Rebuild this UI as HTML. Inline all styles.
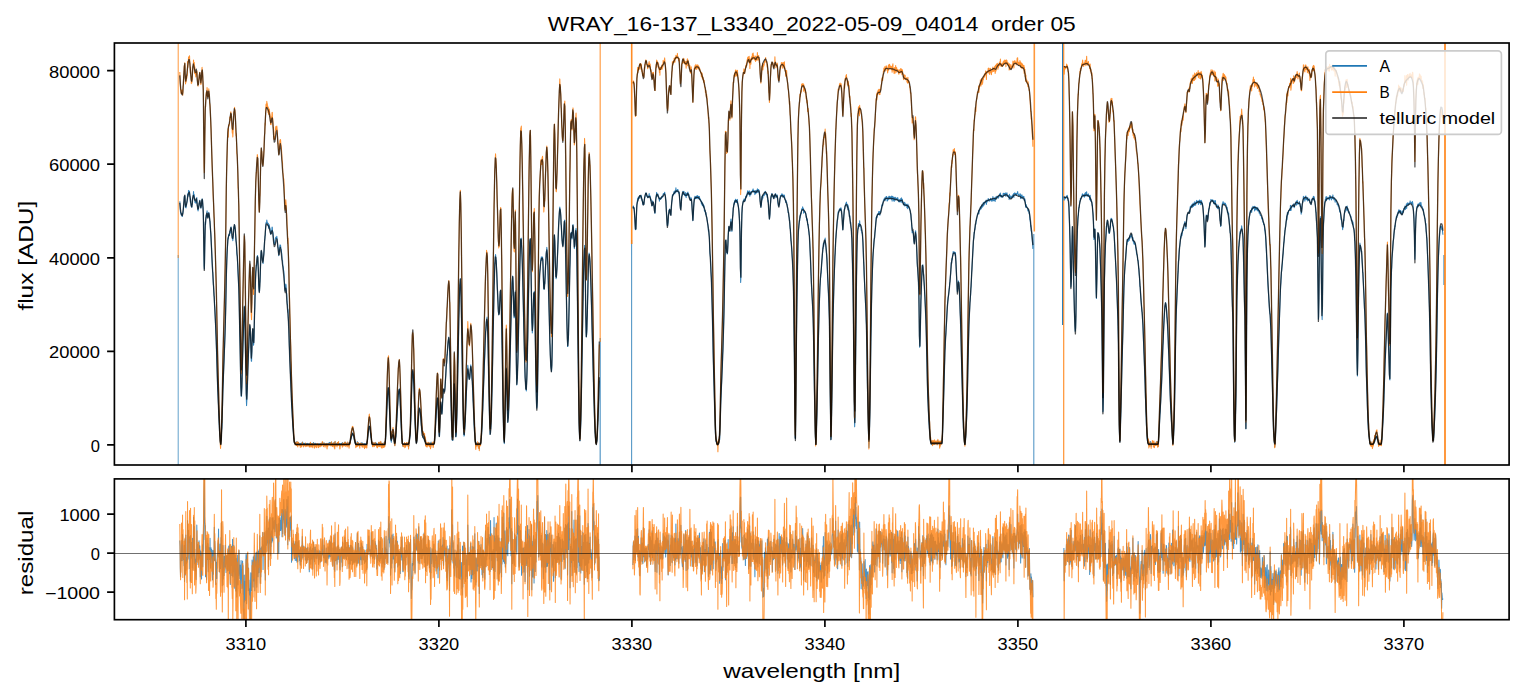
<!DOCTYPE html>
<html><head><meta charset="utf-8"><title>plot</title><style>html,body{margin:0;padding:0;background:#fff;overflow:hidden}svg{display:block}</style></head><body>
<svg width="1523" height="696" viewBox="0 0 1523 696" font-family="'Liberation Sans', sans-serif" fill="#000">
<rect width="1523" height="696" fill="#fff"/>
<defs><clipPath id="cm"><rect x="114.4" y="43.0" width="1394.6999999999998" height="422.0"/></clipPath><clipPath id="cr"><rect x="114.4" y="478.9" width="1394.6999999999998" height="140.80000000000007"/></clipPath></defs>
<g clip-path="url(#cm)" fill="none" stroke-linejoin="round">
<line x1="178.2" y1="255" x2="178.2" y2="465.0" stroke="#1f77b4" stroke-width="1.0" opacity="0.7"/><line x1="178.2" y1="43.0" x2="178.2" y2="258" stroke="#ff7f0e" stroke-width="1.0" opacity="0.8"/><line x1="600.2" y1="338" x2="600.2" y2="465.0" stroke="#1f77b4" stroke-width="1.25" opacity="0.72"/><line x1="600.2" y1="43.0" x2="600.2" y2="342" stroke="#ff7f0e" stroke-width="1.25" opacity="0.72"/><line x1="631.6" y1="240" x2="631.6" y2="465.0" stroke="#1f77b4" stroke-width="1.1" opacity="0.75"/><line x1="631.7" y1="43.0" x2="631.7" y2="244" stroke="#ff7f0e" stroke-width="1.6" opacity="0.9"/><line x1="1033.8" y1="234" x2="1033.8" y2="465.0" stroke="#1f77b4" stroke-width="1.1" opacity="0.75"/><line x1="1034.3" y1="43.0" x2="1034.3" y2="231.5" stroke="#ff7f0e" stroke-width="1.6" opacity="0.8"/><line x1="1062.6" y1="43.0" x2="1062.6" y2="325" stroke="#1f77b4" stroke-width="1.2" opacity="0.95"/><line x1="1063.7" y1="43.0" x2="1063.7" y2="465.0" stroke="#ff7f0e" stroke-width="1.2" opacity="0.85"/><line x1="1443.9" y1="255" x2="1443.9" y2="285" stroke="#1f77b4" stroke-width="1.25" opacity="0.72"/><line x1="1445.0" y1="43.0" x2="1445.0" y2="465.0" stroke="#ff7f0e" stroke-width="1.6" opacity="1.0"/>
<g stroke="#1f77b4" stroke-width="1.05" opacity="0.9"><path d="M179.8,201.4L180.05,204.9L180.3,209.9L180.55,213L180.8,212.7L181.05,214.1L181.3,215L181.55,214L181.8,213.8L182.05,216.3L182.3,216.5L182.55,213.1L182.8,213.4L183.05,211.7L183.3,209.4L183.55,206.7L183.8,203.2L184.05,201.3L184.3,196.4L184.55,199.1L184.8,195.5L185.05,196.8L185.3,207.2L185.55,207.3L185.8,204.4L186.05,208L186.3,205.5L186.55,205L186.8,202.8L187.05,202L187.3,200.2L187.55,193.9L187.8,196.4L188.05,195.9L188.3,194.5L188.55,190.4L188.8,191.2L189.05,190.9L189.3,191.2L189.55,191.4L189.8,196.7L190.05,196.4L190.3,202.1L190.55,198.7L190.8,203.4L191.05,204.6L191.3,206.4L191.55,205.5L191.8,207.4L192.05,204.5L192.3,204.5L192.55,198.1L192.8,199.3L193.05,196.7L193.3,194.7L193.55,191.5L193.8,196.7L194.05,195.5L194.3,194.8L194.55,200.2L194.8,199.3L195.05,202.6L195.3,201.7L195.55,202L195.8,203.2L196.05,202.6L196.3,198.8L196.55,200.3L196.8,197.6L197.05,202.2L197.3,205.8L197.55,206.7L197.8,209.1L198.05,210.9L198.3,209.3L198.55,208.6L198.8,206.1L199.05,203L199.3,203.5L199.55,200.8L199.8,200.2L200.05,202.2L200.3,206.2L200.55,205.7L200.8,207.7L201.05,208.1L201.3,205.7L201.55,205.9L201.8,200.9L202.05,198.8L202.3,200.4L202.55,200.1L202.8,205.8L203.05,207.4L203.3,213.7L203.55,222.6L203.8,244.2L204.05,265.9L204.3,269.1L204.55,262.5L204.8,244.3L205.05,230.2L205.3,221.9L205.55,224.7L205.8,218.4L206.05,217.2L206.3,214.9L206.55,217.1L206.8,213.6L207.05,210.7L207.3,213L207.55,217.2L207.8,217L208.05,216.2L208.3,217.3L208.55,214.2L208.8,212.4L209.05,213.6L209.3,216.3L209.55,218.3L209.8,221L210.05,221.4L210.3,227.4L210.55,231.1L210.8,233.8L211.05,237.4L211.3,243.8L211.55,248.6L211.8,254.7L212.05,260.9L212.3,266.6L212.55,271.8L212.8,272.7L213.05,278.9L213.3,284.3L213.55,286L213.8,291.4L214.05,295.4L214.3,296.8L214.55,305.3L214.8,307.6L215.05,312.9L215.3,319.1L215.55,324.7L215.8,332.7L216.05,336.9L216.3,344.4L216.55,350.7L216.8,361.1L217.05,367.7L217.3,375.6L217.55,383.8L217.8,390.2L218.05,395.6L218.3,401.7L218.55,405.8L218.8,415L219.05,420.4L219.3,425.8L219.55,433.1L219.8,435.6L220.05,437.8L220.3,442.8L220.55,445.1L220.8,444.8L221.05,440.8L221.3,440L221.55,430.4L221.8,428.3L222.05,421.9L222.3,414.8L222.55,405L222.8,392.4L223.05,384.3L223.3,380.9L223.55,372.7L223.8,366L224.05,361.3L224.3,352.8L224.55,347.3L224.8,339.7L225.05,333.5L225.3,322.9L225.55,315.1L225.8,304.2L226.05,291.3L226.3,276.4L226.55,268.3L226.8,260.5L227.05,253.8L227.3,249.2L227.55,245.5L227.8,241.3L228.05,237.8L228.3,239L228.55,235.8L228.8,234.4L229.05,234.9L229.3,235.1L229.55,235.6L229.8,231L230.05,231.5L230.3,233.1L230.55,228.7L230.8,228.8L231.05,226.8L231.3,227.7L231.55,229.2L231.8,235.3L232.05,236.7L232.3,238.9L232.55,236.7L232.8,240.8L233.05,238.3L233.3,235.9L233.55,232L233.8,226.9L234.05,226.7L234.3,228.5L234.55,224.5L234.8,226.4L235.05,227.2L235.3,229.5L235.55,234.8L235.8,239.8L236.05,241.8L236.3,242.7L236.55,247.5L236.8,254L237.05,255.1L237.3,256.4L237.55,262.2L237.8,267.7L238.05,273.7L238.3,278L238.55,284.1L238.8,288.5L239.05,296.5L239.3,310.1L239.55,323L239.8,336.3L240.05,346.1L240.3,359.3L240.55,375.3L240.8,386.4L241.05,392.5L241.3,396.4L241.55,395.4L241.8,388.6L242.05,381.7L242.3,371.4L242.55,358.5L242.8,351.5L243.05,342.8L243.3,337L243.55,327.1L243.8,321.1L244.05,315.6L244.3,306.1L244.55,309.5L244.8,315.6L245.05,327.6L245.3,344.7L245.55,356.3L245.8,367.9L246.05,381L246.3,398.2L246.55,405.6L246.8,400.9L247.05,394.5L247.3,387.3L247.55,380.1L247.8,371.7L248.05,365.5L248.3,360.2L248.55,351.5L248.8,346.9L249.05,340L249.3,334.9L249.55,329.9L249.8,325.3L250.05,327.4L250.3,332.5L250.55,337L250.8,345.9L251.05,355.1L251.3,361.1L251.55,361.3L251.8,354.9L252.05,343.4L252.3,336.9L252.55,329.5L252.8,329.1L253.05,337.2L253.3,340.5L253.55,345.3L253.8,342.5L254.05,337.3L254.3,323.2L254.55,313.6L254.8,307.4L255.05,295.9L255.3,285.1L255.55,277.7L255.8,271.9L256.05,269.6L256.3,265L256.55,265.7L256.8,264L257.05,258.8L257.3,256.2L257.55,255.5L257.8,258.4L258.05,264.8L258.3,269L258.55,278.9L258.8,287.1L259.05,290.6L259.3,291.9L259.55,290.8L259.8,283.7L260.05,281.4L260.3,275L260.55,264.3L260.8,259.8L261.05,251.6L261.3,250.9L261.55,251.2L261.8,253.1L262.05,257.2L262.3,259.7L262.55,261.1L262.8,260L263.05,263.6L263.3,259.2L263.55,256.5L263.8,254.6L264.05,250.8L264.3,244.7L264.55,240.9L264.8,239.2L265.05,236.1L265.3,235.4L265.55,228.6L265.8,224.9L266.05,222.5L266.3,223.3L266.55,223.3L266.8,220L267.05,221.9L267.3,222.1L267.55,223.9L267.8,223.9L268.05,225.6L268.3,223.2L268.55,228.3L268.8,225.2L269.05,227.7L269.3,224.7L269.55,226.7L269.8,229.8L270.05,227.9L270.3,231.8L270.55,234.3L270.8,233.8L271.05,233.9L271.3,231.8L271.55,230.3L271.8,230.6L272.05,227L272.3,227.3L272.55,231.3L272.8,231.8L273.05,232.9L273.3,236L273.55,238.6L273.8,241.6L274.05,243.5L274.3,244.3L274.55,243.5L274.8,244.4L275.05,242.1L275.3,238.6L275.55,238.6L275.8,237.2L276.05,238.1L276.3,238.6L276.55,237.6L276.8,236.3L277.05,238.5L277.3,239.6L277.55,242.7L277.8,247.2L278.05,247.3L278.3,248.8L278.55,252.1L278.8,255.7L279.05,251.9L279.3,252.4L279.55,249.4L279.8,246L280.05,244.8L280.3,245.7L280.55,245.2L280.8,247.7L281.05,248.9L281.3,249.8L281.55,252.6L281.8,253.7L282.05,259.4L282.3,260.3L282.55,260.6L282.8,265.6L283.05,266L283.3,267.3L283.55,270.6L283.8,270.7L284.05,274.4L284.3,279.5L284.55,283.7L284.8,288.7L285.05,291.2L285.3,288.3L285.55,288.8L285.8,284.1L286.05,285.3L286.3,289.2L286.55,293.2L286.8,294.8L287.05,301.4L287.3,304.2L287.55,305L287.8,312.3L288.05,309.5L288.3,317.9L288.55,321.9L288.8,327.4L289.05,335.4L289.3,345.3L289.55,350.4L289.8,359.3L290.05,364L290.3,370.2L290.55,375.8L290.8,381.9L291.05,389.1L291.3,392.9L291.55,403.6L291.8,407.5L292.05,410.7L292.3,416.2L292.55,419.8L292.8,424.4L293.05,428L293.3,430.9L293.55,434.8L293.8,437.4L294.05,441L294.3,442.9L294.55,441.9L294.8,442.1L295.05,443.2L295.3,444.8L295.55,442.6L295.8,443.8L296.05,444L296.3,443.5L296.55,444.9L296.8,441.5L297.05,445.1L297.3,443L297.55,444L297.8,445L298.05,442.7L298.3,444.5L298.55,442.5L298.8,443.5L299.05,444.2L299.3,443.7L299.55,444.9L299.8,443.7L300.05,445.2L300.3,445.5L300.55,443.4L300.8,444L301.05,444.3L301.3,445L301.55,444.6L301.8,443.1L302.05,443.5L302.3,442L302.55,442.9L302.8,444.6L303.05,444.5L303.3,444.2L303.55,444.1L303.8,443.1L304.05,444.1L304.3,443.9L304.55,443.5L304.8,444L305.05,443.9L305.3,444.8L305.55,443.3L305.8,444.1L306.05,443.6L306.3,444.7L306.55,445.2L306.8,443.4L307.05,443.5L307.3,443.6L307.55,444.8L307.8,443.3L308.05,444L308.3,444.2L308.55,444.5L308.8,444L309.05,443.8L309.3,446.2L309.55,443.8L309.8,443.4L310.05,444.8L310.3,443.9L310.55,443.2L310.8,445.3L311.05,443.6L311.3,443.7L311.55,444.1L311.8,444.7L312.05,443.9L312.3,443.5L312.55,443.4L312.8,445.9L313.05,444.9L313.3,444.5L313.55,442.6L313.8,444.4L314.05,443.3L314.3,444.2L314.55,445L314.8,444L315.05,444.6L315.3,443.3L315.55,444L315.8,444.2L316.05,443.6L316.3,444.6L316.55,444.2L316.8,444.7L317.05,444.3L317.3,443.7L317.55,443.8L317.8,443.9L318.05,444.1L318.3,444.7L318.55,445.4L318.8,443.8L319.05,443.7L319.3,443.8L319.55,444.1L319.8,444.8L320.05,444.6L320.3,445.1L320.55,443.8L320.8,445L321.05,444.9L321.3,444.9L321.55,444.2L321.8,443.5L322.05,443.1L322.3,442.5L322.55,444.2L322.8,442.4L323.05,444.3L323.3,444.1L323.55,444.5L323.8,443.7L324.05,444.6L324.3,443L324.55,443.3L324.8,443.8L325.05,445.1L325.3,444.3L325.55,444.1L325.8,445L326.05,444.4L326.3,443.4L326.55,444.7L326.8,445.2L327.05,444.8L327.3,444.3L327.55,443.9L327.8,444.5L328.05,443.2L328.3,443.9L328.55,443.8L328.8,444.7L329.05,444L329.3,442.4L329.55,442.8L329.8,443.3L330.05,444.4L330.3,443.8L330.55,442.6L330.8,444.4L331.05,443.6L331.3,444.2L331.55,442L331.8,444L332.05,444.8L332.3,444.8L332.55,444.4L332.8,445.5L333.05,443.4L333.3,444.7L333.55,443.6L333.8,442.9L334.05,442.7L334.3,445.9L334.55,445.3L334.8,446.1L335.05,441.6L335.3,444L335.55,444.3L335.8,444.9L336.05,443.3L336.3,444.1L336.55,444.2L336.8,444.5L337.05,445.3L337.3,443.8L337.55,443.1L337.8,444.4L338.05,444.7L338.3,443L338.55,443.3L338.8,443.5L339.05,443.8L339.3,445.1L339.55,443.5L339.8,445.6L340.05,446L340.3,444.5L340.55,444.3L340.8,443.6L341.05,443.7L341.3,443.2L341.55,443.5L341.8,445L342.05,443.8L342.3,445.6L342.55,442.6L342.8,444.6L343.05,443.9L343.3,443.5L343.55,444.4L343.8,443.7L344.05,444.6L344.3,443.7L344.55,443.1L344.8,442.1L345.05,443.9L345.3,444.6L345.55,442.5L345.8,444.3L346.05,443.7L346.3,443.3L346.55,444.7L346.8,443.2L347.05,444.3L347.3,444.3L347.55,444.2L347.8,442.6L348.05,443.3L348.3,443.6L348.55,444.7L348.8,443L349.05,445.8L349.3,445L349.55,443L349.8,443.1L350.05,443.2L350.3,442.7L350.55,439.5L350.8,438.5L351.05,439.1L351.3,436.2L351.55,437L351.8,435.4L352.05,434.5L352.3,433.1L352.55,435L352.8,432.9L353.05,433.9L353.3,435.7L353.55,435.6L353.8,436.4L354.05,438.6L354.3,439.9L354.55,440.4L354.8,441L355.05,443.3L355.3,442.7L355.55,442.4L355.8,444.9L356.05,443.7L356.3,444L356.55,444L356.8,445.5L357.05,443.6L357.3,441.6L357.55,444.2L357.8,445.1L358.05,443.2L358.3,445.2L358.55,442.8L358.8,443.6L359.05,444.5L359.3,444.3L359.55,445.1L359.8,445.4L360.05,443.3L360.3,444.7L360.55,443.6L360.8,443.3L361.05,444.8L361.3,442.8L361.55,443.1L361.8,444.6L362.05,445.3L362.3,443.1L362.55,444.1L362.8,443.2L363.05,444.4L363.3,444.8L363.55,444.7L363.8,444.3L364.05,444.3L364.3,443.8L364.55,445.2L364.8,444.5L365.05,443.6L365.3,445L365.55,445L365.8,444.3L366.05,444.5L366.3,444.5L366.55,444.2L366.8,445.7L367.05,441.6L367.3,441.9L367.55,439.7L367.8,436.4L368.05,434.2L368.3,432.2L368.55,429.8L368.8,426.4L369.05,426.9L369.3,426.3L369.55,426.1L369.8,427L370.05,429L370.3,430.3L370.55,433.1L370.8,435.3L371.05,437.8L371.3,437.2L371.55,441L371.8,443.1L372.05,442.3L372.3,443L372.55,444.5L372.8,444.6L373.05,442.4L373.3,443.9L373.55,444.2L373.8,444.1L374.05,444.5L374.3,443.7L374.55,444.7L374.8,444.5L375.05,442.6L375.3,443.1L375.55,442.8L375.8,443.4L376.05,443L376.3,443.5L376.55,443.4L376.8,445.9L377.05,445.5L377.3,444.2L377.55,445.1L377.8,444.4L378.05,444.6L378.3,444.9L378.55,442.4L378.8,444L379.05,444.6L379.3,444L379.55,445L379.8,442.6L380.05,444.9L380.3,443.7L380.55,444.6L380.8,442.1L381.05,443.7L381.3,444.6L381.55,443.7L381.8,444.3L382.05,445.6L382.3,443.9L382.55,443.4L382.8,445.2L383.05,444.6L383.3,444.3L383.55,444.7L383.8,444.8L384.05,445.9L384.3,442.1L384.55,443.2L384.8,445.3L385.05,444L385.3,441.6L385.55,439.9L385.8,435.2L386.05,427.5L386.3,423.4L386.55,417.1L386.8,411.3L387.05,406.3L387.3,400.6L387.55,395.5L387.8,392.6L388.05,387.6L388.3,387.7L388.55,388.7L388.8,392.2L389.05,398.4L389.3,403.5L389.55,411L389.8,416L390.05,423.5L390.3,428.4L390.55,438L390.8,440.1L391.05,440.5L391.3,442.2L391.55,438.7L391.8,436.6L392.05,438.8L392.3,436.1L392.55,435.1L392.8,434L393.05,432.2L393.3,435.9L393.55,434.7L393.8,437.9L394.05,439.2L394.3,443.5L394.55,443.6L394.8,445.6L395.05,443.7L395.3,442.5L395.55,437.9L395.8,436.9L396.05,433.2L396.3,429.2L396.55,422.6L396.8,420.4L397.05,414.8L397.3,409.4L397.55,406L397.8,403.8L398.05,399.1L398.3,394.7L398.55,393.1L398.8,391L399.05,390.7L399.3,389L399.55,391.1L399.8,395.2L400.05,398.7L400.3,405.8L400.55,409L400.8,414.7L401.05,421L401.3,428.1L401.55,431.6L401.8,438.7L402.05,439.5L402.3,443.3L402.55,444.1L402.8,446.1L403.05,446.2L403.3,445.3L403.55,445.3L403.8,444L404.05,444L404.3,444.2L404.55,443.3L404.8,444.9L405.05,444.9L405.3,445.9L405.55,444.6L405.8,443.6L406.05,443.9L406.3,444.4L406.55,443L406.8,443.6L407.05,443.5L407.3,444L407.55,444.2L407.8,443.8L408.05,445.3L408.3,442.5L408.55,446.6L408.8,445.6L409.05,445.6L409.3,442.4L409.55,439.4L409.8,436.9L410.05,436L410.3,432L410.55,424.3L410.8,419.2L411.05,410.8L411.3,402.9L411.55,392.6L411.8,385.6L412.05,379.6L412.3,373.2L412.55,371.1L412.8,370.8L413.05,372.2L413.3,374.4L413.55,380.7L413.8,383.3L414.05,389.9L414.3,399L414.55,405.4L414.8,415.7L415.05,423.5L415.3,427.5L415.55,433.1L415.8,437.1L416.05,439.5L416.3,441.8L416.55,442.7L416.8,439.5L417.05,439.3L417.3,434.1L417.55,432.4L417.8,428.2L418.05,422.9L418.3,421.2L418.55,414.9L418.8,409.7L419.05,411.3L419.3,408.9L419.55,407.8L419.8,410.2L420.05,409.3L420.3,412.1L420.55,413.3L420.8,418.3L421.05,421.7L421.3,425.3L421.55,426.2L421.8,431.1L422.05,432.8L422.3,435.7L422.55,435.8L422.8,436.8L423.05,437.6L423.3,435.9L423.55,438.2L423.8,437L424.05,436.4L424.3,440.4L424.55,437.7L424.8,441.4L425.05,441.4L425.3,440.1L425.55,444.9L425.8,442.5L426.05,443.7L426.3,443.3L426.55,444.1L426.8,443.2L427.05,445.4L427.3,443.3L427.55,445.2L427.8,444L428.05,444.2L428.3,443.5L428.55,442.3L428.8,443L429.05,444.7L429.3,445L429.55,445.7L429.8,443.5L430.05,443L430.3,443.3L430.55,445.9L430.8,443.8L431.05,442L431.3,443.3L431.55,444.3L431.8,443.5L432.05,443.2L432.3,444.3L432.55,443.5L432.8,444.5L433.05,445L433.3,445.5L433.55,443.4L433.8,442.8L434.05,442.8L434.3,443.9L434.55,442.9L434.8,438.3L435.05,435.5L435.3,430.8L435.55,425.2L435.8,421.2L436.05,418L436.3,411.6L436.55,407.6L436.8,403.4L437.05,400.6L437.3,399.8L437.55,397.7L437.8,399.5L438.05,406.9L438.3,410.2L438.55,420.7L438.8,428.4L439.05,434.1L439.3,436.5L439.55,435.9L439.8,426.8L440.05,419.2L440.3,409.1L440.55,403.7L440.8,402.5L441.05,404.4L441.3,407.1L441.55,411.9L441.8,413.8L442.05,413.2L442.3,409.2L442.55,402.3L442.8,397.9L443.05,390.5L443.3,390L443.55,389.4L443.8,389.6L444.05,391.3L444.3,391.4L444.55,391.4L444.8,389.3L445.05,387.2L445.3,382.3L445.55,378.2L445.8,374.9L446.05,368.9L446.3,365L446.55,364.2L446.8,361.9L447.05,354.6L447.3,355.2L447.55,350.8L447.8,346L448.05,342.6L448.3,340.8L448.55,339.5L448.8,337L449.05,339.6L449.3,343L449.55,350.5L449.8,352.1L450.05,361.1L450.3,372.4L450.55,382L450.8,392.9L451.05,402.8L451.3,414.3L451.55,423.5L451.8,428.1L452.05,439.3L452.3,440.1L452.55,440.2L452.8,440.5L453.05,433.9L453.3,420.8L453.55,410.5L453.8,400.2L454.05,390.4L454.3,383.9L454.55,387.7L454.8,393.4L455.05,408.4L455.3,422.2L455.55,432.3L455.8,437L456.05,436.3L456.3,433.8L456.55,424.5L456.8,417.3L457.05,406.3L457.3,397.2L457.55,382.5L457.8,370L458.05,360.7L458.3,346.7L458.55,333.4L458.8,318.1L459.05,311.8L459.3,301L459.55,292.9L459.8,285.3L460.05,283.6L460.3,278.5L460.55,283.8L460.8,288.7L461.05,297L461.3,307.4L461.55,321.2L461.8,337.1L462.05,351.3L462.3,369.6L462.55,380L462.8,400.2L463.05,409.7L463.3,422.1L463.55,429.4L463.8,432.7L464.05,436.1L464.3,435.6L464.55,430.8L464.8,428.2L465.05,423.2L465.3,421.5L465.55,413.2L465.8,408L466.05,402.2L466.3,393.3L466.55,389L466.8,382.3L467.05,378.3L467.3,375.9L467.55,370.9L467.8,365.3L468.05,367.7L468.3,371.1L468.55,373.7L468.8,377.4L469.05,378.7L469.3,379.1L469.55,378.9L469.8,378.1L470.05,374.1L470.3,369.4L470.55,366.9L470.8,364.9L471.05,369.7L471.3,369.5L471.55,370L471.8,374.7L472.05,380L472.3,380.7L472.55,386.7L472.8,393L473.05,400.5L473.3,403.2L473.55,410.2L473.8,415L474.05,424.5L474.3,428.1L474.55,432.7L474.8,433.3L475.05,441.4L475.3,441.5L475.55,444.3L475.8,445.7L476.05,442.8L476.3,442.7L476.55,443.6L476.8,445.5L477.05,445.4L477.3,445.9L477.55,443.4L477.8,444.1L478.05,443.6L478.3,445.4L478.55,445.3L478.8,442.4L479.05,444.2L479.3,448.6L479.55,444.5L479.8,444.3L480.05,444L480.3,443.5L480.55,442.9L480.8,444.1L481.05,439.7L481.3,437.9L481.55,434.9L481.8,430.8L482.05,427.1L482.3,419.7L482.55,412.5L482.8,409.3L483.05,399.5L483.3,393.3L483.55,385.4L483.8,379.2L484.05,373.8L484.3,365L484.55,359.5L484.8,354.4L485.05,346.5L485.3,337.5L485.55,331.5L485.8,330.7L486.05,327.4L486.3,322.3L486.55,319.5L486.8,319.9L487.05,317L487.3,321.7L487.55,326.1L487.8,334.2L488.05,343.1L488.3,356.1L488.55,369.4L488.8,383.2L489.05,394.7L489.3,409.4L489.55,417.6L489.8,425.1L490.05,434.5L490.3,433.4L490.55,429.1L490.8,428.5L491.05,421.8L491.3,415.8L491.55,409.2L491.8,398.1L492.05,388.9L492.3,377.2L492.55,364.8L492.8,350L493.05,337L493.3,326.8L493.55,314.6L493.8,302.9L494.05,285.7L494.3,283.3L494.55,270.9L494.8,262.9L495.05,262.1L495.3,257.1L495.55,254.5L495.8,256.5L496.05,259.9L496.3,260.5L496.55,268L496.8,273.1L497.05,280.9L497.3,288.1L497.55,291.6L497.8,297.2L498.05,302.5L498.3,312.3L498.55,312.7L498.8,314.9L499.05,313.2L499.3,313.8L499.55,310.5L499.8,302.3L500.05,295.4L500.3,291.5L500.55,290L500.8,291.8L501.05,298.1L501.3,302.6L501.55,318.6L501.8,327.4L502.05,345.3L502.3,355.4L502.55,372.6L502.8,388.6L503.05,406.7L503.3,415.5L503.55,430.9L503.8,433L504.05,441L504.3,443.6L504.55,437.8L504.8,429.7L505.05,413.8L505.3,405.1L505.55,391.7L505.8,380.9L506.05,372.1L506.3,367.7L506.55,369.9L506.8,380.9L507.05,395.7L507.3,407.3L507.55,415.4L507.8,422.4L508.05,419.4L508.3,416.9L508.55,411.4L508.8,406.4L509.05,397.2L509.3,390.1L509.55,382.6L509.8,368.4L510.05,358.5L510.3,347.4L510.55,336.9L510.8,326.7L511.05,317.7L511.3,305.2L511.55,296.2L511.8,295.3L512.05,282.8L512.3,280.8L512.55,276L512.8,278L513.05,281.6L513.3,290.3L513.55,302.9L513.8,312.5L514.05,317.7L514.3,317.7L514.55,307.7L514.8,301.7L515.05,294.7L515.3,290.8L515.55,298.6L515.8,316.1L516.05,336.8L516.3,358.6L516.55,376L516.8,384.9L517.05,382.2L517.3,377.7L517.55,369.5L517.8,362.9L518.05,354.9L518.3,341.1L518.55,327.2L518.8,318.2L519.05,305.4L519.3,287.6L519.55,280.2L519.8,267.5L520.05,257.1L520.3,248.8L520.55,240.3L520.8,238.9L521.05,238.4L521.3,238.2L521.55,245.8L521.8,249.2L522.05,254.7L522.3,262.3L522.55,272.6L522.8,283.2L523.05,293.4L523.3,302.7L523.55,314.6L523.8,327.9L524.05,335.9L524.3,347L524.55,358.2L524.8,365.6L525.05,377.3L525.3,379.6L525.55,383L525.8,388.9L526.05,389.2L526.3,391L526.55,384.3L526.8,378.2L527.05,370.9L527.3,359.1L527.55,343.4L527.8,338L528.05,318.3L528.3,306.5L528.55,290.9L528.8,279L529.05,264.6L529.3,258.2L529.55,251.3L529.8,240.3L530.05,239.3L530.3,238.8L530.55,245.2L530.8,257.1L531.05,269.6L531.3,286L531.55,300.3L531.8,321.8L532.05,325.5L532.3,332.9L532.55,329.6L532.8,325.9L533.05,314.9L533.3,305.9L533.55,297.5L533.8,292.5L534.05,294.5L534.3,291.3L534.55,300.3L534.8,310.4L535.05,321.2L535.3,340.2L535.55,352.6L535.8,370.2L536.05,385.4L536.3,394.4L536.55,406L536.8,408.3L537.05,406.2L537.3,400.5L537.55,388.1L537.8,369L538.05,352.3L538.3,332L538.55,315.9L538.8,300L539.05,288L539.3,278.6L539.55,274L539.8,270.8L540.05,269.7L540.3,266.9L540.55,263L540.8,259.9L541.05,259.7L541.3,256.8L541.55,260.1L541.8,260.1L542.05,259L542.3,257.6L542.55,257L542.8,260.2L543.05,266.3L543.3,277.2L543.55,284.6L543.8,289.3L544.05,289L544.3,289.1L544.55,281.9L544.8,284L545.05,278.9L545.3,274.1L545.55,264.8L545.8,264.2L546.05,256.7L546.3,251.4L546.55,252.7L546.8,247.4L547.05,249.9L547.3,254.4L547.55,260.2L547.8,262.5L548.05,269.9L548.3,281.4L548.55,290.7L548.8,299.1L549.05,308.5L549.3,316.6L549.55,328.5L549.8,342.5L550.05,345.5L550.3,354.5L550.55,359.8L550.8,366.2L551.05,368.3L551.3,369.7L551.55,371.5L551.8,365.9L552.05,357.1L552.3,342.5L552.55,327.4L552.8,309.1L553.05,294.4L553.3,277.2L553.55,264.7L553.8,248.1L554.05,238.4L554.3,235.7L554.55,235.1L554.8,241.1L555.05,250.1L555.3,263.6L555.55,269.2L555.8,275.3L556.05,278.8L556.3,277.5L556.55,275.8L556.8,270.8L557.05,267L557.3,258.3L557.55,254.8L557.8,248L558.05,241.6L558.3,233.3L558.55,225.5L558.8,222.3L559.05,218.5L559.3,214.3L559.55,208.7L559.8,207L560.05,209.3L560.3,210.6L560.55,212.3L560.8,215.3L561.05,224.3L561.3,225.3L561.55,231.5L561.8,236L562.05,240.5L562.3,241.3L562.55,245.1L562.8,245.5L563.05,246L563.3,241.3L563.55,237.6L563.8,232L564.05,225.4L564.3,222.4L564.55,220.1L564.8,220.3L565.05,231.5L565.3,237.2L565.55,246.8L565.8,260.7L566.05,274.8L566.3,291.4L566.55,302L566.8,317.9L567.05,328.2L567.3,334.6L567.55,346.5L567.8,346.4L568.05,342L568.3,339.9L568.55,334.9L568.8,319.8L569.05,309.3L569.3,296.6L569.55,282.9L569.8,268.3L570.05,263.3L570.3,248.3L570.55,241.9L570.8,233.6L571.05,233L571.3,232.3L571.55,236.9L571.8,232.9L572.05,239.1L572.3,232.4L572.55,229.3L572.8,225.6L573.05,224.6L573.3,228.2L573.55,231L573.8,236.1L574.05,239.8L574.3,248.6L574.55,246.7L574.8,246.6L575.05,239.5L575.3,239.3L575.55,231.6L575.8,229.5L576.05,228.4L576.3,232.1L576.55,244.5L576.8,254.3L577.05,271.9L577.3,287.5L577.55,305.4L577.8,328.3L578.05,348.9L578.3,366.9L578.55,391L578.8,402.3L579.05,421.9L579.3,428.6L579.55,437.6L579.8,436.2L580.05,440.8L580.3,432.3L580.55,428.5L580.8,422.2L581.05,407.3L581.3,397.6L581.55,385.9L581.8,369.6L582.05,357.9L582.3,341.7L582.55,325.5L582.8,309.4L583.05,298.9L583.3,286.1L583.55,272.8L583.8,264L584.05,257.8L584.3,254.4L584.55,245.4L584.8,246.6L585.05,256.7L585.3,277L585.55,296.7L585.8,313.7L586.05,332.2L586.3,336.9L586.55,335.3L586.8,332L587.05,320.8L587.3,315.7L587.55,302.5L587.8,293.6L588.05,276.7L588.3,269.4L588.55,261.4L588.8,257.9L589.05,253L589.3,255.3L589.55,256.3L589.8,259L590.05,261.6L590.3,269.2L590.55,274.7L590.8,281.5L591.05,290L591.3,298.7L591.55,306.8L591.8,317.2L592.05,328.7L592.3,336.9L592.55,345.4L592.8,352.6L593.05,366L593.3,374.1L593.55,385L593.8,393.9L594.05,400.2L594.3,411.1L594.55,420.1L594.8,425.5L595.05,432.5L595.3,434.3L595.55,440.4L595.8,442.8L596.05,442.1L596.3,442.5L596.55,441.9L596.8,441L597.05,439.2L597.3,435.3L597.55,430.2L597.8,421.9L598.05,420.1L598.3,409.6L598.55,401.7L598.8,398.4L599.05,386.9L599.3,380.6"/><path d="M632.9,208.6L633.15,206.4L633.4,206L633.65,207.6L633.9,208.6L634.15,207.7L634.4,212L634.65,216L634.9,218.6L635.15,225.3L635.4,229.8L635.65,229.4L635.9,229L636.15,220.6L636.4,215.6L636.65,207.5L636.9,204.8L637.15,202.5L637.4,200.8L637.65,198.3L637.9,200.9L638.15,199L638.4,196.9L638.65,198.8L638.9,197.4L639.15,197.8L639.4,197.7L639.65,195.6L639.9,198.3L640.15,196.9L640.4,196.3L640.65,195.9L640.9,195.6L641.15,195.2L641.4,197L641.65,197.9L641.9,200.5L642.15,199.2L642.4,201.4L642.65,203.5L642.9,204.8L643.15,202.4L643.4,202L643.65,203.7L643.9,204.4L644.15,201.1L644.4,199.7L644.65,197L644.9,197.4L645.15,195.4L645.4,194.7L645.65,193.1L645.9,193.6L646.15,194.2L646.4,193.1L646.65,196.1L646.9,195.2L647.15,196.5L647.4,196.6L647.65,197.8L647.9,197.8L648.15,196.5L648.4,197L648.65,196L648.9,195.4L649.15,193.5L649.4,197L649.65,195.6L649.9,197L650.15,196L650.4,196.9L650.65,200.7L650.9,198.7L651.15,200.5L651.4,203.3L651.65,203.6L651.9,205.9L652.15,203.3L652.4,205.5L652.65,200.9L652.9,202.9L653.15,202.3L653.4,202.4L653.65,204L653.9,205.3L654.15,206.9L654.4,209.9L654.65,212.3L654.9,213.5L655.15,212.2L655.4,205.4L655.65,199.7L655.9,198.4L656.15,196.5L656.4,194.7L656.65,192.4L656.9,196.6L657.15,194.3L657.4,194.9L657.65,195L657.9,193.9L658.15,195.1L658.4,196.4L658.65,196.4L658.9,199.2L659.15,197.9L659.4,201.2L659.65,198.2L659.9,199.8L660.15,197.6L660.4,199.2L660.65,198.5L660.9,199.1L661.15,198.6L661.4,198.1L661.65,197.8L661.9,196.2L662.15,197.4L662.4,196.2L662.65,197L662.9,196.8L663.15,193.7L663.4,194.3L663.65,193.6L663.9,194.2L664.15,194.3L664.4,193.5L664.65,192.2L664.9,193.7L665.15,195.2L665.4,195.2L665.65,199L665.9,200.3L666.15,206.7L666.4,211.3L666.65,214.7L666.9,219L667.15,224.7L667.4,225.9L667.65,225.8L667.9,223.7L668.15,222L668.4,214.7L668.65,214.4L668.9,210.3L669.15,211.2L669.4,209.8L669.65,209L669.9,210.3L670.15,213.2L670.4,212.9L670.65,214.9L670.9,215.1L671.15,209.6L671.4,206.1L671.65,202.9L671.9,201.1L672.15,199.6L672.4,194.8L672.65,195.9L672.9,195.4L673.15,194.5L673.4,194.6L673.65,194.5L673.9,192.1L674.15,191.6L674.4,191.9L674.65,193.6L674.9,193.8L675.15,190.3L675.4,192L675.65,192.4L675.9,187.8L676.15,191L676.4,191.7L676.65,190.9L676.9,191.2L677.15,191.7L677.4,189.6L677.65,190.5L677.9,189.6L678.15,191.2L678.4,192.4L678.65,192.4L678.9,193.5L679.15,192L679.4,193.9L679.65,199.2L679.9,200.7L680.15,205.6L680.4,208.2L680.65,209.4L680.9,206.9L681.15,206.1L681.4,200.6L681.65,196.7L681.9,196.1L682.15,195.7L682.4,195L682.65,192.8L682.9,191.4L683.15,193.3L683.4,194.4L683.65,192.5L683.9,191.3L684.15,192.5L684.4,194.5L684.65,195.4L684.9,194.9L685.15,196L685.4,195.8L685.65,192.6L685.9,194.7L686.15,197.6L686.4,194L686.65,193.7L686.9,195.1L687.15,193.7L687.4,192.8L687.65,195.5L687.9,192L688.15,194.6L688.4,193.7L688.65,195.2L688.9,194.6L689.15,196.2L689.4,198.2L689.65,198.6L689.9,197.1L690.15,199.3L690.4,200.4L690.65,199.2L690.9,200.1L691.15,197.8L691.4,199.2L691.65,201L691.9,205.1L692.15,209.8L692.4,212.3L692.65,219.1L692.9,220.8L693.15,217.3L693.4,213.5L693.65,206.9L693.9,204.1L694.15,199.9L694.4,197.9L694.65,198.5L694.9,196.3L695.15,196.7L695.4,198.5L695.65,198.7L695.9,196.7L696.15,197.8L696.4,196.1L696.65,198.5L696.9,197L697.15,198.8L697.4,195.5L697.65,195.9L697.9,196.1L698.15,197.3L698.4,198.1L698.65,197.8L698.9,196.3L699.15,199.2L699.4,196.5L699.65,198.4L699.9,199.3L700.15,199.1L700.4,199L700.65,200.2L700.9,201.2L701.15,200.7L701.4,203.7L701.65,201.8L701.9,204.7L702.15,202.3L702.4,205.8L702.65,204.5L702.9,204.1L703.15,204L703.4,206L703.65,207.4L703.9,205.4L704.15,207.1L704.4,210.7L704.65,211.2L704.9,210.8L705.15,210.5L705.4,212.8L705.65,214.5L705.9,212.4L706.15,215.5L706.4,216.6L706.65,216.7L706.9,217.9L707.15,220.2L707.4,221.7L707.65,223.8L707.9,224.8L708.15,227.2L708.4,231.1L708.65,229.6L708.9,232.6L709.15,235L709.4,237L709.65,247.8L709.9,253.3L710.15,255.2L710.4,257.1L710.65,262.4L710.9,271.3L711.15,274.9L711.4,278.2L711.65,289.3L711.9,297.7L712.15,305.3L712.4,315.3L712.65,326.7L712.9,338L713.15,352.8L713.4,361.6L713.65,370.6L713.9,379.3L714.15,388.9L714.4,398.3L714.65,405.7L714.9,414.8L715.15,423.2L715.4,433L715.65,437L715.9,441.1L716.15,441.8L716.4,441.7L716.65,443.7L716.9,444.1L717.15,444.6L717.4,444.2L717.65,442.4L717.9,444.4L718.15,442.1L718.4,442.2L718.65,443.6L718.9,443L719.15,442L719.4,438.8L719.65,440.1L719.9,432.5L720.15,424.9L720.4,416.8L720.65,405L720.9,399.4L721.15,392.2L721.4,386.2L721.65,382.3L721.9,375.6L722.15,370L722.4,365.7L722.65,354.9L722.9,350.9L723.15,341.6L723.4,332.9L723.65,324.5L723.9,315L724.15,304.1L724.4,288.2L724.65,275.1L724.9,261.9L725.15,252.3L725.4,240.4L725.65,242L725.9,240.1L726.15,244.5L726.4,248.5L726.65,252.5L726.9,252.2L727.15,254.1L727.4,253.6L727.65,250.6L727.9,245.4L728.15,236.3L728.4,233.4L728.65,227.8L728.9,226.6L729.15,227.4L729.4,230.4L729.65,230.3L729.9,231.5L730.15,227L730.4,225L730.65,223.4L730.9,219L731.15,222.5L731.4,225.5L731.65,228.4L731.9,231.5L732.15,227.5L732.4,218.7L732.65,216.7L732.9,215.2L733.15,207.8L733.4,207.5L733.65,206.2L733.9,204.1L734.15,202.5L734.4,204.2L734.65,200.6L734.9,201.2L735.15,202L735.4,199.8L735.65,199.3L735.9,202.5L736.15,199.7L736.4,201.9L736.65,201.2L736.9,202.7L737.15,201.5L737.4,199.4L737.65,202.6L737.9,204.2L738.15,205.3L738.4,207L738.65,208.2L738.9,211.3L739.15,214.3L739.4,219.4L739.65,222L739.9,231.2L740.15,243.5L740.4,266.7L740.65,282.5L740.9,277L741.15,256.3L741.4,233.6L741.65,222L741.9,213.4L742.15,207.7L742.4,206L742.65,204.1L742.9,203.2L743.15,201.8L743.4,200.5L743.65,201.8L743.9,199.1L744.15,200.3L744.4,199.4L744.65,200.5L744.9,201.3L745.15,198.5L745.4,200.3L745.65,196.4L745.9,198L746.15,197.3L746.4,195.1L746.65,196.8L746.9,194.7L747.15,193.4L747.4,192.3L747.65,190.8L747.9,193.7L748.15,191.8L748.4,192.6L748.65,194.5L748.9,193.4L749.15,190.7L749.4,195L749.65,191.3L749.9,196.1L750.15,191.9L750.4,192.1L750.65,193.6L750.9,194.7L751.15,193.6L751.4,191.4L751.65,191.4L751.9,191.3L752.15,191.3L752.4,191.1L752.65,189.9L752.9,191.9L753.15,188.9L753.4,192.2L753.65,190.3L753.9,190.7L754.15,191.9L754.4,191.5L754.65,192.1L754.9,194.6L755.15,191.8L755.4,190.6L755.65,193.5L755.9,192.7L756.15,193.3L756.4,190.9L756.65,192.1L756.9,192.3L757.15,189.9L757.4,188.8L757.65,191.1L757.9,192.5L758.15,191.8L758.4,189.5L758.65,189.7L758.9,190.4L759.15,190.4L759.4,194.1L759.65,194.4L759.9,197.6L760.15,201.1L760.4,202.7L760.65,205.7L760.9,207.5L761.15,205L761.4,205.4L761.65,200.6L761.9,196.4L762.15,199.9L762.4,197L762.65,195.4L762.9,198.2L763.15,195.3L763.4,194.7L763.65,194.7L763.9,195.4L764.15,195.6L764.4,192L764.65,194.6L764.9,193.5L765.15,193.1L765.4,191.3L765.65,192.7L765.9,192.5L766.15,194.6L766.4,193.4L766.65,193.9L766.9,194.1L767.15,197.5L767.4,194.3L767.65,199.4L767.9,201.9L768.15,200.2L768.4,203.1L768.65,209.2L768.9,213.1L769.15,215.2L769.4,219.1L769.65,217.6L769.9,214.9L770.15,207.9L770.4,204.5L770.65,201.9L770.9,196.9L771.15,196.1L771.4,195.5L771.65,194.3L771.9,193.5L772.15,194.1L772.4,196.6L772.65,195.4L772.9,195.3L773.15,196.6L773.4,198.1L773.65,198.6L773.9,196.9L774.15,195.9L774.4,196.9L774.65,195.1L774.9,194.9L775.15,193.9L775.4,194.1L775.65,193.7L775.9,197.8L776.15,197.5L776.4,196.1L776.65,195.4L776.9,195.9L777.15,194.9L777.4,195.4L777.65,200.5L777.9,203.2L778.15,203.7L778.4,206.1L778.65,205.7L778.9,206.3L779.15,203.8L779.4,204.8L779.65,202.8L779.9,198.4L780.15,198.8L780.4,195.3L780.65,196.3L780.9,196.1L781.15,195.8L781.4,195.9L781.65,193.9L781.9,194.9L782.15,194.8L782.4,194.1L782.65,197.2L782.9,195.6L783.15,196.6L783.4,195.5L783.65,195L783.9,195.7L784.15,197.8L784.4,195.1L784.65,197.6L784.9,199.2L785.15,199.7L785.4,200.4L785.65,202.4L785.9,200.2L786.15,201.3L786.4,202.1L786.65,202.1L786.9,204L787.15,204.5L787.4,207.5L787.65,207.5L787.9,210L788.15,212.7L788.4,212.4L788.65,212.8L788.9,216.6L789.15,217.4L789.4,220.8L789.65,220.4L789.9,225.6L790.15,228.7L790.4,228.8L790.65,234.9L790.9,240.5L791.15,241.4L791.4,244.5L791.65,247.8L791.9,251.6L792.15,256.5L792.4,259.3L792.65,263.9L792.9,270.1L793.15,277.7L793.4,286.8L793.65,298.6L793.9,315.2L794.15,337.4L794.4,359.8L794.65,388.1L794.9,419.7L795.15,437.7L795.4,438.6L795.65,423.3L795.9,395.7L796.15,364.8L796.4,341.1L796.65,321.5L796.9,302.3L797.15,287.2L797.4,271.4L797.65,257.5L797.9,245.9L798.15,236.7L798.4,230L798.65,228.4L798.9,225.8L799.15,223.1L799.4,220.3L799.65,221L799.9,215.9L800.15,217.9L800.4,214.5L800.65,215.4L800.9,213.2L801.15,213L801.4,213.4L801.65,208.8L801.9,210.2L802.15,210.2L802.4,208.9L802.65,206.8L802.9,208.1L803.15,209.2L803.4,208.6L803.65,213.2L803.9,210L804.15,211.4L804.4,211.2L804.65,212.2L804.9,211.7L805.15,212L805.4,212.3L805.65,213.7L805.9,213.6L806.15,217.5L806.4,216.2L806.65,219.6L806.9,220.4L807.15,218.8L807.4,219.8L807.65,224.6L807.9,224.3L808.15,224.5L808.4,228L808.65,231.1L808.9,231.9L809.15,234.6L809.4,235.3L809.65,239.7L809.9,247.1L810.15,252.2L810.4,257.1L810.65,264.1L810.9,271.8L811.15,277L811.4,283.3L811.65,286.5L811.9,292.5L812.15,297.3L812.4,302.2L812.65,307.1L812.9,314L813.15,318.3L813.4,330.4L813.65,344L813.9,357.3L814.15,375.9L814.4,389.7L814.65,401.8L814.9,414.1L815.15,427.2L815.4,437.3L815.65,444.3L815.9,444.1L816.15,443L816.4,432.9L816.65,421.6L816.9,414.4L817.15,402.3L817.4,391L817.65,377.4L817.9,364.9L818.15,350.9L818.4,339L818.65,329L818.9,319.2L819.15,309.1L819.4,301.2L819.65,294.9L819.9,287.8L820.15,283.9L820.4,280L820.65,277L820.9,273.8L821.15,273.1L821.4,269.5L821.65,264.4L821.9,260.8L822.15,258.5L822.4,254.4L822.65,252L822.9,247.5L823.15,248.6L823.4,243.1L823.65,246.6L823.9,244L824.15,243.9L824.4,241.6L824.65,240L824.9,242.5L825.15,238L825.4,242.1L825.65,243.7L825.9,245.8L826.15,248.9L826.4,252.9L826.65,253.9L826.9,257.8L827.15,263.1L827.4,270.4L827.65,277.8L827.9,281.6L828.15,286.9L828.4,291.6L828.65,296.2L828.9,304.9L829.15,312.5L829.4,319.8L829.65,338.5L829.9,361.6L830.15,385.1L830.4,406.8L830.65,425.8L830.9,439.8L831.15,437.9L831.4,424.8L831.65,408.3L831.9,392.8L832.15,374.2L832.4,356.8L832.65,340.5L832.9,324.3L833.15,314.2L833.4,303.3L833.65,294.2L833.9,283.4L834.15,277.9L834.4,271L834.65,264.2L834.9,256.2L835.15,253.6L835.4,247.2L835.65,238.8L835.9,237.4L836.15,233.8L836.4,231.4L836.65,228.2L836.9,225.4L837.15,221.6L837.4,219.8L837.65,219.7L837.9,215.6L838.15,211.9L838.4,212.9L838.65,211.6L838.9,211.8L839.15,209.8L839.4,209.5L839.65,208.7L839.9,210.1L840.15,208.3L840.4,210.4L840.65,210L840.9,207.9L841.15,208.2L841.4,210.8L841.65,211.2L841.9,216.9L842.15,218.1L842.4,221.8L842.65,229.8L842.9,229.3L843.15,225.4L843.4,221.6L843.65,218.6L843.9,214.6L844.15,210.7L844.4,209L844.65,208.9L844.9,208.5L845.15,205.5L845.4,205.5L845.65,204.6L845.9,203.1L846.15,203.9L846.4,202.1L846.65,203.5L846.9,204.5L847.15,207.1L847.4,205.4L847.65,204.5L847.9,209.6L848.15,205.6L848.4,208.1L848.65,208.4L848.9,210.7L849.15,210.3L849.4,216.8L849.65,215.6L849.9,216.1L850.15,219.8L850.4,223.6L850.65,222L850.9,225.8L851.15,227.9L851.4,228.6L851.65,235.8L851.9,238.4L852.15,248.2L852.4,260.1L852.65,268.5L852.9,280L853.15,296.4L853.4,313.7L853.65,342.7L853.9,365.7L854.15,390.1L854.4,413.8L854.65,426.8L854.9,417.8L855.15,401.3L855.4,374.2L855.65,354.7L855.9,327.9L856.15,304.5L856.4,283.1L856.65,265.6L856.9,250.6L857.15,240.1L857.4,235.5L857.65,229.9L857.9,228.3L858.15,228.6L858.4,223.5L858.65,224.5L858.9,224.1L859.15,224L859.4,226.7L859.65,220.7L859.9,224L860.15,224L860.4,225.9L860.65,225.6L860.9,226.5L861.15,230.5L861.4,229.3L861.65,230.5L861.9,233.2L862.15,232.6L862.4,235.5L862.65,239.7L862.9,242.9L863.15,248.7L863.4,256.6L863.65,262.4L863.9,266.2L864.15,275L864.4,279.4L864.65,286.3L864.9,291.1L865.15,294.3L865.4,301L865.65,307.1L865.9,311.7L866.15,320.7L866.4,325.2L866.65,339.3L866.9,351.9L867.15,369.3L867.4,384.7L867.65,397.7L867.9,407.9L868.15,420.6L868.4,432.6L868.65,438.9L868.9,447.6L869.15,442.5L869.4,434L869.65,421.7L869.9,412.3L870.15,395L870.4,377.4L870.65,355.9L870.9,337.5L871.15,324.2L871.4,307.6L871.65,296.7L871.9,284.7L872.15,279.6L872.4,271.9L872.65,262.5L872.9,256.8L873.15,252.7L873.4,250.8L873.65,246.7L873.9,243.3L874.15,239.5L874.4,238.3L874.65,238.2L874.9,232.9L875.15,230.8L875.4,229L875.65,224.7L875.9,221.3L876.15,217.2L876.4,217.4L876.65,216.2L876.9,217.8L877.15,216.6L877.4,214.1L877.65,214.8L877.9,213.9L878.15,213.7L878.4,214.4L878.65,211.5L878.9,212.8L879.15,214.8L879.4,211.6L879.65,213L879.9,215.2L880.15,211.7L880.4,211.1L880.65,212.4L880.9,210.6L881.15,209.6L881.4,208.4L881.65,207.3L881.9,204.7L882.15,205.9L882.4,203.8L882.65,205.6L882.9,203L883.15,201.6L883.4,200.5L883.65,200.5L883.9,199.1L884.15,200.2L884.4,199.2L884.65,198.8L884.9,197.7L885.15,200.7L885.4,197.9L885.65,198.9L885.9,198.4L886.15,196.4L886.4,196.4L886.65,196.6L886.9,198.7L887.15,201.1L887.4,199.2L887.65,200.6L887.9,198.8L888.15,197.3L888.4,197L888.65,199.2L888.9,196.3L889.15,196.8L889.4,198.6L889.65,196.2L889.9,198L890.15,198.9L890.4,196.8L890.65,197.2L890.9,198.2L891.15,197.8L891.4,196.1L891.65,199.8L891.9,196.9L892.15,201.1L892.4,196.4L892.65,197.3L892.9,196.4L893.15,198.8L893.4,197.2L893.65,200.8L893.9,200.2L894.15,201.5L894.4,197.2L894.65,199.1L894.9,199.8L895.15,200.2L895.4,198.5L895.65,197.3L895.9,198.5L896.15,198.2L896.4,199.7L896.65,199L896.9,198.9L897.15,198.7L897.4,199.9L897.65,197.5L897.9,198.2L898.15,200.1L898.4,201.2L898.65,201.7L898.9,201.8L899.15,199.5L899.4,200.6L899.65,201.6L899.9,199.9L900.15,202.1L900.4,198.8L900.65,199.1L900.9,201L901.15,201.3L901.4,197.8L901.65,199.2L901.9,202.6L902.15,200L902.4,199.3L902.65,201.5L902.9,202.8L903.15,203.5L903.4,204.7L903.65,204.9L903.9,203.4L904.15,203.3L904.4,202.3L904.65,205.9L904.9,204.9L905.15,203L905.4,205.8L905.65,205.3L905.9,205.4L906.15,205L906.4,204.4L906.65,204.3L906.9,207.6L907.15,207.2L907.4,206.7L907.65,208.7L907.9,204L908.15,207.2L908.4,205.5L908.65,206L908.9,206.7L909.15,207.7L909.4,209L909.65,209.8L909.9,210.4L910.15,210.4L910.4,213.2L910.65,213.3L910.9,214.6L911.15,219.6L911.4,220.5L911.65,225.1L911.9,226.9L912.15,232.8L912.4,231.1L912.65,230.7L912.9,231.1L913.15,231.8L913.4,234.1L913.65,237.1L913.9,240.6L914.15,243.4L914.4,242.5L914.65,241.5L914.9,236.7L915.15,236.1L915.4,231.2L915.65,230.9L915.9,234L916.15,237.3L916.4,243L916.65,247.2L916.9,253.9L917.15,262.8L917.4,266.8L917.65,267.6L917.9,272.5L918.15,276.2L918.4,280.9L918.65,285L918.9,295.4L919.15,314.1L919.4,335.5L919.65,347.2L919.9,346.3L920.15,337.8L920.4,324.8L920.65,313.9L920.9,300.5L921.15,293.8L921.4,284.8L921.65,278.6L921.9,272.9L922.15,266.5L922.4,265.2L922.65,266.9L922.9,264.7L923.15,270.4L923.4,275.3L923.65,274.4L923.9,279.2L924.15,283L924.4,286.8L924.65,293.2L924.9,297.5L925.15,303L925.4,307.7L925.65,314.7L925.9,320.2L926.15,326.9L926.4,337.2L926.65,348.8L926.9,359L927.15,372.2L927.4,383L927.65,392.9L927.9,398.9L928.15,403.4L928.4,411L928.65,415.4L928.9,420.6L929.15,424.8L929.4,428.9L929.65,430.8L929.9,435.6L930.15,440.1L930.4,438.7L930.65,440.9L930.9,443L931.15,444.4L931.4,441.1L931.65,442.8L931.9,444.4L932.15,442.4L932.4,444.7L932.65,441.3L932.9,444.7L933.15,443.2L933.4,442.4L933.65,441.6L933.9,442.3L934.15,443.6L934.4,442.1L934.65,443.2L934.9,444.2L935.15,442.7L935.4,442.1L935.65,442.1L935.9,443.1L936.15,443.6L936.4,443.7L936.65,442.5L936.9,443.7L937.15,444.4L937.4,443.3L937.65,443.3L937.9,440.6L938.15,443L938.4,441.7L938.65,443.3L938.9,442.2L939.15,444.2L939.4,444.4L939.65,444.9L939.9,442.4L940.15,445.2L940.4,443.4L940.65,441.2L940.9,441.2L941.15,443.8L941.4,442.2L941.65,442.1L941.9,443.1L942.15,439.8L942.4,438.1L942.65,431L942.9,421.3L943.15,413.3L943.4,404.7L943.65,395.9L943.9,388.1L944.15,376.6L944.4,368.4L944.65,360.7L944.9,350.6L945.15,347.9L945.4,340.4L945.65,336.2L945.9,333.9L946.15,326.9L946.4,324.4L946.65,319.4L946.9,313.9L947.15,309.3L947.4,305.5L947.65,302L947.9,300.2L948.15,297.1L948.4,296.5L948.65,294.6L948.9,291.8L949.15,289L949.4,287.6L949.65,282.8L949.9,281.9L950.15,279.3L950.4,275.8L950.65,273.8L950.9,268.9L951.15,263.2L951.4,262L951.65,263.2L951.9,258.6L952.15,260.1L952.4,258.4L952.65,255.6L952.9,255.5L953.15,251.6L953.4,253.6L953.65,252.5L953.9,253.3L954.15,251.9L954.4,252.2L954.65,253L954.9,253.1L955.15,255.5L955.4,252.4L955.65,256.5L955.9,261.7L956.15,267.6L956.4,273.8L956.65,278.8L956.9,283.1L957.15,289.9L957.4,292.1L957.65,290.7L957.9,288L958.15,285.8L958.4,280.9L958.65,282L958.9,283.8L959.15,285.3L959.4,289.6L959.65,297.8L959.9,303L960.15,312.4L960.4,317.3L960.65,323.9L960.9,334.4L961.15,343.8L961.4,354.6L961.65,364.4L961.9,374L962.15,383.6L962.4,391.1L962.65,403.3L962.9,410.5L963.15,418.6L963.4,428.1L963.65,430.6L963.9,434.6L964.15,438.2L964.4,440.7L964.65,443L964.9,445L965.15,442.8L965.4,440.9L965.65,438.3L965.9,435.2L966.15,428.3L966.4,423.1L966.65,417.4L966.9,411.2L967.15,403L967.4,391.2L967.65,380.4L967.9,365.9L968.15,355.4L968.4,345L968.65,334.4L968.9,325L969.15,318.3L969.4,314.1L969.65,308.9L969.9,302.3L970.15,300.6L970.4,296.8L970.65,294.4L970.9,288.5L971.15,286.2L971.4,280.6L971.65,272.6L971.9,269.8L972.15,264.5L972.4,259.8L972.65,255.4L972.9,251L973.15,246.5L973.4,240.3L973.65,239.2L973.9,237.7L974.15,232.3L974.4,233.3L974.65,228.9L974.9,229.7L975.15,227.4L975.4,224.1L975.65,223.8L975.9,224.1L976.15,220.5L976.4,220.9L976.65,219.1L976.9,217.5L977.15,216.3L977.4,214.4L977.65,214.3L977.9,213.2L978.15,213.8L978.4,213.4L978.65,210.2L978.9,214L979.15,211.2L979.4,210.1L979.65,209.1L979.9,209.9L980.15,208.3L980.4,206.8L980.65,206.8L980.9,209.1L981.15,207.5L981.4,208.5L981.65,204.8L981.9,206.5L982.15,207.2L982.4,205.6L982.65,206.9L982.9,204.7L983.15,202.8L983.4,205.9L983.65,204.8L983.9,202.2L984.15,205L984.4,202.8L984.65,203.9L984.9,201.7L985.15,202.7L985.4,202.2L985.65,200.8L985.9,201.5L986.15,200.1L986.4,204.4L986.65,200.6L986.9,202.4L987.15,201L987.4,201L987.65,200.1L987.9,201.3L988.15,198.5L988.4,198.9L988.65,199.3L988.9,200.6L989.15,200L989.4,200.4L989.65,201.2L989.9,199.6L990.15,200.3L990.4,198.6L990.65,198.3L990.9,198.5L991.15,199.3L991.4,201.1L991.65,200L991.9,199.8L992.15,201.2L992.4,200.1L992.65,198.4L992.9,196.6L993.15,198.7L993.4,200.8L993.65,199.9L993.9,199.1L994.15,200.7L994.4,199.7L994.65,197.9L994.9,199.1L995.15,201.4L995.4,197.1L995.65,199.5L995.9,199.1L996.15,199.3L996.4,196.9L996.65,197L996.9,196.3L997.15,197.3L997.4,196.9L997.65,196.4L997.9,198.3L998.15,196.5L998.4,196.9L998.65,198L998.9,195.5L999.15,195.7L999.4,194.7L999.65,194L999.9,195L1000.15,196.5L1000.4,193.1L1000.65,195.7L1000.9,195.2L1001.15,197.1L1001.4,195.3L1001.65,197L1001.9,195.5L1002.15,196.6L1002.4,197L1002.65,195.8L1002.9,197.2L1003.15,193.3L1003.4,195.6L1003.65,194.5L1003.9,193.3L1004.15,195.1L1004.4,194.1L1004.65,193.4L1004.9,194.3L1005.15,195.2L1005.4,193.9L1005.65,192.9L1005.9,196.4L1006.15,193.4L1006.4,193.6L1006.65,194.9L1006.9,192.7L1007.15,194.2L1007.4,196.2L1007.65,195.5L1007.9,195.4L1008.15,195.5L1008.4,197.1L1008.65,197.4L1008.9,196.5L1009.15,199.6L1009.4,194.3L1009.65,196.4L1009.9,198.2L1010.15,198.5L1010.4,197.4L1010.65,197.3L1010.9,195.8L1011.15,197.1L1011.4,197.8L1011.65,198.2L1011.9,196.5L1012.15,197.4L1012.4,197.4L1012.65,195.1L1012.9,194.8L1013.15,195.7L1013.4,196.6L1013.65,193.5L1013.9,197.4L1014.15,194.2L1014.4,194.1L1014.65,192.9L1014.9,193.3L1015.15,193.8L1015.4,193.7L1015.65,194.8L1015.9,193.3L1016.15,195L1016.4,195L1016.65,195.4L1016.9,193.5L1017.15,193.2L1017.4,193.3L1017.65,191.6L1017.9,193.4L1018.15,194.3L1018.4,194.1L1018.65,196L1018.9,195.3L1019.15,195.3L1019.4,195.3L1019.65,195.6L1019.9,193.7L1020.15,193.7L1020.4,194.4L1020.65,198.6L1020.9,195.3L1021.15,195.9L1021.4,196.7L1021.65,195.5L1021.9,194.7L1022.15,198.8L1022.4,195.9L1022.65,196.8L1022.9,196.3L1023.15,196.3L1023.4,197.8L1023.65,197.3L1023.9,196.6L1024.15,200.2L1024.4,199L1024.65,200.7L1024.9,198.9L1025.15,202.1L1025.4,202.1L1025.65,207.3L1025.9,204.3L1026.15,204.8L1026.4,205.8L1026.65,207.2L1026.9,206.9L1027.15,207.1L1027.4,207.9L1027.65,208.4L1027.9,211L1028.15,209.6L1028.4,210L1028.65,209.3L1028.9,211.8L1029.15,213.9L1029.4,211.7L1029.65,216.3L1029.9,219.7L1030.15,220.3L1030.4,222.5L1030.65,226.9L1030.9,226.7L1031.15,231.1L1031.4,231.1L1031.65,233.3L1031.9,236L1032.15,239.4L1032.4,242.3L1032.65,244.1L1032.9,248.9"/><path d="M1063.9,196.2L1064.15,200.2L1064.4,198.7L1064.65,197.1L1064.9,198.5L1065.15,198.2L1065.4,197.5L1065.65,198.8L1065.9,197.8L1066.15,197.3L1066.4,196.2L1066.65,196.1L1066.9,196.7L1067.15,195.3L1067.4,196.2L1067.65,199L1067.9,198.1L1068.15,200.6L1068.4,200.8L1068.65,200.9L1068.9,205.5L1069.15,212.6L1069.4,221.3L1069.65,226.4L1069.9,237.9L1070.15,244.7L1070.4,263.6L1070.65,277.9L1070.9,287.1L1071.15,285.2L1071.4,279.2L1071.65,265.4L1071.9,250.1L1072.15,235.3L1072.4,226.5L1072.65,227.6L1072.9,236L1073.15,248.7L1073.4,266.1L1073.65,278.6L1073.9,289.6L1074.15,300.1L1074.4,310.1L1074.65,318L1074.9,325.7L1075.15,331.2L1075.4,330.7L1075.65,327.4L1075.9,315.3L1076.15,298.6L1076.4,277.4L1076.65,259.4L1076.9,246.9L1077.15,237L1077.4,228.3L1077.65,224.1L1077.9,218.1L1078.15,215.8L1078.4,215.1L1078.65,209.5L1078.9,207.4L1079.15,207.5L1079.4,205.1L1079.65,203.3L1079.9,200.7L1080.15,201.2L1080.4,198.4L1080.65,199.5L1080.9,198.3L1081.15,198.2L1081.4,197.7L1081.65,196.1L1081.9,196.9L1082.15,195.2L1082.4,193.9L1082.65,194.2L1082.9,195.5L1083.15,194.8L1083.4,195.7L1083.65,195.1L1083.9,196.6L1084.15,194.6L1084.4,197.2L1084.65,193.7L1084.9,195.2L1085.15,194.1L1085.4,192.6L1085.65,194.9L1085.9,196.3L1086.15,194.9L1086.4,193L1086.65,191.7L1086.9,195L1087.15,194.3L1087.4,196.1L1087.65,196L1087.9,195.8L1088.15,194.9L1088.4,193.9L1088.65,195.3L1088.9,195.9L1089.15,196.7L1089.4,196L1089.65,199.8L1089.9,197.5L1090.15,195.3L1090.4,199.5L1090.65,200.7L1090.9,199L1091.15,201.7L1091.4,201.9L1091.65,201.6L1091.9,201.8L1092.15,205.4L1092.4,204.9L1092.65,210.3L1092.9,212.7L1093.15,215.3L1093.4,222.3L1093.65,227.5L1093.9,239.5L1094.15,239.1L1094.4,236.6L1094.65,228.9L1094.9,229.2L1095.15,235.2L1095.4,245.4L1095.65,259.4L1095.9,274.8L1096.15,293.1L1096.4,298.4L1096.65,288L1096.9,276.5L1097.15,262L1097.4,246L1097.65,236.9L1097.9,232.9L1098.15,233.7L1098.4,233.6L1098.65,234.1L1098.9,236.6L1099.15,237L1099.4,241.3L1099.65,244L1099.9,248L1100.15,253.6L1100.4,262.8L1100.65,267.7L1100.9,279.3L1101.15,285.6L1101.4,297.6L1101.65,308.8L1101.9,320.8L1102.15,343.2L1102.4,368.9L1102.65,398.1L1102.9,411.8L1103.15,410.5L1103.4,396.2L1103.65,363.5L1103.9,329.8L1104.15,298L1104.4,280.7L1104.65,271.4L1104.9,258.7L1105.15,252.5L1105.4,243.7L1105.65,241L1105.9,237.2L1106.15,233.8L1106.4,226.1L1106.65,226.5L1106.9,222.9L1107.15,222.7L1107.4,220.2L1107.65,220.9L1107.9,224.2L1108.15,225.2L1108.4,228.1L1108.65,228.4L1108.9,233.1L1109.15,231L1109.4,233.5L1109.65,231.7L1109.9,229.8L1110.15,225.7L1110.4,228L1110.65,221.8L1110.9,219.3L1111.15,218.2L1111.4,219.3L1111.65,220.3L1111.9,218.9L1112.15,222L1112.4,220.9L1112.65,225.7L1112.9,226L1113.15,226.6L1113.4,227.7L1113.65,231.1L1113.9,231.5L1114.15,233.2L1114.4,240L1114.65,244.2L1114.9,250L1115.15,253.9L1115.4,258.5L1115.65,264L1115.9,268.2L1116.15,274.2L1116.4,278.3L1116.65,285.1L1116.9,293L1117.15,299L1117.4,306.3L1117.65,313.3L1117.9,319.3L1118.15,330.9L1118.4,342.5L1118.65,367.2L1118.9,398.1L1119.15,419.3L1119.4,431.2L1119.65,441L1119.9,441.5L1120.15,438.4L1120.4,427.3L1120.65,419.3L1120.9,411.5L1121.15,398.8L1121.4,391.1L1121.65,378.7L1121.9,367.6L1122.15,358.9L1122.4,349.3L1122.65,339.7L1122.9,330.9L1123.15,319.9L1123.4,309.7L1123.65,297.9L1123.9,289.6L1124.15,282.1L1124.4,277L1124.65,271.3L1124.9,267.3L1125.15,263.4L1125.4,261L1125.65,259.8L1125.9,254.4L1126.15,251.3L1126.4,248.5L1126.65,242.8L1126.9,244.7L1127.15,239.4L1127.4,242L1127.65,239.9L1127.9,241.6L1128.15,241.5L1128.4,238.5L1128.65,240.2L1128.9,238L1129.15,240.4L1129.4,238.8L1129.65,235.7L1129.9,238.4L1130.15,236.5L1130.4,236L1130.65,235.9L1130.9,237L1131.15,234.1L1131.4,234.4L1131.65,234.1L1131.9,236.9L1132.15,237.2L1132.4,239.1L1132.65,240.5L1132.9,237.5L1133.15,241.4L1133.4,242L1133.65,240.5L1133.9,243.9L1134.15,242.1L1134.4,242.6L1134.65,241.8L1134.9,244.8L1135.15,243.4L1135.4,244L1135.65,246.9L1135.9,248.6L1136.15,249.9L1136.4,252.5L1136.65,254.1L1136.9,254.5L1137.15,255.2L1137.4,257L1137.65,260.3L1137.9,260.2L1138.15,260.7L1138.4,264.3L1138.65,268.2L1138.9,269.3L1139.15,274.1L1139.4,276.7L1139.65,280.7L1139.9,286.4L1140.15,286.5L1140.4,291.6L1140.65,295.3L1140.9,298.9L1141.15,302L1141.4,305.5L1141.65,308.6L1141.9,311.4L1142.15,312L1142.4,318.1L1142.65,321.7L1142.9,324.9L1143.15,331L1143.4,338.7L1143.65,345L1143.9,351.8L1144.15,355.7L1144.4,364.1L1144.65,369.2L1144.9,378.3L1145.15,385L1145.4,397.3L1145.65,401.5L1145.9,410.6L1146.15,415L1146.4,424.5L1146.65,429L1146.9,435.4L1147.15,438.8L1147.4,440.8L1147.65,442L1147.9,442.3L1148.15,443L1148.4,442.6L1148.65,442.2L1148.9,445.6L1149.15,443.6L1149.4,445.3L1149.65,443.2L1149.9,443.9L1150.15,442.1L1150.4,441.6L1150.65,442.1L1150.9,444.9L1151.15,446.3L1151.4,444.2L1151.65,443.1L1151.9,443.7L1152.15,443.7L1152.4,443L1152.65,443L1152.9,443.8L1153.15,443.6L1153.4,443.4L1153.65,443.6L1153.9,444.5L1154.15,443.4L1154.4,445L1154.65,444.8L1154.9,443.1L1155.15,443.3L1155.4,445.3L1155.65,443.3L1155.9,444.6L1156.15,444.2L1156.4,441.7L1156.65,444L1156.9,443L1157.15,443.9L1157.4,441.5L1157.65,446L1157.9,443.5L1158.15,446.2L1158.4,444.6L1158.65,438.8L1158.9,435.4L1159.15,429.3L1159.4,426.3L1159.65,420.3L1159.9,414.9L1160.15,412.4L1160.4,406.1L1160.65,402.2L1160.9,395.4L1161.15,389.4L1161.4,387.3L1161.65,380.8L1161.9,372.7L1162.15,367L1162.4,361.2L1162.65,352.1L1162.9,345.6L1163.15,342.5L1163.4,334L1163.65,327.7L1163.9,322.7L1164.15,317.8L1164.4,314.3L1164.65,309.5L1164.9,306.5L1165.15,305.5L1165.4,303.4L1165.65,302.6L1165.9,304.6L1166.15,306.3L1166.4,307.7L1166.65,311.1L1166.9,317.4L1167.15,319L1167.4,323L1167.65,326.9L1167.9,333L1168.15,338.6L1168.4,346.7L1168.65,352L1168.9,356.2L1169.15,366L1169.4,371L1169.65,378.8L1169.9,386.2L1170.15,394.2L1170.4,400.2L1170.65,405.1L1170.9,413.1L1171.15,415.3L1171.4,420.9L1171.65,423.3L1171.9,429.4L1172.15,433.3L1172.4,439.6L1172.65,439.5L1172.9,443.4L1173.15,441.4L1173.4,439.8L1173.65,432.6L1173.9,428.2L1174.15,419.8L1174.4,410.9L1174.65,399.3L1174.9,384.5L1175.15,366.6L1175.4,353L1175.65,337.5L1175.9,325.5L1176.15,314.4L1176.4,308.2L1176.65,302.4L1176.9,297.2L1177.15,290.2L1177.4,286.5L1177.65,280.5L1177.9,274.2L1178.15,271.4L1178.4,261.4L1178.65,260.6L1178.9,258.8L1179.15,251.5L1179.4,248.1L1179.65,246.5L1179.9,244.8L1180.15,241.8L1180.4,238.9L1180.65,236.4L1180.9,238.1L1181.15,234.8L1181.4,233.1L1181.65,235L1181.9,235.7L1182.15,233.8L1182.4,231.9L1182.65,230.5L1182.9,229.5L1183.15,230.7L1183.4,227.9L1183.65,228.8L1183.9,227.2L1184.15,224.5L1184.4,223.2L1184.65,222.9L1184.9,221.6L1185.15,222.4L1185.4,226L1185.65,224.7L1185.9,228.7L1186.15,225.7L1186.4,224.5L1186.65,220.1L1186.9,216.8L1187.15,214.7L1187.4,214.8L1187.65,214L1187.9,213.2L1188.15,212.9L1188.4,212.8L1188.65,213.3L1188.9,212.3L1189.15,212.9L1189.4,210.3L1189.65,211.2L1189.9,212L1190.15,207.4L1190.4,206.3L1190.65,207.8L1190.9,207.5L1191.15,205.8L1191.4,205.9L1191.65,205.9L1191.9,204.5L1192.15,206.6L1192.4,207.3L1192.65,206.4L1192.9,203.7L1193.15,203.1L1193.4,206.4L1193.65,203.9L1193.9,204L1194.15,205.1L1194.4,205.4L1194.65,201.7L1194.9,204.9L1195.15,203.9L1195.4,203.3L1195.65,205.3L1195.9,202L1196.15,202.4L1196.4,203L1196.65,200.4L1196.9,201.4L1197.15,201.9L1197.4,201.8L1197.65,201.4L1197.9,202.7L1198.15,201.2L1198.4,204.4L1198.65,203L1198.9,202.3L1199.15,200.2L1199.4,203L1199.65,200.1L1199.9,203L1200.15,201.9L1200.4,201.1L1200.65,204.8L1200.9,200.6L1201.15,200.3L1201.4,201.7L1201.65,201.1L1201.9,203.6L1202.15,204.7L1202.4,203L1202.65,205.3L1202.9,206L1203.15,209.1L1203.4,213.4L1203.65,216.7L1203.9,220.4L1204.15,225.3L1204.4,233.8L1204.65,240.8L1204.9,246.7L1205.15,245.1L1205.4,239L1205.65,227.1L1205.9,220.8L1206.15,215.1L1206.4,216.5L1206.65,215.7L1206.9,215.3L1207.15,216.3L1207.4,220.7L1207.65,220.1L1207.9,218.9L1208.15,216.5L1208.4,212.3L1208.65,209.4L1208.9,208.5L1209.15,208.8L1209.4,206.7L1209.65,202.8L1209.9,205.5L1210.15,202.5L1210.4,201.8L1210.65,202.2L1210.9,199.4L1211.15,199.9L1211.4,199.8L1211.65,200.9L1211.9,200.8L1212.15,200.6L1212.4,201.4L1212.65,199.7L1212.9,200.7L1213.15,201.3L1213.4,201.1L1213.65,203.7L1213.9,200.7L1214.15,200.6L1214.4,202.5L1214.65,202.9L1214.9,204.6L1215.15,203.6L1215.4,200.6L1215.65,204.6L1215.9,204L1216.15,204.4L1216.4,206.2L1216.65,205.4L1216.9,207.7L1217.15,206.4L1217.4,206.6L1217.65,208.8L1217.9,204.9L1218.15,205.7L1218.4,206.5L1218.65,208.1L1218.9,207.3L1219.15,208.3L1219.4,207.6L1219.65,214L1219.9,217.5L1220.15,221L1220.4,221.1L1220.65,226.4L1220.9,225.4L1221.15,221.3L1221.4,215.1L1221.65,212L1221.9,207.3L1222.15,204.9L1222.4,203.5L1222.65,204.9L1222.9,202L1223.15,201.7L1223.4,203L1223.65,202.8L1223.9,203.6L1224.15,204.2L1224.4,203.1L1224.65,203.5L1224.9,204.6L1225.15,203.2L1225.4,203.4L1225.65,205.4L1225.9,204.8L1226.15,205L1226.4,206.8L1226.65,207.8L1226.9,209.4L1227.15,207.3L1227.4,212.4L1227.65,210.8L1227.9,213L1228.15,212.7L1228.4,214.8L1228.65,213.2L1228.9,218L1229.15,220.4L1229.4,224.2L1229.65,224.8L1229.9,228.1L1230.15,232.8L1230.4,232.9L1230.65,235.3L1230.9,240.9L1231.15,253L1231.4,261.5L1231.65,270.7L1231.9,286.7L1232.15,296.4L1232.4,306.2L1232.65,309.2L1232.9,319.7L1233.15,339.5L1233.4,371.1L1233.65,399L1233.9,412.5L1234.15,426.5L1234.4,437.5L1234.65,442.2L1234.9,440.5L1235.15,432.5L1235.4,418L1235.65,409.3L1235.9,393.5L1236.15,371.1L1236.4,342.9L1236.65,318.7L1236.9,299L1237.15,287.1L1237.4,278.1L1237.65,270.7L1237.9,260.9L1238.15,259.3L1238.4,251.9L1238.65,247.4L1238.9,245.9L1239.15,241.8L1239.4,239.4L1239.65,236.7L1239.9,232.9L1240.15,231.3L1240.4,233.4L1240.65,230.7L1240.9,230.1L1241.15,228.7L1241.4,229.5L1241.65,225.8L1241.9,227.9L1242.15,229.5L1242.4,233.6L1242.65,233.1L1242.9,236.7L1243.15,238.9L1243.4,251.4L1243.65,261.2L1243.9,274.5L1244.15,286.6L1244.4,297.4L1244.65,308L1244.9,316.5L1245.15,334.3L1245.4,372L1245.65,409.1L1245.9,428.8L1246.15,410.1L1246.4,364L1246.65,311.8L1246.9,279.5L1247.15,262.6L1247.4,251.5L1247.65,243.4L1247.9,235.2L1248.15,231.3L1248.4,225.6L1248.65,224.8L1248.9,220.1L1249.15,218.5L1249.4,216.8L1249.65,215.9L1249.9,212.8L1250.15,212.1L1250.4,210.5L1250.65,211.3L1250.9,211.4L1251.15,210.3L1251.4,210.9L1251.65,212.5L1251.9,207.9L1252.15,209.9L1252.4,209.4L1252.65,208.7L1252.9,206.2L1253.15,208.5L1253.4,207L1253.65,208.3L1253.9,206.7L1254.15,207.5L1254.4,206.2L1254.65,210.9L1254.9,207.5L1255.15,208L1255.4,206.8L1255.65,209.7L1255.9,207.5L1256.15,209.6L1256.4,209.3L1256.65,208.3L1256.9,207.3L1257.15,209.9L1257.4,210.8L1257.65,210L1257.9,207.9L1258.15,211L1258.4,209.6L1258.65,210L1258.9,210.3L1259.15,213.2L1259.4,212.2L1259.65,211L1259.9,213L1260.15,214.9L1260.4,215.4L1260.65,215.1L1260.9,215.2L1261.15,215.9L1261.4,216.7L1261.65,218L1261.9,219L1262.15,219.1L1262.4,218.1L1262.65,220.3L1262.9,222.2L1263.15,221.8L1263.4,222.7L1263.65,224.5L1263.9,224.6L1264.15,224.2L1264.4,225.6L1264.65,230.2L1264.9,229.9L1265.15,232.8L1265.4,234.6L1265.65,236.9L1265.9,242L1266.15,247.8L1266.4,251.7L1266.65,257L1266.9,260.4L1267.15,266L1267.4,272.6L1267.65,279.2L1267.9,284.3L1268.15,288.3L1268.4,292.8L1268.65,295.7L1268.9,300.6L1269.15,304.6L1269.4,310L1269.65,312.2L1269.9,314.3L1270.15,314L1270.4,322.7L1270.65,325.7L1270.9,330.6L1271.15,340.1L1271.4,349.2L1271.65,360.4L1271.9,369.4L1272.15,379.3L1272.4,387.8L1272.65,399.4L1272.9,408.9L1273.15,419.9L1273.4,430L1273.65,436.7L1273.9,437.6L1274.15,442.1L1274.4,443.3L1274.65,446.9L1274.9,445.2L1275.15,444.6L1275.4,439.9L1275.65,433L1275.9,426.8L1276.15,420.6L1276.4,415.7L1276.65,409.2L1276.9,400.6L1277.15,394L1277.4,385.7L1277.65,377.4L1277.9,370.4L1278.15,359.9L1278.4,351.8L1278.65,342.8L1278.9,334.2L1279.15,328.8L1279.4,321.5L1279.65,312.5L1279.9,305.8L1280.15,297.6L1280.4,291L1280.65,285.5L1280.9,282.9L1281.15,277.9L1281.4,271.9L1281.65,271.1L1281.9,268.1L1282.15,265.3L1282.4,263.2L1282.65,258.1L1282.9,255.4L1283.15,253.6L1283.4,249L1283.65,244L1283.9,242.7L1284.15,240.7L1284.4,236.2L1284.65,234.3L1284.9,230.5L1285.15,229.4L1285.4,227.5L1285.65,227L1285.9,224.2L1286.15,221.4L1286.4,220.6L1286.65,215.8L1286.9,220L1287.15,215.9L1287.4,212.4L1287.65,214.5L1287.9,214.7L1288.15,213.3L1288.4,212.4L1288.65,210.7L1288.9,210.6L1289.15,210.4L1289.4,210.1L1289.65,209.2L1289.9,208.5L1290.15,210.4L1290.4,205.5L1290.65,205.4L1290.9,210.4L1291.15,209.9L1291.4,207L1291.65,207.4L1291.9,207.3L1292.15,206L1292.4,206L1292.65,205.2L1292.9,206.3L1293.15,205.5L1293.4,205.9L1293.65,203.8L1293.9,205.3L1294.15,207.7L1294.4,206.7L1294.65,206L1294.9,204.5L1295.15,203.6L1295.4,204.1L1295.65,202.7L1295.9,203.2L1296.15,201.2L1296.4,205.2L1296.65,202.8L1296.9,203.5L1297.15,200.2L1297.4,201.3L1297.65,202.4L1297.9,204.5L1298.15,203.3L1298.4,203.6L1298.65,203.6L1298.9,202.7L1299.15,203.7L1299.4,201.5L1299.65,203.4L1299.9,204L1300.15,206.1L1300.4,207.1L1300.65,206.5L1300.9,210L1301.15,214.2L1301.4,212.5L1301.65,212.4L1301.9,206.4L1302.15,203.9L1302.4,203.3L1302.65,201L1302.9,202.2L1303.15,199.6L1303.4,196.3L1303.65,198.8L1303.9,198.3L1304.15,198L1304.4,198.7L1304.65,200L1304.9,201.2L1305.15,196.5L1305.4,198.9L1305.65,198.3L1305.9,195.9L1306.15,199.4L1306.4,198L1306.65,199.4L1306.9,198.3L1307.15,199L1307.4,201L1307.65,197.4L1307.9,198.5L1308.15,199L1308.4,199.9L1308.65,200L1308.9,200.6L1309.15,199.7L1309.4,198.9L1309.65,199.7L1309.9,203L1310.15,202.9L1310.4,202.8L1310.65,202.2L1310.9,202.7L1311.15,204.7L1311.4,202.7L1311.65,202.7L1311.9,199.1L1312.15,200.3L1312.4,199L1312.65,198.4L1312.9,199.4L1313.15,197.7L1313.4,196.3L1313.65,199.9L1313.9,196.6L1314.15,196.8L1314.4,198.6L1314.65,201.7L1314.9,200.8L1315.15,203.5L1315.4,205.4L1315.65,208.5L1315.9,212.1L1316.15,212.2L1316.4,220.8L1316.65,220.9L1316.9,228.4L1317.15,232.7L1317.4,237.3L1317.65,255L1317.9,278.9L1318.15,300L1318.4,319.3L1318.65,316.8L1318.9,298.4L1319.15,274L1319.4,251.6L1319.65,233.6L1319.9,219.8L1320.15,216.9L1320.4,216.7L1320.65,225.1L1320.9,238.8L1321.15,261.2L1321.4,278.3L1321.65,295.2L1321.9,313.1L1322.15,319.6L1322.4,303.9L1322.65,283.3L1322.9,253L1323.15,231.5L1323.4,224.2L1323.65,221.2L1323.9,216.8L1324.15,209.6L1324.4,206.6L1324.65,202.6L1324.9,201.7L1325.15,200.8L1325.4,199.1L1325.65,200.1L1325.9,196.9L1326.15,198.5L1326.4,200.8L1326.65,196.6L1326.9,197.3L1327.15,199.2L1327.4,197.8L1327.65,198.8L1327.9,199L1328.15,198.5L1328.4,198.9L1328.65,197.4L1328.9,197.3L1329.15,197.4L1329.4,199.9L1329.65,195.6L1329.9,196.8L1330.15,197.2L1330.4,195.8L1330.65,198.3L1330.9,198.6L1331.15,197.4L1331.4,200L1331.65,197.5L1331.9,198.8L1332.15,198.4L1332.4,196.3L1332.65,198.5L1332.9,194.9L1333.15,197.6L1333.4,197.6L1333.65,198.3L1333.9,199.8L1334.15,197.6L1334.4,198.2L1334.65,198.4L1334.9,200.1L1335.15,202.3L1335.4,200.1L1335.65,200.8L1335.9,199.8L1336.15,200.6L1336.4,200.3L1336.65,201.7L1336.9,202.3L1337.15,204.8L1337.4,204.1L1337.65,203.3L1337.9,204.1L1338.15,206.1L1338.4,204.7L1338.65,205.3L1338.9,207L1339.15,209.3L1339.4,208.8L1339.65,211.8L1339.9,210.5L1340.15,212.5L1340.4,212.1L1340.65,215.1L1340.9,218.6L1341.15,219.8L1341.4,219.1L1341.65,220.8L1341.9,223.6L1342.15,226.7L1342.4,227L1342.65,229.7L1342.9,226.3L1343.15,227.5L1343.4,223.2L1343.65,219.4L1343.9,220.8L1344.15,215L1344.4,213.4L1344.65,212.6L1344.9,210.6L1345.15,212L1345.4,209.9L1345.65,209.7L1345.9,207.1L1346.15,206.6L1346.4,208.1L1346.65,209.2L1346.9,210.7L1347.15,206.1L1347.4,208.7L1347.65,209L1347.9,208.4L1348.15,211.1L1348.4,212.4L1348.65,212L1348.9,213.1L1349.15,211.8L1349.4,213L1349.65,213.6L1349.9,214.3L1350.15,214.7L1350.4,215.4L1350.65,217.1L1350.9,216.3L1351.15,218.1L1351.4,220.9L1351.65,220.9L1351.9,220L1352.15,221.1L1352.4,224.3L1352.65,223L1352.9,221.9L1353.15,223.9L1353.4,227.6L1353.65,228.2L1353.9,229.2L1354.15,229.7L1354.4,233.8L1354.65,240.6L1354.9,240.9L1355.15,248.8L1355.4,254.4L1355.65,267.1L1355.9,279.6L1356.15,297L1356.4,314.8L1356.65,336.3L1356.9,354L1357.15,369.3L1357.4,376L1357.65,367L1357.9,348.2L1358.15,326.7L1358.4,304.8L1358.65,288.2L1358.9,275.6L1359.15,265L1359.4,255.3L1359.65,249.8L1359.9,243L1360.15,245.8L1360.4,245.2L1360.65,246.5L1360.9,248.1L1361.15,251.2L1361.4,251.5L1361.65,251.1L1361.9,257.3L1362.15,262.1L1362.4,265.8L1362.65,272.6L1362.9,272.6L1363.15,278.3L1363.4,283.8L1363.65,289.4L1363.9,293.5L1364.15,300.1L1364.4,308L1364.65,310.4L1364.9,316.4L1365.15,323.5L1365.4,332.7L1365.65,341.6L1365.9,352.7L1366.15,366.5L1366.4,375.3L1366.65,381.9L1366.9,388.9L1367.15,397.9L1367.4,407.5L1367.65,414L1367.9,418.7L1368.15,425.3L1368.4,429.4L1368.65,432.2L1368.9,436.1L1369.15,437.4L1369.4,439.7L1369.65,444L1369.9,442.3L1370.15,443.2L1370.4,444.3L1370.65,444.6L1370.9,441.7L1371.15,444.8L1371.4,444.5L1371.65,445.2L1371.9,443L1372.15,444.2L1372.4,444.8L1372.65,444.7L1372.9,444.8L1373.15,442.9L1373.4,444.4L1373.65,441.5L1373.9,443L1374.15,442.4L1374.4,441.1L1374.65,439.9L1374.9,441.2L1375.15,438.9L1375.4,438.2L1375.65,437.1L1375.9,439.2L1376.15,437.6L1376.4,436.8L1376.65,437.3L1376.9,435.7L1377.15,437.1L1377.4,439.1L1377.65,439.4L1377.9,440.5L1378.15,441.7L1378.4,444.8L1378.65,444.6L1378.9,444.4L1379.15,443.2L1379.4,443.3L1379.65,442.7L1379.9,444.9L1380.15,442L1380.4,444.9L1380.65,442.6L1380.9,443.5L1381.15,444L1381.4,444L1381.65,439.7L1381.9,439.8L1382.15,435.8L1382.4,429.1L1382.65,425.9L1382.9,421.7L1383.15,416.1L1383.4,411.2L1383.65,404.8L1383.9,399.7L1384.15,389.2L1384.4,383.2L1384.65,375.6L1384.9,367.5L1385.15,359.3L1385.4,357.1L1385.65,349.8L1385.9,343.4L1386.15,338.5L1386.4,333L1386.65,328.9L1386.9,320.6L1387.15,316L1387.4,313L1387.65,315.1L1387.9,323.7L1388.15,332.9L1388.4,341.6L1388.65,348.1L1388.9,354.6L1389.15,364.8L1389.4,376L1389.65,379.3L1389.9,379.9L1390.15,362.7L1390.4,340.2L1390.65,313.8L1390.9,291.3L1391.15,279.7L1391.4,270.2L1391.65,267.8L1391.9,257.9L1392.15,255.1L1392.4,252.5L1392.65,249.4L1392.9,245.4L1393.15,241.1L1393.4,240.2L1393.65,238.9L1393.9,234.9L1394.15,231.9L1394.4,228.3L1394.65,229.6L1394.9,225.6L1395.15,226.8L1395.4,222.1L1395.65,220.6L1395.9,219.8L1396.15,218.1L1396.4,216.4L1396.65,217.8L1396.9,217.3L1397.15,215.5L1397.4,213.8L1397.65,215.5L1397.9,212.1L1398.15,213.6L1398.4,211.9L1398.65,209.9L1398.9,211.4L1399.15,211.5L1399.4,212.2L1399.65,210.1L1399.9,213.2L1400.15,211.7L1400.4,210.7L1400.65,210.6L1400.9,213.7L1401.15,211.2L1401.4,213.7L1401.65,213.8L1401.9,214.4L1402.15,214.7L1402.4,213.1L1402.65,210.7L1402.9,212.6L1403.15,212.1L1403.4,212.2L1403.65,210.8L1403.9,208.4L1404.15,209.1L1404.4,208.2L1404.65,207.7L1404.9,206L1405.15,209.5L1405.4,209.3L1405.65,207.7L1405.9,206.6L1406.15,205.9L1406.4,203.9L1406.65,208.4L1406.9,205.3L1407.15,204.3L1407.4,202.9L1407.65,203L1407.9,203.5L1408.15,204.9L1408.4,205.3L1408.65,205L1408.9,203L1409.15,203.1L1409.4,203.9L1409.65,203.6L1409.9,202.9L1410.15,200.9L1410.4,203.1L1410.65,203L1410.9,203.2L1411.15,202.2L1411.4,203L1411.65,204.4L1411.9,204.2L1412.15,204.1L1412.4,201.4L1412.65,202.6L1412.9,203.8L1413.15,206.5L1413.4,209.5L1413.65,213.3L1413.9,217.2L1414.15,223.2L1414.4,233.6L1414.65,251L1414.9,259.2L1415.15,250.3L1415.4,232.6L1415.65,223.4L1415.9,216.6L1416.15,213.2L1416.4,210L1416.65,208.7L1416.9,206.7L1417.15,206.4L1417.4,206.4L1417.65,204.5L1417.9,207.1L1418.15,203.9L1418.4,206.3L1418.65,205.5L1418.9,203.9L1419.15,204.5L1419.4,203.1L1419.65,203L1419.9,203.9L1420.15,202.9L1420.4,204.7L1420.65,205.8L1420.9,202.3L1421.15,204.2L1421.4,206.3L1421.65,205.9L1421.9,207.5L1422.15,206.5L1422.4,208.1L1422.65,208.1L1422.9,210.2L1423.15,209L1423.4,209.7L1423.65,212.5L1423.9,215L1424.15,214.9L1424.4,215.4L1424.65,216.8L1424.9,218.5L1425.15,218.7L1425.4,221.5L1425.65,224.9L1425.9,223.4L1426.15,231.1L1426.4,232.7L1426.65,237.2L1426.9,238.4L1427.15,244.3L1427.4,252.6L1427.65,257.5L1427.9,262.3L1428.15,270.1L1428.4,276.7L1428.65,286.6L1428.9,291L1429.15,300.2L1429.4,308.1L1429.65,319.4L1429.9,330.3L1430.15,343.4L1430.4,358.1L1430.65,376L1430.9,387.5L1431.15,397.1L1431.4,407.4L1431.65,415.6L1431.9,425.2L1432.15,428.8L1432.4,433.2L1432.65,440.1L1432.9,440.4L1433.15,440.5L1433.4,438.9L1433.65,437.4L1433.9,433.8L1434.15,426.4L1434.4,423.1L1434.65,418.5L1434.9,411.3L1435.15,404.7L1435.4,396.2L1435.65,386.6L1435.9,378.9L1436.15,369.6L1436.4,358.7L1436.65,344L1436.9,330.7L1437.15,314.8L1437.4,298.6L1437.65,286L1437.9,276.5L1438.15,266.6L1438.4,258.3L1438.65,252L1438.9,245.2L1439.15,241.1L1439.4,237.4L1439.65,234.9L1439.9,231.8L1440.15,228.4L1440.4,226.6L1440.65,227.5L1440.9,226L1441.15,226.7L1441.4,226.3L1441.65,229.4L1441.9,227.7L1442.15,228.4L1442.4,230.2L1442.65,232.4L1442.9,234.8"/></g>
<g stroke="#ff7f0e" stroke-width="1.05" opacity="0.85"><path d="M179.8,71.9L180.05,78.9L180.3,85.1L180.55,89.7L180.8,90L181.05,93.3L181.3,93.5L181.55,90L181.8,92.5L182.05,93.2L182.3,93.7L182.55,89.8L182.8,95.3L183.05,86.2L183.3,85.2L183.55,79.6L183.8,74.9L184.05,71.4L184.3,65.5L184.55,70L184.8,62.7L185.05,66.9L185.3,80.4L185.55,84L185.8,76.1L186.05,82.3L186.3,79.5L186.55,78.7L186.8,78.1L187.05,74L187.3,75.5L187.55,61.5L187.8,67.5L188.05,62.6L188.3,62.1L188.55,57.1L188.8,57.8L189.05,56.3L189.3,56.5L189.55,55.8L189.8,63.1L190.05,63.6L190.3,73.2L190.55,66.9L190.8,73.6L191.05,77.3L191.3,83.6L191.55,77.9L191.8,83.1L192.05,77.5L192.3,80.1L192.55,71.3L192.8,68.6L193.05,66.4L193.3,65.8L193.55,60L193.8,65.7L194.05,65.9L194.3,62.6L194.55,73.2L194.8,66.8L195.05,72.8L195.3,74.2L195.55,74.1L195.8,77L196.05,74.3L196.3,72.1L196.55,71.6L196.8,70.8L197.05,73.3L197.3,80.7L197.55,82L197.8,84.1L198.05,86.3L198.3,83.4L198.55,84.5L198.8,79.2L199.05,78.6L199.3,75.5L199.55,73.1L199.8,72.3L200.05,75.1L200.3,79.9L200.55,80.5L200.8,84.4L201.05,83.9L201.3,79.8L201.55,77.3L201.8,70.5L202.05,67.2L202.3,72.5L202.55,72L202.8,80L203.05,81.9L203.3,89.5L203.55,105.2L203.8,136.3L204.05,166.5L204.3,172.7L204.55,163L204.8,135.1L205.05,115.3L205.3,106.4L205.55,107L205.8,98.8L206.05,96.5L206.3,92.2L206.55,95.8L206.8,93.4L207.05,87.5L207.3,89.9L207.55,96.8L207.8,96.3L208.05,96.9L208.3,95.5L208.55,95.8L208.8,88.7L209.05,93L209.3,94.5L209.55,103.1L209.8,103.8L210.05,106L210.3,112.1L210.55,118.1L210.8,125L211.05,129L211.3,138.7L211.55,147.2L211.8,155.5L212.05,164L212.3,170.2L212.55,177.8L212.8,182.9L213.05,193.2L213.3,199.2L213.55,203.1L213.8,210.5L214.05,216.7L214.3,218.9L214.55,229.1L214.8,235L215.05,244L215.3,252.8L215.55,262.3L215.8,273.4L216.05,281.2L216.3,294.2L216.55,303L216.8,317.2L217.05,328.9L217.3,339.6L217.55,353L217.8,360.8L218.05,370.1L218.3,378.7L218.55,388.2L218.8,398.8L219.05,409.6L219.3,415.5L219.55,424.9L219.8,431.6L220.05,435.7L220.3,444.1L220.55,448.4L220.8,444.4L221.05,438.6L221.3,434.7L221.55,420.8L221.8,422.8L222.05,408.8L222.3,400.1L222.55,382.9L222.8,362.5L223.05,350.6L223.3,346.2L223.55,334.3L223.8,326L224.05,317.9L224.3,305.5L224.55,295.9L224.8,284.5L225.05,272.9L225.3,259.6L225.55,244.2L225.8,229.6L226.05,208.7L226.3,188.4L226.55,173.5L226.8,164.3L227.05,156.7L227.3,147L227.55,136.7L227.8,136.2L228.05,128.5L228.3,137.1L228.55,125.9L228.8,124.9L229.05,126L229.3,124.5L229.55,123.8L229.8,117.1L230.05,120.6L230.3,119.4L230.55,114.8L230.8,111.7L231.05,113.4L231.3,116.2L231.55,116.3L231.8,124.8L232.05,128.9L232.3,133.3L232.55,128.7L232.8,137L233.05,132.1L233.3,124.3L233.55,119.5L233.8,111.7L234.05,111.7L234.3,112.1L234.55,107.3L234.8,109.7L235.05,112.1L235.3,115.9L235.55,121.7L235.8,131.7L236.05,135.9L236.3,133.4L236.55,143.6L236.8,153.6L237.05,154.2L237.3,157.8L237.55,165.6L237.8,173.6L238.05,187.4L238.3,189.7L238.55,199.5L238.8,205.1L239.05,222.8L239.3,240.1L239.55,260.3L239.8,278.7L240.05,295.1L240.3,316.2L240.55,337.7L240.8,357.2L241.05,367.3L241.3,373.8L241.55,370L241.8,363.5L242.05,348.1L242.3,335.6L242.55,313.2L242.8,300.1L243.05,290.5L243.3,279.1L243.55,265.2L243.8,258.8L244.05,248.8L244.3,235.7L244.55,239.4L244.8,246.3L245.05,266.9L245.3,293.7L245.55,308.6L245.8,326.1L246.05,347.8L246.3,376.6L246.55,383.8L246.8,379.7L247.05,368.8L247.3,357.8L247.55,344.4L247.8,331L248.05,324L248.3,315.4L248.55,301.5L248.8,294.8L249.05,284.6L249.3,277.3L249.55,272.4L249.8,263.9L250.05,268L250.3,275.6L250.55,284.1L250.8,295.6L251.05,308.9L251.3,315.9L251.55,319.7L251.8,308L252.05,290.2L252.3,280.5L252.55,272.9L252.8,267.5L253.05,279.5L253.3,286.6L253.55,294.4L253.8,290.4L254.05,276.3L254.3,256.4L254.55,242.5L254.8,233.4L255.05,218.4L255.3,202.2L255.55,191.4L255.8,181.6L256.05,177.4L256.3,172.4L256.55,173L256.8,164.8L257.05,160L257.3,154.6L257.55,155.8L257.8,159.6L258.05,170.4L258.3,178.3L258.55,190.4L258.8,202.1L259.05,209.6L259.3,211.9L259.55,209.1L259.8,197.3L260.05,195.1L260.3,184.7L260.55,167.9L260.8,161.6L261.05,151.7L261.3,148.4L261.55,151.7L261.8,151.4L262.05,156.6L262.3,162.4L262.55,164.2L262.8,164L263.05,165.5L263.3,160.4L263.55,157.7L263.8,153.3L264.05,149.1L264.3,137.7L264.55,134.3L264.8,133.5L265.05,122.9L265.3,125.2L265.55,113.4L265.8,108.4L266.05,104.1L266.3,105.8L266.55,108L266.8,101.4L267.05,103.9L267.3,103.6L267.55,107.8L267.8,105.9L268.05,112.4L268.3,107.3L268.55,114.3L268.8,112.2L269.05,114.3L269.3,109.1L269.55,111.2L269.8,116.7L270.05,113.7L270.3,118.1L270.55,124.4L270.8,121.2L271.05,124.7L271.3,119.2L271.55,116.6L271.8,117.5L272.05,112.5L272.3,112.4L272.55,119.2L272.8,118.5L273.05,123.8L273.3,128.2L273.55,127.3L273.8,139.2L274.05,138.5L274.3,139.2L274.55,137.7L274.8,136.4L275.05,139.4L275.3,131.9L275.55,128.9L275.8,126.5L276.05,129.3L276.3,129.4L276.55,129.8L276.8,126.1L277.05,128.4L277.3,130.9L277.55,135.8L277.8,143.7L278.05,143L278.3,146.5L278.55,150.1L278.8,154.8L279.05,152.4L279.3,150.3L279.55,149.2L279.8,141.1L280.05,140.2L280.3,139.5L280.55,139.9L280.8,143.5L281.05,145.7L281.3,147.3L281.55,150.2L281.8,153.6L282.05,159.9L282.3,161.1L282.55,163.4L282.8,172.8L283.05,173.6L283.3,176L283.55,179.4L283.8,178.7L284.05,184.2L284.3,192.7L284.55,198.8L284.8,207.6L285.05,210.2L285.3,204.7L285.55,208.8L285.8,199.7L286.05,203.3L286.3,206.8L286.55,212.8L286.8,215.1L287.05,224.5L287.3,228.6L287.55,231.4L287.8,243.5L288.05,238.1L288.3,252.2L288.55,257L288.8,263.6L289.05,280.2L289.3,293.9L289.55,298.6L289.8,312.4L290.05,319.1L290.3,329.9L290.55,341L290.8,346.6L291.05,360.2L291.3,364.6L291.55,378.8L291.8,386.9L292.05,393.7L292.3,399L292.55,408L292.8,413.8L293.05,417.1L293.3,424.9L293.55,428.9L293.8,434.5L294.05,439.4L294.3,442.1L294.55,441.5L294.8,442.8L295.05,444.4L295.3,445L295.55,442.6L295.8,443.4L296.05,444.5L296.3,445.4L296.55,445.5L296.8,442.1L297.05,445.7L297.3,441.7L297.55,445.8L297.8,447L298.05,442.1L298.3,445.1L298.55,442.8L298.8,444.3L299.05,445.3L299.3,443.6L299.55,445.3L299.8,444.3L300.05,445.1L300.3,447.4L300.55,444.4L300.8,445.7L301.05,445.1L301.3,444.4L301.55,446.9L301.8,444.2L302.05,444.1L302.3,442.3L302.55,443.8L302.8,444.5L303.05,445.9L303.3,445L303.55,447L303.8,444.4L304.05,445.3L304.3,445.5L304.55,445L304.8,444.4L305.05,444.6L305.3,446.7L305.55,443.1L305.8,445L306.05,444.5L306.3,445L306.55,446.3L306.8,444.6L307.05,445.6L307.3,446.2L307.55,444.9L307.8,444L308.05,444.2L308.3,444.8L308.55,445.9L308.8,445.5L309.05,445.2L309.3,447.1L309.55,443.9L309.8,444.9L310.05,446.8L310.3,442.9L310.55,442.3L310.8,446.9L311.05,445.7L311.3,446.2L311.55,444L311.8,447L312.05,444.4L312.3,444.5L312.55,443.5L312.8,447.8L313.05,446.2L313.3,445.4L313.55,443.7L313.8,445L314.05,444L314.3,444.5L314.55,448.1L314.8,445.3L315.05,445.7L315.3,445.5L315.55,446.4L315.8,444L316.05,444.7L316.3,447.8L316.55,444.1L316.8,445.9L317.05,447.2L317.3,443.4L317.55,445.2L317.8,444.6L318.05,445.3L318.3,445.2L318.55,447.7L318.8,444.1L319.05,446.2L319.3,445.1L319.55,445.3L319.8,446.5L320.05,446.9L320.3,445.4L320.55,443.3L320.8,446.1L321.05,446L321.3,445L321.55,446L321.8,443.3L322.05,444.5L322.3,441.6L322.55,444.5L322.8,442L323.05,446L323.3,444.8L323.55,446.7L323.8,445.7L324.05,445.6L324.3,444.3L324.55,443.2L324.8,445.5L325.05,447.2L325.3,445.2L325.55,445.4L325.8,445.8L326.05,443.9L326.3,443.5L326.55,446.1L326.8,446.2L327.05,448.9L327.3,446L327.55,443.9L327.8,446.5L328.05,443.8L328.3,444.2L328.55,444.2L328.8,444.2L329.05,445.2L329.3,443.7L329.55,443.6L329.8,444.6L330.05,445.2L330.3,443.2L330.55,443L330.8,446L331.05,443.9L331.3,445L331.55,441.7L331.8,445.6L332.05,446L332.3,446.4L332.55,443.8L332.8,446.6L333.05,444.2L333.3,445.9L333.55,443.2L333.8,442.9L334.05,443.5L334.3,448L334.55,447.2L334.8,449L335.05,441.3L335.3,446L335.55,445.7L335.8,445.1L336.05,444.3L336.3,445.6L336.55,445.1L336.8,445.2L337.05,447L337.3,442.5L337.55,442.6L337.8,445.1L338.05,445.4L338.3,442.4L338.55,441.6L338.8,445.1L339.05,444.3L339.3,445.8L339.55,444.7L339.8,448.9L340.05,448.4L340.3,444.5L340.55,445.4L340.8,444.6L341.05,445L341.3,444.3L341.55,444.8L341.8,445.4L342.05,444.5L342.3,447.2L342.55,443.1L342.8,446.6L343.05,445.7L343.3,443.8L343.55,445.7L343.8,443.7L344.05,443L344.3,444L344.55,445.8L344.8,442.3L345.05,444.4L345.3,446.5L345.55,442.1L345.8,444.8L346.05,444.2L346.3,443.8L346.55,445.8L346.8,443.8L347.05,446.9L347.3,446.5L347.55,445.7L347.8,441.9L348.05,444.2L348.3,443.4L348.55,446.3L348.8,444.3L349.05,448.2L349.3,445.1L349.55,443.3L349.8,443.7L350.05,444.4L350.3,442.3L350.55,437.2L350.8,434.4L351.05,435.2L351.3,430.7L351.55,433.4L351.8,429.2L352.05,428.5L352.3,426.6L352.55,429.9L352.8,426.2L353.05,428L353.3,430.4L353.55,431.1L353.8,432.3L354.05,433.4L354.3,438.4L354.55,438.9L354.8,439.4L355.05,441.4L355.3,442.2L355.55,442.8L355.8,447.7L356.05,445.2L356.3,444.8L356.55,445L356.8,446.7L357.05,444.1L357.3,442.6L357.55,445.4L357.8,446.3L358.05,442.4L358.3,445.1L358.55,445L358.8,444.8L359.05,445.8L359.3,445.2L359.55,446.2L359.8,448.1L360.05,443.6L360.3,444.7L360.55,445.2L360.8,443.1L361.05,445.4L361.3,443.5L361.55,443.9L361.8,445.6L362.05,447L362.3,444.4L362.55,444.8L362.8,443.6L363.05,447.5L363.3,445.5L363.55,444.8L363.8,444.6L364.05,445L364.3,444.7L364.55,448.6L364.8,445.6L365.05,446.1L365.3,447.5L365.55,445L365.8,445.7L366.05,446.9L366.3,447.2L366.55,444.6L366.8,448.1L367.05,442.4L367.3,441.2L367.55,436.1L367.8,429.9L368.05,427.7L368.3,425.9L368.55,420.3L368.8,417L369.05,416.4L369.3,414.1L369.55,416.7L369.8,417.3L370.05,420.5L370.3,423.7L370.55,426.4L370.8,431.1L371.05,433.7L371.3,433.6L371.55,439L371.8,443L372.05,441.8L372.3,442.9L372.55,446.7L372.8,446.1L373.05,442.5L373.3,444.9L373.55,444.8L373.8,445.9L374.05,446.8L374.3,443.3L374.55,446.3L374.8,444.3L375.05,442.2L375.3,444.3L375.55,445.4L375.8,444.1L376.05,444.2L376.3,445.8L376.55,444.7L376.8,446.9L377.05,447.7L377.3,445.9L377.55,447.8L377.8,446L378.05,445.3L378.3,444.8L378.55,442.2L378.8,446.5L379.05,445.8L379.3,445.8L379.55,446.6L379.8,442L380.05,446.3L380.3,445.4L380.55,445.4L380.8,441.3L381.05,445.6L381.3,447.8L381.55,443.2L381.8,446.1L382.05,448.3L382.3,443.3L382.55,443.7L382.8,447.3L383.05,447L383.3,445.2L383.55,446.6L383.8,447.5L384.05,447L384.3,442.3L384.55,443.4L384.8,446.8L385.05,444.8L385.3,441.4L385.55,436.8L385.8,429.6L386.05,418.8L386.3,413.6L386.55,404.4L386.8,393.8L387.05,385.6L387.3,376.7L387.55,369.4L387.8,364.5L388.05,357L388.3,358.1L388.55,355.8L388.8,363.2L389.05,370.5L389.3,378.5L389.55,390.7L389.8,400.5L390.05,411.7L390.3,418.7L390.55,435.1L390.8,437.6L391.05,438.5L391.3,438.6L391.55,437.3L391.8,431.4L392.05,437.5L392.3,430.9L392.55,430.8L392.8,429.4L393.05,427.4L393.3,430.3L393.55,430.9L393.8,432.8L394.05,435.9L394.3,443.8L394.55,443.9L394.8,445.8L395.05,444.1L395.3,440.7L395.55,433.2L395.8,433.3L396.05,427.3L396.3,421.5L396.55,411.5L396.8,408.1L397.05,399.3L397.3,391.7L397.55,385.3L397.8,383.3L398.05,376.3L398.3,367.8L398.55,367.9L398.8,362.3L399.05,362.8L399.3,359.4L399.55,362.6L399.8,369.9L400.05,374.2L400.3,383.5L400.55,391.6L400.8,397.9L401.05,409.2L401.3,418.3L401.55,424.6L401.8,434.3L402.05,437.8L402.3,443.1L402.55,444.3L402.8,445.4L403.05,446.3L403.3,446.6L403.55,446.5L403.8,443.9L404.05,444.1L404.3,446.3L404.55,442.6L404.8,447.7L405.05,445.5L405.3,447.3L405.55,446.3L405.8,443.2L406.05,444L406.3,446L406.55,442.6L406.8,444.9L407.05,444.7L407.3,442.9L407.55,444L407.8,445.4L408.05,446.7L408.3,442.4L408.55,449L408.8,444.9L409.05,445.4L409.3,441L409.55,435.8L409.8,435.2L410.05,432.4L410.3,426.2L410.55,413.9L410.8,404.4L411.05,394.9L411.3,384.1L411.55,370.7L411.8,356.2L412.05,345.6L412.3,336.4L412.55,332.9L412.8,332.8L413.05,334.8L413.3,337.4L413.55,346.8L413.8,349.2L414.05,363.1L414.3,373.9L414.55,384.7L414.8,400L415.05,411.2L415.3,419.6L415.55,426.9L415.8,434.2L416.05,437.4L416.3,440.7L416.55,441.2L416.8,438.7L417.05,436.5L417.3,430.4L417.55,426.9L417.8,420.8L418.05,411.6L418.3,410.3L418.55,398.4L418.8,392.4L419.05,393.1L419.3,388.2L419.55,388.7L419.8,392L420.05,391.6L420.3,394.5L420.55,397.6L420.8,404.8L421.05,408.7L421.3,415.2L421.55,416.7L421.8,423.4L422.05,425.2L422.3,431.2L422.55,431.5L422.8,434.5L423.05,434.9L423.3,431.7L423.55,434.8L423.8,435.1L424.05,434.1L424.3,438L424.55,433.3L424.8,440.1L425.05,440.7L425.3,436.8L425.55,446.1L425.8,439.9L426.05,443.4L426.3,443.4L426.55,446.7L426.8,444.1L427.05,447.2L427.3,442.4L427.55,445L427.8,445.9L428.05,445.6L428.3,444.9L428.55,442.5L428.8,443.8L429.05,446.2L429.3,446.4L429.55,446.8L429.8,442.9L430.05,443.7L430.3,447.3L430.55,448.8L430.8,445.9L431.05,447.1L431.3,444.5L431.55,445.5L431.8,444.1L432.05,442.9L432.3,442.3L432.55,445.1L432.8,443.1L433.05,447.4L433.3,447.3L433.55,444.1L433.8,442L434.05,441.5L434.3,443.2L434.55,443.6L434.8,434.3L435.05,430.4L435.3,421.4L435.55,413.2L435.8,409.1L436.05,402.3L436.3,394.5L436.55,388.6L436.8,383.5L437.05,376.2L437.3,375.3L437.55,372.9L437.8,375.2L438.05,383.9L438.3,392.9L438.55,408.5L438.8,419.9L439.05,426.9L439.3,432.5L439.55,431.6L439.8,419.6L440.05,406.9L440.3,391.6L440.55,379.4L440.8,378.9L441.05,382.6L441.3,385.4L441.55,397L441.8,397.6L442.05,394.9L442.3,390.1L442.55,382.3L442.8,372.7L443.05,361.7L443.3,358.5L443.55,359.7L443.8,360.1L444.05,362.2L444.3,362.1L444.55,363.2L444.8,360.8L445.05,353.7L445.3,348.8L445.55,343.8L445.8,338.7L446.05,330.2L446.3,322.1L446.55,321.8L446.8,318.1L447.05,307.9L447.3,307.3L447.55,301.5L447.8,294L448.05,289.7L448.3,285.4L448.55,282.7L448.8,280.6L449.05,282.8L449.3,288.9L449.55,301.5L449.8,302.6L450.05,316.5L450.3,331.5L450.55,348.6L450.8,366.6L451.05,379.1L451.3,395L451.55,411.1L451.8,416.6L452.05,431.7L452.3,436.5L452.55,435.3L452.8,439.1L453.05,426.4L453.3,408.5L453.55,392.8L453.8,378.4L454.05,362L454.3,353L454.55,358.3L454.8,364.7L455.05,387.5L455.3,407.7L455.55,425.6L455.8,432.2L456.05,431.8L456.3,428.4L456.55,413.7L456.8,402.8L457.05,384.1L457.3,373.8L457.55,352.2L457.8,328L458.05,316.6L458.3,296.4L458.55,273.6L458.8,251.6L459.05,241.6L459.3,223.6L459.55,211.6L459.8,202.9L460.05,196L460.3,190.3L460.55,196L460.8,208.3L461.05,220.2L461.3,236.2L461.55,260.9L461.8,282.2L462.05,305.5L462.3,333.5L462.55,346.9L462.8,377.2L463.05,392.8L463.3,410L463.55,423.7L463.8,427L464.05,431.8L464.3,432.3L464.55,423.6L464.8,418.1L465.05,416.3L465.3,409.3L465.55,394.3L465.8,387.2L466.05,380.7L466.3,366L466.55,361.7L466.8,351.4L467.05,344.4L467.3,341.4L467.55,330.5L467.8,321.6L468.05,328.8L468.3,332L468.55,337.7L468.8,341.4L469.05,343.9L469.3,344.4L469.55,345.9L469.8,341.2L470.05,337.4L470.3,330.8L470.55,325.9L470.8,323.3L471.05,327.3L471.3,329.3L471.55,329.8L471.8,337.1L472.05,343L472.3,348.3L472.55,356.3L472.8,362.3L473.05,377.5L473.3,380.7L473.55,393.8L473.8,399.8L474.05,413.4L474.3,418.5L474.55,427.1L474.8,427.6L475.05,439.9L475.3,439.2L475.55,447.3L475.8,449.5L476.05,446L476.3,443.8L476.55,446.2L476.8,444.1L477.05,444.8L477.3,445.5L477.55,441.8L477.8,445.3L478.05,443.1L478.3,448.3L478.55,445.8L478.8,442.9L479.05,446.5L479.3,450.8L479.55,443.4L479.8,443.8L480.05,446L480.3,444.9L480.55,445.7L480.8,442L481.05,436.6L481.3,434L481.55,429.3L481.8,423.5L482.05,414.9L482.3,407.2L482.55,394.1L482.8,389.5L483.05,377.9L483.3,364.9L483.55,354.1L483.8,343.4L484.05,334.3L484.3,322L484.55,315.9L484.8,306.2L485.05,296.2L485.3,283.1L485.55,272.6L485.8,270.3L486.05,264.7L486.3,259.2L486.55,250.2L486.8,252.3L487.05,252.1L487.3,257.8L487.55,263.8L487.8,274.6L488.05,293.6L488.3,314.6L488.55,328.5L488.8,352L489.05,366.6L489.3,392.2L489.55,405.4L489.8,416.5L490.05,430L490.3,427.9L490.55,424.7L490.8,421.5L491.05,411.7L491.3,401.4L491.55,390.9L491.8,371.4L492.05,358.6L492.3,339.3L492.55,321.6L492.8,298.3L493.05,281.8L493.3,262.5L493.55,248.3L493.8,225.3L494.05,205.3L494.3,198.9L494.55,179.3L494.8,170L495.05,167L495.3,158.7L495.55,153.8L495.8,158.4L496.05,161.5L496.3,165.5L496.55,177L496.8,182.3L497.05,197.6L497.3,206.1L497.55,209.1L497.8,218.3L498.05,227.6L498.3,241.3L498.55,242.9L498.8,248L499.05,240.7L499.3,246.4L499.55,239L499.8,228L500.05,216.4L500.3,211.8L500.55,207.5L500.8,207.8L501.05,216.4L501.3,235.2L501.55,250.7L501.8,263L502.05,290.2L502.3,309.2L502.55,334.7L502.8,359.5L503.05,384.8L503.3,400.5L503.55,422.6L503.8,427.1L504.05,438.9L504.3,439.4L504.55,434.2L504.8,420.7L505.05,401.6L505.3,382.4L505.55,363.8L505.8,347.6L506.05,332.2L506.3,325L506.55,328.8L506.8,347.1L507.05,369.1L507.3,386.6L507.55,398.5L507.8,408.9L508.05,404.8L508.3,401.9L508.55,395.1L508.8,387L509.05,370.9L509.3,360.9L509.55,346.1L509.8,326.9L510.05,309.7L510.3,294.1L510.55,278.3L510.8,265.6L511.05,249.6L511.3,231.6L511.55,215.7L511.8,217.6L512.05,197.1L512.3,192.7L512.55,188.9L512.8,189.3L513.05,195.2L513.3,211.6L513.55,225.4L513.8,244.8L514.05,250.8L514.3,251.9L514.55,234.7L514.8,224.1L515.05,219L515.3,210L515.55,222.8L515.8,250.1L516.05,281.2L516.3,312.8L516.55,336.9L516.8,350.6L517.05,345.2L517.3,339.2L517.55,328.1L517.8,313.7L518.05,305.2L518.3,285.9L518.55,262.6L518.8,251.6L519.05,230.6L519.3,203.4L519.55,193.1L519.8,172.7L520.05,157.2L520.3,146.2L520.55,133.3L520.8,127.8L521.05,130.7L521.3,126L521.55,138.5L521.8,145.2L522.05,154.5L522.3,165.7L522.55,183.1L522.8,194.4L523.05,217.4L523.3,229.3L523.55,247.6L523.8,264.1L524.05,279.1L524.3,294.3L524.55,312.2L524.8,323.8L525.05,340.2L525.3,347.2L525.55,351.3L525.8,361.1L526.05,362.2L526.3,359.9L526.55,348.4L526.8,341L527.05,330.1L527.3,316L527.55,293.8L527.8,282.5L528.05,252.2L528.3,234.3L528.55,209.6L528.8,191.8L529.05,169.7L529.3,159.4L529.55,150.2L529.8,135.2L530.05,131.4L530.3,130.4L530.55,136.3L530.8,159.6L531.05,177.8L531.3,202.1L531.55,225.8L531.8,255.3L532.05,263.9L532.3,271.8L532.55,267.3L532.8,260.7L533.05,247.9L533.3,231.8L533.55,217.8L533.8,211.7L534.05,212.8L534.3,208.4L534.55,225.3L534.8,238.9L535.05,254.9L535.3,282.9L535.55,303.6L535.8,330.4L536.05,355.1L536.3,369.9L536.55,385.5L536.8,385.6L537.05,382.9L537.3,370.9L537.55,358L537.8,324.8L538.05,301.5L538.3,272.1L538.55,245.5L538.8,223.8L539.05,204.7L539.3,193.6L539.55,184.9L539.8,181.4L540.05,177.2L540.3,173.6L540.55,168.8L540.8,159.9L541.05,160L541.3,159.8L541.55,164.5L541.8,164.7L542.05,157.7L542.3,157.7L542.55,156.2L542.8,161.4L543.05,173L543.3,188.5L543.55,198.8L543.8,212L544.05,207.3L544.3,204.9L544.55,198.2L544.8,201.3L545.05,193L545.3,179.3L545.55,172L545.8,170.7L546.05,160L546.3,152L546.55,149.6L546.8,146L547.05,148.5L547.3,154.6L547.55,159L547.8,169.6L548.05,177.3L548.3,197.4L548.55,207.8L548.8,223.8L549.05,237.7L549.3,251L549.55,265.3L549.8,287.4L550.05,291.3L550.3,304.9L550.55,315L550.8,324.4L551.05,327.5L551.3,331.8L551.55,336.8L551.8,324.9L552.05,308.6L552.3,288.8L552.55,265.5L552.8,236.9L553.05,215.6L553.3,189.3L553.55,167.1L553.8,145.2L554.05,130L554.3,126.7L554.55,124L554.8,135.5L555.05,143.7L555.3,169.6L555.55,177.5L555.8,184.2L556.05,191.3L556.3,191.7L556.55,187L556.8,177.1L557.05,172.8L557.3,159.6L557.55,152.9L557.8,144.6L558.05,134L558.3,121.4L558.55,110.2L558.8,106.7L559.05,100.1L559.3,94L559.55,84.9L559.8,78.9L560.05,85.7L560.3,84.7L560.55,91.9L560.8,93.7L561.05,107.1L561.3,108.3L561.55,121.1L561.8,126.8L562.05,128.7L562.3,136.8L562.55,140.2L562.8,140.5L563.05,140.5L563.3,131.5L563.55,125.4L563.8,120.6L564.05,109.7L564.3,105.1L564.55,103L564.8,101L565.05,118L565.3,126.1L565.55,142.9L565.8,159.3L566.05,188.4L566.3,209.4L566.55,230.4L566.8,251.9L567.05,262.7L567.3,275.5L567.55,296.4L567.8,293.6L568.05,285.8L568.3,283.3L568.55,269.5L568.8,251.9L569.05,235.2L569.3,217.4L569.55,198.3L569.8,173.6L570.05,167.5L570.3,146.3L570.55,135.3L570.8,122.5L571.05,120.5L571.3,119.6L571.55,125.7L571.8,121.8L572.05,130L572.3,122.3L572.55,112.1L572.8,110.8L573.05,107.9L573.3,116.8L573.55,118.1L573.8,129.7L574.05,135.9L574.3,145L574.55,143.8L574.8,141.2L575.05,128.5L575.3,132.2L575.55,120.3L575.8,116.9L576.05,113L576.3,121.5L576.55,137.9L576.8,152L577.05,181.6L577.3,200L577.55,232.1L577.8,264.2L578.05,294.8L578.3,323.3L578.55,360.2L578.8,377.7L579.05,407.5L579.3,418.6L579.55,433.8L579.8,432.8L580.05,439.6L580.3,427.2L580.55,419.9L580.8,408.3L581.05,388.1L581.3,373L581.55,354.5L581.8,331.6L582.05,311.1L582.3,286.9L582.55,263.9L582.8,238.6L583.05,221.1L583.3,203.6L583.55,181.7L583.8,169.9L584.05,159.7L584.3,156.5L584.55,138.4L584.8,144.7L585.05,155L585.3,189.1L585.55,220.8L585.8,243L586.05,271.4L586.3,280.2L586.55,277.5L586.8,272.1L587.05,254.5L587.3,246.5L587.55,224.6L587.8,213L588.05,185.8L588.3,176.4L588.55,162.9L588.8,162.4L589.05,152.6L589.3,156L589.55,159.5L589.8,164.1L590.05,165.6L590.3,175.9L590.55,186.8L590.8,197.8L591.05,209.6L591.3,222L591.55,234.8L591.8,251.4L592.05,265.3L592.3,284L592.55,292.4L592.8,305L593.05,322.4L593.3,331.5L593.55,352.8L593.8,365.5L594.05,376.5L594.3,392.2L594.55,407L594.8,414.1L595.05,425.3L595.3,428.5L595.55,435.5L595.8,442.9L596.05,443.2L596.3,440L596.55,440.1L596.8,437.5L597.05,435.8L597.3,430.9L597.55,424.1L597.8,410.4L598.05,406.8L598.3,391.8L598.55,376.7L598.8,373.4L599.05,354.5L599.3,344.5"/><path d="M632.9,83.8L633.15,81.1L633.4,81.6L633.65,81.1L633.9,84.2L634.15,83.7L634.4,91.2L634.65,96.7L634.9,98L635.15,110.2L635.4,116.4L635.65,116L635.9,115.5L636.15,101.6L636.4,94.8L636.65,83L636.9,78.6L637.15,73.7L637.4,73.9L637.65,67.4L637.9,72.6L638.15,69.3L638.4,67.7L638.65,70L638.9,67.8L639.15,67.3L639.4,68.2L639.65,63.7L639.9,69.2L640.15,69.1L640.4,65.7L640.65,63.5L640.9,65.1L641.15,64L641.4,65L641.65,68.3L641.9,71.7L642.15,69.8L642.4,74L642.65,75.7L642.9,75.9L643.15,74.5L643.4,73.2L643.65,76L643.9,77.5L644.15,71.5L644.4,67.2L644.65,68.3L644.9,64.6L645.15,64.5L645.4,63L645.65,60.6L645.9,59.9L646.15,61.6L646.4,60.8L646.65,64.4L646.9,63.7L647.15,64.2L647.4,66.1L647.65,68.8L647.9,67.9L648.15,66L648.4,64.6L648.65,63.8L648.9,63L649.15,61.6L649.4,66L649.65,63.6L649.9,68L650.15,64.1L650.4,66.6L650.65,71.4L650.9,69.6L651.15,71.1L651.4,76.8L651.65,76.9L651.9,77.4L652.15,76.1L652.4,79.1L652.65,72.6L652.9,75.4L653.15,75.1L653.4,72.3L653.65,75.4L653.9,80.4L654.15,79.8L654.4,85.9L654.65,89.5L654.9,90.5L655.15,90.5L655.4,78.9L655.65,70.5L655.9,68.1L656.15,64.5L656.4,64.2L656.65,60L656.9,67.2L657.15,60.8L657.4,63.9L657.65,62.5L657.9,62.6L658.15,62.7L658.4,64.3L658.65,64.4L658.9,69.1L659.15,67.6L659.4,72.5L659.65,68.2L659.9,75.3L660.15,67.1L660.4,68.6L660.65,69.1L660.9,69.3L661.15,67.2L661.4,68.1L661.65,69.1L661.9,65.1L662.15,69.1L662.4,64.2L662.65,66.7L662.9,67L663.15,60.3L663.4,63.1L663.65,61.2L663.9,63.1L664.15,61.9L664.4,61.5L664.65,57.9L664.9,61.3L665.15,63.9L665.4,66.1L665.65,68.2L665.9,71.3L666.15,80.6L666.4,88.5L666.65,92.9L666.9,101L667.15,108L667.4,108.7L667.65,110.7L667.9,107.9L668.15,103.2L668.4,95.4L668.65,91.9L668.9,87.8L669.15,90L669.4,88L669.65,85.6L669.9,86L670.15,91L670.4,92.1L670.65,92.9L670.9,94.5L671.15,84L671.4,79.3L671.65,76.8L671.9,71.9L672.15,70.9L672.4,61.7L672.65,65L672.9,64L673.15,61.2L673.4,62.5L673.65,62.6L673.9,61L674.15,58.4L674.4,58L674.65,62.1L674.9,62.1L675.15,57.7L675.4,58.7L675.65,58.6L675.9,55.3L676.15,56.3L676.4,57.9L676.65,55.7L676.9,58.3L677.15,57.9L677.4,53.4L677.65,57.6L677.9,56.3L678.15,58.1L678.4,58.5L678.65,60.5L678.9,61L679.15,58.4L679.4,60.8L679.65,68.2L679.9,72.6L680.15,79.8L680.4,83.5L680.65,83.5L680.9,81.2L681.15,79.2L681.4,71.8L681.65,64.3L681.9,63.7L682.15,63.5L682.4,62.1L682.65,59.8L682.9,59.4L683.15,63.1L683.4,62.5L683.65,58.2L683.9,58.8L684.15,60L684.4,62.7L684.65,63.9L684.9,62.8L685.15,62.3L685.4,64.1L685.65,61.2L685.9,64.8L686.15,68.2L686.4,62.3L686.65,61.5L686.9,63L687.15,59.8L687.4,58.8L687.65,65.7L687.9,59.8L688.15,63.6L688.4,61L688.65,63.3L688.9,63.6L689.15,67L689.4,68.9L689.65,68.5L689.9,65.5L690.15,70.3L690.4,73.3L690.65,70.8L690.9,70.4L691.15,66.8L691.4,69.2L691.65,73.3L691.9,77.4L692.15,84.4L692.4,89.5L692.65,100.2L692.9,102.5L693.15,97.1L693.4,91.3L693.65,82.3L693.9,76.4L694.15,68.9L694.4,67.8L694.65,68.3L694.9,65.9L695.15,65.7L695.4,68.3L695.65,69L695.9,64.2L696.15,67.8L696.4,65.2L696.65,69.5L696.9,66.5L697.15,68.8L697.4,65L697.65,64.9L697.9,65.8L698.15,65.2L698.4,68.1L698.65,66.6L698.9,66.6L699.15,70L699.4,67.5L699.65,68.8L699.9,69L700.15,71.2L700.4,71.7L700.65,71.6L700.9,73.2L701.15,72.9L701.4,76.9L701.65,72.5L701.9,76.5L702.15,73.3L702.4,79.1L702.65,78.3L702.9,77.3L703.15,77.9L703.4,80.6L703.65,82.4L703.9,80.2L704.15,80.3L704.4,85.4L704.65,87.2L704.9,87.2L705.15,87.6L705.4,92.5L705.65,92.5L705.9,90.6L706.15,95.4L706.4,97.4L706.65,94.4L706.9,97.4L707.15,98.3L707.4,104.2L707.65,106.9L707.9,109.8L708.15,114.5L708.4,118.6L708.65,117.2L708.9,122.3L709.15,123.6L709.4,129L709.65,143.9L709.9,151.4L710.15,155L710.4,159.2L710.65,165.8L710.9,178.2L711.15,184.6L711.4,190.8L711.65,206.9L711.9,220.5L712.15,229.7L712.4,249.7L712.65,267L712.9,279.1L713.15,302.2L713.4,318.6L713.65,331.5L713.9,343.8L714.15,359L714.4,373.1L714.65,385.9L714.9,399.6L715.15,413.1L715.4,428.9L715.65,431.9L715.9,439.3L716.15,440.3L716.4,440.4L716.65,442.9L716.9,443.3L717.15,445.3L717.4,444.8L717.65,441.8L717.9,451.8L718.15,442.7L718.4,439.8L718.65,444L718.9,442.1L719.15,439.4L719.4,435.9L719.65,435.3L719.9,426.3L720.15,413.8L720.4,400.2L720.65,383.7L720.9,377.3L721.15,364.9L721.4,356.3L721.65,349.1L721.9,340.2L722.15,333.1L722.4,323L722.65,309.9L722.9,298.9L723.15,288.2L723.4,272.3L723.65,261L723.9,246.3L724.15,229.9L724.4,205.9L724.65,184.8L724.9,165.4L725.15,152.7L725.4,131.4L725.65,133.2L725.9,131.2L726.15,138.7L726.4,144.8L726.65,153.5L726.9,150.5L727.15,152.3L727.4,152.2L727.65,146.8L727.9,140.4L728.15,128.3L728.4,120.2L728.65,120L728.9,111.7L729.15,112.7L729.4,117.2L729.65,115.2L729.9,120.3L730.15,110.6L730.4,107.6L730.65,106.7L730.9,100.7L731.15,104.2L731.4,109L731.65,115.5L731.9,118.3L732.15,114.9L732.4,101.9L732.65,96.5L732.9,92.6L733.15,82.6L733.4,81.8L733.65,82.6L733.9,77.8L734.15,74.8L734.4,77L734.65,73L734.9,73.4L735.15,75.2L735.4,70.9L735.65,70L735.9,76.4L736.15,70.2L736.4,72.4L736.65,72.4L736.9,75.6L737.15,74.9L737.4,70.2L737.65,73.5L737.9,76.9L738.15,78.3L738.4,82.4L738.65,83.9L738.9,89.2L739.15,91.9L739.4,100.6L739.65,106L739.9,115.6L740.15,136.6L740.4,170.3L740.65,194.6L740.9,186.7L741.15,156.6L741.4,122.1L741.65,104.3L741.9,91.5L742.15,81.8L742.4,81.1L742.65,77.4L742.9,75.9L743.15,75L743.4,72.1L743.65,72.7L743.9,68.8L744.15,73.4L744.4,69.9L744.65,73.8L744.9,71.4L745.15,69.1L745.4,69.8L745.65,65.8L745.9,67.6L746.15,67.1L746.4,63.6L746.65,65.6L746.9,61.8L747.15,59.9L747.4,59.5L747.65,57.6L747.9,60.7L748.15,56.8L748.4,60L748.65,62.1L748.9,59.6L749.15,56.3L749.4,63.3L749.65,58.4L749.9,68.4L750.15,59.7L750.4,59.9L750.65,62.3L750.9,64.2L751.15,58L751.4,57.7L751.65,57.6L751.9,56.3L752.15,59.6L752.4,53.7L752.65,55.7L752.9,59.1L753.15,53.1L753.4,57.5L753.65,56.6L753.9,55.8L754.15,59.3L754.4,59.4L754.65,58L754.9,60.3L755.15,58.9L755.4,56.1L755.65,61.4L755.9,59L756.15,60L756.4,56.7L756.65,60.1L756.9,59.4L757.15,57.1L757.4,52.6L757.65,58.7L757.9,60.3L758.15,59L758.4,55.8L758.65,55.5L758.9,57.7L759.15,57.5L759.4,63L759.65,63.2L759.9,68.2L760.15,73.7L760.4,75.7L760.65,79.4L760.9,83.1L761.15,79.2L761.4,79.4L761.65,73.5L761.9,66L762.15,69.5L762.4,68L762.65,63.2L762.9,70L763.15,67.1L763.4,64.4L763.65,66.2L763.9,65.7L764.15,64.7L764.4,61.1L764.65,62.7L764.9,59.7L765.15,60.3L765.4,59.8L765.65,57.6L765.9,61.1L766.15,62.5L766.4,61.3L766.65,61.5L766.9,63.3L767.15,67.3L767.4,64L767.65,70.8L767.9,73.6L768.15,71.1L768.4,76L768.65,86.1L768.9,92.5L769.15,93.4L769.4,102.5L769.65,98.9L769.9,93.2L770.15,82.5L770.4,77.1L770.65,74.2L770.9,66.1L771.15,64.3L771.4,64.1L771.65,63.4L771.9,62.1L772.15,64.4L772.4,62.8L772.65,63.5L772.9,62.9L773.15,65.4L773.4,67.6L773.65,67.9L773.9,66.7L774.15,66L774.4,65.3L774.65,64.7L774.9,56.8L775.15,62.4L775.4,64.5L775.65,62.4L775.9,67.8L776.15,66.7L776.4,64.5L776.65,65.6L776.9,65.4L777.15,63.1L777.4,64L777.65,71.2L777.9,77.2L778.15,76.5L778.4,80.5L778.65,79.8L778.9,80.4L779.15,80.4L779.4,78.5L779.65,75.6L779.9,70.3L780.15,69.7L780.4,65.7L780.65,68.2L780.9,66.4L781.15,65.8L781.4,62.6L781.65,62.9L781.9,63.4L782.15,63.8L782.4,62.9L782.65,68.1L782.9,62.9L783.15,65.6L783.4,62.5L783.65,64.1L783.9,63.9L784.15,68.2L784.4,61.7L784.65,67.1L784.9,68.5L785.15,71.2L785.4,70.3L785.65,76.3L785.9,70.5L786.15,73.3L786.4,75.6L786.65,70.4L786.9,77.1L787.15,78.7L787.4,82.3L787.65,82.4L787.9,87.4L788.15,89.5L788.4,89.3L788.65,93.3L788.9,97.4L789.15,98L789.4,104.5L789.65,101.2L789.9,110.2L790.15,115.1L790.4,115.5L790.65,126.9L790.9,133.6L791.15,134.2L791.4,139.7L791.65,142.4L791.9,150.1L792.15,159.4L792.4,163L792.65,171.4L792.9,177.3L793.15,189.7L793.4,205.2L793.65,222.5L793.9,248.3L794.15,281.2L794.4,313.3L794.65,357.4L794.9,405.4L795.15,434L795.4,435.9L795.65,412.4L795.9,368.9L796.15,319.1L796.4,285.4L796.65,255L796.9,225.6L797.15,204.3L797.4,183.3L797.65,158.3L797.9,140.8L798.15,125.4L798.4,117.6L798.65,113.4L798.9,108.2L799.15,105.8L799.4,102.2L799.65,102.3L799.9,94.3L800.15,97L800.4,94.7L800.65,93.7L800.9,91.2L801.15,90.1L801.4,92L801.65,84L801.9,85.8L802.15,86.7L802.4,85.9L802.65,83.6L802.9,83.9L803.15,85L803.4,84L803.65,91.2L803.9,84.8L804.15,87.4L804.4,89L804.65,90.2L804.9,88.6L805.15,92.8L805.4,89.7L805.65,93.3L805.9,92L806.15,98.7L806.4,96.2L806.65,99.7L806.9,103L807.15,100.2L807.4,102.6L807.65,111.4L807.9,109.9L808.15,108.6L808.4,113.5L808.65,117.3L808.9,120.7L809.15,123.7L809.4,125.9L809.65,131.7L809.9,141.7L810.15,150.9L810.4,159.2L810.65,171.4L810.9,177.7L811.15,189.2L811.4,196.2L811.65,201.6L811.9,210.6L812.15,221L812.4,227.8L812.65,237.4L812.9,247.9L813.15,249.7L813.4,267.5L813.65,291.6L813.9,310.3L814.15,341.2L814.4,360L814.65,378.4L814.9,399.4L815.15,418.6L815.4,432.1L815.65,446L815.9,443.5L816.15,443.4L816.4,428.2L816.65,407.7L816.9,397.4L817.15,381L817.4,362.3L817.65,344.7L817.9,322.6L818.15,300.1L818.4,281.5L818.65,264.9L818.9,252.2L819.15,237.7L819.4,223.7L819.65,217.4L819.9,206.8L820.15,201L820.4,192.4L820.65,187.5L820.9,185.3L821.15,182.5L821.4,177L821.65,168.3L821.9,166.1L822.15,157.4L822.4,156.1L822.65,152.3L822.9,145.3L823.15,146.4L823.4,139.2L823.65,144.7L823.9,137.3L824.15,136.7L824.4,135L824.65,132.6L824.9,137.6L825.15,129.1L825.4,137.1L825.65,133.3L825.9,140.4L826.15,145.6L826.4,153.5L826.65,151.4L826.9,160.4L827.15,166.8L827.4,181L827.65,190.1L827.9,195.7L828.15,201.9L828.4,209.4L828.65,217L828.9,231.2L829.15,243.9L829.4,254L829.65,283L829.9,317.9L830.15,351.3L830.4,386.6L830.65,415.3L830.9,436.3L831.15,435.1L831.4,414.7L831.65,387.9L831.9,364.7L832.15,335.8L832.4,309.2L832.65,286.4L832.9,258L833.15,242.9L833.4,228L833.65,215.3L833.9,199.1L834.15,188.9L834.4,179.5L834.65,169.7L834.9,156.4L835.15,151.2L835.4,143.7L835.65,130.4L835.9,128.7L836.15,122.1L836.4,117.7L836.65,112.9L836.9,110.3L837.15,102.6L837.4,100.2L837.65,99.7L837.9,95.4L838.15,89L838.4,90.4L838.65,89.4L838.9,89.6L839.15,88.3L839.4,85L839.65,83.7L839.9,84.9L840.15,83L840.4,86.8L840.65,85.9L840.9,84.6L841.15,83.8L841.4,89L841.65,87.8L841.9,96.4L842.15,97.9L842.4,104.7L842.65,115.6L842.9,115.2L843.15,109.3L843.4,105.7L843.65,99.6L843.9,94.5L844.15,87.8L844.4,83.9L844.65,88.3L844.9,82.9L845.15,78.4L845.4,80.4L845.65,78.6L845.9,75.6L846.15,77L846.4,74.6L846.65,77.1L846.9,78.1L847.15,80.3L847.4,84.6L847.65,81.2L847.9,85.9L848.15,81L848.4,82.7L848.65,85.2L848.9,85.5L849.15,85.5L849.4,97.3L849.65,96L849.9,96.4L850.15,101.6L850.4,104.1L850.65,104.1L850.9,108.8L851.15,116.6L851.4,113.2L851.65,123.5L851.9,129.4L852.15,142.6L852.4,164.6L852.65,172.8L852.9,193.3L853.15,215.8L853.4,245.8L853.65,289L853.9,324.5L854.15,360.5L854.4,401.6L854.65,417.7L854.9,403.7L855.15,378.6L855.4,337.5L855.65,304.1L855.9,262.1L856.15,230.8L856.4,195.7L856.65,169.3L856.9,148.5L857.15,132L857.4,121.9L857.65,116.5L857.9,113.2L858.15,113.5L858.4,106.9L858.65,109.1L858.9,110L859.15,106.5L859.4,115.8L859.65,105.3L859.9,109L860.15,108.6L860.4,109.4L860.65,109.2L860.9,112.9L861.15,113.9L861.4,113.8L861.65,118.3L861.9,119.1L862.15,121.7L862.4,125.1L862.65,129.8L862.9,137L863.15,145.5L863.4,158L863.65,167.7L863.9,168.2L864.15,184.6L864.4,192.2L864.65,202.8L864.9,209.7L865.15,218.6L865.4,223.8L865.65,233.5L865.9,242L866.15,255.7L866.4,262.7L866.65,283.4L866.9,305.1L867.15,328.2L867.4,352.3L867.65,374L867.9,387.6L868.15,409.5L868.4,428.3L868.65,437.1L868.9,448.9L869.15,442.4L869.4,427.6L869.65,409L869.9,394.7L870.15,369.1L870.4,343.8L870.65,309.4L870.9,280.7L871.15,261.3L871.4,234.1L871.65,219.2L871.9,198.4L872.15,192.8L872.4,181.9L872.65,167L872.9,159.4L873.15,152.6L873.4,149.2L873.65,141.2L873.9,138L874.15,129.1L874.4,127.8L874.65,127.2L874.9,123.4L875.15,120.6L875.4,114.2L875.65,108.9L875.9,103.8L876.15,98.7L876.4,99.7L876.65,93.8L876.9,100L877.15,94.4L877.4,91.9L877.65,94L877.9,91.7L878.15,90L878.4,92.9L878.65,91.2L878.9,89.2L879.15,94.4L879.4,89.2L879.65,91.9L879.9,94.7L880.15,90.4L880.4,89.4L880.65,90.3L880.9,87.5L881.15,85.3L881.4,84.5L881.65,82.5L881.9,79.1L882.15,77.7L882.4,78L882.65,80.5L882.9,78L883.15,75.1L883.4,71L883.65,71.5L883.9,68.1L884.15,70L884.4,69.4L884.65,70.2L884.9,66.6L885.15,71.3L885.4,67.6L885.65,68.3L885.9,68.8L886.15,65.7L886.4,66.2L886.65,66.8L886.9,68.7L887.15,70.6L887.4,70.4L887.65,72.9L887.9,70.6L888.15,67.4L888.4,65.3L888.65,70.3L888.9,65.7L889.15,64.3L889.4,65.9L889.65,64.6L889.9,68L890.15,68.9L890.4,67.4L890.65,66L890.9,67.1L891.15,67.7L891.4,66.5L891.65,69.9L891.9,66.7L892.15,72.2L892.4,65.5L892.65,65.5L892.9,63.7L893.15,70.2L893.4,69.7L893.65,70.7L893.9,71.7L894.15,73.6L894.4,67.5L894.65,69.7L894.9,69.7L895.15,73.1L895.4,69.3L895.65,65.6L895.9,69.4L896.15,68L896.4,72.1L896.65,67.6L896.9,70L897.15,69.9L897.4,69.6L897.65,71.1L897.9,69.6L898.15,71.3L898.4,72.4L898.65,73.9L898.9,74.2L899.15,70.2L899.4,69.8L899.65,72.2L899.9,72.2L900.15,72.9L900.4,71.2L900.65,68.6L900.9,70.7L901.15,72.2L901.4,68.9L901.65,69.5L901.9,74.7L902.15,72.5L902.4,69.7L902.65,72.2L902.9,74L903.15,74.3L903.4,78.8L903.65,79.6L903.9,77.8L904.15,77.5L904.4,74.7L904.65,78.3L904.9,77.6L905.15,75.3L905.4,79.8L905.65,79.3L905.9,78.7L906.15,78.4L906.4,78.7L906.65,77.7L906.9,81.7L907.15,82.1L907.4,79.9L907.65,83.3L907.9,77.2L908.15,82.4L908.4,82.4L908.65,80.5L908.9,81.6L909.15,81.8L909.4,83.9L909.65,87.5L909.9,86.4L910.15,89L910.4,93.1L910.65,92.6L910.9,93L911.15,100.4L911.4,104.1L911.65,109.1L911.9,111.7L912.15,123.1L912.4,117.8L912.65,117.3L912.9,117L913.15,121.2L913.4,125.2L913.65,125.7L913.9,134.2L914.15,139.7L914.4,137.4L914.65,136.2L914.9,125.8L915.15,124.6L915.4,116.7L915.65,117.7L915.9,124.3L916.15,129.4L916.4,136.9L916.65,143.4L916.9,152.6L917.15,165.8L917.4,173.3L917.65,175.2L917.9,183L918.15,187.3L918.4,193.9L918.65,202.2L918.9,215.8L919.15,243.1L919.4,274.6L919.65,293.8L919.9,295L920.15,280.9L920.4,262.2L920.65,245.4L920.9,228.6L921.15,214.1L921.4,201.5L921.65,189.9L921.9,183.2L922.15,173.3L922.4,171L922.65,171.7L922.9,171.1L923.15,180.3L923.4,188.4L923.65,183.2L923.9,192.7L924.15,196.5L924.4,204.3L924.65,212.3L924.9,220.7L925.15,230.1L925.4,234.3L925.65,246.9L925.9,255L926.15,266.3L926.4,282L926.65,298.5L926.9,313.3L927.15,333.4L927.4,349.9L927.65,365.2L927.9,373.3L928.15,381.8L928.4,393.2L928.65,398.7L928.9,406.9L929.15,414.2L929.4,421.4L929.65,421.7L929.9,429.3L930.15,438.9L930.4,436L930.65,437.3L930.9,442.2L931.15,442.9L931.4,442.5L931.65,440.9L931.9,443.9L932.15,442L932.4,445.8L932.65,440.4L932.9,445L933.15,443.5L933.4,440.8L933.65,440.7L933.9,444.2L934.15,444.1L934.4,439.7L934.65,444L934.9,444.4L935.15,443.7L935.4,441.3L935.65,441.3L935.9,440.7L936.15,441.8L936.4,443.5L936.65,441.8L936.9,441.1L937.15,445L937.4,443.9L937.65,442.7L937.9,439.3L938.15,443.3L938.4,442.5L938.65,442.5L938.9,441.9L939.15,441.3L939.4,444.6L939.65,448.3L939.9,441L940.15,446.8L940.4,441.9L940.65,441.7L940.9,441.1L941.15,444.6L941.4,441.8L941.65,441.1L941.9,441.1L942.15,437.1L942.4,434.3L942.65,423L942.9,410.2L943.15,396.6L943.4,378.9L943.65,370.1L943.9,358L944.15,340L944.4,327.5L944.65,317.3L944.9,300.5L945.15,296.4L945.4,288.3L945.65,280.4L945.9,272.9L946.15,265.8L946.4,259.2L946.65,254.1L946.9,246.9L947.15,237.1L947.4,231.7L947.65,228L947.9,224.9L948.15,219.3L948.4,217.3L948.65,213.8L948.9,205.4L949.15,203L949.4,202.7L949.65,192.8L949.9,196.1L950.15,190.1L950.4,185.4L950.65,181L950.9,175.8L951.15,168.2L951.4,165.3L951.65,167.5L951.9,160.2L952.15,163.6L952.4,159.3L952.65,154.4L952.9,155.9L953.15,149.9L953.4,152.2L953.65,149.9L953.9,150.4L954.15,149.5L954.4,148.6L954.65,154.5L954.9,152L955.15,152L955.4,151.8L955.65,157L955.9,165L956.15,174.9L956.4,183.7L956.65,190.6L956.9,196.7L957.15,207.7L957.4,211.1L957.65,211.2L957.9,205.1L958.15,203.4L958.4,195.3L958.65,195.4L958.9,197.9L959.15,199.4L959.4,209.3L959.65,218.6L959.9,228.5L960.15,242.2L960.4,253.6L960.65,257.5L960.9,274.6L961.15,289.9L961.4,305.5L961.65,322.9L961.9,337.6L962.15,352.7L962.4,364.8L962.65,380.3L962.9,391.8L963.15,403.3L963.4,418.9L963.65,423L963.9,431.6L964.15,432.4L964.4,441.3L964.65,442.8L964.9,446.2L965.15,440.4L965.4,440.1L965.65,435.5L965.9,431.2L966.15,418.8L966.4,411.5L966.65,402.2L966.9,394L967.15,378.7L967.4,363L967.65,348L967.9,324L968.15,305.5L968.4,292.3L968.65,276.2L968.9,262.7L969.15,252.2L969.4,246.7L969.65,236.9L969.9,227L970.15,224.5L970.4,218.5L970.65,213.8L970.9,206.5L971.15,203.5L971.4,192.2L971.65,182.7L971.9,176.8L972.15,169.7L972.4,162.6L972.65,154.8L972.9,149.6L973.15,144L973.4,130.6L973.65,129L973.9,130.8L974.15,120L974.4,121.2L974.65,115.6L974.9,115L975.15,113.3L975.4,107.6L975.65,107.5L975.9,111.4L976.15,101.5L976.4,101.1L976.65,99.4L976.9,98.5L977.15,95.6L977.4,92.1L977.65,91.9L977.9,92.1L978.15,91.4L978.4,92L978.65,85.9L978.9,92.4L979.15,89.5L979.4,86.9L979.65,85.5L979.9,84.4L980.15,85.1L980.4,79.8L980.65,80.5L980.9,86.3L981.15,83.9L981.4,84.2L981.65,78.2L981.9,82L982.15,84.4L982.4,81.8L982.65,83.3L982.9,79.5L983.15,77L983.4,79.8L983.65,76.4L983.9,75.7L984.15,77.4L984.4,74.5L984.65,76.5L984.9,73.4L985.15,74.7L985.4,74.9L985.65,70.9L985.9,71.4L986.15,73.8L986.4,79.4L986.65,72.2L986.9,73.5L987.15,71.4L987.4,72L987.65,72.3L987.9,72.2L988.15,68.5L988.4,68.1L988.65,68.4L988.9,73.2L989.15,71.5L989.4,70.3L989.65,74.5L989.9,68.3L990.15,72.5L990.4,68.2L990.65,71.1L990.9,69L991.15,73.2L991.4,74.7L991.65,71L991.9,72.2L992.15,71.9L992.4,70.1L992.65,68.4L992.9,67.1L993.15,70.5L993.4,71.5L993.65,68.6L993.9,70.6L994.15,71L994.4,69.5L994.65,66.5L994.9,68.4L995.15,73.4L995.4,65.2L995.65,72L995.9,68.8L996.15,70.4L996.4,63.9L996.65,66.8L996.9,64.6L997.15,66L997.4,66.3L997.65,63.2L997.9,69.3L998.15,67.7L998.4,67.7L998.65,64.7L998.9,65.1L999.15,65.5L999.4,62.1L999.65,62.3L999.9,64.3L1000.15,66.2L1000.4,59L1000.65,62.9L1000.9,65.1L1001.15,64L1001.4,64L1001.65,66.4L1001.9,63.8L1002.15,65.3L1002.4,66.5L1002.65,63L1002.9,65.8L1003.15,61.8L1003.4,63.7L1003.65,64.1L1003.9,60.9L1004.15,63.9L1004.4,61.9L1004.65,60.1L1004.9,63.5L1005.15,63.8L1005.4,60.8L1005.65,60.3L1005.9,66.7L1006.15,61.1L1006.4,59.9L1006.65,63.4L1006.9,60.3L1007.15,63.3L1007.4,64.4L1007.65,64.1L1007.9,62.4L1008.15,65.1L1008.4,65.8L1008.65,65L1008.9,63.8L1009.15,70.1L1009.4,64.2L1009.65,64L1009.9,69.5L1010.15,67.9L1010.4,67.2L1010.65,68.1L1010.9,64.5L1011.15,67.9L1011.4,69L1011.65,68.1L1011.9,66L1012.15,67.6L1012.4,66.7L1012.65,66.1L1012.9,61.1L1013.15,62.7L1013.4,65.9L1013.65,62L1013.9,68L1014.15,62.3L1014.4,60.8L1014.65,61.2L1014.9,60.8L1015.15,61.4L1015.4,63.2L1015.65,62.3L1015.9,62.4L1016.15,65L1016.4,62L1016.65,64.3L1016.9,61.2L1017.15,58.1L1017.4,58.5L1017.65,57.7L1017.9,64.1L1018.15,64.3L1018.4,62.2L1018.65,65.5L1018.9,62.4L1019.15,64.9L1019.4,63L1019.65,64.5L1019.9,60.6L1020.15,61.6L1020.4,62.6L1020.65,67.1L1020.9,62.4L1021.15,66L1021.4,68L1021.65,64.8L1021.9,63.3L1022.15,68.7L1022.4,64.1L1022.65,66.3L1022.9,66.4L1023.15,65.2L1023.4,67.2L1023.65,68.3L1023.9,65.2L1024.15,73.3L1024.4,67.1L1024.65,72.8L1024.9,69.3L1025.15,76.4L1025.4,73.5L1025.65,81.3L1025.9,75.1L1026.15,79.4L1026.4,81L1026.65,81.9L1026.9,80L1027.15,83.1L1027.4,82.1L1027.65,83.6L1027.9,86.8L1028.15,81.8L1028.4,86.6L1028.65,86.9L1028.9,88.5L1029.15,90.8L1029.4,89.4L1029.65,94.5L1029.9,98.8L1030.15,101.3L1030.4,105.7L1030.65,111.6L1030.9,111.1L1031.15,118.9L1031.4,117.7L1031.65,123.3L1031.9,125.6L1032.15,131.7L1032.4,137.1L1032.65,136.6L1032.9,146.8"/><path d="M1063.9,66.1L1064.15,74.3L1064.4,70.5L1064.65,67.4L1064.9,66.4L1065.15,69.1L1065.4,67.2L1065.65,67.4L1065.9,68.2L1066.15,68.2L1066.4,66L1066.65,64.1L1066.9,67.4L1067.15,65L1067.4,66L1067.65,68.3L1067.9,69.6L1068.15,72L1068.4,71.7L1068.65,73.7L1068.9,81.4L1069.15,93.2L1069.4,100.4L1069.65,113.2L1069.9,126.9L1070.15,139.5L1070.4,167.3L1070.65,190.7L1070.9,205.3L1071.15,201.6L1071.4,192.4L1071.65,167.9L1071.9,147.9L1072.15,124.7L1072.4,111.8L1072.65,115.2L1072.9,124.9L1073.15,146.3L1073.4,171.5L1073.65,190.4L1073.9,208.9L1074.15,225L1074.4,240.6L1074.65,250L1074.9,264.4L1075.15,270.1L1075.4,272.6L1075.65,266.5L1075.9,247L1076.15,219.7L1076.4,189.3L1076.65,162.7L1076.9,140.1L1077.15,127.8L1077.4,112.5L1077.65,107.5L1077.9,100L1078.15,93.9L1078.4,94.9L1078.65,83.9L1078.9,83.1L1079.15,82.1L1079.4,78.9L1079.65,76.6L1079.9,71.2L1080.15,74.1L1080.4,68.4L1080.65,70.9L1080.9,67.7L1081.15,68.3L1081.4,66.7L1081.65,63.9L1081.9,65.4L1082.15,65.9L1082.4,62.4L1082.65,60.1L1082.9,64.3L1083.15,64.3L1083.4,64.8L1083.65,66.4L1083.9,65.1L1084.15,62.9L1084.4,64.8L1084.65,62.9L1084.9,63L1085.15,60.3L1085.4,60.2L1085.65,63.3L1085.9,65.8L1086.15,62.6L1086.4,61.9L1086.65,56.3L1086.9,63L1087.15,64.5L1087.4,65.1L1087.65,62.3L1087.9,64.1L1088.15,61.9L1088.4,61.5L1088.65,64.5L1088.9,63.7L1089.15,65.1L1089.4,64.4L1089.65,68.8L1089.9,68.3L1090.15,64.1L1090.4,71.1L1090.65,71.1L1090.9,69L1091.15,73.2L1091.4,73.4L1091.65,75.7L1091.9,72.8L1092.15,78.5L1092.4,78.3L1092.65,85L1092.9,93.2L1093.15,94.7L1093.4,106.3L1093.65,112.8L1093.9,130.8L1094.15,130.7L1094.4,127.1L1094.65,114.3L1094.9,114.5L1095.15,124.4L1095.4,142.1L1095.65,161.1L1095.9,186.1L1096.15,214.4L1096.4,219.9L1096.65,203.6L1096.9,188L1097.15,167.5L1097.4,140.8L1097.65,126.6L1097.9,121.6L1098.15,120.4L1098.4,123.1L1098.65,122.6L1098.9,126.8L1099.15,127L1099.4,134.9L1099.65,136.8L1099.9,147.4L1100.15,150.5L1100.4,167.6L1100.65,173.2L1100.9,189.9L1101.15,199.5L1101.4,217L1101.65,232.5L1101.9,249.2L1102.15,287.6L1102.4,328.2L1102.65,374.6L1102.9,392.8L1103.15,392.2L1103.4,369L1103.65,321.1L1103.9,267.8L1104.15,220.1L1104.4,194.9L1104.65,181L1104.9,159.6L1105.15,151.2L1105.4,139.7L1105.65,133.5L1105.9,129.6L1106.15,126.2L1106.4,114L1106.65,112.7L1106.9,108.9L1107.15,108.2L1107.4,102.1L1107.65,104.6L1107.9,106.5L1108.15,110.4L1108.4,114.5L1108.65,115.1L1108.9,122.3L1109.15,117.5L1109.4,121.9L1109.65,120.9L1109.9,117.3L1110.15,109.7L1110.4,113.5L1110.65,105L1110.9,98.7L1111.15,98.9L1111.4,100.7L1111.65,102.8L1111.9,98.2L1112.15,105L1112.4,101.6L1112.65,109L1112.9,112L1113.15,110.6L1113.4,113.6L1113.65,120.9L1113.9,120.5L1114.15,120.8L1114.4,132.5L1114.65,138.1L1114.9,146.3L1115.15,153.7L1115.4,160.6L1115.65,168L1115.9,175.7L1116.15,182.7L1116.4,190.8L1116.65,200L1116.9,212.9L1117.15,221.7L1117.4,233.3L1117.65,243L1117.9,252.4L1118.15,270.8L1118.4,292.1L1118.65,323.3L1118.9,372.5L1119.15,407L1119.4,425.4L1119.65,438.6L1119.9,440.7L1120.15,434.8L1120.4,418.8L1120.65,405.5L1120.9,393.1L1121.15,374.3L1121.4,363.6L1121.65,343.8L1121.9,325.7L1122.15,311.6L1122.4,298.5L1122.65,283.3L1122.9,269.4L1123.15,252.3L1123.4,237.9L1123.65,220L1123.9,207.1L1124.15,195L1124.4,188L1124.65,178.2L1124.9,172.9L1125.15,169.3L1125.4,163.1L1125.65,160L1125.9,155.6L1126.15,148.8L1126.4,144.2L1126.65,135.4L1126.9,139.1L1127.15,132.3L1127.4,135.3L1127.65,131.2L1127.9,134.3L1128.15,135.4L1128.4,128.5L1128.65,131.7L1128.9,127.7L1129.15,131.9L1129.4,131.3L1129.65,126L1129.9,128.6L1130.15,126L1130.4,126.7L1130.65,124.3L1130.9,127.6L1131.15,123.6L1131.4,123.5L1131.65,122.6L1131.9,124.5L1132.15,128.9L1132.4,130.6L1132.65,132.6L1132.9,129L1133.15,135.5L1133.4,132.8L1133.65,134.7L1133.9,137.9L1134.15,134.6L1134.4,133.8L1134.65,136.1L1134.9,139.9L1135.15,137.3L1135.4,138.7L1135.65,142.8L1135.9,142.3L1136.15,149.8L1136.4,151.4L1136.65,151.9L1136.9,153.7L1137.15,154.4L1137.4,157L1137.65,163.3L1137.9,162.7L1138.15,164.8L1138.4,169.7L1138.65,175.3L1138.9,179.5L1139.15,185L1139.4,192.6L1139.65,196.3L1139.9,203.8L1140.15,206.4L1140.4,212L1140.65,216.7L1140.9,221.9L1141.15,226.5L1141.4,233.1L1141.65,236.9L1141.9,239.4L1142.15,241.5L1142.4,252.9L1142.65,257L1142.9,262.2L1143.15,272.3L1143.4,281L1143.65,290.2L1143.9,302.3L1144.15,309.2L1144.4,319.4L1144.65,330.2L1144.9,342.3L1145.15,353.6L1145.4,373.2L1145.65,377.5L1145.9,392.5L1146.15,397.1L1146.4,412.9L1146.65,419.5L1146.9,430.6L1147.15,435.6L1147.4,436.7L1147.65,439.9L1147.9,440.5L1148.15,443.3L1148.4,438.9L1148.65,440.9L1148.9,448L1149.15,441.8L1149.4,446.4L1149.65,444.1L1149.9,444.9L1150.15,442.8L1150.4,442.9L1150.65,443.5L1150.9,445.5L1151.15,448.4L1151.4,444.5L1151.65,444.7L1151.9,444.5L1152.15,443.4L1152.4,440.6L1152.65,442.3L1152.9,443.7L1153.15,445.7L1153.4,447.1L1153.65,441.5L1153.9,441L1154.15,444.5L1154.4,447.7L1154.65,445.3L1154.9,443.3L1155.15,443.7L1155.4,445.5L1155.65,444.2L1155.9,445.1L1156.15,445.4L1156.4,441.7L1156.65,443.1L1156.9,443.9L1157.15,445.5L1157.4,441.8L1157.65,447.3L1157.9,444.1L1158.15,446.7L1158.4,446.2L1158.65,437.5L1158.9,433.7L1159.15,422.1L1159.4,416L1159.65,405.6L1159.9,399.8L1160.15,395.4L1160.4,386.4L1160.65,380.3L1160.9,368.6L1161.15,361.4L1161.4,354.9L1161.65,346.4L1161.9,334.3L1162.15,327.7L1162.4,315.8L1162.65,300.9L1162.9,292.3L1163.15,286.9L1163.4,273.2L1163.65,267.4L1163.9,256.5L1164.15,248.3L1164.4,245.2L1164.65,238.2L1164.9,232.2L1165.15,232.6L1165.4,230.4L1165.65,228.3L1165.9,230.3L1166.15,235.1L1166.4,237.3L1166.65,241L1166.9,248.4L1167.15,254.1L1167.4,258.5L1167.65,266.4L1167.9,273.7L1168.15,281.9L1168.4,295.2L1168.65,302.8L1168.9,310.7L1169.15,324.2L1169.4,330.9L1169.65,343.9L1169.9,353.1L1170.15,366.7L1170.4,375.1L1170.65,385.1L1170.9,395.1L1171.15,399.1L1171.4,408.8L1171.65,412.9L1171.9,422.6L1172.15,427.4L1172.4,435.7L1172.65,439.3L1172.9,445.4L1173.15,437L1173.4,435.1L1173.65,424.5L1173.9,418.2L1174.15,404.5L1174.4,391.4L1174.65,372.9L1174.9,350.8L1175.15,323.7L1175.4,304.8L1175.65,277.9L1175.9,262.3L1176.15,247L1176.4,235.1L1176.65,226.2L1176.9,218.5L1177.15,211.5L1177.4,204.5L1177.65,195L1177.9,184.5L1178.15,180.6L1178.4,164.7L1178.65,163.1L1178.9,158.4L1179.15,149.5L1179.4,144.7L1179.65,141.8L1179.9,140.4L1180.15,135.2L1180.4,130L1180.65,128.4L1180.9,131.9L1181.15,124.4L1181.4,120.8L1181.65,124.2L1181.9,125.2L1182.15,121.5L1182.4,118.2L1182.65,117.3L1182.9,115.8L1183.15,120.3L1183.4,114.1L1183.65,113L1183.9,110.5L1184.15,106.8L1184.4,109.7L1184.65,104.8L1184.9,103.8L1185.15,104.9L1185.4,110.4L1185.65,108.8L1185.9,112.6L1186.15,109.1L1186.4,107.4L1186.65,102.6L1186.9,99.5L1187.15,92L1187.4,92L1187.65,90.9L1187.9,91.2L1188.15,91.8L1188.4,91.5L1188.65,90.7L1188.9,88.2L1189.15,92.1L1189.4,87L1189.65,88.5L1189.9,88.4L1190.15,82.9L1190.4,84.3L1190.65,81.2L1190.9,83.6L1191.15,78.8L1191.4,80.3L1191.65,80.1L1191.9,78.1L1192.15,80.6L1192.4,83.4L1192.65,80.5L1192.9,76.5L1193.15,74.9L1193.4,80.6L1193.65,76.5L1193.9,76.1L1194.15,79.9L1194.4,80.4L1194.65,73L1194.9,75.6L1195.15,76.9L1195.4,74.9L1195.65,79.2L1195.9,73.9L1196.15,75.6L1196.4,75.8L1196.65,72.6L1196.9,74.6L1197.15,74.4L1197.4,75.1L1197.65,75.6L1197.9,74L1198.15,70.6L1198.4,77.7L1198.65,75.8L1198.9,74.9L1199.15,72.4L1199.4,75.2L1199.65,72.7L1199.9,78.4L1200.15,76.1L1200.4,72.5L1200.65,78.9L1200.9,73.3L1201.15,71.4L1201.4,73.1L1201.65,73.5L1201.9,77.5L1202.15,77.8L1202.4,75.6L1202.65,79.3L1202.9,79.1L1203.15,85.3L1203.4,90.6L1203.65,96.6L1203.9,100.8L1204.15,109.9L1204.4,122.7L1204.65,132L1204.9,142.8L1205.15,137.6L1205.4,129.1L1205.65,112.6L1205.9,100.8L1206.15,93.2L1206.4,98.2L1206.65,95L1206.9,93.6L1207.15,98.2L1207.4,102.6L1207.65,100.8L1207.9,99.8L1208.15,95.9L1208.4,93.2L1208.65,85.5L1208.9,83.7L1209.15,84.3L1209.4,81L1209.65,75.8L1209.9,77.3L1210.15,73.8L1210.4,72.5L1210.65,72.7L1210.9,70.8L1211.15,69.7L1211.4,72.5L1211.65,74.9L1211.9,71.5L1212.15,74.2L1212.4,74.8L1212.65,70.1L1212.9,74.3L1213.15,73.9L1213.4,73.1L1213.65,75.9L1213.9,73.2L1214.15,70.9L1214.4,77.1L1214.65,75.5L1214.9,81L1215.15,77.5L1215.4,72L1215.65,76L1215.9,77.7L1216.15,77.5L1216.4,80.7L1216.65,77.3L1216.9,80.9L1217.15,82.1L1217.4,81.4L1217.65,86.3L1217.9,79.6L1218.15,78.9L1218.4,83.8L1218.65,85.9L1218.9,83.1L1219.15,83.9L1219.4,84L1219.65,93.6L1219.9,99.3L1220.15,102.2L1220.4,103.3L1220.65,110.8L1220.9,109.6L1221.15,104.6L1221.4,93.5L1221.65,86.6L1221.9,80L1222.15,77L1222.4,76.7L1222.65,78.3L1222.9,75.1L1223.15,73.2L1223.4,74.2L1223.65,80.5L1223.9,76.8L1224.15,77.3L1224.4,74.6L1224.65,76.3L1224.9,78L1225.15,76L1225.4,77L1225.65,79.9L1225.9,77L1226.15,80L1226.4,81.4L1226.65,84.2L1226.9,82.9L1227.15,83.4L1227.4,90.7L1227.65,89L1227.9,89.9L1228.15,90.1L1228.4,96.1L1228.65,91.6L1228.9,99.2L1229.15,103.4L1229.4,105.1L1229.65,106.6L1229.9,112.3L1230.15,117.7L1230.4,119.6L1230.65,124.5L1230.9,134.4L1231.15,152.4L1231.4,166.4L1231.65,177.4L1231.9,203.5L1232.15,219.1L1232.4,235.2L1232.65,239.5L1232.9,251.3L1233.15,284.9L1233.4,331.9L1233.65,374.1L1233.9,393.7L1234.15,416.4L1234.4,435L1234.65,441.2L1234.9,436.8L1235.15,425.7L1235.4,404L1235.65,389.7L1235.9,367.2L1236.15,334.3L1236.4,288.9L1236.65,251.9L1236.9,220.9L1237.15,205.7L1237.4,191L1237.65,178.2L1237.9,161.6L1238.15,159.9L1238.4,148.4L1238.65,144.8L1238.9,142.3L1239.15,135.7L1239.4,132.5L1239.65,126.3L1239.9,121.1L1240.15,116.4L1240.4,119.7L1240.65,118.1L1240.9,116.8L1241.15,114.1L1241.4,114.9L1241.65,109L1241.9,113.3L1242.15,115.1L1242.4,123.5L1242.65,119.9L1242.9,126.9L1243.15,129.9L1243.4,147.9L1243.65,165.5L1243.9,182.8L1244.15,201.2L1244.4,221.9L1244.65,233.7L1244.9,250.9L1245.15,275.4L1245.4,334.5L1245.65,390.6L1245.9,422.1L1246.15,392.6L1246.4,320.9L1246.65,244.6L1246.9,192.7L1247.15,166.4L1247.4,148L1247.65,136L1247.9,125.3L1248.15,121.6L1248.4,108.7L1248.65,108.1L1248.9,102.9L1249.15,98.6L1249.4,97.8L1249.65,94.2L1249.9,90.1L1250.15,87.8L1250.4,85.5L1250.65,86.8L1250.9,89L1251.15,86.1L1251.4,88.6L1251.65,90.9L1251.9,84L1252.15,85.6L1252.4,85.2L1252.65,86.2L1252.9,79.5L1253.15,83.2L1253.4,77.1L1253.65,82.7L1253.9,82.3L1254.15,82.4L1254.4,79.6L1254.65,87L1254.9,83.7L1255.15,84.7L1255.4,82.5L1255.65,84.9L1255.9,83.8L1256.15,85.4L1256.4,86.2L1256.65,83.6L1256.9,82.6L1257.15,84.5L1257.4,88.5L1257.65,87.7L1257.9,84.8L1258.15,87.8L1258.4,85.8L1258.65,87.9L1258.9,85.5L1259.15,91.5L1259.4,89.6L1259.65,88.9L1259.9,90.3L1260.15,94.9L1260.4,94.7L1260.65,94.6L1260.9,97L1261.15,96.5L1261.4,97.6L1261.65,98.4L1261.9,99.6L1262.15,101.8L1262.4,99.8L1262.65,100.7L1262.9,104.7L1263.15,103.1L1263.4,104.8L1263.65,109.6L1263.9,106.5L1264.15,108.5L1264.4,111.4L1264.65,115.9L1264.9,116.6L1265.15,121.2L1265.4,122.3L1265.65,129.7L1265.9,137.6L1266.15,144.1L1266.4,149.9L1266.65,158.9L1266.9,164.6L1267.15,172.7L1267.4,182.2L1267.65,190.9L1267.9,198.2L1268.15,206.2L1268.4,214L1268.65,218L1268.9,226.9L1269.15,230.6L1269.4,239.5L1269.65,244.6L1269.9,245.4L1270.15,244.5L1270.4,255.8L1270.65,264.9L1270.9,270.1L1271.15,285.5L1271.4,300.3L1271.65,316.9L1271.9,327.7L1272.15,344.8L1272.4,360.3L1272.65,375.7L1272.9,389.5L1273.15,405.8L1273.4,422.7L1273.65,433L1273.9,431.8L1274.15,440.7L1274.4,441.2L1274.65,447.7L1274.9,447.5L1275.15,444.8L1275.4,437.7L1275.65,428.6L1275.9,419.4L1276.15,406.5L1276.4,401L1276.65,390.8L1276.9,375.9L1277.15,368.2L1277.4,354.3L1277.65,341.1L1277.9,332.2L1278.15,315.4L1278.4,303.6L1278.65,288.5L1278.9,277L1279.15,268.1L1279.4,257.1L1279.65,244.3L1279.9,231.9L1280.15,220.8L1280.4,211.1L1280.65,200.8L1280.9,197.8L1281.15,190.5L1281.4,180.7L1281.65,179.3L1281.9,174.7L1282.15,168.7L1282.4,168.7L1282.65,160.5L1282.9,156.7L1283.15,153.3L1283.4,146.5L1283.65,139.1L1283.9,137L1284.15,133.5L1284.4,125.5L1284.65,123.8L1284.9,117.1L1285.15,115L1285.4,114.2L1285.65,112.8L1285.9,109L1286.15,102.8L1286.4,104.8L1286.65,94.1L1286.9,102.5L1287.15,94.4L1287.4,91.5L1287.65,94.4L1287.9,96L1288.15,91.4L1288.4,90.2L1288.65,86.6L1288.9,87.9L1289.15,86.8L1289.4,87.2L1289.65,83.2L1289.9,87.1L1290.15,86L1290.4,84.5L1290.65,78.3L1290.9,90.3L1291.15,87.8L1291.4,83.6L1291.65,83.7L1291.9,81.2L1292.15,78.9L1292.4,78.8L1292.65,80.4L1292.9,81.1L1293.15,79.7L1293.4,83.4L1293.65,75.7L1293.9,78.6L1294.15,82.2L1294.4,79.9L1294.65,81.1L1294.9,78.4L1295.15,76.6L1295.4,78.9L1295.65,75.8L1295.9,77L1296.15,74.2L1296.4,77.4L1296.65,76.3L1296.9,73.7L1297.15,71.5L1297.4,73.7L1297.65,74.5L1297.9,78.9L1298.15,77.4L1298.4,76.1L1298.65,76.6L1298.9,76.1L1299.15,73.6L1299.4,73L1299.65,77.1L1299.9,78.6L1300.15,81.9L1300.4,80.1L1300.65,82.2L1300.9,84.5L1301.15,90.4L1301.4,90.7L1301.65,90.7L1301.9,80L1302.15,76.8L1302.4,78.2L1302.65,73.5L1302.9,73.4L1303.15,71.4L1303.4,64.7L1303.65,69.4L1303.9,68.7L1304.15,67.9L1304.4,70.7L1304.65,71.1L1304.9,71.9L1305.15,65L1305.4,68.9L1305.65,68.5L1305.9,65.1L1306.15,69.6L1306.4,68.4L1306.65,69.4L1306.9,67.2L1307.15,69L1307.4,72.7L1307.65,67.1L1307.9,66.8L1308.15,69.3L1308.4,70.9L1308.65,70.8L1308.9,73.5L1309.15,72.1L1309.4,69.6L1309.65,71.9L1309.9,80.4L1310.15,77.8L1310.4,76.5L1310.65,73.9L1310.9,76.4L1311.15,77.4L1311.4,73.6L1311.65,76.6L1311.9,69.9L1312.15,70.4L1312.4,71.3L1312.65,66.9L1312.9,70.5L1313.15,67.6L1313.4,65.4L1313.65,70.8L1313.9,65.8L1314.15,66.3L1314.4,68.4L1314.65,71.8L1314.9,73.7L1315.15,76.1L1315.4,78.4L1315.65,84.7L1315.9,87L1316.15,89.9L1316.4,102.4L1316.65,102.5L1316.9,115.1L1317.15,120.5L1317.4,128.7L1317.65,155.5L1317.9,191.2L1318.15,222.9L1318.4,253.1L1318.65,248L1318.9,220.5L1319.15,183.7L1319.4,149L1319.65,121.8L1319.9,100.5L1320.15,97.3L1320.4,95.3L1320.65,108.3L1320.9,128L1321.15,162.8L1321.4,190L1321.65,214.4L1321.9,242.8L1322.15,253.6L1322.4,232.2L1322.65,199.1L1322.9,152.9L1323.15,118.9L1323.4,108.6L1323.65,103L1323.9,97.3L1324.15,85.3L1324.4,81L1324.65,76.5L1324.9,72.2L1325.15,73.3L1325.4,69.3L1325.65,71.4L1325.9,68.1L1326.15,68.2L1326.4,70.8L1326.65,66.5L1326.9,67.3L1327.15,68L1327.4,68.4L1327.65,68L1327.9,69.8L1328.15,70.9L1328.4,68.3L1328.65,66.4L1328.9,68.5L1329.15,66.5L1329.4,71.3L1329.65,64.2L1329.9,67.2L1330.15,68.1L1330.4,67.2L1330.65,66.4L1330.9,67L1331.15,66.3L1331.4,69.9L1331.65,65.9L1331.9,67.7L1332.15,70L1332.4,65.9L1332.65,67.9L1332.9,64.7L1333.15,69.7L1333.4,65.7L1333.65,67.6L1333.9,70.9L1334.15,67.5L1334.4,68.6L1334.65,68.1L1334.9,71.8L1335.15,76.2L1335.4,72.2L1335.65,71.4L1335.9,70.2L1336.15,70.2L1336.4,70.7L1336.65,72.9L1336.9,74.5L1337.15,76.6L1337.4,75.3L1337.65,78.2L1337.9,77.5L1338.15,79.7L1338.4,78.3L1338.65,81.7L1338.9,83.4L1339.15,85.8L1339.4,83.4L1339.65,87.3L1339.9,81.5L1340.15,91.9L1340.4,91L1340.65,94.4L1340.9,98.5L1341.15,98.6L1341.4,100.1L1341.65,102.4L1341.9,107.1L1342.15,112.3L1342.4,114.9L1342.65,116.3L1342.9,110.4L1343.15,114.4L1343.4,108.3L1343.65,99.3L1343.9,103.2L1344.15,93.7L1344.4,90.6L1344.65,88.6L1344.9,86.8L1345.15,90.1L1345.4,85.2L1345.65,84.3L1345.9,80.3L1346.15,79.9L1346.4,84.9L1346.65,87.8L1346.9,84.7L1347.15,79.3L1347.4,84L1347.65,84.9L1347.9,84.1L1348.15,87.1L1348.4,86.7L1348.65,90.3L1348.9,91.2L1349.15,89.4L1349.4,91.2L1349.65,91.1L1349.9,93.4L1350.15,92.5L1350.4,94.7L1350.65,96L1350.9,95.5L1351.15,98.8L1351.4,102.8L1351.65,103.5L1351.9,103.5L1352.15,102.1L1352.4,107.1L1352.65,107.9L1352.9,106.1L1353.15,106.9L1353.4,114.5L1353.65,115.5L1353.9,115.3L1354.15,117.2L1354.4,122.7L1354.65,131.2L1354.9,131.7L1355.15,145.4L1355.4,154.6L1355.65,171.3L1355.9,189L1356.15,217L1356.4,243.1L1356.65,276.4L1356.9,306.4L1357.15,330L1357.4,339.4L1357.65,326L1357.9,297.9L1358.15,262.2L1358.4,229.1L1358.65,209.7L1358.9,186L1359.15,169.4L1359.4,155.3L1359.65,146.1L1359.9,138.4L1360.15,141.6L1360.4,140.7L1360.65,140.9L1360.9,145.5L1361.15,146.3L1361.4,149.2L1361.65,148.7L1361.9,158.2L1362.15,166.6L1362.4,168.4L1362.65,182.9L1362.9,181.4L1363.15,190.8L1363.4,198.6L1363.65,206.4L1363.9,215.1L1364.15,220.9L1364.4,236.6L1364.65,239.5L1364.9,249.6L1365.15,261.2L1365.4,273.4L1365.65,288.1L1365.9,304.6L1366.15,324.2L1366.4,339.8L1366.65,346.9L1366.9,360.6L1367.15,375.6L1367.4,389.4L1367.65,395.3L1367.9,403.4L1368.15,415L1368.4,421.2L1368.65,424.6L1368.9,433.9L1369.15,433.8L1369.4,437.8L1369.65,442.4L1369.9,442.1L1370.15,442.4L1370.4,445.4L1370.65,445.9L1370.9,441.8L1371.15,444.3L1371.4,446.5L1371.65,444L1371.9,443.1L1372.15,445L1372.4,448.6L1372.65,445.9L1372.9,447L1373.15,441.2L1373.4,445.8L1373.65,439.7L1373.9,442.5L1374.15,441.3L1374.4,439.7L1374.65,435.4L1374.9,439.8L1375.15,437.2L1375.4,435.8L1375.65,433.4L1375.9,434.5L1376.15,432.3L1376.4,430.3L1376.65,433L1376.9,429.8L1377.15,434L1377.4,435.5L1377.65,435.5L1377.9,439.5L1378.15,439.8L1378.4,443.8L1378.65,446.4L1378.9,443.8L1379.15,443L1379.4,444.7L1379.65,442.7L1379.9,445.5L1380.15,440L1380.4,445.1L1380.65,443.5L1380.9,444.7L1381.15,444.9L1381.4,445.7L1381.65,438L1381.9,436.7L1382.15,432.1L1382.4,421.8L1382.65,414.9L1382.9,411.3L1383.15,401.2L1383.4,391.6L1383.65,383.3L1383.9,375.1L1384.15,360.6L1384.4,350.1L1384.65,339.7L1384.9,326.3L1385.15,315.9L1385.4,313L1385.65,300.1L1385.9,292.4L1386.15,281.4L1386.4,275.3L1386.65,269.2L1386.9,254.6L1387.15,249.2L1387.4,242L1387.65,248.5L1387.9,261.1L1388.15,275.4L1388.4,288.6L1388.65,297.6L1388.9,310.4L1389.15,322.1L1389.4,340L1389.65,345.4L1389.9,343.4L1390.15,320.6L1390.4,285L1390.65,244.8L1390.9,209.5L1391.15,194.4L1391.4,180.4L1391.65,174.2L1391.9,159.5L1392.15,155.4L1392.4,152.1L1392.65,146.9L1392.9,141.7L1393.15,133.2L1393.4,132.2L1393.65,127.7L1393.9,125.4L1394.15,118.9L1394.4,115.5L1394.65,116.3L1394.9,110.1L1395.15,109.2L1395.4,104.6L1395.65,102.1L1395.9,103.2L1396.15,98.9L1396.4,96.1L1396.65,99.4L1396.9,95.4L1397.15,96.5L1397.4,92L1397.65,96L1397.9,89.7L1398.15,91.5L1398.4,88.6L1398.65,85L1398.9,89L1399.15,90.6L1399.4,90.7L1399.65,86.6L1399.9,91.1L1400.15,91.9L1400.4,88.7L1400.65,87.5L1400.9,90.4L1401.15,87.9L1401.4,89.9L1401.65,91.3L1401.9,92.1L1402.15,91.9L1402.4,91.1L1402.65,88.8L1402.9,89.4L1403.15,91.5L1403.4,90.6L1403.65,87.8L1403.9,84.2L1404.15,86.5L1404.4,82.9L1404.65,81.3L1404.9,75.6L1405.15,82.7L1405.4,82.3L1405.65,82.6L1405.9,82L1406.15,79.9L1406.4,75.6L1406.65,85.3L1406.9,78.2L1407.15,77.3L1407.4,74.7L1407.65,74.5L1407.9,76.3L1408.15,80.3L1408.4,78.2L1408.65,76.9L1408.9,77.6L1409.15,74.1L1409.4,76.5L1409.65,77.6L1409.9,75.2L1410.15,73.2L1410.4,76L1410.65,77.1L1410.9,76.7L1411.15,75.1L1411.4,74.9L1411.65,77.4L1411.9,78.1L1412.15,75.4L1412.4,72.6L1412.65,72.2L1412.9,73.4L1413.15,81.5L1413.4,83.6L1413.65,90L1413.9,98L1414.15,106.5L1414.4,122.3L1414.65,148.8L1414.9,161.5L1415.15,146.7L1415.4,122.4L1415.65,106.1L1415.9,96.1L1416.15,90.5L1416.4,88.1L1416.65,83.4L1416.9,85.2L1417.15,79.7L1417.4,82L1417.65,78.1L1417.9,84.3L1418.15,77.6L1418.4,79.9L1418.65,78.3L1418.9,76.8L1419.15,78.5L1419.4,73.8L1419.65,75.5L1419.9,78.8L1420.15,74.8L1420.4,79L1420.65,79L1420.9,76.1L1421.15,76.4L1421.4,80.9L1421.65,79.9L1421.9,82.3L1422.15,80.5L1422.4,83.9L1422.65,81.6L1422.9,88.5L1423.15,85.2L1423.4,84.9L1423.65,88.7L1423.9,94.5L1424.15,92.5L1424.4,97.5L1424.65,98.4L1424.9,99.5L1425.15,98.3L1425.4,105.2L1425.65,110.6L1425.9,108L1426.15,116.6L1426.4,122.1L1426.65,126.5L1426.9,132.2L1427.15,135.7L1427.4,151.5L1427.65,158.4L1427.9,165.4L1428.15,177.7L1428.4,189.4L1428.65,204.4L1428.9,209.7L1429.15,224.7L1429.4,233.7L1429.65,256.2L1429.9,268.5L1430.15,290.5L1430.4,312.3L1430.65,338.6L1430.9,359.1L1431.15,372.7L1431.4,388.5L1431.65,400.6L1431.9,416.5L1432.15,421.3L1432.4,428.5L1432.65,435.3L1432.9,440.8L1433.15,438.5L1433.4,435.7L1433.65,432.4L1433.9,427.6L1434.15,416.6L1434.4,410.7L1434.65,403.5L1434.9,394.9L1435.15,384.3L1435.4,369.4L1435.65,357.3L1435.9,344L1436.15,330.4L1436.4,313.8L1436.65,291L1436.9,269.9L1437.15,248.4L1437.4,219.3L1437.65,202.7L1437.9,186.6L1438.15,173.1L1438.4,160.7L1438.65,150.7L1438.9,140.5L1439.15,132.7L1439.4,129L1439.65,123.9L1439.9,118.7L1440.15,113.8L1440.4,112.5L1440.65,110.4L1440.9,109.2L1441.15,110.6L1441.4,111.8L1441.65,116.7L1441.9,114L1442.15,116.6L1442.4,118L1442.65,120.7L1442.9,123"/></g>
<g stroke="#000" opacity="0.66" stroke-width="1.3"><path d="M179.8,202.9L180.3,208.1L180.8,211.8L181.3,214.1L181.8,215.3L182.3,215.6L182.8,214L183.3,209L183.8,202.7L184.3,197.3L184.8,195.1L185.3,204.6L185.8,206.6L186.3,204.9L186.8,202.3L187.3,199.4L187.8,196.5L188.3,194.1L188.8,192.6L189.3,192.5L189.8,194.9L190.3,198.7L190.8,202.9L191.3,206L191.8,206.8L192.3,202.8L192.8,197.3L193.3,195.4L193.8,196.4L194.3,198.1L194.8,199.8L195.3,201L195.8,200.8L196.3,198.7L196.8,201L197.3,205.7L197.8,209.2L198.3,209L198.8,206.2L199.3,203L199.8,201L200.3,203.4L200.8,207.7L201.3,205.5L201.8,200.3L202.3,199.4L202.8,204.2L203.3,213.4L203.8,245.9L204.3,270.4L204.8,243.8L205.3,224.7L205.8,219.3L206.3,215.4L206.8,213.1L207.3,213.6L207.8,218.2L208.3,215.1L208.8,213.1L209.3,215.6L209.8,220.3L210.3,226.3L210.8,233.3L211.3,243.5L211.8,254.6L212.3,264.2L212.8,273.1L213.3,281.9L213.8,290.8L214.3,300L214.8,309.1L215.3,318.6L215.8,329.1L216.3,341.9L216.8,358.2L217.3,375.5L217.8,390.9L218.3,402.8L218.8,414.7L219.3,425.9L219.8,435.4L220.3,441.9L220.8,444.3L221.3,439.6L221.8,427.5L222.3,411.1L222.8,393.6L223.3,378L223.8,365L224.3,352.6L224.8,339.4L225.3,324.1L225.8,303.1L226.3,276.2L226.8,260.2L227.3,248.2L227.8,240.2L228.3,237.1L228.8,235.5L229.3,234.2L229.8,232.2L230.3,229.6L230.8,227.6L231.3,228.4L231.8,232.9L232.3,237.6L232.8,238.3L233.3,234.1L233.8,228.3L234.3,224.7L234.8,225.7L235.3,229.8L235.8,235.7L236.3,242.6L236.8,249.3L237.3,256.7L237.8,265.4L238.3,276L238.8,288.7L239.3,308.7L239.8,333.9L240.3,357.8L240.8,383.4L241.3,395.7L241.8,387L242.3,368.1L242.8,350L243.3,333.7L243.8,317.2L244.3,306.8L244.8,312.4L245.3,339.7L245.8,366.4L246.3,393.9L246.8,399.2L247.3,387.9L247.8,371L248.3,356.4L248.8,344.1L249.3,332L249.8,324.5L250.3,327.9L250.8,344.9L251.3,358.1L251.8,351.7L252.3,334.9L252.8,328.6L253.3,340.6L253.8,342.6L254.3,323.5L254.8,303.4L255.3,283.9L255.8,272.3L256.3,265.5L256.8,260.2L257.3,256.6L257.8,257.3L258.3,269.4L258.8,284.9L259.3,292.5L259.8,285.9L260.3,271.5L260.8,257L261.3,250.4L261.8,253.9L262.3,260.1L262.8,262.4L263.3,259.8L263.8,254.3L264.3,247L264.8,239.2L265.3,231.9L265.8,226.5L266.3,224L266.8,224.1L267.3,224.5L267.8,225.1L268.3,225.8L268.8,226.6L269.3,228.3L269.8,230.5L270.3,232.6L270.8,234L271.3,233.5L271.8,231.1L272.3,230.8L272.8,234L273.3,239.1L273.8,243.9L274.3,246.6L274.8,246.2L275.3,244.3L275.8,241.8L276.3,239.7L276.8,238.9L277.3,241.4L277.8,246.3L278.3,251.5L278.8,254.9L279.3,254.1L279.8,249.4L280.3,247.5L280.8,249.6L281.3,253.4L281.8,258.1L282.3,262.8L282.8,267L283.3,271.4L283.8,276.2L284.3,282.2L284.8,290L285.3,292.6L285.8,288.1L286.3,291.3L286.8,300.2L287.3,306.9L287.8,312.3L288.3,318.9L288.8,330.1L289.3,346L289.8,360.4L290.3,373.1L290.8,385.3L291.3,396.7L291.8,407L292.3,415.8L292.8,424.3L293.3,432.3L293.8,438.7L294.3,442.4L294.8,443.5L295.3,444.2L295.8,444.4L296.3,444.4L296.8,444.4L297.3,444.4L297.8,444.4L298.3,444.4L298.8,444.4L299.3,444.4L299.8,444.4L300.3,444.4L300.8,444.4L301.3,444.4L301.8,444.4L302.3,444.4L302.8,444.4L303.3,444.4L303.8,444.4L304.3,444.4L304.8,444.4L305.3,444.4L305.8,444.4L306.3,444.4L306.8,444.4L307.3,444.4L307.8,444.4L308.3,444.4L308.8,444.4L309.3,444.4L309.8,444.4L310.3,444.4L310.8,444.4L311.3,444.4L311.8,444.4L312.3,444.4L312.8,444.4L313.3,444.4L313.8,444.4L314.3,444.4L314.8,444.4L315.3,444.4L315.8,444.4L316.3,444.4L316.8,444.4L317.3,444.4L317.8,444.4L318.3,444.4L318.8,444.4L319.3,444.4L319.8,444.4L320.3,444.4L320.8,444.4L321.3,444.4L321.8,444.4L322.3,444.4L322.8,444.4L323.3,444.4L323.8,444.4L324.3,444.4L324.8,444.4L325.3,444.4L325.8,444.4L326.3,444.4L326.8,444.4L327.3,444.4L327.8,444.4L328.3,444.4L328.8,444.4L329.3,444.4L329.8,444.4L330.3,444.4L330.8,444.4L331.3,444.4L331.8,444.4L332.3,444.4L332.8,444.4L333.3,444.4L333.8,444.4L334.3,444.4L334.8,444.4L335.3,444.4L335.8,444.4L336.3,444.4L336.8,444.4L337.3,444.4L337.8,444.4L338.3,444.4L338.8,444.4L339.3,444.4L339.8,444.4L340.3,444.4L340.8,444.4L341.3,444.4L341.8,444.4L342.3,444.4L342.8,444.4L343.3,444.4L343.8,444.4L344.3,444.4L344.8,444.4L345.3,444.4L345.8,444.4L346.3,444.4L346.8,444.4L347.3,444.4L347.8,444.4L348.3,444.4L348.8,444.4L349.3,444.4L349.8,443.3L350.3,441.5L350.8,439.3L351.3,437.1L351.8,435.2L352.3,433.9L352.8,433.6L353.3,434.5L353.8,436.4L354.3,438.9L354.8,441.3L355.3,443.4L355.8,444.4L356.3,444.4L356.8,444.4L357.3,444.4L357.8,444.4L358.3,444.4L358.8,444.4L359.3,444.4L359.8,444.4L360.3,444.4L360.8,444.4L361.3,444.4L361.8,444.4L362.3,444.4L362.8,444.4L363.3,444.4L363.8,444.4L364.3,444.4L364.8,444.4L365.3,444.4L365.8,444.4L366.3,444.4L366.8,444.1L367.3,441.3L367.8,437L368.3,432.3L368.8,428.5L369.3,426.5L369.8,427.4L370.3,430.6L370.8,435.1L371.3,439.7L371.8,443.2L372.3,444.4L372.8,444.4L373.3,444.4L373.8,444.4L374.3,444.4L374.8,444.4L375.3,444.4L375.8,444.4L376.3,444.4L376.8,444.4L377.3,444.4L377.8,444.4L378.3,444.4L378.8,444.4L379.3,444.4L379.8,444.4L380.3,444.4L380.8,444.4L381.3,444.4L381.8,444.4L382.3,444.4L382.8,444.4L383.3,444.4L383.8,444.4L384.3,444.4L384.8,444.4L385.3,442.5L385.8,434.8L386.3,423.7L386.8,411.3L387.3,399.8L387.8,391.2L388.3,387.9L388.8,392.3L389.3,403.2L389.8,417.1L390.3,430.2L390.8,438.9L391.3,440.4L391.8,438.7L392.3,436.4L392.8,434.7L393.3,435.2L393.8,438.3L394.3,441.9L394.8,443.7L395.3,441.7L395.8,436.5L396.3,428.9L396.8,420.1L397.3,410.8L397.8,402.2L398.3,395L398.8,390.4L399.3,389.2L399.8,393.8L400.3,403.3L400.8,415.4L401.3,427.7L401.8,437.9L402.3,443.7L402.8,444.3L403.3,444.3L403.8,444.3L404.3,444.3L404.8,444.3L405.3,444.3L405.8,444.3L406.3,444.3L406.8,444.3L407.3,444.3L407.8,444.3L408.3,444.3L408.8,443.7L409.3,441.4L409.8,438L410.3,432.3L410.8,419.2L411.3,402.1L411.8,385.3L412.3,373L412.8,369.6L413.3,374.6L413.8,385.2L414.3,399L414.8,414L415.3,427.9L415.8,438.4L416.3,443.5L416.8,442L417.3,436.4L417.8,428.5L418.3,420.1L418.8,412.9L419.3,408.7L419.8,409L420.3,412.6L420.8,418.2L421.3,424.7L421.8,430.7L422.3,435.1L422.8,436.9L423.3,437.8L423.8,438.4L424.3,439.3L424.8,440.7L425.3,442.4L425.8,443.7L426.3,444.3L426.8,444.3L427.3,444.3L427.8,444.3L428.3,444.3L428.8,444.3L429.3,444.3L429.8,444.3L430.3,444.3L430.8,444.3L431.3,444.3L431.8,444.3L432.3,444.3L432.8,444.3L433.3,444.3L433.8,444.3L434.3,443.4L434.8,438.4L435.3,430.3L435.8,420.7L436.3,411.2L436.8,403.1L437.3,398.1L437.8,398.6L438.3,411.6L438.8,428.2L439.3,436.5L439.8,427.5L440.3,410.8L440.8,401.8L441.3,408L441.8,414.2L442.3,408.7L442.8,397.6L443.3,388.9L443.8,389.5L444.3,393.1L444.8,390.2L445.3,383L445.8,374L446.3,365.6L446.8,359L447.3,352L447.8,345.3L448.3,340.1L448.8,337.7L449.3,341L449.8,353.1L450.3,371.1L450.8,391.8L451.3,412.2L451.8,429.2L452.3,439.8L452.8,439.7L453.3,422.1L453.8,398.5L454.3,384L454.8,394L455.3,421L455.8,436.4L456.3,431.1L456.8,416.6L457.3,395.7L457.8,371L458.3,344.9L458.8,320.2L459.3,299.2L459.8,284.7L460.3,279.2L460.8,286.9L461.3,307.2L461.8,335.4L462.3,366.8L462.8,396.9L463.3,420.9L463.8,434.3L464.3,434.5L464.8,428.3L465.3,418.3L465.8,406.1L466.3,393.3L466.8,381.8L467.3,373.1L467.8,368.9L468.3,370.8L468.8,376.2L469.3,379.3L469.8,376.3L470.3,370.3L470.8,366.3L471.3,367.7L471.8,373.2L472.3,381.7L472.8,392.3L473.3,404.1L473.8,415.9L474.3,426.8L474.8,435.9L475.3,442L475.8,444.3L476.3,444.3L476.8,444.3L477.3,444.3L477.8,444.3L478.3,444.3L478.8,444.3L479.3,444.3L479.8,444.3L480.3,444.3L480.8,443L481.3,437.9L481.8,429.7L482.3,419L482.8,406.5L483.3,392.8L483.8,378.6L484.3,364.6L484.8,351.3L485.3,339.4L485.8,329.7L486.3,322.7L486.8,319.1L487.3,321.4L487.8,335.7L488.3,358.2L488.8,384.2L489.3,408.7L489.8,427L490.3,434.1L490.8,429.5L491.3,416.9L491.8,398.2L492.3,375.4L492.8,350.2L493.3,324.7L493.8,300.8L494.3,280.2L494.8,264.9L495.3,256.9L495.8,257.4L496.3,264.1L496.8,274.7L497.3,287.1L497.8,299.2L498.3,309L498.8,314.5L499.3,312.6L499.8,302L500.3,291.4L500.8,290.4L501.3,304.3L501.8,329L502.3,359.7L502.8,391.3L503.3,419L503.8,437.7L504.3,442.5L504.8,428.3L505.3,403.3L505.8,379.6L506.3,368.9L506.8,382.7L507.3,408.3L507.8,422L508.3,417.9L508.8,406.8L509.3,390.4L509.8,370.5L510.3,348.9L510.8,327.4L511.3,307.7L511.8,291.6L512.3,280.6L512.8,276.6L513.3,290.3L513.8,312.5L514.3,316.1L514.8,302L515.3,292.4L515.8,316.1L516.3,360.4L516.8,384.3L517.3,378.5L517.8,363.3L518.3,341.6L518.8,316.4L519.3,290.7L519.8,267.3L520.3,249.1L520.8,239.2L521.3,239.7L521.8,248.2L522.3,262.8L522.8,281.7L523.3,303.1L523.8,325.5L524.3,347L524.8,365.9L525.3,380.5L525.8,389L526.3,389.4L526.8,378.6L527.3,358.8L527.8,333.5L528.3,305.8L528.8,279.2L529.3,256.9L529.8,242.3L530.3,238.9L530.8,256.6L531.3,287.7L531.8,317.2L532.3,330.4L532.8,322.9L533.3,307.2L533.8,293.6L534.3,292.5L534.8,309.5L535.3,337.9L535.8,369.6L536.3,396.5L536.8,410.2L537.3,401.6L537.8,371.7L538.3,333.4L538.8,299.3L539.3,282.2L539.8,273.6L540.3,266.5L540.8,261.5L541.3,258.8L541.8,258.3L542.3,258.2L542.8,259.8L543.3,274L543.8,288.3L544.3,288.8L544.8,282.2L545.3,272.3L545.8,261.8L546.3,253.5L546.8,250L547.3,254L547.8,264.7L548.3,280.3L548.8,299L549.3,318.9L549.8,338L550.3,354.4L550.8,366.3L551.3,371.8L551.8,365.2L552.3,342.2L552.8,310L553.3,276.3L553.8,248.7L554.3,235L554.8,241.4L555.3,260.6L555.8,276.5L556.3,277.2L556.8,270.7L557.3,260.2L557.8,247.4L558.3,234.1L558.8,222.1L559.3,213.1L559.8,208.8L560.3,210.5L560.8,216.8L561.3,225.8L561.8,235.2L562.3,242.9L562.8,246.7L563.3,242.7L563.8,231.1L564.3,221.5L564.8,223.2L565.3,238.7L565.8,263.2L566.3,291.3L566.8,318L567.3,337.9L567.8,345.7L568.3,338.7L568.8,320.8L569.3,296.6L569.8,270.9L570.3,248.6L570.8,234.3L571.3,232.9L571.8,237.8L572.3,232.8L572.8,225.5L573.3,227.3L573.8,238.3L574.3,246.9L574.8,244.5L575.3,236.9L575.8,230.7L576.3,233.7L576.8,254.2L577.3,287.3L577.8,327.2L578.3,368.3L578.8,404.7L579.3,430.7L579.8,440.7L580.3,435L580.8,419.8L581.3,397.4L581.8,370.4L582.3,341L582.8,311.9L583.3,285.4L583.8,264.2L584.3,250.6L584.8,248.1L585.3,275.5L585.8,315.9L586.3,336.7L586.8,329.8L587.3,312.7L587.8,291L588.3,270.4L588.8,256.6L589.3,254.5L589.8,259.3L590.3,268.7L590.8,281.9L591.3,297.9L591.8,316L592.3,335.4L592.8,355.5L593.3,375.3L593.8,394L594.3,411L594.8,425.4L595.3,436.3L595.8,443L596.3,444.4L596.8,441.6L597.3,434.7L597.8,424.3L598.3,410.9L598.8,395.1L599.3,377.2"/><path d="M632.9,207.1L633.4,207.3L633.9,207.9L634.4,211.5L634.9,220.6L635.4,228.9L635.9,229.1L636.4,215.8L636.9,204.9L637.4,202.1L637.9,200.4L638.4,198.9L638.9,197.5L639.4,196.3L639.9,195.5L640.4,195.3L640.9,196.2L641.4,197.8L641.9,199.5L642.4,201.3L642.9,203.5L643.4,205L643.9,203.9L644.4,199.4L644.9,196.3L645.4,194.3L645.9,193.2L646.4,193.7L646.9,195.3L647.4,196.5L647.9,197.3L648.4,197.3L648.9,196.3L649.4,196.5L649.9,197.3L650.4,198.6L650.9,200.2L651.4,203.1L651.9,205.6L652.4,204.9L652.9,201.9L653.4,202.8L653.9,205.5L654.4,210.7L654.9,212.7L655.4,205.5L655.9,198.3L656.4,195.7L656.9,194.2L657.4,194.5L657.9,195.6L658.4,196.9L658.9,197.8L659.4,198.6L659.9,199L660.4,198.9L660.9,198.4L661.4,197.6L661.9,196.9L662.4,196.4L662.9,196.1L663.4,195.8L663.9,194.8L664.4,194L664.9,194.7L665.4,196.9L665.9,201.7L666.4,211.8L666.9,221.1L667.4,227.4L667.9,223L668.4,216.1L668.9,212.5L669.4,209.8L669.9,209.7L670.4,213.8L670.9,215.3L671.4,206.6L671.9,200.5L672.4,196.8L672.9,195.2L673.4,194.2L673.9,193.5L674.4,192.9L674.9,192.3L675.4,191.7L675.9,191.2L676.4,191L676.9,190.9L677.4,191L677.9,191.2L678.4,191.6L678.9,192.2L679.4,196.3L679.9,202L680.4,208.3L680.9,210.2L681.4,201.2L681.9,195.6L682.4,193.3L682.9,192.1L683.4,192.4L683.9,193.5L684.4,194.5L684.9,194.8L685.4,195.1L685.9,195.3L686.4,195.4L686.9,194.8L687.4,193.8L687.9,193.5L688.4,194.6L688.9,196.5L689.4,198.1L689.9,199.8L690.4,200.4L690.9,199.5L691.4,199.3L691.9,204.7L692.4,213L692.9,220.3L693.4,211.8L693.9,202.8L694.4,199.3L694.9,198.2L695.4,197.7L695.9,197.4L696.4,197.3L696.9,197.3L697.4,197.3L697.9,197.4L698.4,197.7L698.9,198.2L699.4,198.8L699.9,199.6L700.4,200.3L700.9,201.1L701.4,201.8L701.9,202.7L702.4,203.6L702.9,204.7L703.4,205.9L703.9,207.1L704.4,208.4L704.9,210L705.4,211.8L705.9,213.9L706.4,216.3L706.9,219L707.4,221.9L707.9,225L708.4,228.3L708.9,232.6L709.4,239.5L709.9,250.8L710.4,260L710.9,269.3L711.4,280.7L711.9,296.6L712.4,316.1L712.9,338.8L713.4,361.6L713.9,381L714.4,398.4L714.9,416L715.4,431.8L715.9,439.1L716.4,441.9L716.9,443.9L717.4,444.4L717.9,444.4L718.4,443.7L718.9,441.8L719.4,439L719.9,431.3L720.4,414.8L720.9,398.5L721.4,386.4L721.9,375.2L722.4,363.2L722.9,349.1L723.4,333.2L723.9,314.6L724.4,289.8L724.9,262.2L725.4,242L725.9,240.1L726.4,246.3L726.9,252.6L727.4,253L727.9,243.8L728.4,232.1L728.9,226.3L729.4,229.1L729.9,230.8L730.4,225.8L730.9,222L731.4,226.9L731.9,230.1L732.4,221L732.9,213.8L733.4,208.2L733.9,204.7L734.4,202.8L734.9,201.6L735.4,201L735.9,200.6L736.4,200.7L736.9,201.4L737.4,202.4L737.9,204.2L738.4,207L738.9,211.5L739.4,218.7L739.9,231.8L740.4,268.1L740.9,277.2L741.4,235.8L741.9,213.7L742.4,206.2L742.9,202.9L743.4,201.1L743.9,201L744.4,201.5L744.9,200.4L745.4,198.6L745.9,197.5L746.4,196.6L746.9,195.3L747.4,194L747.9,193.2L748.4,192.5L748.9,192.7L749.4,194L749.9,194.4L750.4,193.7L750.9,193L751.4,192.5L751.9,192L752.4,191.6L752.9,191.4L753.4,191.4L753.9,191.4L754.4,191.4L754.9,191.7L755.4,192.2L755.9,192.4L756.4,191.9L756.9,191.1L757.4,190.7L757.9,190.8L758.4,191L758.9,191.2L759.4,192.9L759.9,197.9L760.4,204.2L760.9,207L761.4,202.6L761.9,198L762.4,196.1L762.9,194.9L763.4,194.1L763.9,193.4L764.4,192.8L764.9,192.4L765.4,192.2L765.9,192.4L766.4,193.2L766.9,194.4L767.4,196L767.9,198.9L768.4,205.1L768.9,212.9L769.4,218.9L769.9,213.9L770.4,204.5L770.9,198.3L771.4,195.6L771.9,194.2L772.4,194.4L772.9,195.5L773.4,197.3L773.9,198.6L774.4,196.2L774.9,194.9L775.4,194.3L775.9,195.7L776.4,196.7L776.9,196L777.4,197L777.9,200.7L778.4,204.8L778.9,207.2L779.4,203.6L779.9,199.4L780.4,197.2L780.9,196.3L781.4,195.9L781.9,195.7L782.4,195.7L782.9,196L783.4,196.4L783.9,197L784.4,197.8L784.9,198.9L785.4,200.1L785.9,201.5L786.4,203.1L786.9,204.8L787.4,206.9L787.9,209.4L788.4,212.3L788.9,215.7L789.4,219.6L789.9,224.6L790.4,231.3L790.9,238.2L791.4,244.8L791.9,251.8L792.4,260.5L792.9,271.3L793.4,286.8L793.9,316.2L794.4,359.1L794.9,417.6L795.4,440.5L795.9,394.2L796.4,341.8L796.9,303.7L797.4,272.3L797.9,244.9L798.4,231.6L798.9,225.2L799.4,220.9L799.9,217.6L800.4,215.1L800.9,213L801.4,211.2L801.9,210.3L802.4,209.8L802.9,209.6L803.4,209.8L803.9,210.2L804.4,210.9L804.9,211.6L805.4,212.7L805.9,214.7L806.4,217L806.9,219.4L807.4,222.1L807.9,225L808.4,227.9L808.9,231.2L809.4,236.7L809.9,245.7L810.4,256.6L810.9,270.3L811.4,283.2L811.9,293L812.4,301.8L812.9,312.5L813.4,328.6L813.9,357.2L814.4,388.3L814.9,413.5L815.4,437L815.9,444.4L816.4,432.4L816.9,411.2L817.4,389.9L817.9,364.1L818.4,337.7L818.9,316.9L819.4,300.4L819.9,287L820.4,278.2L820.9,272.6L821.4,266.8L821.9,260L822.4,253.5L822.9,248.7L823.4,245.4L823.9,242.5L824.4,240.5L824.9,239.9L825.4,242.1L825.9,246.3L826.4,251.4L826.9,259.3L827.4,269.7L827.9,281L828.4,291.6L828.9,303.6L829.4,320.8L829.9,361.6L830.4,406.1L830.9,439.6L831.4,425.6L831.9,392.5L832.4,357.8L832.9,325.6L833.4,303.5L833.9,285.2L834.4,270.1L834.9,257.6L835.4,247.1L835.9,238.4L836.4,230.9L836.9,224.5L837.4,219.7L837.9,216L838.4,213.3L838.9,211.4L839.4,210.2L839.9,209.6L840.4,209.4L840.9,209.7L841.4,211.4L841.9,215.3L842.4,224.3L842.9,229.8L843.4,222L843.9,215.1L844.4,210.2L844.9,207L845.4,205.6L845.9,204.8L846.4,204.6L846.9,205.2L847.4,206.2L847.9,207.7L848.4,209.8L848.9,212.3L849.4,215.6L849.9,219.1L850.4,222.7L850.9,226.9L851.4,231.5L851.9,240.4L852.4,260.6L852.9,283.4L853.4,318.2L853.9,369.8L854.4,416L854.9,422.6L855.4,378.8L855.9,330L856.4,284.9L856.9,253.4L857.4,235.2L857.9,229.8L858.4,226.8L858.9,225.3L859.4,224.5L859.9,224.4L860.4,224.8L860.9,225.7L861.4,227.6L861.9,230.2L862.4,233.4L862.9,240.2L863.4,253.2L863.9,265.9L864.4,278.6L864.9,289.6L865.4,299L865.9,309.6L866.4,324.2L866.9,350.5L867.4,381.8L867.9,406.6L868.4,428.1L868.9,441.2L869.4,432.8L869.9,407.7L870.4,374.1L870.9,336.9L871.4,307L871.9,285.8L872.4,269.9L872.9,258.4L873.4,249.5L873.9,243L874.4,238.2L874.9,233.2L875.4,227.6L875.9,222.4L876.4,218.3L876.9,216.2L877.4,215.1L877.9,214.3L878.4,214L878.9,214L879.4,214.1L879.9,214L880.4,213.6L880.9,211.8L881.4,209.5L881.9,207L882.4,205.1L882.9,203.4L883.4,202.1L883.9,201L884.4,200L884.9,199.2L885.4,198.7L885.9,198.4L886.4,198.3L886.9,198.3L887.4,198.4L887.9,198.5L888.4,198.6L888.9,198.6L889.4,198.5L889.9,198.4L890.4,198.4L890.9,198.5L891.4,198.5L891.9,198.6L892.4,198.7L892.9,198.7L893.4,198.8L893.9,198.9L894.4,199.1L894.9,199.3L895.4,199.5L895.9,199.5L896.4,199.5L896.9,199.6L897.4,199.9L897.9,200.3L898.4,200.7L898.9,200.9L899.4,201L899.9,200.9L900.4,200.7L900.9,200.5L901.4,200.3L901.9,200.4L902.4,201.1L902.9,202.2L903.4,203.8L903.9,204.6L904.4,204.8L904.9,205L905.4,205.2L905.9,205.2L906.4,205.3L906.9,205.4L907.4,205.6L907.9,206L908.4,206.5L908.9,207.1L909.4,208L909.9,209.4L910.4,211.7L910.9,215.1L911.4,220L911.9,226.9L912.4,230.5L912.9,229.3L913.4,234.4L913.9,241L914.4,243.9L914.9,236.7L915.4,232.6L915.9,235L916.4,242L916.9,253.8L917.4,264.4L917.9,272.1L918.4,280.6L918.9,295.1L919.4,335.6L919.9,346L920.4,325.1L920.9,300.9L921.4,285.9L921.9,272.5L922.4,265.3L922.9,266.9L923.4,272.6L923.9,279.8L924.4,287.4L924.9,296.8L925.4,307.9L925.9,320.7L926.4,338.4L926.9,361L927.4,383.3L927.9,400.2L928.4,410.6L928.9,420.2L929.4,428.7L929.9,435.8L930.4,440.8L930.9,443.4L931.4,443.7L931.9,443.7L932.4,443.7L932.9,443.7L933.4,443.7L933.9,443.7L934.4,443.7L934.9,443.7L935.4,443.7L935.9,443.7L936.4,443.7L936.9,443.7L937.4,443.7L937.9,443.7L938.4,443.7L938.9,443.7L939.4,443.7L939.9,443.7L940.4,443.7L940.9,443.7L941.4,443.7L941.9,443.7L942.4,437.3L942.9,422.4L943.4,405.5L943.9,388.8L944.4,369.5L944.9,352.7L945.4,341.4L945.9,332.3L946.4,324L946.9,315L947.4,306.4L947.9,300.6L948.4,296L948.9,292L949.4,287.8L949.9,282.7L950.4,276.3L950.9,269.5L951.4,263.6L951.9,259.8L952.4,257.1L952.9,254.8L953.4,253.3L953.9,253L954.4,253.1L954.9,253.5L955.4,254.8L955.9,261.7L956.4,272.2L956.9,283L957.4,294L957.9,289.2L958.4,282.1L958.9,282.6L959.4,290.8L959.9,303.5L960.4,317.6L960.9,333.6L961.4,354L961.9,374.3L962.4,392.9L962.9,411.5L963.4,426.4L963.9,435.6L964.4,442.5L964.9,444.4L965.4,440.6L965.9,432.5L966.4,422.3L966.9,410.1L967.4,391L967.9,368L968.4,345.1L968.9,326.1L969.4,313.8L969.9,304.3L970.4,296L970.9,287.9L971.4,279L971.9,269.4L972.4,259.8L972.9,249.8L973.4,241.2L973.9,235.9L974.4,232L974.9,228.3L975.4,224.7L975.9,221.6L976.4,219.2L976.9,217.2L977.4,215.4L977.9,213.8L978.4,212.3L978.9,211L979.4,209.7L979.9,208.7L980.4,207.8L980.9,207L981.4,206.2L981.9,205.5L982.4,204.8L982.9,204.1L983.4,203.6L983.9,203.1L984.4,202.6L984.9,202.2L985.4,201.7L985.9,201.4L986.4,201.1L986.9,200.8L987.4,200.5L987.9,200.3L988.4,200.1L988.9,199.9L989.4,199.8L989.9,199.7L990.4,199.5L990.9,199.3L991.4,199.1L991.9,199L992.4,198.8L992.9,198.6L993.4,198.4L993.9,198.3L994.4,198.5L994.9,198.7L995.4,198.9L995.9,198.8L996.4,198.3L996.9,197.5L997.4,196.8L997.9,196.5L998.4,196L998.9,195.6L999.4,195.3L999.9,195.2L1000.4,195.3L1000.9,195.7L1001.4,196.2L1001.9,196.7L1002.4,196.8L1002.9,196.4L1003.4,195.9L1003.9,195.5L1004.4,195.3L1004.9,195.1L1005.4,194.9L1005.9,194.8L1006.4,194.8L1006.9,195L1007.4,195.4L1007.9,196L1008.4,196.6L1008.9,197.1L1009.4,197.7L1009.9,198.3L1010.4,198.8L1010.9,199L1011.4,198.7L1011.9,198L1012.4,197.2L1012.9,196.6L1013.4,195.9L1013.9,195.4L1014.4,195.1L1014.9,195L1015.4,195L1015.9,195L1016.4,195.2L1016.9,195.5L1017.4,195.8L1017.9,196L1018.4,196.3L1018.9,196.4L1019.4,196.4L1019.9,196.5L1020.4,196.8L1020.9,197.3L1021.4,197.6L1021.9,197.7L1022.4,197.8L1022.9,198L1023.4,198.2L1023.9,198.8L1024.4,199.9L1024.9,201.5L1025.4,204.4L1025.9,206L1026.4,206.9L1026.9,207.5L1027.4,208L1027.9,208.5L1028.4,209.2L1028.9,210.7L1029.4,212.9L1029.9,216L1030.4,220.1L1030.9,225.2L1031.4,229.3L1031.9,233.5L1032.4,239.2L1032.9,245.1"/><path d="M1063.9,197L1064.4,197.2L1064.9,197.3L1065.4,197.4L1065.9,197.4L1066.4,197.2L1066.9,197L1067.4,197.3L1067.9,198.7L1068.4,201.1L1068.9,206.9L1069.4,219.8L1069.9,236.5L1070.4,262.4L1070.9,288.5L1071.4,278.5L1071.9,248.3L1072.4,226.7L1072.9,236.4L1073.4,265.2L1073.9,289.7L1074.4,311.1L1074.9,325.8L1075.4,333.9L1075.9,316.4L1076.4,276.4L1076.9,247.5L1077.4,229.6L1077.9,219.5L1078.4,213.3L1078.9,208.4L1079.4,204.8L1079.9,202.3L1080.4,200.4L1080.9,198.9L1081.4,197.6L1081.9,196.6L1082.4,196.1L1082.9,195.8L1083.4,195.7L1083.9,195.6L1084.4,195.5L1084.9,195.4L1085.4,195.3L1085.9,195.2L1086.4,195.2L1086.9,195.2L1087.4,195.3L1087.9,195.6L1088.4,195.9L1088.9,196.3L1089.4,196.8L1089.9,197.5L1090.4,198.5L1090.9,199.8L1091.4,201.3L1091.9,203.4L1092.4,207.2L1092.9,212.8L1093.4,221.1L1093.9,236.6L1094.4,237.8L1094.9,229.4L1095.4,246.4L1095.9,274.8L1096.4,297.6L1096.9,277.5L1097.4,247.8L1097.9,232.6L1098.4,233.6L1098.9,236.5L1099.4,240.6L1099.9,248.6L1100.4,262.1L1100.9,278.1L1101.4,296.3L1101.9,321L1102.4,370.4L1102.9,413.8L1103.4,392.9L1103.9,330.5L1104.4,281.1L1104.9,259.7L1105.4,244.9L1105.9,236L1106.4,228.5L1106.9,222.9L1107.4,220.1L1107.9,221.5L1108.4,226.3L1108.9,231.2L1109.4,232.8L1109.9,229.6L1110.4,224.3L1110.9,220L1111.4,219.4L1111.9,220.4L1112.4,222.1L1112.9,224.2L1113.4,226.8L1113.9,231.8L1114.4,239.4L1114.9,248.7L1115.4,258.3L1115.9,267.9L1116.4,278.3L1116.9,290.1L1117.4,303.9L1117.9,320.1L1118.4,343.4L1118.9,397.7L1119.4,431.9L1119.9,442.4L1120.4,427.2L1120.9,408.3L1121.4,388.1L1121.9,367.2L1122.4,348L1122.9,329.2L1123.4,309.1L1123.9,287.3L1124.4,275L1124.9,266.9L1125.4,260.6L1125.9,254.2L1126.4,247.4L1126.9,242L1127.4,240L1127.9,239.2L1128.4,238.8L1128.9,238.3L1129.4,237.4L1129.9,235.9L1130.4,234.3L1130.9,233.1L1131.4,233.1L1131.9,235.2L1132.4,238.1L1132.9,239.8L1133.4,240.5L1133.9,241L1134.4,241.6L1134.9,242.4L1135.4,244.1L1135.9,246.8L1136.4,249.9L1136.9,253.1L1137.4,256.5L1137.9,260.4L1138.4,264.7L1138.9,269.6L1139.4,275.5L1139.9,282.7L1140.4,290.6L1140.9,298.1L1141.4,304.5L1141.9,309.9L1142.4,315.8L1142.9,323.9L1143.4,335.8L1143.9,349.4L1144.4,362.7L1144.9,377.4L1145.4,393.2L1145.9,408.6L1146.4,422.4L1146.9,433L1147.4,439.4L1147.9,443.4L1148.4,444.3L1148.9,444.3L1149.4,444.3L1149.9,444.3L1150.4,444.3L1150.9,444.3L1151.4,444.3L1151.9,444.3L1152.4,444.3L1152.9,444.3L1153.4,444.3L1153.9,444.3L1154.4,444.3L1154.9,444.3L1155.4,444.3L1155.9,444.3L1156.4,444.3L1156.9,444.3L1157.4,444.3L1157.9,444.3L1158.4,442.7L1158.9,434.7L1159.4,424L1159.9,414.6L1160.4,405.8L1160.9,396.7L1161.4,386.8L1161.9,375.5L1162.4,360.4L1162.9,345.7L1163.4,334.5L1163.9,323.4L1164.4,313.5L1164.9,306.3L1165.4,303L1165.9,304.3L1166.4,308.7L1166.9,315.1L1167.4,322.4L1167.9,331.5L1168.4,344.1L1168.9,357.5L1169.4,371.6L1169.9,386.4L1170.4,399.9L1170.9,410.7L1171.4,420.1L1171.9,428.8L1172.4,438.3L1172.9,444.3L1173.4,439.1L1173.9,426.8L1174.4,411L1174.9,383.5L1175.4,351.2L1175.9,324.5L1176.4,308.6L1176.9,296.2L1177.4,285.4L1177.9,274.8L1178.4,264.7L1178.9,256.1L1179.4,249.6L1179.9,244.3L1180.4,240.1L1180.9,237.1L1181.4,234.9L1181.9,232.9L1182.4,231L1182.9,229L1183.4,227.2L1183.9,225.7L1184.4,224.2L1184.9,223.2L1185.4,225L1185.9,226.6L1186.4,221.7L1186.9,217.4L1187.4,214.2L1187.9,212.7L1188.4,212.1L1188.9,213.1L1189.4,213.3L1189.9,210.9L1190.4,208.7L1190.9,207.6L1191.4,206.8L1191.9,206.1L1192.4,205.5L1192.9,205L1193.4,204.6L1193.9,204.3L1194.4,204L1194.9,203.8L1195.4,203.5L1195.9,203.2L1196.4,202.9L1196.9,202.6L1197.4,202.3L1197.9,202L1198.4,201.9L1198.9,201.9L1199.4,202L1199.9,202.1L1200.4,202.1L1200.9,202.1L1201.4,202.5L1201.9,203.3L1202.4,204.7L1202.9,208L1203.4,213.4L1203.9,221.9L1204.4,233.8L1204.9,247L1205.4,238.6L1205.9,222.1L1206.4,216.2L1206.9,215.7L1207.4,221.7L1207.9,218.4L1208.4,213.2L1208.9,210.1L1209.4,207L1209.9,204.2L1210.4,202.6L1210.9,201.6L1211.4,201L1211.9,200.7L1212.4,200.7L1212.9,201.4L1213.4,202.2L1213.9,202.9L1214.4,203.4L1214.9,203.6L1215.4,203.7L1215.9,204.4L1216.4,206.6L1216.9,207L1217.4,207.1L1217.9,206.9L1218.4,206.5L1218.9,207.8L1219.4,211.4L1219.9,218.1L1220.4,223.7L1220.9,225.5L1221.4,216.9L1221.9,209.7L1222.4,206L1222.9,204.4L1223.4,204.3L1223.9,204.6L1224.4,204.9L1224.9,205.2L1225.4,205.8L1225.9,206.8L1226.4,208L1226.9,209.4L1227.4,211.2L1227.9,213.4L1228.4,216.2L1228.9,219.7L1229.4,224.2L1229.9,229.7L1230.4,234.5L1230.9,243.6L1231.4,264.7L1231.9,288.3L1232.4,306.5L1232.9,320.3L1233.4,372.4L1233.9,414.3L1234.4,438.5L1234.9,441.6L1235.4,423.4L1235.9,395.9L1236.4,345.3L1236.9,300.7L1237.4,279.7L1237.9,265L1238.4,254.7L1238.9,246.9L1239.4,241.1L1239.9,236.2L1240.4,232.9L1240.9,230.7L1241.4,229.2L1241.9,229.1L1242.4,231.5L1242.9,236.5L1243.4,252.5L1243.9,275.1L1244.4,301L1244.9,316.2L1245.4,371.7L1245.9,428.6L1246.4,363.6L1246.9,281L1247.4,252.6L1247.9,236.2L1248.4,226.6L1248.9,220.6L1249.4,216.3L1249.9,213.9L1250.4,212.2L1250.9,211L1251.4,210L1251.9,209.1L1252.4,208.4L1252.9,208L1253.4,207.6L1253.9,207.4L1254.4,207.3L1254.9,207.4L1255.4,207.6L1255.9,207.8L1256.4,208L1256.9,208.2L1257.4,208.6L1257.9,209.1L1258.4,209.7L1258.9,210.4L1259.4,211.2L1259.9,212L1260.4,212.9L1260.9,213.9L1261.4,215L1261.9,216.5L1262.4,218.1L1262.9,220L1263.4,221.9L1263.9,223.7L1264.4,225.6L1264.9,228.2L1265.4,232.5L1265.9,239.8L1266.4,248.5L1266.9,259.6L1267.4,270.7L1267.9,280.5L1268.4,290L1268.9,298.8L1269.4,306.4L1269.9,312.1L1270.4,318.5L1270.9,329.8L1271.4,347L1271.9,366.5L1272.4,385.5L1272.9,407.4L1273.4,425.9L1273.9,435.6L1274.4,442.3L1274.9,444.1L1275.4,437.4L1275.9,425.5L1276.4,413.2L1276.9,398.8L1277.4,382.7L1277.9,366.6L1278.4,349.9L1278.9,333.1L1279.4,317.7L1279.9,302.9L1280.4,289.5L1280.9,279.4L1281.4,272.2L1281.9,266.3L1282.4,260.7L1282.9,254.6L1283.4,248.5L1283.9,242.5L1284.4,236.9L1284.9,232L1285.4,227.8L1285.9,223.8L1286.4,219.8L1286.9,216.6L1287.4,214.5L1287.9,212.8L1288.4,211.4L1288.9,210.5L1289.4,209.9L1289.9,209.3L1290.4,208.7L1290.9,207.8L1291.4,206.9L1291.9,206.1L1292.4,205.5L1292.9,205.1L1293.4,205L1293.9,206.3L1294.4,206.5L1294.9,204.5L1295.4,203.2L1295.9,202.7L1296.4,202.4L1296.9,202.3L1297.4,202.3L1297.9,202.9L1298.4,203.4L1298.9,203.3L1299.4,203.1L1299.9,203.7L1300.4,206L1300.9,210.5L1301.4,212.1L1301.9,209L1302.4,204L1302.9,200.5L1303.4,199L1303.9,198.2L1304.4,197.9L1304.9,197.7L1305.4,197.5L1305.9,197.5L1306.4,197.6L1306.9,198.1L1307.4,198.6L1307.9,199.2L1308.4,199.6L1308.9,200L1309.4,200.6L1309.9,201.7L1310.4,203.3L1310.9,204.3L1311.4,203.2L1311.9,200.1L1312.4,198.9L1312.9,198.3L1313.4,198.4L1313.9,199.1L1314.4,200.2L1314.9,202.2L1315.4,205.8L1315.9,211.9L1316.4,219.6L1316.9,228.4L1317.4,238.3L1317.9,280.2L1318.4,321.4L1318.9,298.6L1319.4,249.9L1319.9,224.2L1320.4,218.7L1320.9,240.8L1321.4,280.3L1321.9,315.6L1322.4,307.1L1322.9,255.4L1323.4,225.9L1323.9,215.9L1324.4,207.9L1324.9,203.4L1325.4,201.4L1325.9,200.2L1326.4,199.3L1326.9,198.8L1327.4,198.5L1327.9,198.3L1328.4,198.3L1328.9,198.2L1329.4,198L1329.9,197.7L1330.4,197.4L1330.9,197.2L1331.4,197.1L1331.9,197.2L1332.4,197.4L1332.9,197.6L1333.4,197.8L1333.9,198.1L1334.4,198.5L1334.9,198.8L1335.4,199.2L1335.9,199.8L1336.4,200.5L1336.9,201.4L1337.4,202.3L1337.9,203.3L1338.4,204.5L1338.9,205.9L1339.4,207.6L1339.9,209.7L1340.4,212.1L1340.9,214.9L1341.4,218.2L1341.9,221.7L1342.4,226.2L1342.9,226.9L1343.4,222.8L1343.9,218.2L1344.4,213.7L1344.9,210.1L1345.4,208.3L1345.9,207.1L1346.4,206.8L1346.9,207.4L1347.4,208.4L1347.9,209.5L1348.4,210.7L1348.9,212.2L1349.4,213.6L1349.9,215L1350.4,216.4L1350.9,217.9L1351.4,219.5L1351.9,221.3L1352.4,223.3L1352.9,225.3L1353.4,227.1L1353.9,229.4L1354.4,233.7L1354.9,243.6L1355.4,258.1L1355.9,280.6L1356.4,315.9L1356.9,355.8L1357.4,374.8L1357.9,350.1L1358.4,304.3L1358.9,275.2L1359.4,254.4L1359.9,245.1L1360.4,245.9L1360.9,247.8L1361.4,250.4L1361.9,256.2L1362.4,265.3L1362.9,274.5L1363.4,284.3L1363.9,294.7L1364.4,305L1364.9,315.4L1365.4,330.9L1365.9,353.3L1366.4,374.7L1366.9,390.6L1367.4,405.6L1367.9,418.9L1368.4,429.2L1368.9,435.4L1369.4,439.8L1369.9,443L1370.4,444.3L1370.9,444.3L1371.4,444.3L1371.9,444.3L1372.4,444.3L1372.9,444.3L1373.4,444L1373.9,443.1L1374.4,441.7L1374.9,440.1L1375.4,438.5L1375.9,437.2L1376.4,436.5L1376.9,436.8L1377.4,438.5L1377.9,440.9L1378.4,443.1L1378.9,444.3L1379.4,444.3L1379.9,444.3L1380.4,444.3L1380.9,444.3L1381.4,443.9L1381.9,439.3L1382.4,431.4L1382.9,421.9L1383.4,411.6L1383.9,397.5L1384.4,381.8L1384.9,367.6L1385.4,355.4L1385.9,343.9L1386.4,333.1L1386.9,322.3L1387.4,313.9L1387.9,323.3L1388.4,340.5L1388.9,357L1389.4,374.2L1389.9,378.6L1390.4,340.9L1390.9,291.6L1391.4,271.9L1391.9,261L1392.4,253L1392.9,245.9L1393.4,239.8L1393.9,234.5L1394.4,230.2L1394.9,226.6L1395.4,223.4L1395.9,220.5L1396.4,218.1L1396.9,216.1L1397.4,214.7L1397.9,213.6L1398.4,212.6L1398.9,211.8L1399.4,211.4L1399.9,211.5L1400.4,212.2L1400.9,213.4L1401.4,214.4L1401.9,214.9L1402.4,214.2L1402.9,212.8L1403.4,211.1L1403.9,209.4L1404.4,208.2L1404.9,207.5L1405.4,206.9L1405.9,206.4L1406.4,206.1L1406.9,205.7L1407.4,205.4L1407.9,205.1L1408.4,204.7L1408.9,204.4L1409.4,204.1L1409.9,203.9L1410.4,203.8L1410.9,203.9L1411.4,204.3L1411.9,205L1412.4,206.1L1412.9,207.5L1413.4,210.9L1413.9,218.8L1414.4,235.2L1414.9,262.8L1415.4,235L1415.9,219.5L1416.4,212.2L1416.9,208.3L1417.4,207L1417.9,206L1418.4,205.3L1418.9,205L1419.4,205.1L1419.9,205.4L1420.4,206L1420.9,206.6L1421.4,207.3L1421.9,208L1422.4,208.9L1422.9,209.9L1423.4,211.5L1423.9,213.7L1424.4,216.5L1424.9,219.4L1425.4,222.8L1425.9,227.3L1426.4,233.1L1426.9,240.2L1427.4,250.1L1427.9,263.2L1428.4,277.7L1428.9,292.4L1429.4,308.8L1429.9,330.1L1430.4,360.6L1430.9,388L1431.4,407.6L1431.9,423.6L1432.4,434.4L1432.9,442.1L1433.4,441.4L1433.9,433.6L1434.4,422.5L1434.9,411.1L1435.4,397.1L1435.9,380L1436.4,357.7L1436.9,329.5L1437.4,297.7L1437.9,272.7L1438.4,256.6L1438.9,245L1439.4,235.4L1439.9,229.2L1440.4,225.5L1440.9,223.7L1441.4,223.8L1441.9,224.1L1442.4,226L1442.9,230.8"/></g>
<g stroke="#000" opacity="0.66" stroke-width="1.3"><path d="M179.8,75.4L180.3,83.4L180.8,89L181.3,92.5L181.8,94.3L182.3,94.8L182.8,92.4L183.3,84.8L183.8,75.1L184.3,66.9L184.8,63.5L185.3,78L185.8,81.1L186.3,78.5L186.8,74.6L187.3,70L187.8,65.6L188.3,61.9L188.8,59.6L189.3,59.6L189.8,63.2L190.3,69.1L190.8,75.4L191.3,80.2L191.8,81.3L192.3,75.2L192.8,66.9L193.3,64L193.8,65.5L194.3,68.1L194.8,70.7L195.3,72.6L195.8,72.2L196.3,69.1L196.8,72.6L197.3,79.6L197.8,85.1L198.3,84.7L198.8,80.5L199.3,75.5L199.8,72.6L200.3,76.2L200.8,82.8L201.3,79.4L201.8,71.5L202.3,70L202.8,77.4L203.3,91.4L203.8,141L204.3,178.5L204.8,137.9L205.3,108.7L205.8,100.5L206.3,94.5L206.8,90.9L207.3,91.8L207.8,98.8L208.3,94.1L208.8,91.1L209.3,94.8L209.8,102L210.3,111.1L210.8,121.8L211.3,137.4L211.8,154.3L212.3,169L212.8,182.6L213.3,196L213.8,209.6L214.3,223.7L214.8,237.5L215.3,252L215.8,268.1L216.3,287.6L216.8,312.5L217.3,339L217.8,362.5L218.3,380.7L218.8,398.8L219.3,416L219.8,430.4L220.3,440.3L220.8,444L221.3,436.8L221.8,418.3L222.3,393.3L222.8,366.5L223.3,342.7L223.8,323L224.3,304L224.8,283.8L225.3,260.4L225.8,228.4L226.3,187.4L226.8,162.9L227.3,144.6L227.8,132.4L228.3,127.6L228.8,125.2L229.3,123.3L229.8,120.2L230.3,116.2L230.8,113.2L231.3,114.3L231.8,121.3L232.3,128.4L232.8,129.5L233.3,123.1L233.8,114.3L234.3,108.7L234.8,110.3L235.3,116.4L235.8,125.6L236.3,136L236.8,146.3L237.3,157.6L237.8,170.9L238.3,187L238.8,206.5L239.3,237L239.8,275.4L240.3,311.9L240.8,351L241.3,369.8L241.8,356.5L242.3,327.6L242.8,300L243.3,275.2L243.8,250L244.3,234L244.8,242.7L245.3,284.3L245.8,325.1L246.3,367.1L246.8,375.1L247.3,357.8L247.8,332.1L248.3,309.7L248.8,290.9L249.3,272.6L249.8,261.1L250.3,266.3L250.8,292.2L251.3,312.3L251.8,302.6L252.3,277L252.8,267.4L253.3,285.7L253.8,288.8L254.3,259.6L254.8,228.9L255.3,199.2L255.8,181.4L256.3,171L256.8,162.9L257.3,157.4L257.8,158.5L258.3,177L258.8,200.7L259.3,212.2L259.8,202.2L260.3,180.1L260.8,158.1L261.3,148L261.8,153.3L262.3,162.8L262.8,166.3L263.3,162.3L263.8,153.8L264.3,142.7L264.8,130.8L265.3,119.8L265.8,111.5L266.3,107.6L266.8,107.7L267.3,108.4L267.8,109.3L268.3,110.4L268.8,111.7L269.3,114.2L269.8,117.5L270.3,120.8L270.8,122.8L271.3,122.1L271.8,118.5L272.3,118L272.8,123L273.3,130.6L273.8,138.1L274.3,142.2L274.8,141.6L275.3,138.6L275.8,134.8L276.3,131.6L276.8,130.4L277.3,134.2L277.8,141.7L278.3,149.7L278.8,154.9L279.3,153.6L279.8,146.4L280.3,143.6L280.8,146.7L281.3,152.5L281.8,159.7L282.3,166.9L282.8,173.3L283.3,180L283.8,187.3L284.3,196.6L284.8,208.4L285.3,212.3L285.8,205.6L286.3,210.4L286.8,224.1L287.3,234.3L287.8,242.5L288.3,252.5L288.8,269.6L289.3,293.9L289.8,315.9L290.3,335.2L290.8,353.9L291.3,371.4L291.8,387L292.3,400.4L292.8,413.4L293.3,425.7L293.8,435.5L294.3,441L294.8,442.7L295.3,443.8L295.8,444.4L296.3,444.5L296.8,444.5L297.3,444.5L297.8,444.5L298.3,444.5L298.8,444.5L299.3,444.5L299.8,444.5L300.3,444.5L300.8,444.5L301.3,444.5L301.8,444.5L302.3,444.5L302.8,444.5L303.3,444.5L303.8,444.5L304.3,444.5L304.8,444.5L305.3,444.5L305.8,444.5L306.3,444.5L306.8,444.5L307.3,444.5L307.8,444.5L308.3,444.5L308.8,444.5L309.3,444.5L309.8,444.5L310.3,444.5L310.8,444.5L311.3,444.5L311.8,444.5L312.3,444.5L312.8,444.5L313.3,444.5L313.8,444.5L314.3,444.5L314.8,444.5L315.3,444.5L315.8,444.5L316.3,444.5L316.8,444.5L317.3,444.5L317.8,444.5L318.3,444.5L318.8,444.5L319.3,444.5L319.8,444.5L320.3,444.5L320.8,444.5L321.3,444.5L321.8,444.5L322.3,444.5L322.8,444.5L323.3,444.5L323.8,444.5L324.3,444.5L324.8,444.5L325.3,444.5L325.8,444.5L326.3,444.5L326.8,444.5L327.3,444.5L327.8,444.5L328.3,444.5L328.8,444.5L329.3,444.5L329.8,444.5L330.3,444.5L330.8,444.5L331.3,444.5L331.8,444.5L332.3,444.5L332.8,444.5L333.3,444.5L333.8,444.5L334.3,444.5L334.8,444.5L335.3,444.5L335.8,444.5L336.3,444.5L336.8,444.5L337.3,444.5L337.8,444.5L338.3,444.5L338.8,444.5L339.3,444.5L339.8,444.5L340.3,444.5L340.8,444.5L341.3,444.5L341.8,444.5L342.3,444.5L342.8,444.5L343.3,444.5L343.8,444.5L344.3,444.5L344.8,444.5L345.3,444.5L345.8,444.5L346.3,444.5L346.8,444.5L347.3,444.5L347.8,444.5L348.3,444.5L348.8,444.5L349.3,444.2L349.8,442.5L350.3,439.7L350.8,436.4L351.3,433L351.8,430.1L352.3,428.2L352.8,427.7L353.3,429.1L353.8,432L354.3,435.7L354.8,439.4L355.3,442.5L355.8,444.3L356.3,444.5L356.8,444.5L357.3,444.5L357.8,444.5L358.3,444.5L358.8,444.5L359.3,444.5L359.8,444.5L360.3,444.5L360.8,444.5L361.3,444.5L361.8,444.5L362.3,444.5L362.8,444.5L363.3,444.5L363.8,444.5L364.3,444.5L364.8,444.5L365.3,444.5L365.8,444.5L366.3,444.5L366.8,443.7L367.3,439.3L367.8,432.8L368.3,425.7L368.8,419.8L369.3,416.9L369.8,418.2L370.3,423.1L370.8,429.9L371.3,436.9L371.8,442.3L372.3,444.5L372.8,444.5L373.3,444.5L373.8,444.5L374.3,444.5L374.8,444.5L375.3,444.5L375.8,444.5L376.3,444.5L376.8,444.5L377.3,444.5L377.8,444.5L378.3,444.5L378.8,444.5L379.3,444.5L379.8,444.5L380.3,444.5L380.8,444.5L381.3,444.5L381.8,444.5L382.3,444.5L382.8,444.5L383.3,444.5L383.8,444.5L384.3,444.5L384.8,444.5L385.3,441.2L385.8,429.5L386.3,412.6L386.8,393.6L387.3,376L387.8,363L388.3,357.8L388.8,364.6L389.3,381.3L389.8,402.4L390.3,422.4L390.8,435.8L391.3,438.1L391.8,435.5L392.3,431.9L392.8,429.3L393.3,430L393.8,434.8L394.3,440.4L394.8,443L395.3,440L395.8,432L396.3,420.5L396.8,407L397.3,392.9L397.8,379.7L398.3,368.8L398.8,361.7L399.3,359.9L399.8,366.9L400.3,381.4L400.8,399.8L401.3,418.6L401.8,434.2L402.3,443.1L402.8,444L403.3,444L403.8,444L404.3,444L404.8,444L405.3,444L405.8,444L406.3,444L406.8,444L407.3,444L407.8,444L408.3,444L408.8,443L409.3,439.5L409.8,434.3L410.3,425.7L410.8,405.7L411.3,379.6L411.8,353.9L412.3,335.1L412.8,329.9L413.3,337.6L413.8,353.7L414.3,374.9L414.8,397.7L415.3,418.9L415.8,435L416.3,442.8L416.8,440.5L417.3,432L417.8,419.9L418.3,407L418.8,396L419.3,389.7L419.8,390.1L420.3,395.6L420.8,404.2L421.3,414L421.8,423.2L422.3,429.9L422.8,432.7L423.3,434L423.8,435L424.3,436.3L424.8,438.5L425.3,441L425.8,443.1L426.3,444L426.8,444L427.3,444L427.8,444L428.3,444L428.8,444L429.3,444L429.8,444L430.3,444L430.8,444L431.3,444L431.8,444L432.3,444L432.8,444L433.3,444L433.8,444L434.3,442.6L434.8,434.9L435.3,422.6L435.8,408L436.3,393.4L436.8,381.1L437.3,373.4L437.8,374.3L438.3,394.1L438.8,419.5L439.3,432L439.8,418.3L440.3,392.8L440.8,379.1L441.3,388.5L441.8,398L442.3,389.7L442.8,372.7L443.3,359.4L443.8,360.4L444.3,365.8L444.8,361.3L445.3,350.4L445.8,336.7L446.3,323.8L446.8,313.8L447.3,303.1L447.8,292.9L448.3,285L448.8,281.2L449.3,286.3L449.8,304.8L450.3,332.2L450.8,363.8L451.3,395L451.8,421L452.3,437L452.8,436.9L453.3,410.1L453.8,374.1L454.3,351.9L454.8,367.1L455.3,408.4L455.8,432L456.3,423.8L456.8,401.7L457.3,369.8L457.8,332.1L458.3,292.3L458.8,254.5L459.3,222.5L459.8,200.3L460.3,191.9L460.8,203.7L461.3,234.7L461.8,277.7L462.3,325.7L462.8,371.6L463.3,408.3L463.8,428.7L464.3,429L464.8,419.6L465.3,404.3L465.8,385.6L466.3,366.1L466.8,348.5L467.3,335.2L467.8,328.9L468.3,331.8L468.8,340L469.3,344.8L469.8,340.2L470.3,331.1L470.8,324.9L471.3,327L471.8,335.4L472.3,348.4L472.8,364.7L473.3,382.5L473.8,400.6L474.3,417.3L474.8,431.1L475.3,440.5L475.8,444L476.3,444L476.8,444L477.3,444L477.8,444L478.3,444L478.8,444L479.3,444L479.8,444L480.3,444L480.8,442L481.3,434.3L481.8,421.7L482.3,405.4L482.8,386.3L483.3,365.4L483.8,343.7L484.3,322.3L484.8,302L485.3,283.9L485.8,269L486.3,258.4L486.8,252.8L487.3,256.3L487.8,278.2L488.3,312.6L488.8,352.2L489.3,389.6L489.8,417.5L490.3,428.5L490.8,421.4L491.3,402.2L491.8,373.7L492.3,338.8L492.8,300.4L493.3,261.4L493.8,224.8L494.3,193.4L494.8,170.1L495.3,157.8L495.8,158.6L496.3,168.8L496.8,185L497.3,204L497.8,222.5L498.3,237.4L498.8,245.8L499.3,242.9L499.8,226.7L500.3,210.6L500.8,209.1L501.3,230.2L501.8,268L502.3,314.8L502.8,363.1L503.3,405.3L503.8,434L504.3,441.3L504.8,419.6L505.3,381.5L505.8,345.1L506.3,328.9L506.8,350L507.3,389L507.8,410L508.3,403.7L508.8,386.8L509.3,361.7L509.8,331.4L510.3,298.4L510.8,265.6L511.3,235.5L511.8,210.8L512.3,194.1L512.8,188L513.3,208.9L513.8,242.7L514.3,248.3L514.8,226.8L515.3,212L515.8,248.3L516.3,315.9L516.8,352.3L517.3,343.5L517.8,320.3L518.3,287.2L518.8,248.8L519.3,209.5L519.8,173.8L520.3,146L520.8,130.9L521.3,131.6L521.8,144.6L522.3,166.9L522.8,195.7L523.3,228.5L523.8,262.6L524.3,295.4L524.8,324.3L525.3,346.5L525.8,359.5L526.3,360.2L526.8,343.7L527.3,313.5L527.8,274.8L528.3,232.6L528.8,191.9L529.3,157.9L529.8,135.6L530.3,130.4L530.8,157.4L531.3,204.9L531.8,250L532.3,270.1L532.8,258.7L533.3,234.7L533.8,213.9L534.3,212.2L534.8,238.1L535.3,281.5L535.8,330L536.3,370.9L536.8,391.9L537.3,378.7L537.8,333.2L538.3,274.6L538.8,222.7L539.3,196.4L539.8,183.3L540.3,172.6L540.8,164.9L541.3,160.8L541.8,160.1L542.3,159.8L542.8,162.4L543.3,184L543.8,205.8L544.3,206.6L544.8,196.5L545.3,181.4L545.8,165.4L546.3,152.6L546.8,147.4L547.3,153.4L547.8,169.7L548.3,193.6L548.8,222.2L549.3,252.5L549.8,281.6L550.3,306.7L550.8,324.9L551.3,333.3L551.8,323.3L552.3,288.1L552.8,238.9L553.3,187.5L553.8,145.4L554.3,124.4L554.8,134.3L555.3,163.5L555.8,187.8L556.3,188.8L556.8,179L557.3,162.9L557.8,143.3L558.3,123L558.8,104.7L559.3,91L559.8,84.4L560.3,87L560.8,96.7L561.3,110.4L561.8,124.8L562.3,136.5L562.8,142.3L563.3,136.1L563.8,118.5L564.3,103.8L564.8,106.4L565.3,130.1L565.8,167.5L566.3,210.5L566.8,251.2L567.3,281.5L567.8,293.5L568.3,282.8L568.8,255.4L569.3,218.5L569.8,179.3L570.3,145.2L570.8,123.4L571.3,121.2L571.8,128.8L572.3,121.1L572.8,110L573.3,112.6L573.8,129.5L574.3,142.6L574.8,139L575.3,127.4L575.8,117.8L576.3,122.5L576.8,153.7L577.3,204.2L577.8,265.2L578.3,327.9L578.8,383.5L579.3,423.2L579.8,438.4L580.3,429.8L580.8,406.6L581.3,372.4L581.8,331.1L582.3,286.3L582.8,241.9L583.3,201.4L583.8,169L584.3,148.3L584.8,144.4L585.3,186.3L585.8,248L586.3,279.6L586.8,269.1L587.3,243L587.8,209.9L588.3,178.5L588.8,157.5L589.3,154.2L589.8,161.6L590.3,176L590.8,196L591.3,220.4L591.8,248.1L592.3,277.8L592.8,308.3L593.3,338.6L593.8,367.3L594.3,393.2L594.8,415.1L595.3,431.8L595.8,441.9L596.3,444.5L596.8,439.9L597.3,429.3L597.8,413.4L598.3,393L598.8,368.8L599.3,341.6"/><path d="M632.9,81.9L633.4,82.2L633.9,83L634.4,88.6L634.9,102.5L635.4,115.1L635.9,115.4L636.4,95.2L636.9,78.4L637.4,74.2L637.9,71.6L638.4,69.4L638.9,67.2L639.4,65.4L639.9,64.2L640.4,63.9L640.9,65.2L641.4,67.6L641.9,70.2L642.4,73L642.9,76.3L643.4,78.6L643.9,77L644.4,70L644.9,65.4L645.4,62.3L645.9,60.6L646.4,61.3L646.9,63.9L647.4,65.7L647.9,66.9L648.4,66.9L648.9,65.4L649.4,65.6L649.9,66.9L650.4,68.8L650.9,71.3L651.4,75.7L651.9,79.5L652.4,78.5L652.9,74L653.4,75.3L653.9,79.4L654.4,87.3L654.9,90.4L655.4,79.4L655.9,68.4L656.4,64.4L656.9,62.2L657.4,62.6L657.9,64.3L658.4,66.3L658.9,67.7L659.4,68.8L659.9,69.5L660.4,69.3L660.9,68.5L661.4,67.3L661.9,66.2L662.4,65.5L662.9,65.1L663.4,64.6L663.9,63L664.4,61.8L664.9,62.9L665.4,66.3L665.9,73.6L666.4,89L666.9,103.2L667.4,112.9L667.9,106.2L668.4,95.7L668.9,90L669.4,85.9L669.9,85.9L670.4,92.1L670.9,94.4L671.4,81.1L671.9,71.8L672.4,66.1L672.9,63.7L673.4,62.2L673.9,61.1L674.4,60.2L674.9,59.3L675.4,58.4L675.9,57.6L676.4,57.2L676.9,57.2L677.4,57.3L677.9,57.6L678.4,58.2L678.9,59L679.4,65.4L679.9,74.1L680.4,83.7L680.9,86.6L681.4,72.9L681.9,64.4L682.4,60.7L682.9,59L683.4,59.4L683.9,61L684.4,62.6L684.9,63.1L685.4,63.5L685.9,63.9L686.4,64L686.9,63L687.4,61.5L687.9,61L688.4,62.8L688.9,65.6L689.4,68.1L689.9,70.7L690.4,71.6L690.9,70.3L691.4,69.9L691.9,78.2L692.4,90.8L692.9,102L693.4,89L693.9,75.3L694.4,69.9L694.9,68.3L695.4,67.5L695.9,67.1L696.4,66.9L696.9,66.8L697.4,66.8L697.9,67L698.4,67.5L698.9,68.2L699.4,69.2L699.9,70.3L700.4,71.5L700.9,72.7L701.4,73.8L701.9,75.1L702.4,76.5L702.9,78.2L703.4,80L703.9,81.8L704.4,83.9L704.9,86.3L705.4,89L705.9,92.2L706.4,95.9L706.9,99.9L707.4,104.4L707.9,109.1L708.4,114.2L708.9,120.8L709.4,131.3L709.9,148.5L710.4,162.5L710.9,176.8L711.4,194.2L711.9,218.4L712.4,248.2L712.9,282.9L713.4,317.8L713.9,347.4L714.4,373.8L714.9,400.8L715.4,424.9L715.9,436L716.4,440.3L716.9,443.3L717.4,444.9L717.9,444.7L718.4,443.1L718.9,440.1L719.4,436L719.9,424.2L720.4,398.9L720.9,374.1L721.4,355.7L721.9,338.5L722.4,320.2L722.9,298.7L723.4,274.3L723.9,246L724.4,208.1L724.9,166L725.4,135.2L725.9,132.3L726.4,141.7L726.9,151.3L727.4,151.9L727.9,137.9L728.4,120L728.9,111.1L729.4,115.4L729.9,118.1L730.4,110.5L730.9,104.5L731.4,112.1L731.9,116.9L732.4,103.1L732.9,92L733.4,83.5L733.9,78.2L734.4,75.2L734.9,73.5L735.4,72.5L735.9,71.9L736.4,72.1L736.9,73.1L737.4,74.7L737.9,77.5L738.4,81.7L738.9,88.5L739.4,99.5L739.9,119.6L740.4,175L740.9,188.9L741.4,125.7L741.9,92L742.4,80.4L742.9,75.4L743.4,72.7L743.9,72.5L744.4,73.2L744.9,71.6L745.4,68.9L745.9,67.3L746.4,65.8L746.9,63.8L747.4,61.9L747.9,60.6L748.4,59.6L748.9,59.9L749.4,61.9L749.9,62.5L750.4,61.4L750.9,60.2L751.4,59.5L751.9,58.7L752.4,58.2L752.9,57.9L753.4,57.9L753.9,57.9L754.4,57.9L754.9,58.3L755.4,59.2L755.9,59.5L756.4,58.6L756.9,57.4L757.4,56.8L757.9,56.9L758.4,57.2L758.9,57.6L759.4,60.1L759.9,67.8L760.4,77.5L760.9,81.8L761.4,75L761.9,68L762.4,65.1L762.9,63.2L763.4,62L763.9,61L764.4,60.1L764.9,59.4L765.4,59L765.9,59.4L766.4,60.7L766.9,62.4L767.4,65L767.9,69.3L768.4,78.8L768.9,90.8L769.4,99.9L769.9,92.2L770.4,77.8L770.9,68.5L771.4,64.3L771.9,62.1L772.4,62.4L772.9,64.1L773.4,66.9L773.9,68.8L774.4,65.2L774.9,63.2L775.4,62.3L775.9,64.5L776.4,65.9L776.9,64.9L777.4,66.5L777.9,72.1L778.4,78.4L778.9,82L779.4,76.5L779.9,70.1L780.4,66.7L780.9,65.4L781.4,64.8L781.9,64.4L782.4,64.4L782.9,64.8L783.4,65.6L783.9,66.4L784.4,67.6L784.9,69.3L785.4,71.2L785.9,73.3L786.4,75.7L786.9,78.4L787.4,81.5L787.9,85.3L788.4,89.8L788.9,94.9L789.4,101L789.9,108.6L790.4,118.8L790.9,129.3L791.4,139.3L791.9,150.1L792.4,163.3L792.9,179.9L793.4,203.5L793.9,248.5L794.4,313.8L794.9,403.3L795.4,438.2L795.9,367.4L796.4,287.5L796.9,229.4L797.4,181.4L797.9,139.6L798.4,119.2L798.9,109.5L799.4,102.9L799.9,97.9L800.4,94L800.9,90.8L801.4,88.2L801.9,86.7L802.4,86L802.9,85.7L803.4,85.9L803.9,86.6L804.4,87.6L804.9,88.8L805.4,90.4L805.9,93.4L806.4,97L806.9,100.7L807.4,104.8L807.9,109.2L808.4,113.6L808.9,118.7L809.4,127L809.9,140.8L810.4,157.3L810.9,178.4L811.4,198.1L811.9,212.9L812.4,226.5L812.9,242.7L813.4,267.3L813.9,311L814.4,358.6L814.9,396.9L815.4,432.8L815.9,444.4L816.4,425.9L816.9,393.5L817.4,360.9L817.9,321.6L818.4,281.2L818.9,249.5L819.4,224.3L819.9,203.8L820.4,190.5L820.9,181.9L821.4,173L821.9,162.6L822.4,152.6L822.9,145.4L823.4,140.3L823.9,135.9L824.4,132.8L824.9,132L825.4,135.2L825.9,141.7L826.4,149.5L826.9,161.5L827.4,177.4L827.9,194.7L828.4,210.9L828.9,229.1L829.4,255.4L829.9,317.7L830.4,385.7L830.9,436.7L831.4,415.4L831.9,364.9L832.4,312L832.9,262.8L833.4,229L833.9,201L834.4,178L834.9,159L835.4,143L835.9,129.6L836.4,118.2L836.9,108.4L837.4,101.1L837.9,95.5L838.4,91.4L838.9,88.5L839.4,86.5L839.9,85.7L840.4,85.4L840.9,85.7L841.4,88.4L841.9,94.4L842.4,108.1L842.9,116.5L843.4,104.6L843.9,94L844.4,86.6L844.9,81.7L845.4,79.6L845.9,78.4L846.4,78L846.9,78.9L847.4,80.5L847.9,82.8L848.4,86L848.9,89.8L849.4,94.8L849.9,100.1L850.4,105.7L850.9,112L851.4,119L851.9,132.7L852.4,163.5L852.9,198.3L853.4,251.4L853.9,330.3L854.4,400.7L854.9,410.9L855.4,344L855.9,269.5L856.4,200.7L856.9,152.5L857.4,124.7L857.9,116.5L858.4,112L858.9,109.6L859.4,108.4L859.9,108.2L860.4,108.9L860.9,110.3L861.4,113.2L861.9,117.2L862.4,122.1L862.9,132.4L863.4,152.2L863.9,171.6L864.4,191L864.9,207.8L865.4,222.2L865.9,238.4L866.4,260.7L866.9,300.7L867.4,348.6L867.9,386.4L868.4,419.3L868.9,439.3L869.4,426.5L869.9,388L870.4,336.8L870.9,280L871.4,234.4L871.9,201.9L872.4,177.7L872.9,160.2L873.4,146.6L873.9,136.7L874.4,129.4L874.9,121.6L875.4,113.1L875.9,105.2L876.4,99L876.9,95.8L877.4,94L877.9,92.9L878.4,92.4L878.9,92.4L879.4,92.5L879.9,92.3L880.4,91.7L880.9,89.1L881.4,85.5L881.9,81.8L882.4,78.8L882.9,76.2L883.4,74.2L883.9,72.6L884.4,71L884.9,69.9L885.4,69.1L885.9,68.5L886.4,68.3L886.9,68.4L887.4,68.5L887.9,68.7L888.4,68.8L888.9,68.8L889.4,68.7L889.9,68.6L890.4,68.6L890.9,68.7L891.4,68.8L891.9,68.9L892.4,69L892.9,69L893.4,69.2L893.9,69.4L894.4,69.7L894.9,70L895.4,70.2L895.9,70.3L896.4,70.3L896.9,70.5L897.4,70.9L897.9,71.4L898.4,72L898.9,72.4L899.4,72.5L899.9,72.3L900.4,72L900.9,71.7L901.4,71.5L901.9,71.6L902.4,72.7L902.9,74.3L903.4,76.8L903.9,78L904.4,78.3L904.9,78.6L905.4,78.9L905.9,79L906.4,79.1L906.9,79.3L907.4,79.6L907.9,80.2L908.4,80.9L908.9,81.8L909.4,83.2L909.9,85.4L910.4,88.9L910.9,94L911.4,101.6L911.9,112.1L912.4,117.6L912.9,115.7L913.4,123.6L913.9,133.6L914.4,138L914.9,127L915.4,120.7L915.9,124.5L916.4,135.2L916.9,153.1L917.4,169.4L917.9,181.1L918.4,194.1L918.9,216.3L919.4,278L919.9,293.9L920.4,261.9L920.9,225.1L921.4,202.2L921.9,181.7L922.4,170.7L922.9,173.1L923.4,181.8L923.9,192.9L924.4,204.4L924.9,218.7L925.4,235.7L925.9,255.2L926.4,282.3L926.9,316.8L927.4,350.9L927.9,376.7L928.4,392.5L928.9,407.1L929.4,420.2L929.9,430.9L930.4,438.7L930.9,442.6L931.4,443L931.9,443L932.4,443L932.9,443L933.4,443L933.9,443L934.4,443L934.9,443L935.4,443L935.9,443L936.4,443L936.9,443L937.4,443L937.9,443L938.4,443L938.9,443L939.4,443L939.9,443L940.4,443L940.9,443L941.4,443L941.9,443L942.4,433.3L942.9,410.6L943.4,384.7L943.9,359.2L944.4,329.8L944.9,304.1L945.4,286.8L945.9,273L946.4,260.3L946.9,246.5L947.4,233.4L947.9,224.6L948.4,217.6L948.9,211.5L949.4,205.1L949.9,197.3L950.4,187.5L950.9,177.1L951.4,168.1L951.9,162.3L952.4,158.1L952.9,154.6L953.4,152.4L953.9,151.9L954.4,152.1L954.9,152.7L955.4,154.7L955.9,165.2L956.4,181.2L956.9,197.7L957.4,214.6L957.9,207.2L958.4,196.3L958.9,197.2L959.4,209.7L959.9,229L960.4,250.6L960.9,274.9L961.4,306.1L961.9,337.2L962.4,365.5L962.9,393.9L963.4,416.7L963.9,430.7L964.4,441.3L964.9,444.4L965.4,438.3L965.9,426L966.4,410.4L966.9,391.8L967.4,362.6L967.9,327.5L968.4,292.5L968.9,263.6L969.4,244.7L969.9,230.2L970.4,217.6L970.9,205.3L971.4,191.7L971.9,177L972.4,162.3L972.9,147L973.4,133.8L973.9,125.9L974.4,119.8L974.9,114.2L975.4,108.7L975.9,104L976.4,100.3L976.9,97.2L977.4,94.5L977.9,92.1L978.4,89.8L978.9,87.7L979.4,85.9L979.9,84.2L980.4,82.9L980.9,81.7L981.4,80.5L981.9,79.3L982.4,78.3L982.9,77.3L983.4,76.5L983.9,75.8L984.4,75L984.9,74.3L985.4,73.7L985.9,73.2L986.4,72.7L986.9,72.3L987.4,71.8L987.9,71.4L988.4,71.1L988.9,70.9L989.4,70.7L989.9,70.6L990.4,70.3L990.9,70L991.4,69.7L991.9,69.5L992.4,69.2L992.9,68.9L993.4,68.6L993.9,68.4L994.4,68.7L994.9,69L995.4,69.3L995.9,69.2L996.4,68.3L996.9,67.2L997.4,66.2L997.9,65.6L998.4,65L998.9,64.3L999.4,63.9L999.9,63.7L1000.4,63.8L1000.9,64.4L1001.4,65.2L1001.9,65.9L1002.4,66.1L1002.9,65.6L1003.4,64.7L1003.9,64.1L1004.4,63.8L1004.9,63.5L1005.4,63.2L1005.9,63.1L1006.4,63.1L1006.9,63.4L1007.4,64L1007.9,64.9L1008.4,65.7L1008.9,66.5L1009.4,67.5L1009.9,68.5L1010.4,69.2L1010.9,69.5L1011.4,69L1011.9,67.9L1012.4,66.7L1012.9,65.8L1013.4,64.8L1013.9,63.9L1014.4,63.5L1014.9,63.3L1015.4,63.3L1015.9,63.4L1016.4,63.7L1016.9,64.1L1017.4,64.6L1017.9,65L1018.4,65.3L1018.9,65.5L1019.4,65.6L1019.9,65.7L1020.4,66.2L1020.9,66.9L1021.4,67.3L1021.9,67.5L1022.4,67.7L1022.9,67.9L1023.4,68.3L1023.9,69.2L1024.4,70.8L1024.9,73.3L1025.4,77.8L1025.9,80.2L1026.4,81.5L1026.9,82.5L1027.4,83.3L1027.9,84L1028.4,85.1L1028.9,87.4L1029.4,90.6L1029.9,95.5L1030.4,101.8L1030.9,109.5L1031.4,115.7L1031.9,122.2L1032.4,130.9L1032.9,139.8"/><path d="M1063.9,66.5L1064.4,66.7L1064.9,66.9L1065.4,67.1L1065.9,67L1066.4,66.8L1066.9,66.5L1067.4,66.9L1067.9,69.1L1068.4,72.7L1068.9,81.5L1069.4,101.2L1069.9,126.7L1070.4,166.3L1070.9,206.1L1071.4,190.8L1071.9,144.8L1072.4,111.8L1072.9,126.6L1073.4,170.5L1073.9,207.9L1074.4,240.6L1074.9,263.1L1075.4,275.4L1075.9,248.8L1076.4,187.7L1076.9,143.5L1077.4,116.2L1077.9,100.8L1078.4,91.3L1078.9,83.9L1079.4,78.4L1079.9,74.5L1080.4,71.7L1080.9,69.3L1081.4,67.3L1081.9,65.9L1082.4,65L1082.9,64.6L1083.4,64.4L1083.9,64.3L1084.4,64.2L1084.9,64L1085.4,63.9L1085.9,63.7L1086.4,63.6L1086.9,63.6L1087.4,63.8L1087.9,64.2L1088.4,64.8L1088.9,65.4L1089.4,66.2L1089.9,67.2L1090.4,68.7L1090.9,70.6L1091.4,73.1L1091.9,76.2L1092.4,82.1L1092.9,90.5L1093.4,103.2L1093.9,127L1094.4,128.8L1094.9,115.9L1095.4,141.9L1095.9,185.1L1096.4,220L1096.9,189.4L1097.4,144L1097.9,120.7L1098.4,122.3L1098.9,126.7L1099.4,132.9L1099.9,145.2L1100.4,165.7L1100.9,190.3L1101.4,218.1L1101.9,255.7L1102.4,331.1L1102.9,397.5L1103.4,365.5L1103.9,270.2L1104.4,194.9L1104.9,162.2L1105.4,139.6L1105.9,126L1106.4,114.6L1106.9,105.9L1107.4,101.6L1107.9,103.8L1108.4,111.2L1108.9,118.7L1109.4,121.1L1109.9,116.2L1110.4,108.1L1110.9,101.6L1111.4,100.6L1111.9,102.2L1112.4,104.8L1112.9,108L1113.4,111.9L1113.9,119.5L1114.4,131.2L1114.9,145.3L1115.4,160L1115.9,174.6L1116.4,190.5L1116.9,208.6L1117.4,229.7L1117.9,254.3L1118.4,289.9L1118.9,372.9L1119.4,425L1119.9,441.1L1120.4,417.9L1120.9,389L1121.4,358.1L1121.9,326.3L1122.4,296.9L1122.9,268.2L1123.4,237.6L1123.9,204.2L1124.4,185.5L1124.9,173.2L1125.4,163.5L1125.9,153.8L1126.4,143.3L1126.9,135.1L1127.4,132L1127.9,130.9L1128.4,130.2L1128.9,129.5L1129.4,128.1L1129.9,125.8L1130.4,123.3L1130.9,121.6L1131.4,121.6L1131.9,124.8L1132.4,129.1L1132.9,131.7L1133.4,132.8L1133.9,133.6L1134.4,134.5L1134.9,135.8L1135.4,138.3L1135.9,142.5L1136.4,147.2L1136.9,152L1137.4,157.3L1137.9,163.2L1138.4,169.8L1138.9,177.3L1139.4,186.2L1139.9,197.3L1140.4,209.3L1140.9,220.8L1141.4,230.5L1141.9,238.7L1142.4,247.8L1142.9,260.1L1143.4,278.3L1143.9,299.2L1144.4,319.4L1144.9,341.9L1145.4,366L1145.9,389.6L1146.4,410.5L1146.9,426.7L1147.4,436.4L1147.9,442.6L1148.4,444L1148.9,444L1149.4,444L1149.9,444L1150.4,444L1150.9,444L1151.4,444L1151.9,444L1152.4,444L1152.9,444L1153.4,444L1153.9,444L1154.4,444L1154.9,444L1155.4,444L1155.9,444L1156.4,444L1156.9,444L1157.4,444L1157.9,444L1158.4,441.5L1158.9,429.4L1159.4,413L1159.9,398.6L1160.4,385.2L1160.9,371.4L1161.4,356.2L1161.9,339L1162.4,316L1162.9,293.5L1163.4,276.3L1163.9,259.3L1164.4,244.3L1164.9,233.3L1165.4,228.3L1165.9,230.2L1166.4,237L1166.9,246.8L1167.4,257.9L1167.9,271.7L1168.4,291L1168.9,311.5L1169.4,332.9L1169.9,355.6L1170.4,376.1L1170.9,392.6L1171.4,407.1L1171.9,420.4L1172.4,434.9L1172.9,444L1173.4,436L1173.9,417.2L1174.4,393.1L1174.9,351.2L1175.4,301.8L1175.9,261.1L1176.4,236.8L1176.9,217.8L1177.4,201.4L1177.9,185.3L1178.4,169.8L1178.9,156.6L1179.4,146.8L1179.9,138.7L1180.4,132.3L1180.9,127.7L1181.4,124.2L1181.9,121.2L1182.4,118.3L1182.9,115.3L1183.4,112.6L1183.9,110.3L1184.4,108L1184.9,106.5L1185.4,109.2L1185.9,111.7L1186.4,104.2L1186.9,97.6L1187.4,92.7L1187.9,90.5L1188.4,89.5L1188.9,91L1189.4,91.3L1189.9,87.7L1190.4,84.3L1190.9,82.7L1191.4,81.3L1191.9,80.2L1192.4,79.4L1192.9,78.7L1193.4,78.1L1193.9,77.6L1194.4,77.2L1194.9,76.7L1195.4,76.3L1195.9,75.9L1196.4,75.5L1196.9,75L1197.4,74.5L1197.9,74.1L1198.4,73.9L1198.9,73.9L1199.4,74.1L1199.9,74.2L1200.4,74.2L1200.9,74.2L1201.4,74.8L1201.9,76.1L1202.4,78.1L1202.9,83.2L1203.4,91.4L1203.9,104.4L1204.4,122.7L1204.9,142.7L1205.4,129.9L1205.9,104.7L1206.4,95.7L1206.9,94.9L1207.4,104.2L1207.9,99.1L1208.4,91.1L1208.9,86.4L1209.4,81.7L1209.9,77.4L1210.4,75L1210.9,73.4L1211.4,72.6L1211.9,72L1212.4,72.1L1212.9,73.1L1213.4,74.3L1213.9,75.4L1214.4,76.2L1214.9,76.5L1215.4,76.6L1215.9,77.7L1216.4,81.1L1216.9,81.6L1217.4,81.8L1217.9,81.6L1218.4,80.9L1218.9,82.9L1219.4,88.4L1219.9,98.7L1220.4,107.2L1220.9,110L1221.4,96.8L1221.9,85.8L1222.4,80.1L1222.9,77.7L1223.4,77.6L1223.9,78L1224.4,78.5L1224.9,79L1225.4,79.9L1225.9,81.4L1226.4,83.2L1226.9,85.4L1227.4,88.1L1227.9,91.5L1228.4,95.7L1228.9,101.1L1229.4,107.9L1229.9,116.3L1230.4,123.7L1230.9,137.5L1231.4,169.8L1231.9,205.8L1232.4,233.5L1232.9,254.7L1233.4,334.2L1233.9,398.2L1234.4,435.1L1234.9,439.9L1235.4,412L1235.9,370.1L1236.4,292.8L1236.9,224.7L1237.4,192.6L1237.9,170.3L1238.4,154.5L1238.9,142.6L1239.4,133.7L1239.9,126.3L1240.4,121.2L1240.9,117.9L1241.4,115.6L1241.9,115.4L1242.4,119.2L1242.9,126.7L1243.4,151.1L1243.9,185.7L1244.4,225.2L1244.9,248.4L1245.4,333.1L1245.9,420L1246.4,320.8L1246.9,194.7L1247.4,151.4L1247.9,126.3L1248.4,111.7L1248.9,102.4L1249.4,95.9L1249.9,92.2L1250.4,89.7L1250.9,87.9L1251.4,86.3L1251.9,84.9L1252.4,83.9L1252.9,83.2L1253.4,82.6L1253.9,82.3L1254.4,82.2L1254.9,82.3L1255.4,82.6L1255.9,82.9L1256.4,83.2L1256.9,83.6L1257.4,84.2L1257.9,84.9L1258.4,85.8L1258.9,86.9L1259.4,88.1L1259.9,89.4L1260.4,90.7L1260.9,92.2L1261.4,94L1261.9,96.1L1262.4,98.7L1262.9,101.5L1263.4,104.4L1263.9,107.1L1264.4,110.1L1264.9,114L1265.4,120.6L1265.9,131.7L1266.4,145.1L1266.9,162L1267.4,178.9L1267.9,194L1268.4,208.4L1268.9,221.8L1269.4,233.4L1269.9,242.1L1270.4,251.9L1270.9,269.2L1271.4,295.5L1271.9,325.2L1272.4,354.2L1272.9,387.6L1273.4,416L1273.9,430.7L1274.4,440.9L1274.9,443.6L1275.4,433.4L1275.9,415.2L1276.4,396.5L1276.9,374.5L1277.4,349.9L1277.9,325.3L1278.4,299.9L1278.9,274.2L1279.4,250.7L1279.9,228.1L1280.4,207.6L1280.9,192.3L1281.4,181.3L1281.9,172.2L1282.4,163.6L1282.9,154.4L1283.4,145L1283.9,135.9L1284.4,127.4L1284.9,119.9L1285.4,113.4L1285.9,107.4L1286.4,101.2L1286.9,96.4L1287.4,93.2L1287.9,90.5L1288.4,88.5L1288.9,87L1289.4,86L1289.9,85.2L1290.4,84.3L1290.9,83L1291.4,81.5L1291.9,80.3L1292.4,79.5L1292.9,78.8L1293.4,78.6L1293.9,80.7L1294.4,80.9L1294.9,77.9L1295.4,75.9L1295.9,75.2L1296.4,74.7L1296.9,74.5L1297.4,74.6L1297.9,75.4L1298.4,76.2L1298.9,76L1299.4,75.7L1299.9,76.6L1300.4,80.1L1300.9,87.1L1301.4,89.5L1301.9,84.8L1302.4,77.1L1302.9,71.7L1303.4,69.5L1303.9,68.2L1304.4,67.7L1304.9,67.4L1305.4,67.2L1305.9,67.1L1306.4,67.4L1306.9,68.1L1307.4,68.9L1307.9,69.7L1308.4,70.4L1308.9,71L1309.4,72L1309.9,73.6L1310.4,76L1310.9,77.6L1311.4,75.9L1311.9,71.2L1312.4,69.4L1312.9,68.4L1313.4,68.5L1313.9,69.6L1314.4,71.3L1314.9,74.3L1315.4,79.8L1315.9,89.1L1316.4,100.9L1316.9,114.4L1317.4,129.5L1317.9,193.5L1318.4,256.3L1318.9,221.5L1319.4,147.2L1319.9,107.9L1320.4,99.5L1320.9,133.3L1321.4,193.7L1321.9,247.5L1322.4,234.5L1322.9,155.5L1323.4,110.6L1323.9,95.3L1324.4,83.1L1324.9,76.2L1325.4,73.1L1325.9,71.4L1326.4,70L1326.9,69.1L1327.4,68.7L1327.9,68.5L1328.4,68.4L1328.9,68.2L1329.4,67.9L1329.9,67.5L1330.4,67.1L1330.9,66.7L1331.4,66.6L1331.9,66.7L1332.4,67L1332.9,67.3L1333.4,67.6L1333.9,68.1L1334.4,68.7L1334.9,69.2L1335.4,69.8L1335.9,70.7L1336.4,71.8L1336.9,73.2L1337.4,74.6L1337.9,76.1L1338.4,77.8L1338.9,80L1339.4,82.6L1339.9,85.8L1340.4,89.5L1340.9,93.7L1341.4,98.8L1341.9,104.2L1342.4,111L1342.9,112.1L1343.4,105.8L1343.9,98.8L1344.4,92L1344.9,86.4L1345.4,83.7L1345.9,81.9L1346.4,81.5L1346.9,82.3L1347.4,83.8L1347.9,85.5L1348.4,87.4L1348.9,89.6L1349.4,91.8L1349.9,93.8L1350.4,96L1350.9,98.3L1351.4,100.8L1351.9,103.6L1352.4,106.5L1352.9,109.6L1353.4,112.3L1353.9,115.9L1354.4,122.5L1354.9,137.6L1355.4,159.7L1355.9,194.1L1356.4,247.9L1356.9,308.8L1357.4,337.8L1357.9,300.2L1358.4,230.2L1358.9,185.7L1359.4,154.1L1359.9,139.9L1360.4,141.1L1360.9,143.9L1361.4,147.9L1361.9,156.7L1362.4,170.7L1362.9,184.7L1363.4,199.7L1363.9,215.6L1364.4,231.4L1364.9,247.2L1365.4,270.8L1365.9,305.1L1366.4,337.7L1366.9,362L1367.4,385L1367.9,405.2L1368.4,420.9L1368.9,430.4L1369.4,437.1L1369.9,442.1L1370.4,444L1370.9,444L1371.4,444L1371.9,444L1372.4,444L1372.9,444L1373.4,443.6L1373.9,442.1L1374.4,440L1374.9,437.5L1375.4,435.1L1375.9,433.2L1376.4,432.1L1376.9,432.5L1377.4,435.1L1377.9,438.7L1378.4,442.1L1378.9,443.9L1379.4,444L1379.9,444L1380.4,444L1380.9,444L1381.4,443.3L1381.9,436.3L1382.4,424.2L1382.9,409.9L1383.4,394.1L1383.9,372.5L1384.4,348.6L1384.9,326.9L1385.4,308.2L1385.9,290.6L1386.4,274.1L1386.9,257.7L1387.4,244.9L1387.9,259.2L1388.4,285.5L1388.9,310.7L1389.4,336.9L1389.9,343.7L1390.4,286.2L1390.9,210.8L1391.4,180.7L1391.9,164.1L1392.4,151.9L1392.9,141.1L1393.4,131.7L1393.9,123.7L1394.4,117.1L1394.9,111.6L1395.4,106.7L1395.9,102.3L1396.4,98.6L1396.9,95.6L1397.4,93.5L1397.9,91.7L1398.4,90.2L1398.9,89.1L1399.4,88.4L1399.9,88.5L1400.4,89.7L1400.9,91.4L1401.4,93L1401.9,93.7L1402.4,92.8L1402.9,90.6L1403.4,87.9L1403.9,85.3L1404.4,83.5L1404.9,82.5L1405.4,81.6L1405.9,80.8L1406.4,80.2L1406.9,79.7L1407.4,79.2L1407.9,78.7L1408.4,78.2L1408.9,77.7L1409.4,77.3L1409.9,76.9L1410.4,76.8L1410.9,77L1411.4,77.6L1411.9,78.7L1412.4,80.3L1412.9,82.5L1413.4,87.6L1413.9,99.6L1414.4,124.8L1414.9,166.9L1415.4,124.5L1415.9,100.7L1416.4,89.6L1416.9,83.7L1417.4,81.7L1417.9,80.2L1418.4,79.1L1418.9,78.7L1419.4,78.8L1419.9,79.3L1420.4,80.1L1420.9,81.1L1421.4,82.2L1421.9,83.2L1422.4,84.5L1422.9,86.1L1423.4,88.5L1423.9,92L1424.4,96.1L1424.9,100.7L1425.4,105.8L1425.9,112.7L1426.4,121.5L1426.9,132.4L1427.4,147.5L1427.9,167.6L1428.4,189.7L1428.9,212L1429.4,237.1L1429.9,269.6L1430.4,316.1L1430.9,358L1431.4,388L1431.9,412.4L1432.4,428.9L1432.9,440.6L1433.4,439.6L1433.9,427.6L1434.4,410.7L1434.9,393.3L1435.4,371.9L1435.9,345.8L1436.4,311.7L1436.9,268.8L1437.4,220.2L1437.9,181.9L1438.4,157.4L1438.9,139.7L1439.4,125.1L1439.9,115.6L1440.4,109.9L1440.9,107.2L1441.4,107.3L1441.9,107.8L1442.4,110.6L1442.9,118.1"/></g>
</g>
<g clip-path="url(#cr)" fill="none" stroke-linejoin="round">
<g stroke="#1f77b4" stroke-width="1.04" opacity="0.8"><path d="M179.8,540.6L180.05,546L180.3,568.1L180.55,576.8L180.8,560.7L181.05,561.1L181.3,560.8L181.55,546.7L181.8,540.6L182.05,559.8L182.3,560.5L182.55,534.5L182.8,548.1L183.05,552.7L183.3,556.2L183.55,560L183.8,557.5L184.05,565.7L184.3,545.6L184.55,581.4L184.8,556.7L185.05,539L185.3,575L185.55,556.3L185.8,535.1L186.05,570.2L186.3,557.7L186.55,563.8L186.8,557.4L187.05,562.3L187.3,560.6L187.55,520.4L187.8,552.3L188.05,559.3L188.3,557.2L188.55,530.2L188.8,541.7L189.05,541.8L189.3,542.2L189.55,536.7L189.8,568.5L190.05,551.1L190.3,581.3L190.55,535.4L190.8,557.4L191.05,552.8L191.3,556.9L191.55,542.3L191.8,558.5L192.05,547L192.3,567.6L192.55,538.2L192.8,569.9L193.05,562.4L193.3,547.6L193.55,517.3L193.8,556L194.05,539.3L194.3,526.4L194.55,563.8L194.8,549.3L195.05,570.8L195.3,559.4L195.55,559.2L195.8,573.6L196.05,579.4L196.3,554.4L196.55,561.4L196.8,525.1L197.05,544.6L197.3,555L197.55,544.2L197.8,552.4L198.05,564.5L198.3,556.3L198.55,560.2L198.8,552.4L199.05,540.7L199.3,557.9L199.55,545.4L199.8,546.3L200.05,560.2L200.3,576.8L200.55,550.9L200.8,552.7L201.05,558.5L201.3,555.3L201.55,579L201.8,558.4L202.05,551.8L202.3,562.4L202.55,544.7L202.8,566.7L203.05,544.4L203.3,551L203.55,534.2L203.8,505.9L204.05,491.3L204.3,479.9L204.55,522.6L204.8,523.6L205.05,539.5L205.3,525.4L205.55,576.7L205.8,545.8L206.05,554.1L206.3,549.9L206.55,579.7L206.8,558.3L207.05,538.1L207.3,548.6L207.55,559.4L207.8,543.4L208.05,544.9L208.3,571.7L208.55,560.6L208.8,547.2L209.05,550.2L209.3,559.5L209.55,558.5L209.8,558.9L210.05,538.3L210.3,562.8L210.55,568.2L210.8,558L211.05,547.7L211.3,556.6L211.55,549.2L211.8,555.1L212.05,564.9L212.3,574L212.55,580.1L212.8,550.2L213.05,565.4L213.3,574.2L213.55,551.1L213.8,559.1L214.05,553.8L214.3,527.2L214.55,560.5L214.8,541.3L215.05,547.4L215.3,558.7L215.55,563L215.8,584.4L216.05,569.7L216.3,575.5L216.55,561.9L216.8,578.5L217.05,560.3L217.3,554.5L217.55,555.8L217.8,548L218.05,542.7L218.3,544.9L218.55,529.1L218.8,556.9L219.05,553.7L219.3,553L219.55,572L219.8,556.1L220.05,543.9L220.3,563.3L220.55,568.7L220.8,561.2L221.05,537.4L221.3,557.7L221.55,522.1L221.8,560.8L222.05,573.5L222.3,585.7L222.55,577.5L222.8,545.2L223.05,545.8L223.3,579L223.55,566.2L223.8,562.8L224.05,575.6L224.3,556.3L224.55,564.4L224.8,558L225.05,567.1L225.3,545.3L225.55,554.8L225.8,563.8L226.05,572.6L226.3,556.2L226.55,564.1L226.8,557.4L227.05,555.5L227.3,563.4L227.55,571L227.8,563.7L228.05,551.2L228.3,570.6L228.55,551.6L228.8,545.9L229.05,555.4L229.3,562.1L229.55,573.8L229.8,544.8L230.05,560.2L230.3,584.4L230.55,557.3L230.8,565.6L231.05,550.8L231.3,550.3L231.55,546.2L231.8,575.4L232.05,566.3L232.3,567L232.55,539.3L232.8,577.1L233.05,570.5L233.3,571.5L233.55,563.2L233.8,545.2L234.05,562.5L234.3,588.3L234.55,555L234.8,563L235.05,555.1L235.3,555.3L235.55,575.6L235.8,590.9L236.05,579.8L236.3,558.5L236.55,570.7L236.8,597L237.05,576.7L237.3,555.1L237.55,569.4L237.8,577L238.05,584.9L238.3,575.4L238.55,575.5L238.8,556.7L239.05,550.4L239.3,570L239.55,572.3L239.8,578.8L240.05,565.1L240.3,571L240.55,593.1L240.8,584L241.05,560.4L241.3,563.9L241.55,576.1L241.8,572.1L242.05,588.5L242.3,586L242.55,560.9L242.8,571.8L243.05,565.5L243.3,594.1L243.55,591.5L243.8,615.2L244.05,624.7L244.3,575.1L244.55,601.9L244.8,590.8L245.05,581.6L245.3,600.6L245.55,590.6L245.8,571L246.05,554.6L246.3,594.5L246.55,603.7L246.8,573.5L247.05,557.3L247.3,553.6L247.55,562.7L247.8,564L248.05,580.3L248.3,590.5L248.55,568L248.8,583.4L249.05,580.1L249.3,590.9L249.55,595.3L249.8,589.1L250.05,614.4L250.3,619L250.55,582.8L250.8,572.7L251.05,576.6L251.3,584.3L251.55,591.1L251.8,585.9L252.05,559.9L252.3,574.9L252.55,561.7L252.8,562.3L253.05,586.9L253.3,556.7L253.55,561L253.8,557.1L254.05,580.9L254.3,554.9L254.55,563.4L254.8,590.8L255.05,579.2L255.3,566.5L255.55,561.1L255.8,553L256.05,566.1L256.3,552L256.55,580.9L256.8,587.3L257.05,561.5L257.3,552.5L257.55,552.7L257.8,565.1L258.05,576.8L258.3,551.1L258.55,567L258.8,572.7L259.05,556.5L259.3,549.3L259.55,555.3L259.8,535.8L260.05,572.2L260.3,583.3L260.55,558.6L260.8,576.7L261.05,548.1L261.3,557.7L261.55,551.6L261.8,546.8L262.05,553.7L262.3,549.7L262.55,544.3L262.8,532.4L263.05,569.6L263.3,547.5L263.55,545.2L263.8,554.9L264.05,552.3L264.3,532.6L264.55,533L264.8,551.3L265.05,557L265.3,580.1L265.55,548.5L265.8,537.4L266.05,530.9L266.3,545.3L266.55,545.3L266.8,516.2L267.05,530.6L267.3,530.5L267.55,542.9L267.8,540.1L268.05,550.9L268.3,527.9L268.55,566.6L268.8,537L269.05,552.4L269.3,519.1L269.55,527.1L269.8,543L270.05,517.4L270.3,541.3L270.55,555.7L270.8,546.5L271.05,546.4L271.3,533.5L271.55,530.7L271.8,542.7L272.05,517.9L272.3,518.2L272.55,541.1L272.8,528.2L273.05,517.6L273.3,521.4L273.55,521.7L273.8,527.6L274.05,529.1L274.3,527.7L274.55,520.3L274.8,531.7L275.05,519.5L275.3,499.5L275.55,510L275.8,508.3L276.05,525.4L276.3,538.1L276.55,534.4L276.8,524.5L277.05,536.4L277.3,531.7L277.55,538.3L277.8,553.6L278.05,532.4L278.3,523.8L278.55,533.5L278.8,552.8L279.05,518.3L279.3,532.1L279.55,526.4L279.8,517.7L280.05,522L280.3,530.6L280.55,520.8L280.8,530.5L281.05,526.2L281.3,516L281.55,520L281.8,509.4L282.05,536.7L282.3,524.5L282.55,509.4L282.8,533.5L283.05,519.5L283.3,511.4L283.55,519.7L283.8,499.6L284.05,509.1L284.3,522.6L284.55,524.1L284.8,534.9L285.05,535.6L285.3,509.6L285.55,532.4L285.8,511.4L286.05,519.4L286.3,527.3L286.55,524.3L286.8,499.4L287.05,523.4L287.3,522.2L287.55,506.2L287.8,544.8L288.05,496.5L288.3,536.9L288.55,531.7L288.8,522.6L289.05,525L289.3,539.6L289.55,517.4L289.8,536.5L290.05,522.7L290.3,521.1L290.55,516.9L290.8,518.1L291.05,530.3L291.3,515.8L291.55,562.2L291.8,553.8L292.05,543.2L292.3,554.5L292.55,550.3L292.8,552.9L293.05,548.3L293.3,540.7L293.55,544.1L293.8,541.6L294.05,553.2L294.3,558.7L294.55,545.7L294.8,543.9L295.05,549.7L295.3,560.4L295.55,541.5L295.8,551.4L296.05,553.1L296.3,548.5L296.55,560.8L296.8,532.3L297.05,562.3L297.3,545L297.55,552.9L297.8,561.6L298.05,541.7L298.3,557.1L298.55,540.7L298.8,549L299.05,554.2L299.3,550.7L299.55,560.6L299.8,550.1L300.05,562.7L300.3,565.3L300.55,547.7L300.8,552.7L301.05,555.2L301.3,561.4L301.55,558.3L301.8,545.8L302.05,549.2L302.3,536.4L302.55,543.7L302.8,558L303.05,557.4L303.3,555L303.55,554L303.8,545.9L304.05,553.5L304.3,552.4L304.55,549L304.8,553.4L305.05,552.2L305.3,560L305.55,547.3L305.8,554.2L306.05,550.1L306.3,558.6L306.55,563.3L306.8,548.2L307.05,548.7L307.3,549.8L307.55,560L307.8,547.3L308.05,553.4L308.3,554.4L308.55,557.6L308.8,553.3L309.05,551.6L309.3,571.8L309.55,551.3L309.8,548.1L310.05,560L310.3,551.9L310.55,546.7L310.8,564.2L311.05,550L311.3,550.5L311.55,553.9L311.8,559L312.05,552L312.3,548.8L312.55,548.3L312.8,569.1L313.05,560.7L313.3,557.6L313.55,541.9L313.8,556.4L314.05,547L314.3,554.8L314.55,561.7L314.8,553.4L315.05,558.5L315.3,547L315.55,553.2L315.8,554.5L316.05,549.9L316.3,558L316.55,555L316.8,558.8L317.05,555.8L317.3,550.7L317.55,551.3L317.8,552.3L318.05,554L318.3,558.7L318.55,564.6L318.8,551.6L319.05,550.5L319.3,551.1L319.55,554.1L319.8,559.7L320.05,558.2L320.3,562L320.55,551.3L320.8,561.9L321.05,561.1L321.3,560.9L321.55,555.2L321.8,548.8L322.05,546.1L322.3,540.5L322.55,554.6L322.8,539.6L323.05,555.7L323.3,554.2L323.55,557.8L323.8,550.9L324.05,558L324.3,545.1L324.55,547.3L324.8,551.9L325.05,562.7L325.3,556L325.55,553.9L325.8,562L326.05,556.4L326.3,548L326.55,559.3L326.8,563.3L327.05,559.8L327.3,556.1L327.55,552.7L327.8,557.3L328.05,546.7L328.3,552.1L328.55,551.8L328.8,558.8L329.05,553.7L329.3,540.1L329.55,543.1L329.8,547.7L330.05,557.1L330.3,551.5L330.55,541.7L330.8,556.6L331.05,550.3L331.3,555.4L331.55,536.6L331.8,553.4L332.05,560L332.3,560.1L332.55,556.4L332.8,565.7L333.05,548.1L333.3,559.4L333.55,550.5L333.8,544.1L334.05,542.2L334.3,569.4L334.55,564.3L334.8,571.2L335.05,533.7L335.3,553.4L335.55,555.7L335.8,560.6L336.05,547.7L336.3,554L336.55,555.1L336.8,558L337.05,564.2L337.3,551.4L337.55,546.3L337.8,556.5L338.05,559.4L338.3,545.1L338.55,547.4L338.8,549.4L339.05,551.9L339.3,562.3L339.55,549.4L339.8,567.2L340.05,570L340.3,557.9L340.55,556.1L340.8,550.3L341.05,551.4L341.3,547.1L341.55,549.4L341.8,562.2L342.05,551.6L342.3,566.8L342.55,542.1L342.8,558.5L343.05,552.7L343.3,549.1L343.55,556.7L343.8,551.3L344.05,558.3L344.3,550.8L344.55,545.6L344.8,537.6L345.05,552.7L345.3,558.6L345.55,540.6L345.8,555.9L346.05,550.7L346.3,547.5L346.55,559.6L346.8,547L347.05,556.1L347.3,556.4L347.55,555.4L347.8,542.2L348.05,547.5L348.3,549.7L348.55,559.6L348.8,545.3L349.05,568.2L349.3,561.7L349.55,547.8L349.8,554.2L350.05,560.8L350.3,564.2L350.55,545.2L350.8,546.7L351.05,560.7L351.3,545.4L351.55,560.6L351.8,555.2L352.05,553L352.3,546.7L352.55,564.8L352.8,547.7L353.05,553.5L353.3,562.7L353.55,555.2L353.8,552.7L354.05,561.3L354.3,562.1L354.55,555.5L354.8,551.5L355.05,562.7L355.3,550L355.55,542.4L355.8,561.1L356.05,551.1L356.3,553.1L356.55,553.4L356.8,565.5L357.05,549.7L357.3,533.5L357.55,555.1L357.8,562.8L358.05,547.1L358.3,563L358.55,543.2L358.8,549.9L359.05,557.9L359.3,555.7L359.55,562.4L359.8,565.2L360.05,547.6L360.3,559.2L360.55,549.9L360.8,547.5L361.05,559.7L361.3,543L361.55,545.6L361.8,558.2L362.05,564.4L362.3,546.2L362.55,554.3L362.8,546.9L363.05,557L363.3,560L363.55,559.2L363.8,555.6L364.05,555.7L364.3,551.8L364.55,563.4L364.8,557.6L365.05,550.2L365.3,562.1L365.55,561.9L365.8,556.2L366.05,557.5L366.3,557.2L366.55,555L366.8,569.4L367.05,544.2L367.3,559.7L367.55,557L367.8,548.9L368.05,549.4L368.3,552.3L368.55,549.5L368.8,536.1L369.05,550.9L369.3,550.9L369.55,549.3L369.8,549.5L370.05,555L370.3,550L370.55,556L370.8,554.9L371.05,556.4L371.3,532.6L371.55,549L371.8,554.4L372.05,540.2L372.3,544.9L372.55,557.7L372.8,558.6L373.05,539.9L373.3,552.4L373.55,554.6L373.8,553.9L374.05,557.8L374.3,551L374.55,559.5L374.8,557.5L375.05,541.4L375.3,546.1L375.55,543.5L375.8,548L376.05,545L376.3,549.3L376.55,548.2L376.8,568.9L377.05,565.9L377.3,554.9L377.55,562.5L377.8,556.4L378.05,558L378.3,560.5L378.55,540L378.8,553.6L379.05,558.1L379.3,553.5L379.55,561.7L379.8,541.4L380.05,560.5L380.3,550.9L380.55,558.4L380.8,537.5L381.05,550.9L381.3,558L381.55,551.1L381.8,555.5L382.05,567L382.3,552L382.55,548.2L382.8,563.3L383.05,558L383.3,555.6L383.55,558.7L383.8,559.8L384.05,569.2L384.3,537.7L384.55,546.5L384.8,564.4L385.05,553.6L385.3,547.9L385.55,558.5L385.8,556L386.05,536.2L386.3,550.1L386.55,549.1L386.8,553.4L387.05,561.9L387.3,560.5L387.55,557.4L387.8,563.1L388.05,539.5L388.3,540.1L388.55,526.1L388.8,516.4L389.05,524.4L389.3,523.6L389.55,543L389.8,536.5L390.05,547L390.3,537.8L390.55,575.2L390.8,563.1L391.05,552.4L391.3,568L391.55,544.6L391.8,535.1L392.05,563.2L392.3,550.5L392.55,550.7L392.8,547.3L393.05,534L393.3,558.9L393.55,538.2L393.8,550L394.05,544.7L394.3,567.8L394.55,558.6L394.8,571.6L395.05,560.1L395.3,560.6L395.55,540.4L395.8,556.5L396.05,555.2L396.3,555.1L396.55,536.4L396.8,555.6L397.05,547.4L397.3,541.2L397.55,549.8L397.8,566.9L398.05,559.2L398.3,550.2L398.55,559.6L398.8,558.4L399.05,565.2L399.3,551.6L399.55,555.7L399.8,564.7L400.05,558L400.3,573.4L400.55,551.9L400.8,547.3L401.05,548.2L401.3,557.1L401.55,540.1L401.8,559.9L402.05,537.2L402.3,551.9L402.55,554.4L402.8,571.5L403.05,571.8L403.3,564.1L403.55,564.1L403.8,553.7L404.05,554L404.3,555.3L404.55,547.6L404.8,561L405.05,561.1L405.3,569.9L405.55,558.5L405.8,550.3L406.05,553.2L406.3,557.4L406.55,545.1L406.8,550.7L407.05,549.9L407.3,553.6L407.55,555.2L407.8,551.6L408.05,564.2L408.3,541.5L408.55,576.5L408.8,572.1L409.05,579L409.3,562.5L409.55,550.5L409.8,544.1L410.05,553.7L410.3,552.2L410.55,539.3L410.8,565.7L411.05,578.3L411.3,598.6L411.55,589.1L411.8,590L412.05,584.5L412.3,563.6L412.55,566L412.8,564.7L413.05,561.4L413.3,551.6L413.55,564.8L413.8,537.4L414.05,537L414.3,552.6L414.55,543.6L414.8,567.7L415.05,572.7L415.3,550.6L415.55,548.2L415.8,542L416.05,535L416.3,541.4L416.55,549.6L416.8,533.6L417.05,550.8L417.3,534.2L417.55,551.1L417.8,550.9L418.05,541.9L418.3,562.9L418.55,542.8L418.8,526.8L419.05,561.3L419.3,555.2L419.55,549.2L419.8,563.7L420.05,543.5L420.3,548.9L420.55,537.1L420.8,554.1L421.05,555.5L421.3,558.8L421.55,539.9L421.8,556.5L422.05,550L422.3,558.6L422.55,549.2L422.8,552L423.05,555.5L423.3,537.9L423.55,554.7L423.8,541.7L424.05,533L424.3,562.7L424.55,534.7L424.8,559.2L425.05,553.4L425.3,536L425.55,570.6L425.8,545.5L426.05,552L426.3,547.8L426.55,554.6L426.8,547.3L427.05,565.4L427.3,547.9L427.55,563.7L427.8,553.6L428.05,555.9L428.3,549.9L428.55,539.4L428.8,545.9L429.05,559.6L429.3,561.8L429.55,567.8L429.8,550.3L430.05,547.5L430.3,552.7L430.55,579.1L430.8,566.3L431.05,553.3L431.3,560.5L431.55,563.7L431.8,552.9L432.05,548.6L432.3,556.6L432.55,549.6L432.8,558.4L433.05,561.9L433.3,566.7L433.55,548.5L433.8,544.2L434.05,544.1L434.3,559.8L434.55,567.4L434.8,553.1L435.05,560.5L435.3,557.2L435.55,550.1L435.8,557L436.05,571L436.3,556.8L436.55,559.8L436.8,555.6L437.05,557L437.3,567.7L437.55,557.7L437.8,560.2L438.05,577.8L438.3,541L438.55,557.3L438.8,554.5L439.05,552.9L439.3,553.6L439.55,570.2L439.8,548.3L440.05,554.4L440.3,539.3L440.55,548.1L440.8,559.3L441.05,559.3L441.3,546L441.55,550.7L441.8,550.1L442.05,558.5L442.3,557.9L442.55,544.7L442.8,556.2L443.05,537.5L443.3,562.5L443.55,565.4L443.8,554.5L444.05,549L444.3,539.7L444.55,546.4L444.8,546.6L445.05,555.8L445.3,547.9L445.55,550.4L445.8,561.3L446.05,548L446.3,548.9L446.55,570L446.8,577.8L447.05,546L447.3,580.7L447.55,572.6L447.8,559.7L448.05,555.5L448.3,559.2L448.55,562.9L448.8,548.8L449.05,567.1L449.3,571.1L449.55,590.6L449.8,545.5L450.05,550.1L450.3,565.1L450.55,560.4L450.8,562.2L451.05,555L451.3,559.9L451.55,549L451.8,509.7L452.05,547.1L452.3,526.1L452.55,524.8L452.8,552.8L453.05,563L453.3,542.7L453.55,557.7L453.8,568L454.05,564.4L454.3,553.8L454.55,576L454.8,550L455.05,565L455.3,565.1L455.55,557.8L455.8,559.7L456.05,565.2L456.3,577.3L456.55,552.3L456.8,560.6L457.05,550.5L457.3,567.2L457.55,544.8L457.8,547L458.05,577.8L458.3,569.3L458.55,564.9L458.8,538.2L459.05,578.4L459.3,570.2L459.55,570.7L459.8,560L460.05,579.3L460.3,549.5L460.55,576.5L460.8,570.2L461.05,567.5L461.3,562.6L461.55,573L461.8,588.5L462.05,578.5L462.3,594.9L462.55,545.9L462.8,587.1L463.05,553.9L463.3,565.5L463.55,556.2L463.8,542.2L464.05,559.7L464.3,564.6L464.55,545.2L464.8,553.4L465.05,551L465.3,581.5L465.55,561.7L465.8,571.4L466.05,576.5L466.3,555.1L466.55,569.2L466.8,559.6L467.05,566.2L467.3,578.4L467.55,559.9L467.8,525L468.05,543.1L468.3,556.5L468.55,556.8L468.8,564.9L469.05,556.9L469.3,552.4L469.55,557.9L469.8,569.7L470.05,560.9L470.3,546.9L470.55,547.1L470.8,543.1L471.05,582.1L471.3,570.3L471.55,555.2L471.8,567.2L472.05,578.6L472.3,546.3L472.55,553.2L472.8,560.1L473.05,574.7L473.3,547.2L473.55,556.3L473.8,546.9L474.05,579.4L474.3,565L474.55,563.3L474.8,533.8L475.05,573.5L475.3,557.2L475.55,573.2L475.8,585L476.05,562.8L476.3,558.4L476.55,559.9L476.8,571L477.05,567.5L477.3,570.9L477.55,549.6L477.8,555.7L478.05,551.6L478.3,566.3L478.55,566L478.8,541.2L479.05,556.4L479.3,593.4L479.55,558.8L479.8,557L480.05,554.8L480.3,550.9L480.55,547.4L480.8,565.4L481.05,544.5L481.3,554.3L481.55,560.3L481.8,563.2L482.05,574.8L482.3,559.7L482.55,549.9L482.8,577.4L483.05,551.3L483.3,558L483.55,550.7L483.8,558.7L484.05,572.4L484.3,557.1L484.55,567.9L484.8,579.3L485.05,564.6L485.3,537.3L485.55,530.7L485.8,561.5L486.05,566.6L486.3,549.8L486.55,545.8L486.8,559.7L487.05,538.4L487.3,556.1L487.55,543.6L487.8,541.1L488.05,527.3L488.3,535.3L488.55,539L488.8,545.2L489.05,534.6L489.3,558.9L489.55,541.7L489.8,537.4L490.05,571.6L490.3,546.3L490.55,520.5L490.8,543.9L491.05,533.8L491.3,543.7L491.55,560.5L491.8,551.6L492.05,566.8L492.3,567.7L492.55,567.7L492.8,550.8L493.05,549.5L493.3,569.7L493.55,570.5L493.8,570.2L494.05,517.4L494.3,578.4L494.55,545.1L494.8,535.9L495.05,571.4L495.3,554.2L495.55,538.6L495.8,545.7L496.05,550.8L496.3,522.9L496.55,544.1L496.8,539.4L497.05,553.7L497.3,560.8L497.55,538.5L497.8,535.8L498.05,535.5L498.3,580.5L498.55,555.5L498.8,556.2L499.05,538L499.3,562.4L499.55,574.1L499.8,555L500.05,546.9L500.3,553.5L500.55,559.8L500.8,563.9L501.05,572.4L501.3,538.5L501.55,577.1L501.8,539L502.05,564L502.3,517L502.55,527L502.8,529.7L503.05,559.1L503.3,523.3L503.55,561.6L503.8,513.3L504.05,543.7L504.3,563.1L504.55,554.8L504.8,563.6L505.05,530.8L505.3,566.9L505.55,561.8L505.8,564L506.05,554.5L506.3,542.2L506.55,527.4L506.8,537.4L507.05,554.1L507.3,544.5L507.55,529.7L507.8,555.8L508.05,539.5L508.3,543.6L508.55,535.7L508.8,541.1L509.05,517.7L509.3,518.6L509.55,527.9L509.8,499.2L510.05,517.2L510.3,527.8L510.55,538.6L510.8,545.3L511.05,555.7L511.3,530.9L511.55,528.5L511.8,583.7L512.05,531.6L512.3,553.8L512.55,538.9L512.8,563.5L513.05,560.3L513.3,552L513.55,558.9L513.8,552.1L514.05,550.5L514.3,565.2L514.55,533.8L514.8,549.3L515.05,547.8L515.3,539.1L515.55,547.8L515.8,551.8L516.05,539.8L516.3,536.7L516.55,539.4L516.8,554L517.05,537.9L517.3,524.2L517.55,499L517.8,510.1L518.05,533.9L518.3,527.3L518.55,525.4L518.8,563.4L519.05,567.3L519.3,526.3L519.55,566L519.8,554.1L520.05,549.9L520.3,549.5L520.55,530.4L520.8,549.7L521.05,553.2L521.3,539.4L521.55,575.2L521.8,560.5L522.05,550.8L522.3,547.9L522.55,559.1L522.8,564.7L523.05,562.7L523.3,548.4L523.55,554.5L523.8,572L524.05,547.2L524.3,551.9L524.55,563L524.8,550L525.05,581.4L525.3,545.3L525.55,531L525.8,551.3L526.05,541.8L526.3,565.5L526.55,544L526.8,549.3L527.05,563.2L527.3,554.8L527.55,525.6L527.8,589.8L528.05,540.8L528.3,558.3L528.55,541.9L528.8,550.3L529.05,529.4L529.3,563.2L529.55,576.3L529.8,535.9L530.05,555.9L530.3,551.7L530.55,552.4L530.8,556.6L531.05,537.7L531.3,538.2L531.55,524.9L531.8,589.8L532.05,541.2L532.3,572.5L532.55,562.4L532.8,577.1L533.05,547.3L533.3,541.3L533.55,535.4L533.8,542.7L534.05,582.9L534.3,542.3L534.55,563.2L534.8,560.4L535.05,538.9L535.3,571.4L535.55,541.6L535.8,556.7L536.05,562L536.3,534.1L536.55,551.9L536.8,523.8L537.05,501.2L537.3,504.3L537.55,505.9L537.8,495.5L538.05,527.3L538.3,532.4L538.55,557.1L538.8,556.9L539.05,551.7L539.3,522.9L539.55,521.5L539.8,529.1L540.05,550.8L540.3,555.4L540.55,545.8L540.8,539L541.05,551.6L541.3,535.3L541.55,565.8L541.8,567.2L542.05,558.5L542.3,548L542.55,542.9L542.8,555.3L543.05,556L543.3,578.7L543.55,572L543.8,560.7L544.05,543.9L544.3,554.9L544.55,517.5L544.8,567.1L545.05,564.2L545.3,567.6L545.55,534.6L545.8,572.3L546.05,548.4L546.3,535.1L546.55,566.4L546.8,530.5L547.05,543.2L547.3,556.1L547.55,566.2L547.8,534.6L548.05,534.7L548.3,561.7L548.55,563.5L548.8,553.1L549.05,548.4L549.3,533.1L549.55,551.3L549.8,589.8L550.05,542.8L550.3,553.1L550.55,542.4L550.8,551.3L551.05,538.1L551.3,535L551.55,556.5L551.8,557.8L552.05,567.3L552.3,555L552.55,557.7L552.8,544.6L553.05,564.9L553.3,559.7L553.55,581.2L553.8,546.6L554.05,541.7L554.3,558.5L554.55,547.8L554.8,549.7L555.05,549.7L555.3,577.7L555.55,546.5L555.8,542.2L556.05,556.2L556.3,555.3L556.55,562.8L556.8,552.7L557.05,561.8L557.3,536.2L557.55,559.8L557.8,557.6L558.05,559.8L558.3,545.5L558.55,533.3L558.8,554.3L559.05,564.2L559.3,562.7L559.55,539.2L559.8,537.1L560.05,555.8L560.3,553.3L560.55,545.2L560.8,539.7L561.05,579.1L561.3,548.5L561.55,559.7L561.8,558.5L562.05,561.4L562.3,539L562.55,550L562.8,541.9L563.05,551.5L563.3,541L563.55,555.3L563.8,559.5L564.05,552.1L564.3,559.6L564.55,549.3L564.8,528L565.05,568.7L565.3,540L565.55,524.4L565.8,531.5L566.05,532.9L566.3,552.7L566.55,525.8L566.8,551.4L567.05,544.2L567.3,524.4L567.55,575L567.8,552.9L568.05,523L568.3,535.9L568.55,549.4L568.8,506.1L569.05,524.6L569.3,536.9L569.55,540.1L569.8,528.4L570.05,587.8L570.3,550L570.55,567.1L570.8,546.5L571.05,562.5L571.3,547.1L571.55,559.6L571.8,511.4L572.05,575.4L572.3,548.7L572.55,557.2L572.8,553.6L573.05,552L573.3,560.6L573.55,541.2L573.8,533.5L574.05,520L574.3,566.7L574.55,551.9L574.8,569.5L575.05,540.6L575.3,572.3L575.55,539.1L575.8,543L576.05,538.5L576.3,538.8L576.55,573.3L576.8,552.2L577.05,567.6L577.3,542.1L577.55,515.4L577.8,522.5L578.05,517.6L578.3,506.8L578.55,562.2L578.8,524.1L579.05,571.6L579.3,534.8L579.55,548.6L579.8,515.8L580.05,565.7L580.3,530L580.55,552.5L580.8,572.9L581.05,535.6L581.3,553.9L581.55,565.3L581.8,546.4L582.05,569.9L582.3,557.8L582.55,546.4L582.8,532.2L583.05,558.7L583.3,558.4L583.55,542.6L583.8,551L584.05,565.3L584.3,584.2L584.55,534.9L584.8,540.5L585.05,540.6L585.3,565.4L585.55,557.5L585.8,534.3L586.05,564.5L586.3,554.8L586.55,556.7L586.8,571.8L587.05,541.9L587.3,578.4L587.55,557L587.8,574.6L588.05,523.6L588.3,544.1L588.55,544.8L588.8,562.9L589.05,543.3L589.3,559.5L589.55,552.9L589.8,549.6L590.05,536.9L590.3,556.9L590.55,551L590.8,549.4L591.05,556.4L591.3,559.7L591.55,553.3L591.8,562.7L592.05,577.8L592.3,561.4L592.55,542.6L592.8,507.5L593.05,523.8L593.3,503.8L593.55,520.5L593.8,530L594.05,521.5L594.3,549.9L594.55,564.6L594.8,553.9L595.05,562.9L595.3,535.8L595.55,554.3L595.8,553.4L596.05,537L596.3,540.5L596.55,541.2L596.8,549.1L597.05,557.8L597.3,558L597.55,555.3L597.8,533L598.05,570.7L598.3,542L598.55,539.3L598.8,580.8L599.05,556.7L599.3,580.7"/><path d="M632.9,565.1L633.15,546.2L633.4,541.8L633.65,553.2L633.9,559.5L634.15,544.9L634.4,557.2L634.65,555.3L634.9,536.1L635.15,553.1L635.4,560.4L635.65,541.6L635.9,551.9L636.15,529.6L636.4,551.2L636.65,541.2L636.9,552L637.15,545.9L637.4,542L637.65,528.5L637.9,556.8L638.15,547.5L638.4,536.2L638.65,557.8L638.9,552L639.15,560L639.4,564.1L639.65,550.5L639.9,575.7L640.15,565.2L640.4,560.1L640.65,554.8L640.9,547.4L641.15,537.8L641.4,545.9L641.65,546.4L641.9,561.2L642.15,542.9L642.4,553.1L642.65,561.8L642.9,563.6L643.15,536.4L643.4,527.6L643.65,541.1L643.9,556.7L644.15,547.1L644.4,554.9L644.65,548.8L644.9,561.6L645.15,554L645.4,556.1L645.65,547.9L645.9,556.1L646.15,560.7L646.4,547.7L646.65,565.9L646.9,551.2L647.15,556.6L647.4,553L647.65,559.3L647.9,556.1L648.15,544.6L648.4,549.7L648.65,546.4L648.9,544.9L649.15,529.7L649.4,557L649.65,542L649.9,550.1L650.15,536.6L650.4,538.4L650.65,564.2L650.9,540.1L651.15,543.3L651.4,554.1L651.65,544.5L651.9,554.9L652.15,530.7L652.4,557.4L652.65,532.9L652.9,560L653.15,556L653.4,549.5L653.65,551.7L653.9,550.9L654.15,544.1L654.4,545.7L654.65,549.9L654.9,559.4L655.15,571.6L655.4,551.8L655.65,540.5L655.9,553.6L656.15,548.9L656.4,543.9L656.65,532.5L656.9,572.3L657.15,552.8L657.4,555.6L657.65,552.2L657.9,538L658.15,542.3L658.4,548.3L658.65,543.5L658.9,563.7L659.15,550.2L659.4,574.5L659.65,547.2L659.9,558.8L660.15,540.2L660.4,554.6L660.65,551L660.9,558.2L661.15,557.7L661.4,556.2L661.65,557.1L661.9,547L662.15,559.6L662.4,551.3L662.65,558.8L662.9,557.9L663.15,533.5L663.4,540.3L663.65,537.6L663.9,547.8L664.15,553.2L664.4,548.9L664.65,536.1L664.9,543.9L665.15,548.8L665.4,537.8L665.65,557L665.9,541L666.15,553.4L666.4,548.2L666.65,539.1L666.9,534.9L667.15,545.5L667.4,539.6L667.65,549.6L667.9,557.7L668.15,574.9L668.4,540.7L668.65,553.9L668.9,534.7L669.15,554.7L669.4,553.2L669.65,551.2L669.9,557.4L670.15,565.6L670.4,545.1L670.65,548L670.9,550.3L671.15,534.9L671.4,548.3L671.65,551.6L671.9,557.6L672.15,562.8L672.4,535.9L672.65,552.1L672.9,553.8L673.15,551L673.4,555.7L673.65,557.9L673.9,540.5L674.15,538.8L674.4,543.6L674.65,560.5L674.9,565.1L675.15,538.3L675.4,554.4L675.65,560L675.9,523.9L676.15,552L676.4,558.2L676.65,551.7L676.9,554.4L677.15,558.8L677.4,540.9L677.65,547.3L677.9,538.6L678.15,551.2L678.4,559.3L678.65,556.7L678.9,563.2L679.15,539.5L679.4,532.1L679.65,552.1L679.9,541.3L680.15,554.9L680.4,551.5L680.65,545L680.9,525.2L681.15,549.1L681.4,546.9L681.65,547.7L681.9,556.5L682.15,563.5L682.4,566.7L682.65,555L682.9,546.3L683.15,563L683.4,569.5L683.65,548.9L683.9,534.5L684.15,539.9L684.4,552.4L684.65,558.1L684.9,553.3L685.15,561.5L685.4,558.1L685.65,530.4L685.9,547.1L686.15,570.6L686.4,540.9L686.65,540.3L686.9,555.4L687.15,547.7L687.4,544.7L687.65,569.8L687.9,540L688.15,558.7L688.4,545.3L688.65,550.1L688.9,537L689.15,543.4L689.4,554L689.65,549.8L689.9,529.8L690.15,543.9L690.4,552L690.65,545.3L690.9,556.9L691.15,541.2L691.4,551.9L691.65,549.3L691.9,555.4L692.15,566.3L692.4,546.4L692.65,561.9L692.9,556.7L693.15,549.6L693.4,566.5L693.65,560.6L693.9,563.1L694.15,545.7L694.4,540.9L694.65,551.8L694.9,536.3L695.15,542.1L695.4,559.3L695.65,562.3L695.9,546.8L696.15,555.7L696.4,542.4L696.65,562.8L696.9,549.9L697.15,565.7L697.4,538.2L697.65,541.1L697.9,541.7L698.15,550.7L698.4,556L698.65,551.6L698.9,536.9L699.15,558.5L699.4,532.9L699.65,546L699.9,550.8L700.15,548.2L700.4,547.8L700.65,559.6L700.9,568.7L701.15,561.7L701.4,579.3L701.65,554.9L701.9,572L702.15,546.5L702.4,570.5L702.65,555.3L702.9,547.5L703.15,542L703.4,553.6L703.65,560.3L703.9,538.8L704.15,547.1L704.4,571.7L704.65,569.9L704.9,559.4L705.15,549.6L705.4,560.7L705.65,566.7L705.9,539.9L706.15,556.5L706.4,555.2L706.65,545.3L706.9,544.4L707.15,551L707.4,551.8L707.65,555.9L707.9,551.7L708.15,558.3L708.4,576.6L708.65,547.6L708.9,552.7L709.15,548.8L709.4,532.3L709.65,571.1L709.9,574L710.15,550.6L710.4,529.2L710.65,535.3L710.9,570.1L711.15,555.5L711.4,532L711.65,564.4L711.9,562.9L712.15,547.3L712.4,546.7L712.65,552.9L712.9,546.8L713.15,568.8L713.4,553.1L713.65,544.8L713.9,539L714.15,544.9L714.4,552.7L714.65,542.9L714.9,543.2L715.15,541.9L715.4,564.1L715.65,555.1L715.9,570.5L716.15,564.1L716.4,553.7L716.65,562L716.9,558.9L717.15,559.1L717.4,556.2L717.65,541.5L717.9,558.3L718.15,539.5L718.4,545.3L718.65,563.8L718.9,566.3L719.15,568.3L719.4,553.6L719.65,583.2L719.9,565.2L720.15,566.4L720.4,573.1L720.65,550.3L720.9,570.1L721.15,567.4L721.4,569.7L721.65,583.5L721.9,569.8L722.15,566L722.4,578.6L722.65,543.6L722.9,570.5L723.15,556.6L723.4,552.7L723.65,556.1L723.9,557.7L724.15,558.9L724.4,540.7L724.65,553.1L724.9,551.5L725.15,558.8L725.4,540.1L725.65,579.7L725.9,553L726.15,566.4L726.4,571.1L726.65,575.1L726.9,549.2L727.15,553.1L727.4,557.4L727.65,563.6L727.9,565.6L728.15,539.6L728.4,563.4L728.65,551.7L728.9,554.8L729.15,554.5L729.4,563L729.65,548.7L729.9,557.3L730.15,536.4L730.4,544.8L730.65,554.2L730.9,527.7L731.15,543.5L731.4,540.6L731.65,540.2L731.9,563.5L732.15,561.6L732.4,532.7L732.65,550.2L732.9,563.6L733.15,526.7L733.4,546.7L733.65,553.1L733.9,546.7L734.15,542.7L734.4,563.6L734.65,539.6L734.9,548.3L735.15,557.4L735.4,541.8L735.65,539.5L735.9,567.4L736.15,544.3L736.4,561.7L736.65,553.4L736.9,562.7L737.15,548.6L737.4,526.4L737.65,546.8L737.9,551L738.15,549.5L738.4,551.3L738.65,545.7L738.9,549.5L739.15,547.5L739.4,554.9L739.65,524.9L739.9,528.5L740.15,508L740.4,497.5L740.65,497.1L740.9,520.3L741.15,541.9L741.4,526.7L741.65,544.3L741.9,548.2L742.15,537.3L742.4,550.3L742.65,550.7L742.9,553.7L743.15,551.1L743.4,546.4L743.65,559.2L743.9,535.6L744.15,543.8L744.4,534.4L744.65,545.1L744.9,559.4L745.15,544.5L745.4,565.6L745.65,538.3L745.9,555.9L746.15,553.8L746.4,539.5L746.65,558.6L746.9,546.9L747.15,541.6L747.4,537.3L747.65,528.9L747.9,556L748.15,543.7L748.4,552.4L748.65,568.9L748.9,558.1L749.15,530.2L749.4,560L749.65,525.8L749.9,566L750.15,533.3L750.4,538.3L750.65,554.9L750.9,566.5L751.15,559.9L751.4,543.1L751.65,545.5L751.9,546.9L752.15,548.7L752.4,548L752.65,538.9L752.9,556.2L753.15,531.8L753.4,559.2L753.65,543.2L753.9,547L754.15,556.8L754.4,552.8L754.65,557.4L754.9,576.8L755.15,550.9L755.4,538.9L755.65,561.9L755.9,554.6L756.15,561.5L756.4,544.2L756.65,557.7L756.9,563.3L757.15,545.7L757.4,537.2L757.65,556L757.9,567L758.15,560.3L758.4,541L758.65,541.1L758.9,546L759.15,543.9L759.4,563.6L759.65,545.1L759.9,551.1L760.15,555.4L760.4,540.9L760.65,545.1L760.9,557.6L761.15,550.4L761.4,576.8L761.65,560L761.9,540.8L762.15,578.9L762.4,563L762.65,559.8L762.9,597.2L763.15,588L763.4,594.6L763.65,596.6L763.9,595.1L764.15,588L764.4,552.3L764.65,572.7L764.9,563.8L765.15,562L765.4,547.7L765.65,558.3L765.9,554.7L766.15,569L766.4,555.6L766.65,554.7L766.9,551.5L767.15,573.8L767.4,539L767.65,571.3L767.9,578.7L768.15,545.6L768.4,537.1L768.65,551.8L768.9,554.2L769.15,542.9L769.4,554.6L769.65,547.2L769.9,561.6L770.15,549L770.4,553.2L770.65,559.3L770.9,541.2L771.15,548.1L771.4,552.3L771.65,549.3L771.9,546.9L772.15,552.9L772.4,571.5L772.65,557L772.9,551L773.15,556.1L773.4,559.8L773.65,554.7L773.9,539.3L774.15,539.2L774.4,558.6L774.65,550.4L774.9,553.1L775.15,548L775.4,551.1L775.65,544L775.9,570.3L776.15,560.6L776.4,547.9L776.65,545.1L776.9,551.9L777.15,544.2L777.4,539L777.65,565.4L777.9,573.2L778.15,560.6L778.4,563.4L778.65,546L778.9,545.3L779.15,533.5L779.4,562.6L779.65,567.5L779.9,544.6L780.15,557.6L780.4,536.5L780.65,550.5L780.9,551L781.15,550.2L781.4,552.5L781.65,537.5L781.9,546.4L782.15,546L782.4,540.2L782.65,564.9L782.9,549.8L783.15,556.4L783.4,545.4L783.65,538.5L783.9,541.8L784.15,556.3L784.4,530.9L784.65,547.3L784.9,555.7L785.15,555.1L785.4,554.8L785.65,566.5L785.9,542L786.15,544.7L786.4,545.2L786.65,537.5L786.9,546L787.15,542.4L787.4,558.4L787.65,548.7L787.9,557.9L788.15,568.3L788.4,553.8L788.65,543.7L788.9,560.5L789.15,551.4L789.4,562.3L789.65,539.6L789.9,560.8L790.15,559.9L790.4,532.6L790.65,553.5L790.9,572.1L791.15,551.9L791.4,550.7L791.65,549.8L791.9,551.3L792.15,557.9L792.4,543.7L792.65,539L792.9,543.1L793.15,548.7L793.4,553.3L793.65,554.7L793.9,544.2L794.15,554.3L794.4,559.5L794.65,553.6L794.9,569.6L795.15,545.7L795.4,530.5L795.65,545.5L795.9,549.9L796.15,541.7L796.4,536.1L796.65,542.2L796.9,538.9L797.15,551.6L797.4,545.8L797.65,552.1L797.9,561.1L798.15,557L798.4,540.2L798.65,556.3L798.9,558.1L799.15,554.4L799.4,547.9L799.65,568.3L799.9,538.6L800.15,567L800.4,547.9L800.65,564.6L800.9,554.4L801.15,561.1L801.4,571.2L801.65,537.7L801.9,552.5L802.15,554.9L802.4,545.2L802.65,528.6L802.9,540.4L803.15,549.4L803.4,543.5L803.65,580.1L803.9,551.7L804.15,560.5L804.4,555.9L804.65,561.2L804.9,553.8L805.15,552.2L805.4,549.9L805.65,553.7L805.9,543.9L806.15,566.4L806.4,546.4L806.65,565.1L806.9,561.4L807.15,536.7L807.4,533.9L807.65,561.5L807.9,546.8L808.15,536.1L808.4,554.2L808.65,567.3L808.9,558.6L809.15,562.9L809.4,541.3L809.65,543.2L809.9,564.7L810.15,564.3L810.4,557.7L810.65,560.7L810.9,565.9L811.15,551.5L811.4,553.8L811.65,537.7L811.9,549.6L812.15,553.4L812.4,556.8L812.65,556.4L812.9,566.5L813.15,545.2L813.4,569.4L813.65,572.8L813.9,555.4L814.15,576.4L814.4,565.5L814.65,562.3L814.9,560.1L815.15,562.8L815.4,557.4L815.65,562.3L815.9,556L816.15,577.6L816.4,558.4L816.65,548.5L816.9,581.1L817.15,570.7L817.4,564.9L817.65,554.3L817.9,561.4L818.15,558L818.4,566.6L818.65,578.3L818.9,574.3L819.15,561.8L819.4,562.2L819.65,570.2L819.9,562.7L820.15,571.8L820.4,570.7L820.65,570.2L820.9,565.4L821.15,582.2L821.4,578.8L821.65,564.3L821.9,562.8L822.15,572.1L822.4,563.9L822.65,566.3L822.9,545.8L823.15,568.3L823.4,536.6L823.65,578.2L823.9,568L824.15,576.3L824.4,564.2L824.65,554.5L824.9,575.7L825.15,532.4L825.4,554.5L825.65,551.5L825.9,549.4L826.15,554.3L826.4,565.5L826.65,544.7L826.9,540.8L827.15,542.9L827.4,558.9L827.65,573L827.9,557.8L828.15,557.3L828.4,552.6L828.65,545L828.9,564.1L829.15,562.6L829.4,544.4L829.65,561.4L829.9,553.4L830.15,542.8L830.4,559L830.65,551.1L830.9,555L831.15,548L831.4,546L831.65,553.1L831.9,553.6L832.15,536.2L832.4,534.4L832.65,534.5L832.9,518.6L833.15,532.8L833.4,535.7L833.65,546.6L833.9,534.8L834.15,557.5L834.4,560.1L834.65,557.7L834.9,541L835.15,564.3L835.4,552.6L835.65,520.9L835.9,544.7L836.15,546.7L836.4,556.8L836.65,557.8L836.9,560L837.15,549.8L837.4,553.4L837.65,568.8L837.9,549L838.15,529.9L838.4,548.8L838.65,546.4L838.9,555.6L839.15,545.1L839.4,546.4L839.65,543L839.9,556.5L840.15,542.5L840.4,560.4L840.65,557.2L840.9,537.1L841.15,534.5L841.4,547.5L841.65,539.2L841.9,565.8L842.15,539.4L842.4,531L842.65,558.2L842.9,547.5L843.15,542.7L843.4,548.6L843.65,552.7L843.9,548.1L844.15,539.5L844.4,542.2L844.65,555.9L844.9,564.2L845.15,545.7L845.4,550.1L845.65,546.4L845.9,536.8L846.15,545.7L846.4,530.2L846.65,540.1L846.9,545.6L847.15,562.7L847.4,544L847.65,531.1L847.9,566.5L848.15,524.3L848.4,536.7L848.65,528.8L848.9,536.5L849.15,520.6L849.4,560.7L849.65,536L849.9,525.1L850.15,540.6L850.4,556.3L850.65,527.1L850.9,540.5L851.15,539.1L851.4,525.1L851.65,557.8L851.9,531.9L852.15,535.8L852.4,543.7L852.65,521.7L852.9,518.6L853.15,534.9L853.4,509.3L853.65,526.8L853.9,510.9L854.15,517.1L854.4,527L854.65,532.2L854.9,503L855.15,525.9L855.4,497.3L855.65,518.3L855.9,507.2L856.15,518.7L856.4,516.9L856.65,528.5L856.9,521.7L857.15,529.4L857.4,551.3L857.65,531.5L857.9,536.9L858.15,552.7L858.4,522L858.65,539L858.9,541.1L859.15,544.6L859.4,570.1L859.65,521.9L859.9,550.2L860.15,549.2L860.4,563.1L860.65,557.6L860.9,561.5L861.15,588.8L861.4,569.8L861.65,568.9L861.9,580.6L862.15,563.7L862.4,574L862.65,589.4L862.9,579.5L863.15,576.5L863.4,586.2L863.65,581.7L863.9,561.5L864.15,580.8L864.4,565.7L864.65,574.8L864.9,571.9L865.15,559.6L865.4,576.2L865.65,586.3L865.9,577.6L866.15,598.6L866.4,569L866.65,588.3L866.9,572.2L867.15,585.6L867.4,584L867.65,578L867.9,571.6L868.15,585.5L868.4,597.4L868.65,580.1L868.9,614L869.15,578.4L869.4,570.4L869.65,565.6L869.9,599.2L870.15,574.9L870.4,587.7L870.65,576L870.9,564.8L871.15,584.8L871.4,564.5L871.65,569.1L871.9,549L872.15,577.1L872.4,573.2L872.65,545.8L872.9,541.8L873.15,546.8L873.4,565.1L873.65,560.2L873.9,556.1L874.15,544.9L874.4,553.4L874.65,572.1L874.9,550.6L875.15,557L875.4,564.6L875.65,550.2L875.9,544L876.15,529.2L876.4,544.4L876.65,544.4L876.9,566.1L877.15,561.3L877.4,544L877.65,553.3L877.9,548.5L878.15,548.9L878.4,555.7L878.65,531.6L878.9,542.2L879.15,558.3L879.4,531.1L879.65,542.7L879.9,562.2L880.15,534L880.4,531.6L880.65,547L880.9,541.9L881.15,543.4L881.4,542.7L881.65,543.9L881.9,532.5L882.15,551.2L882.4,541.1L882.65,563.2L882.9,548.6L883.15,542.9L883.4,538.8L883.65,543.3L883.9,535.8L884.15,549.8L884.4,545.3L884.65,545.3L884.9,539.3L885.15,566.3L885.4,545.2L885.65,555.4L885.9,551.8L886.15,536.4L886.4,537.1L886.65,538.1L886.9,555.6L887.15,575.2L887.4,559.2L887.65,570L887.9,554.8L888.15,542.1L888.4,539.3L888.65,557.2L888.9,533.8L889.15,537.8L889.4,553.2L889.65,533.4L889.9,548.4L890.15,556.1L890.4,539.2L890.65,542.2L890.9,549.8L891.15,546.3L891.4,532.3L891.65,562.8L891.9,537.9L892.15,572.8L892.4,533.7L892.65,541.1L892.9,533.2L893.15,552.5L893.4,539L893.65,568.4L893.9,562.7L894.15,573.2L894.4,536.4L894.65,551.2L894.9,556.3L895.15,559.2L895.4,544.9L895.65,534.5L895.9,543.9L896.15,541.4L896.4,553.9L896.65,548.2L896.9,546.7L897.15,543.8L897.4,552.7L897.65,531.1L897.9,535.7L898.15,549.8L898.4,557.4L898.65,560.7L898.9,560.1L899.15,541L899.4,550L899.65,558.3L899.9,544.4L900.15,563.5L900.4,537.3L900.65,540.5L900.9,557.5L901.15,560.7L901.4,532.4L901.65,543.6L901.9,571.7L902.15,547.2L902.4,538.1L902.65,551.9L902.9,558.5L903.15,557.2L903.4,560.5L903.65,557.6L903.9,543.2L904.15,541.1L904.4,532.3L904.65,561.1L904.9,552.5L905.15,536L905.4,558.3L905.65,553.9L905.9,555.1L906.15,550.9L906.4,546L906.65,545L906.9,572.5L907.15,568L907.4,562.6L907.65,578.3L907.9,537.1L908.15,562.7L908.4,546.3L908.65,548L908.9,551.6L909.15,556.2L909.4,562.7L909.65,564.3L909.9,563.2L910.15,555.1L910.4,567.2L910.65,556.4L910.9,551.5L911.15,573.7L911.4,559.7L911.65,571L911.9,555.7L912.15,573.6L912.4,560.2L912.65,563.5L912.9,570.5L913.15,562.5L913.4,553.1L913.65,550.9L913.9,552.3L914.15,552.5L914.4,543.4L914.65,564.4L914.9,555.5L915.15,570.1L915.4,544.1L915.65,539.1L915.9,546.6L916.15,548.3L916.4,563.5L916.65,552.1L916.9,556L917.15,581.1L917.4,575.2L917.65,548L917.9,557.7L918.15,553.1L918.4,548.4L918.65,526.6L918.9,535.8L919.15,533.7L919.4,539.4L919.65,539.7L919.9,553.8L920.15,557.3L920.4,551.7L920.65,570.2L920.9,550.8L921.15,558.1L921.4,544.9L921.65,552.2L921.9,557L922.15,542.6L922.4,552.5L922.65,566.5L922.9,535.4L923.15,561.4L923.4,575.8L923.65,538.7L923.9,547.6L924.15,549.3L924.4,547.5L924.65,563.5L924.9,558.5L925.15,559.4L925.4,550.7L925.65,557.3L925.9,548.2L926.15,538.5L926.4,542.7L926.65,547.4L926.9,535.8L927.15,549.4L927.4,549.9L927.65,553.6L927.9,541.3L928.15,533.9L928.4,555.7L928.65,551.5L928.9,555.6L929.15,553.6L929.4,553.9L929.65,538.4L929.9,551.1L930.15,565.1L930.4,534.8L930.65,541.1L930.9,550.8L931.15,561.1L931.4,533L931.65,547.8L931.9,560.7L932.15,544.2L932.4,563.1L932.65,534.7L932.9,563L933.15,551.1L933.4,544.1L933.65,537.2L933.9,543L934.15,554.2L934.4,541.4L934.65,550.8L934.9,559.3L935.15,546.8L935.4,541.1L935.65,541.8L935.9,549.5L936.15,554L936.4,555L936.65,544.7L936.9,554.4L937.15,560.1L937.4,551.5L937.65,551.7L937.9,528.9L938.15,548.7L938.4,537.6L938.65,551.4L938.9,541.7L939.15,558.9L939.4,560.5L939.65,564.4L939.9,543.5L940.15,567.3L940.4,552.1L940.65,533.5L940.9,533.6L941.15,555.6L941.4,542.2L941.65,541.5L941.9,549.7L942.15,534.7L942.4,558.1L942.65,555.7L942.9,542.2L943.15,546.7L943.4,544.5L943.65,536.4L943.9,545.7L944.15,530.1L944.4,542.1L944.65,553.6L944.9,533.9L945.15,562L945.4,543.3L945.65,547.8L945.9,564.8L946.15,540.7L946.4,554.8L946.65,549.8L946.9,542.2L947.15,542.1L947.4,543.9L947.65,539.9L947.9,546.4L948.15,535.4L948.4,538.5L948.65,526.9L948.9,510.9L949.15,505.7L949.4,523.1L949.65,515.5L949.9,538.7L950.15,547.4L950.4,546.8L950.65,559L950.9,546.5L951.15,525.3L951.4,538.4L951.65,566.6L951.9,541.5L952.15,566L952.4,563.1L952.65,549.3L952.9,557.5L953.15,532.6L953.4,554.2L953.65,547.2L953.9,554L954.15,541.8L954.4,544.1L954.65,549L954.9,548.2L955.15,565.6L955.4,531.8L955.65,542.7L955.9,551.6L956.15,559.2L956.4,566.2L956.65,562.6L956.9,553L957.15,549.8L957.4,536.3L957.65,536.3L957.9,542.1L958.15,557L958.4,543L958.65,560L958.9,562.1L959.15,546.7L959.4,542.5L959.65,560.9L959.9,548.5L960.15,568.1L960.4,549.9L960.65,545.5L960.9,559.8L961.15,556.1L961.4,558.2L961.65,552.4L961.9,550.1L962.15,554.8L962.4,538.4L962.65,560.9L962.9,544.8L963.15,544.1L963.4,567.6L963.65,547L963.9,544.9L964.15,543.1L964.4,540.1L964.65,545.5L964.9,562.2L965.15,552.5L965.4,556.3L965.65,564.8L965.9,576.4L966.15,560L966.4,560.1L966.65,556.9L966.9,562.7L967.15,567.7L967.4,555.1L967.65,559.2L967.9,536.1L968.15,546.9L968.4,553.7L968.65,550.4L968.9,544.3L969.15,545.5L969.4,556.9L969.65,555.3L969.9,538.1L970.15,559L970.4,560.8L970.65,573.9L970.9,558.5L971.15,575.9L971.4,567L971.65,540.5L971.9,557L972.15,553.6L972.4,554.9L972.65,558.1L972.9,564.8L973.15,567.3L973.4,547.4L973.65,561.7L973.9,569.2L974.15,541.6L974.4,565.8L974.65,543.7L974.9,566.3L975.15,562.6L975.4,549.2L975.65,560.9L975.9,575.4L976.15,556.8L976.4,569L976.65,562.6L976.9,557.6L977.15,554.9L977.4,546.7L977.65,552.6L977.9,549.6L978.15,561.2L978.4,563.2L978.65,542.8L978.9,580.5L979.15,562.3L979.4,557.8L979.65,554.6L979.9,565.3L980.15,555.5L980.4,546.5L980.65,549.7L980.9,572.5L981.15,562.4L981.4,575.7L981.65,551.2L981.9,575.2L982.15,593.9L982.4,590.1L982.65,602.9L982.9,578.4L983.15,556.2L983.4,577.9L983.65,567.5L983.9,547.4L984.15,572.2L984.4,555.9L984.65,566.7L984.9,550.6L985.15,560.5L985.4,557.7L985.65,548L985.9,555.1L986.15,544.2L986.4,580.9L986.65,550.5L986.9,567.1L987.15,556.3L987.4,557.9L987.65,551.3L987.9,562.4L988.15,540L988.4,543.8L988.65,547.3L988.9,558.5L989.15,554.7L989.4,558L989.65,564.9L989.9,551.9L990.15,558.6L990.4,545.1L990.65,543.6L990.9,546.1L991.15,553.8L991.4,569.5L991.65,560.9L991.9,559.3L992.15,572L992.4,563.6L992.65,550.7L992.9,536.5L993.15,554.3L993.4,572.6L993.65,565.5L993.9,559.4L994.15,571.7L994.4,562.8L994.65,547L994.9,555.9L995.15,574.4L995.4,537.4L995.65,557.2L995.9,554.6L996.15,558.2L996.4,541.2L996.65,545.3L996.9,542.3L997.15,554L997.4,553L997.65,550.1L997.9,567.3L998.15,554L998.4,559.3L998.65,570.3L998.9,551.5L999.15,554.3L999.4,546.7L999.65,541.9L999.9,550.3L1000.15,562.7L1000.4,534L1000.65,554.2L1000.9,548.4L1001.15,561.7L1001.4,544.4L1001.65,556.8L1001.9,542.7L1002.15,550.5L1002.4,553.3L1002.65,544.8L1002.9,557.8L1003.15,527.9L1003.4,549.2L1003.65,542.1L1003.9,533.8L1004.15,549.7L1004.4,541.4L1004.65,536.9L1004.9,544.8L1005.15,553L1005.4,543.3L1005.65,535.1L1005.9,565.1L1006.15,539.6L1006.4,541.4L1006.65,551.6L1006.9,532.7L1007.15,543.5L1007.4,558.2L1007.65,549.6L1007.9,546.6L1008.15,544.5L1008.4,556.2L1008.65,556.4L1008.9,546.2L1009.15,569.6L1009.4,522.6L1009.65,537.6L1009.9,549.8L1010.15,550.6L1010.4,539.5L1010.65,537.1L1010.9,524.4L1011.15,536L1011.4,544L1011.65,549.5L1011.9,539.1L1012.15,550L1012.4,552.5L1012.65,536.1L1012.9,536.3L1013.15,546.6L1013.4,556.8L1013.65,533.3L1013.9,568L1014.15,542.1L1014.4,542.7L1014.65,533.2L1014.9,536.7L1015.15,540.8L1015.4,539.9L1015.65,549.3L1015.9,535.9L1016.15,549.4L1016.4,548.9L1016.65,551.2L1016.9,533.8L1017.15,529.6L1017.4,529.2L1017.65,514.1L1017.9,528.3L1018.15,535.1L1018.4,532.1L1018.65,547.5L1018.9,541.4L1019.15,540.6L1019.4,540.8L1019.65,543.3L1019.9,526.5L1020.15,525.6L1020.4,530L1020.65,562.9L1020.9,533.3L1021.15,537.1L1021.4,542.8L1021.65,532.1L1021.9,524.6L1022.15,558L1022.4,533.5L1022.65,541.2L1022.9,536.2L1023.15,535.7L1023.4,546.6L1023.65,540.9L1023.9,532.1L1024.15,558.2L1024.4,543.5L1024.65,552.2L1024.9,529.4L1025.15,544L1025.4,531.5L1025.65,567.1L1025.9,536.8L1026.15,537.3L1026.4,542.7L1026.65,552.7L1026.9,547.5L1027.15,547.8L1027.4,552.7L1027.65,555.6L1027.9,576.2L1028.15,562.2L1028.4,562.4L1028.65,551L1028.9,565.9L1029.15,575.4L1029.4,548.5L1029.65,575.1L1029.9,589.2L1030.15,579L1030.4,579.4L1030.65,594.8L1030.9,573.8L1031.15,592.8L1031.4,576.7L1031.65,579.4L1031.9,583.3L1032.15,590.1L1032.4,589.8L1032.65,580.5L1032.9,597.3"/><path d="M1063.9,548L1064.15,580.8L1064.4,567.4L1064.65,553.6L1064.9,563.8L1065.15,560.4L1065.4,554.4L1065.65,565.5L1065.9,557L1066.15,553.5L1066.4,544.6L1066.65,544.9L1066.9,550.6L1067.15,538.9L1067.4,543.4L1067.65,561.5L1067.9,546.8L1068.15,558.3L1068.4,549.5L1068.65,535L1068.9,540.8L1069.15,552.3L1069.4,564.7L1069.65,540.1L1069.9,563.9L1070.15,535.3L1070.4,561.9L1070.65,548.5L1070.9,540.2L1071.15,530.2L1071.4,558.5L1071.65,562.7L1071.9,566.7L1072.15,557.1L1072.4,550.4L1072.65,552.9L1072.9,548.8L1073.15,541.5L1073.4,559.8L1073.65,551.1L1073.9,551.6L1074.15,545.7L1074.4,544.2L1074.65,540.8L1074.9,551.1L1075.15,550.3L1075.4,525.5L1075.65,543L1075.9,542.4L1076.15,537L1076.4,560L1076.65,555.7L1076.9,547.3L1077.15,546.9L1077.4,541.2L1077.65,556.5L1077.9,540.5L1078.15,548.2L1078.4,567.1L1078.65,541.9L1078.9,543.5L1079.15,560.6L1079.4,554.3L1079.65,551.2L1079.9,538.7L1080.15,550.9L1080.4,535.3L1080.65,551.1L1080.9,547.3L1081.15,551.9L1081.4,552.9L1081.65,544.3L1081.9,554.3L1082.15,543.2L1082.4,534.2L1082.65,538.2L1082.9,549.7L1083.15,544.3L1083.4,552.8L1083.65,548L1083.9,560.8L1084.15,543.8L1084.4,565.9L1084.65,537.5L1084.9,550.4L1085.15,541.5L1085.4,529.6L1085.65,549L1085.9,561.6L1086.15,550.2L1086.4,534.6L1086.65,523.8L1086.9,550.4L1087.15,544.7L1087.4,558.9L1087.65,557.3L1087.9,554L1088.15,545.1L1088.4,535.7L1088.65,545.8L1088.9,548.5L1089.15,552.9L1089.4,544.8L1089.65,574.6L1089.9,552L1090.15,529.8L1090.4,560.4L1090.65,566L1090.9,545.6L1091.15,561.8L1091.4,556.6L1091.65,546.2L1091.9,538.9L1092.15,554.3L1092.4,532.4L1092.65,556.1L1092.9,551.6L1093.15,545.7L1093.4,562.3L1093.65,539.4L1093.9,575.7L1094.15,537.4L1094.4,541.9L1094.65,537.1L1094.9,550.8L1095.15,547.6L1095.4,543.4L1095.65,558.8L1095.9,552.6L1096.15,546.4L1096.4,558.6L1096.65,533.3L1096.9,543.9L1097.15,548.6L1097.4,536.5L1097.65,552.2L1097.9,555.2L1098.15,559.3L1098.4,551.7L1098.65,545.6L1098.9,553.5L1099.15,540.5L1099.4,558.2L1099.65,554L1099.9,547L1100.15,541.4L1100.4,558.1L1100.65,532.2L1100.9,556.5L1101.15,528.6L1101.4,534.4L1101.65,521.2L1101.9,509.1L1102.15,530.7L1102.4,523.1L1102.65,552.5L1102.9,533.4L1103.15,540.4L1103.4,580L1103.65,553.2L1103.9,547.3L1104.15,530.3L1104.4,548.9L1104.65,567.7L1104.9,544.5L1105.15,561.4L1105.4,543.2L1105.65,562.5L1105.9,571.3L1106.15,585.8L1106.4,564.8L1106.65,601.3L1106.9,589.5L1107.15,591L1107.4,566.1L1107.65,564.1L1107.9,577.1L1108.15,566.5L1108.4,568.7L1108.65,548.8L1108.9,568.8L1109.15,540L1109.4,559.6L1109.65,554L1109.9,554.8L1110.15,542.7L1110.4,584.5L1110.65,553.4L1110.9,547.3L1111.15,545.1L1111.4,553.1L1111.65,557.7L1111.9,541.3L1112.15,560.7L1112.4,543.8L1112.65,575.6L1112.9,569.2L1113.15,563.7L1113.4,562.3L1113.65,573.3L1113.9,551.9L1114.15,536.3L1114.4,559.3L1114.65,556.4L1114.9,565.3L1115.15,557.4L1115.4,556.2L1115.65,562.6L1115.9,557.3L1116.15,564.7L1116.4,554.9L1116.65,563.6L1116.9,578.6L1117.15,573.4L1117.4,574.1L1117.65,569.6L1117.9,548.8L1118.15,558.8L1118.4,547.5L1118.65,555.9L1118.9,557.8L1119.15,563L1119.4,549.5L1119.65,554L1119.9,549L1120.15,569.9L1120.4,556.1L1120.65,571.7L1120.9,582L1121.15,558.1L1121.4,581.1L1121.65,564.8L1121.9,558L1122.15,567.7L1122.4,566.6L1122.65,564.2L1122.9,570L1123.15,558.3L1123.4,560.3L1123.65,558L1123.9,575.3L1124.15,572.1L1124.4,572.8L1124.65,560.7L1124.9,559L1125.15,553.5L1125.4,559.7L1125.65,575.3L1125.9,557L1126.15,560.3L1126.4,565.1L1126.65,543L1126.9,578.2L1127.15,546.7L1127.4,572.8L1127.65,558.7L1127.9,575.6L1128.15,576.7L1128.4,554L1128.65,569.2L1128.9,553L1129.15,576.5L1129.4,567.4L1129.65,547.6L1129.9,577L1130.15,568L1130.4,570.5L1130.65,575.8L1130.9,588.7L1131.15,566.4L1131.4,567L1131.65,557.1L1131.9,570.3L1132.15,560.6L1132.4,565.2L1132.65,567.9L1132.9,538L1133.15,566.7L1133.4,569.3L1133.65,554.5L1133.9,581L1134.15,563.4L1134.4,564.8L1134.65,555.2L1134.9,576.6L1135.15,558.8L1135.4,555.5L1135.65,569.8L1135.9,571.5L1136.15,569.7L1136.4,578.2L1136.65,578.3L1136.9,568.4L1137.15,560.7L1137.4,560.8L1137.65,572.5L1137.9,554.5L1138.15,541.5L1138.4,553L1138.65,565.8L1138.9,555.1L1139.15,576L1139.4,577.4L1139.65,590.9L1139.9,613.2L1140.15,580.1L1140.4,583.1L1140.65,573.1L1140.9,566.5L1141.15,561.2L1141.4,565.3L1141.65,568L1141.9,568.9L1142.15,550.2L1142.4,575.7L1142.65,575.4L1142.9,564.5L1143.15,568.8L1143.4,580L1143.65,576.5L1143.9,575.9L1144.15,552L1144.4,567.7L1144.65,550.2L1144.9,562.6L1145.15,553.4L1145.4,589.4L1145.65,558.8L1145.9,571.2L1146.15,548.5L1146.4,572.6L1146.65,562.3L1146.9,574.4L1147.15,571.4L1147.4,566.3L1147.65,558.6L1147.9,547.5L1148.15,547L1148.4,543.3L1148.65,540L1148.9,567.6L1149.15,551.5L1149.4,565.3L1149.65,547.9L1149.9,553.2L1150.15,537.9L1150.4,534.4L1150.65,538.4L1150.9,561.9L1151.15,573.5L1151.4,556L1151.65,546.4L1151.9,551.9L1152.15,551.6L1152.4,545.6L1152.65,545.8L1152.9,552.4L1153.15,550.8L1153.4,548.9L1153.65,550.7L1153.9,558.4L1154.15,548.7L1154.4,562.5L1154.65,560.8L1154.9,546.9L1155.15,548.4L1155.4,564.6L1155.65,548L1155.9,559.5L1156.15,556L1156.4,534.5L1156.65,554.3L1156.9,546.1L1157.15,553L1157.4,533L1157.65,570.4L1157.9,549.7L1158.15,572.6L1158.4,571.7L1158.65,549.5L1158.9,559.4L1159.15,552.8L1159.4,572.5L1159.65,565L1159.9,556.4L1160.15,571.6L1160.4,555.8L1160.65,561L1160.9,542.6L1161.15,533L1161.4,557.5L1161.65,548.8L1161.9,529.8L1162.15,542.6L1162.4,559.8L1162.65,549.5L1162.9,552.8L1163.15,573.2L1163.4,549.4L1163.65,544L1163.9,548.4L1164.15,550.3L1164.4,560.5L1164.65,553.5L1164.9,555.1L1165.15,565.1L1165.4,557L1165.65,549L1165.9,556.5L1166.15,554.8L1166.4,545.4L1166.65,548.2L1166.9,572.9L1167.15,555.5L1167.4,558.4L1167.65,557.9L1167.9,566.2L1168.15,562.9L1168.4,575.5L1168.65,563.4L1168.9,542.9L1169.15,567.6L1169.4,549.2L1169.65,551.9L1169.9,551.9L1170.15,559.6L1170.4,556.7L1170.65,550.2L1170.9,573.6L1171.15,551.5L1171.4,560.2L1171.65,543.2L1171.9,558.5L1172.15,553.5L1172.4,563.9L1172.65,530L1172.9,549L1173.15,543.1L1173.4,560.1L1173.65,545.9L1173.9,565.8L1174.15,555L1174.4,553.1L1174.65,559.7L1174.9,561.8L1175.15,547.4L1175.4,569L1175.65,562.2L1175.9,562.3L1176.15,541.5L1176.4,550.2L1176.65,556.5L1176.9,561.8L1177.15,549.7L1177.4,562.8L1177.65,556.5L1177.9,548.5L1178.15,568L1178.4,526.2L1178.65,557.8L1178.9,575.8L1179.15,543.9L1179.4,540.9L1179.65,550.6L1179.9,557.8L1180.15,551.8L1180.4,543.3L1180.65,535.6L1180.9,561.7L1181.15,544.3L1181.4,539.1L1181.65,563L1181.9,577.3L1182.15,568.8L1182.4,561L1182.65,557.5L1182.9,557.6L1183.15,575.2L1183.4,559L1183.65,573L1183.9,565.8L1184.15,549.2L1184.4,544.9L1184.65,547.7L1184.9,539.3L1185.15,544.1L1185.4,561.4L1185.65,538.3L1185.9,570.3L1186.15,562.2L1186.4,576.4L1186.65,559.4L1186.9,547.9L1187.15,545.2L1187.4,558L1187.65,558.2L1187.9,556.6L1188.15,558.1L1188.4,559.3L1188.65,560.5L1188.9,546.5L1189.15,547.7L1189.4,528.1L1189.65,543.9L1189.9,561.5L1190.15,533.9L1190.4,532.4L1190.65,550.1L1190.9,551.1L1191.15,541.1L1191.4,545.7L1191.65,548.2L1191.9,539.8L1192.15,559.8L1192.4,567.6L1192.65,562.2L1192.9,541.9L1193.15,538.1L1193.4,567L1193.65,547.5L1193.9,549.6L1194.15,560.4L1194.4,564L1194.65,534.7L1194.9,561.8L1195.15,555L1195.4,550.8L1195.65,568.3L1195.9,541.9L1196.15,547L1196.4,553.1L1196.65,532.3L1196.9,542.5L1197.15,548.1L1197.4,548.1L1197.65,545.7L1197.9,557.9L1198.15,545.8L1198.4,572.9L1198.65,561.8L1198.9,555.7L1199.15,537.1L1199.4,560L1199.65,535.8L1199.9,559.2L1200.15,550.3L1200.4,543.8L1200.65,574.7L1200.9,539.4L1201.15,535.6L1201.4,545.1L1201.65,537.3L1201.9,554.2L1202.15,558.8L1202.4,537.5L1202.65,545.2L1202.9,535.5L1203.15,542.6L1203.4,552.4L1203.65,547.9L1203.9,539L1204.15,532.9L1204.4,545.8L1204.65,534.1L1204.9,535.8L1205.15,530.5L1205.4,545.2L1205.65,523.9L1205.9,539.1L1206.15,531.2L1206.4,554.1L1206.65,554L1206.9,548.8L1207.15,531.7L1207.4,543.2L1207.65,540.3L1207.9,555.8L1208.15,562.8L1208.4,544.3L1208.65,532.9L1208.9,538L1209.15,553.2L1209.4,548.8L1209.65,529.3L1209.9,562.3L1210.15,544.1L1210.4,544.3L1210.65,552.4L1210.9,533.3L1211.15,539.4L1211.4,540.9L1211.65,552L1211.9,552.3L1212.15,550.7L1212.4,557.2L1212.65,540L1212.9,545.2L1213.15,546.8L1213.4,541.9L1213.65,561L1213.9,533.2L1214.15,529.4L1214.4,543.4L1214.65,545.7L1214.9,559.7L1215.15,550.4L1215.4,525.1L1215.65,557.5L1215.9,547.6L1216.15,541.1L1216.4,547.8L1216.65,538.4L1216.9,556.6L1217.15,544.9L1217.4,546.2L1217.65,564.6L1217.9,533.4L1218.15,542.4L1218.4,550.5L1218.65,562L1218.9,546.5L1219.15,540.6L1219.4,518.8L1219.65,547.5L1219.9,545.2L1220.15,549.3L1220.4,528.9L1220.65,556.9L1220.9,549.8L1221.15,545.8L1221.4,535.6L1221.65,540.3L1221.9,530.3L1222.15,530.8L1222.4,529.4L1222.65,548.7L1222.9,529.3L1223.15,528.4L1223.4,538.9L1223.65,536.4L1223.9,542L1224.15,545.3L1224.4,534.3L1224.65,536.3L1224.9,544.2L1225.15,530.2L1225.4,529.1L1225.65,541.7L1225.9,532.1L1226.15,529.4L1226.4,539.1L1226.65,541.8L1226.9,548.8L1227.15,524.5L1227.4,558.7L1227.65,536.1L1227.9,545.3L1228.15,531.9L1228.4,537.1L1228.65,510L1228.9,533.6L1229.15,533.5L1229.4,539.5L1229.65,514.8L1229.9,514.1L1230.15,532L1230.4,520.2L1230.65,521.5L1230.9,523L1231.15,541.3L1231.4,521.5L1231.65,502.6L1231.9,534.1L1232.15,525.6L1232.4,545.3L1232.65,522.9L1232.9,542.2L1233.15,533.1L1233.4,536.6L1233.65,548.5L1233.9,532.7L1234.15,534.3L1234.4,539.6L1234.65,538.9L1234.9,539.2L1235.15,531.9L1235.4,502.5L1235.65,539.2L1235.9,527.4L1236.15,531.9L1236.4,528L1236.65,543.9L1236.9,532.9L1237.15,526.1L1237.4,526.3L1237.65,523.6L1237.9,492.7L1238.15,525.7L1238.4,509.9L1238.65,514.1L1238.9,536.1L1239.15,530.4L1239.4,533.8L1239.65,532.3L1239.9,520.2L1240.15,522.4L1240.4,552.2L1240.65,538.8L1240.9,542.7L1241.15,538.4L1241.4,550.8L1241.65,522.7L1241.9,538.8L1242.15,544.5L1242.4,565.8L1242.65,544.5L1242.9,551.1L1243.15,514.3L1243.4,540.8L1243.65,538.7L1243.9,544.6L1244.15,529.5L1244.4,520.3L1244.65,544.8L1244.9,553.1L1245.15,555.7L1245.4,553.1L1245.65,537.9L1245.9,552.4L1246.15,561.4L1246.4,554L1246.65,533.4L1246.9,538.6L1247.15,530.3L1247.4,542.5L1247.65,554.4L1247.9,543.4L1248.15,555.9L1248.4,542.9L1248.65,564.3L1248.9,548L1249.15,554.7L1249.4,556.8L1249.65,560.2L1249.9,543.7L1250.15,545.2L1250.4,538.3L1250.65,550L1250.9,555.6L1251.15,551.2L1251.4,560.7L1251.65,577.7L1251.9,542.9L1252.15,563.1L1252.4,561.2L1252.65,558L1252.9,538.5L1253.15,559.7L1253.4,548.6L1253.65,560.5L1253.9,548.1L1254.15,555.3L1254.4,544.8L1254.65,583.9L1254.9,555.2L1255.15,558.6L1255.4,547.4L1255.65,571.1L1255.9,551.9L1256.15,568.9L1256.4,565.6L1256.65,556.1L1256.9,546.9L1257.15,567.4L1257.4,573.4L1257.65,564.8L1257.9,544.8L1258.15,568.1L1258.4,554.2L1258.65,555.2L1258.9,554.6L1259.15,575.8L1259.4,564L1259.65,550.6L1259.9,564.5L1260.15,577L1260.4,577.4L1260.65,571.1L1260.9,567.8L1261.15,569.3L1261.4,571L1261.65,576.3L1261.9,578.3L1262.15,572.5L1262.4,557.5L1262.65,568.2L1262.9,575.9L1263.15,564.9L1263.4,565.3L1263.65,572.1L1263.9,566.4L1264.15,555.5L1264.4,558.4L1264.65,587.5L1264.9,572.7L1265.15,582.6L1265.4,576.6L1265.65,567.4L1265.9,577.9L1266.15,590.7L1266.4,585.7L1266.65,584.8L1266.9,565.9L1267.15,564.8L1267.4,575.5L1267.65,588.8L1267.9,591.2L1268.15,584.1L1268.4,582.7L1268.65,569.9L1268.9,575.4L1269.15,575.3L1269.4,589.5L1269.65,583.5L1269.9,578.6L1270.15,551.7L1270.4,595.1L1270.65,580.3L1270.9,566.6L1271.15,578.6L1271.4,578.7L1271.65,591.4L1271.9,584.9L1272.15,588.8L1272.4,579.3L1272.65,586.3L1272.9,573.4L1273.15,579.3L1273.4,594.1L1273.65,604.5L1273.9,577.1L1274.15,583.3L1274.4,570.6L1274.65,588L1274.9,572.9L1275.15,585.8L1275.4,581.2L1275.65,571L1275.9,571.4L1276.15,571.3L1276.4,580.3L1276.65,583.9L1276.9,574.6L1277.15,586L1277.4,585.1L1277.65,582.8L1277.9,591.4L1278.15,572.4L1278.4,574.4L1278.65,570.1L1278.9,567.8L1279.15,589L1279.4,590.1L1279.65,577.1L1279.9,581.8L1280.15,572L1280.4,570.8L1280.65,571L1280.9,586.5L1281.15,576.2L1281.4,554.8L1281.65,573.6L1281.9,572.1L1282.15,572.2L1282.4,577.7L1282.65,560L1282.9,562.6L1283.15,573.5L1283.4,560.7L1283.65,543.5L1283.9,557.1L1284.15,564.1L1284.4,549.2L1284.65,554.5L1284.9,542.6L1285.15,551.3L1285.4,553.1L1285.65,565.3L1285.9,557.5L1286.15,551.5L1286.4,561.4L1286.65,535.7L1286.9,582.1L1287.15,557.1L1287.4,536.4L1287.65,561.3L1287.9,569.7L1288.15,564.3L1288.4,561.9L1288.65,551.9L1288.9,554.9L1289.15,556.2L1289.4,556.4L1289.65,550.4L1289.9,547.4L1290.15,565.2L1290.4,527L1290.65,529.8L1290.9,575.6L1291.15,575.6L1291.4,555L1291.65,562.1L1291.9,564L1292.15,555.3L1292.4,557.6L1292.65,552.8L1292.9,563.3L1293.15,557.8L1293.4,561.4L1293.65,538.9L1293.9,545L1294.15,561.3L1294.4,555.4L1294.65,556.8L1294.9,553.6L1295.15,553.6L1295.4,561L1295.65,551.5L1295.9,557.6L1296.15,542.2L1296.4,576.3L1296.65,557.1L1296.9,563.5L1297.15,536L1297.4,544.8L1297.65,552L1297.9,566.8L1298.15,554.6L1298.4,555L1298.65,555.3L1298.9,548L1299.15,558L1299.4,539.6L1299.65,555.4L1299.9,555.9L1300.15,564.8L1300.4,562.5L1300.65,540.2L1300.9,548.6L1301.15,575.3L1301.4,556L1301.65,560.2L1301.9,531.7L1302.15,534.5L1302.4,547.2L1302.65,544.6L1302.9,568L1303.15,553.2L1303.4,530.6L1303.65,555.7L1303.9,554L1304.15,553.2L1304.4,559.7L1304.65,571.9L1304.9,582.3L1305.15,544.2L1305.4,564.6L1305.65,559.6L1305.9,539.9L1306.15,569L1306.4,555.8L1306.65,566.2L1306.9,555L1307.15,558.5L1307.4,572.9L1307.65,540.5L1307.9,547.2L1308.15,550L1308.4,555.5L1308.65,555L1308.9,557.6L1309.15,548.1L1309.4,538.5L1309.65,541.6L1309.9,563.6L1310.15,556.2L1310.4,548.2L1310.65,539L1310.9,539L1311.15,555.2L1311.4,547.9L1311.65,563.1L1311.9,543.2L1312.15,558.8L1312.4,552.6L1312.65,550.4L1312.9,560.7L1313.15,547.3L1313.4,534.1L1313.65,561.5L1313.9,530.4L1314.15,527.7L1314.4,537.8L1314.65,557.4L1314.9,539.6L1315.15,548L1315.4,547.1L1315.65,549.8L1315.9,551.9L1316.15,523.5L1316.4,560.8L1316.65,524L1316.9,549.7L1317.15,552.6L1317.4,541.5L1317.65,537.7L1317.9,538.5L1318.15,523.7L1318.4,532L1318.65,531.6L1318.9,548.4L1319.15,534.4L1319.4,563.9L1319.65,554.6L1319.9,512.1L1320.15,531.2L1320.4,524.4L1320.65,510.7L1320.9,511.6L1321.15,533.9L1321.4,517.9L1321.65,509.9L1321.9,525L1322.15,540.7L1322.4,522.6L1322.65,537.5L1322.9,529.3L1323.15,537.2L1323.4,534.5L1323.65,549.2L1323.9,556.8L1324.15,537L1324.4,539.3L1324.65,526.6L1324.9,536.8L1325.15,539.4L1325.4,531.5L1325.65,544.9L1325.9,523.7L1326.15,541L1326.4,563.8L1326.65,531.7L1326.9,539.5L1327.15,557.1L1327.4,546.5L1327.65,555.8L1327.9,558.2L1328.15,554.6L1328.4,558.2L1328.65,546.5L1328.9,546.1L1329.15,547.1L1329.4,569.6L1329.65,534.3L1329.9,546.2L1330.15,550.8L1330.4,540.4L1330.65,562.7L1330.9,565.4L1331.15,556.8L1331.4,578.1L1331.65,557.6L1331.9,567.5L1332.15,564L1332.4,545.3L1332.65,563L1332.9,532.2L1333.15,554.7L1333.4,553.1L1333.65,557.7L1333.9,569.1L1334.15,550L1334.4,553.3L1334.65,553.3L1334.9,566L1335.15,582.9L1335.4,563.4L1335.65,566.9L1335.9,555.8L1336.15,559.8L1336.4,553.9L1336.65,562.1L1336.9,563.7L1337.15,581.2L1337.4,570.9L1337.65,560.7L1337.9,563.4L1338.15,575.8L1338.4,558.5L1338.65,557.9L1338.9,566.3L1339.15,579.3L1339.4,567.7L1339.65,584.3L1339.9,564.1L1340.15,571.5L1340.4,557.1L1340.65,571.3L1340.9,588.5L1341.15,584.7L1341.4,564.7L1341.65,564.6L1341.9,573.2L1342.15,579.5L1342.4,564.6L1342.65,576.9L1342.9,552.7L1343.15,576.8L1343.4,560.6L1343.65,549.8L1343.9,578.3L1344.15,548.6L1344.4,553.5L1344.65,564L1344.9,560L1345.15,579.5L1345.4,568.7L1345.65,572.9L1345.9,555.3L1346.15,553.3L1346.4,565L1346.65,572.7L1346.9,581.4L1347.15,539.1L1347.4,556.2L1347.65,554.3L1347.9,544.5L1348.15,561.4L1348.4,567.1L1348.65,558.3L1348.9,560.8L1349.15,544L1349.4,547.7L1349.65,547.6L1349.9,547L1350.15,544.4L1350.4,544.9L1350.65,552.6L1350.9,539.1L1351.15,547.1L1351.4,563.7L1351.65,556.4L1351.9,540.8L1352.15,542.3L1352.4,560.8L1352.65,541.5L1352.9,524L1353.15,532.9L1353.4,556.2L1353.65,552.3L1353.9,549.7L1354.15,539.7L1354.4,552.1L1354.65,572.3L1354.9,528L1355.15,537.3L1355.4,512.2L1355.65,519.2L1355.9,511.1L1356.15,519.4L1356.4,506.4L1356.65,522.9L1356.9,524.7L1357.15,545.4L1357.4,560.8L1357.65,545.3L1357.9,536.2L1358.15,548L1358.4,556.7L1358.65,565.7L1358.9,556.1L1359.15,560.7L1359.4,559.9L1359.65,570.4L1359.9,534.9L1360.15,556.5L1360.4,547.5L1360.65,551.1L1360.9,555.7L1361.15,571.1L1361.4,562.3L1361.65,540L1361.9,562.6L1362.15,565.7L1362.4,557.1L1362.65,575.1L1362.9,537.5L1363.15,544.3L1363.4,548.8L1363.65,552.4L1363.9,543L1364.15,553.7L1364.4,577.4L1364.65,556.2L1364.9,561.3L1365.15,566L1365.4,568.3L1365.65,552.3L1365.9,547.7L1366.15,568L1366.4,558.1L1366.65,546L1366.9,538.8L1367.15,550.1L1367.4,568.4L1367.65,565.1L1367.9,551.3L1368.15,559.9L1368.4,555L1368.65,547.9L1368.9,558.2L1369.15,550.5L1369.4,551.9L1369.65,574L1369.9,549.2L1370.15,549.1L1370.4,555.8L1370.65,558.7L1370.9,534.5L1371.15,560.4L1371.4,557.6L1371.65,563.1L1371.9,544.7L1372.15,555L1372.4,560.2L1372.65,558.9L1372.9,560.2L1373.15,544.7L1373.4,558.5L1373.65,537.7L1373.9,554L1374.15,554.3L1374.4,549.6L1374.65,545.3L1374.9,562.3L1375.15,549.6L1375.4,550.7L1375.65,547.1L1375.9,568.9L1376.15,559.3L1376.4,554.8L1376.65,560.1L1376.9,543.4L1377.15,549.4L1377.4,557.6L1377.65,551.2L1377.9,549.9L1378.15,551.4L1378.4,569.2L1378.65,561.6L1378.9,556.8L1379.15,546.5L1379.4,547.4L1379.65,542.2L1379.9,561L1380.15,536.4L1380.4,560.7L1380.65,541.8L1380.9,549L1381.15,553.5L1381.4,556.6L1381.65,534.2L1381.9,557.1L1382.15,554.6L1382.4,533.7L1382.65,545.8L1382.9,551.1L1383.15,543.7L1383.4,549.1L1383.65,551.5L1383.9,571.7L1384.15,549.1L1384.4,564.1L1384.65,563.6L1384.9,552L1385.15,535.2L1385.4,567.6L1385.65,555L1385.9,549.2L1386.15,553.8L1386.4,552.6L1386.65,561.4L1386.9,538.8L1387.15,548.6L1387.4,545.8L1387.65,540.2L1387.9,556.8L1388.15,560.8L1388.4,562.2L1388.65,553.5L1388.9,533.8L1389.15,543.8L1389.4,575.3L1389.65,567.2L1389.9,581L1390.15,554.5L1390.4,558.8L1390.65,554.1L1390.9,553.1L1391.15,559.8L1391.4,538.9L1391.65,568.1L1391.9,527.6L1392.15,539.5L1392.4,548.8L1392.65,553.3L1392.9,548.7L1393.15,539.2L1393.4,556.9L1393.65,569L1393.9,556.4L1394.15,550.3L1394.4,537.5L1394.65,563.7L1394.9,544.7L1395.15,568.3L1395.4,542.1L1395.65,542.1L1395.9,547.5L1396.15,544L1396.4,539L1396.65,559.4L1396.9,563.2L1397.15,554.5L1397.4,545L1397.65,564.3L1397.9,541L1398.15,557.8L1398.4,547.2L1398.65,533.8L1398.9,549.2L1399.15,552.1L1399.4,559.3L1399.65,542L1399.9,567.7L1400.15,552.2L1400.4,539.6L1400.65,534.1L1400.9,554.8L1401.15,529.8L1401.4,546L1401.65,544.4L1401.9,548.6L1402.15,551.8L1402.4,542L1402.65,527.4L1402.9,549.5L1403.15,553L1403.4,560.8L1403.65,556.3L1403.9,543.4L1404.15,555L1404.4,551.2L1404.65,549.8L1404.9,538.1L1405.15,569.7L1405.4,570.5L1405.65,558.9L1405.9,551.9L1406.15,547.5L1406.4,532.4L1406.65,571L1406.9,546.8L1407.15,539.7L1407.4,529.2L1407.65,531L1407.9,536.4L1408.15,549.3L1408.4,554.7L1408.65,552.8L1408.9,537.6L1409.15,539.8L1409.4,547.9L1409.65,545.8L1409.9,540.8L1410.15,524.7L1410.4,543.3L1410.65,542.2L1410.9,543.5L1411.15,533.8L1411.4,537.6L1411.65,546.5L1411.9,541L1412.15,532.9L1412.4,500.2L1412.65,497.4L1412.9,495.3L1413.15,509.4L1413.4,522.1L1413.65,532.4L1413.9,532.4L1414.15,540.1L1414.4,534.6L1414.65,529.2L1414.9,518.5L1415.15,524.9L1415.4,528.6L1415.65,540.8L1415.9,524.3L1416.15,530.1L1416.4,529.9L1416.65,539.3L1416.9,535.2L1417.15,538.9L1417.4,544.3L1417.65,532.9L1417.9,558.7L1418.15,535.3L1418.4,558L1418.65,553.5L1418.9,540.9L1419.15,546.1L1419.4,534.3L1419.65,532.4L1419.9,538L1420.15,527.9L1420.4,540L1420.65,546.4L1420.9,514.8L1421.15,527.6L1421.4,542.7L1421.65,536.4L1421.9,546.8L1422.15,535.3L1422.4,544.8L1422.65,541L1422.9,554.1L1423.15,538L1423.4,536.7L1423.65,550.6L1423.9,561.5L1424.15,549.6L1424.4,542.8L1424.65,541.8L1424.9,543.5L1425.15,532.2L1425.4,540.9L1425.65,551.7L1425.9,519.3L1426.15,560.5L1426.4,548.3L1426.65,557.6L1426.9,536.4L1427.15,548.3L1427.4,572.4L1427.65,560.8L1427.9,543.6L1428.15,548.8L1428.4,543L1428.65,565.7L1428.9,540.3L1429.15,551.4L1429.4,546.4L1429.65,560.9L1429.9,553.8L1430.15,540.5L1430.4,531.3L1430.65,555.5L1430.9,548.3L1431.15,543.8L1431.4,550L1431.65,547.1L1431.9,565.4L1432.15,546.1L1432.4,542.1L1432.65,562.7L1432.9,539.6L1433.15,534.7L1433.4,532.8L1433.65,547L1433.9,555.2L1434.15,538.3L1434.4,558.6L1434.65,565.9L1434.9,555.5L1435.15,555.3L1435.4,546.3L1435.65,534.5L1435.9,545.4L1436.15,552L1436.4,563.7L1436.65,555.8L1436.9,564.6L1437.15,557L1437.4,562.6L1437.65,580.6L1437.9,588.5L1438.15,578.7L1438.4,571.3L1438.65,569.9L1438.9,560L1439.15,568.2L1439.4,574.4L1439.65,584.4L1439.9,580.9L1440.15,569.3L1440.4,569.7L1440.65,587.6L1440.9,579.5L1441.15,585.7L1441.4,583L1441.65,608.2L1441.9,592.8L1442.15,595.8L1442.4,599.5L1442.65,599.4L1442.9,598.5"/></g>
<g stroke="#ff7f0e" stroke-width="1.04" opacity="0.8"><path d="M179.8,524L180.05,546.1L180.3,567L180.55,579.8L180.8,561.4L181.05,572.3L181.3,561.6L181.55,523L181.8,537.5L182.05,540.2L182.3,543.8L182.55,515.1L182.8,577.4L183.05,529.4L183.3,557.1L183.55,549.6L183.8,551.2L184.05,559.6L184.3,541L184.55,599.8L184.8,546.6L185.05,538.1L185.3,573.6L185.55,574.1L185.8,511.5L186.05,572.4L186.3,561.2L186.55,569.8L186.8,582.6L187.05,567.6L187.3,598.9L187.55,501.4L187.8,568.9L188.05,544.9L188.3,554.9L188.55,524L188.8,538.2L189.05,528.8L189.3,528L189.55,510.5L189.8,552.6L190.05,533.7L190.3,588L190.55,508.3L190.8,538.3L191.05,546.9L191.3,582.4L191.55,524.6L191.8,568.2L192.05,540L192.3,593.7L192.55,557.5L192.8,567.7L193.05,570.6L193.3,568.2L193.55,515.3L193.8,554.6L194.05,546.5L194.3,507.6L194.55,584.9L194.8,520.8L195.05,562L195.3,567.6L195.55,562.9L195.8,593.3L196.05,587.3L196.3,578.7L196.55,566.3L196.8,538.7L197.05,530.7L197.3,562.2L197.55,546.2L197.8,544.9L198.05,559.3L198.3,542.3L198.55,567.2L198.8,542.4L199.05,559.3L199.3,553.6L199.55,549L199.8,551.4L200.05,570.1L200.3,583.8L200.55,556.1L200.8,567L201.05,566.3L201.3,557.1L201.55,570.3L201.8,545.2L202.05,534.5L202.3,574.5L202.55,547L202.8,575.4L203.05,536.6L203.3,530.3L203.55,521.5L203.8,472.9L204.05,472.9L204.3,472.9L204.55,478.3L204.8,479.1L205.05,517.2L205.3,526.6L205.55,574.2L205.8,540L206.05,548.1L206.3,535.2L206.55,582.8L206.8,574.8L207.05,531.5L207.3,538.2L207.55,558L207.8,532.7L208.05,550.6L208.3,565.4L208.55,590.6L208.8,534.5L209.05,559.5L209.3,551.5L209.55,595.6L209.8,568.4L210.05,550.3L210.3,562.1L210.55,572.8L210.8,581L211.05,552.5L211.3,565L211.55,564.4L211.8,563.5L212.05,571.2L212.3,564.4L212.55,570.6L212.8,556.8L213.05,587.2L213.3,581.2L213.55,557L213.8,561.2L214.05,554.3L214.3,514.3L214.55,541.6L214.8,533.4L215.05,548.9L215.3,560.6L215.55,575.4L215.8,598.5L216.05,589.1L216.3,609.2L216.55,583L216.8,593.3L217.05,580L217.3,559.7L217.55,568.2L217.8,540.5L218.05,540.2L218.3,537.8L218.55,541.5L218.8,554.4L219.05,571.4L219.3,550.7L219.55,566L219.8,565.1L220.05,552.1L220.3,584.6L220.55,596.3L220.8,554.3L221.05,523.1L221.3,537.4L221.55,489.8L221.8,592.2L222.05,576L222.3,611.9L222.55,580.9L222.8,521.6L223.05,527.8L223.3,584.7L223.55,569.9L223.8,580.9L224.05,592.3L224.3,568.6L224.55,570.6L224.8,561.6L225.05,558.2L225.3,548.9L225.55,534.5L225.8,566L226.05,568.9L226.3,564.4L226.55,555.1L226.8,567.7L227.05,586.4L227.3,576.4L227.55,549.3L227.8,587.7L228.05,548.1L228.3,625.7L228.55,552.7L228.8,553.3L229.05,570.8L229.3,566.9L229.55,571.5L229.8,530.4L230.05,576.3L230.3,583.2L230.55,559.8L230.8,544.6L231.05,561.8L231.3,572.8L231.55,548L231.8,587L232.05,588L232.3,598.4L232.55,546.2L232.8,620.5L233.05,601.2L233.3,568.6L233.55,565.7L233.8,537.5L234.05,566.4L234.3,586.7L234.55,546.8L234.8,554.2L235.05,552.7L235.3,555.2L235.55,567.8L235.8,610.7L236.05,602.6L236.3,538L236.55,580L236.8,621.1L237.05,580.9L237.3,561.9L237.55,574.6L237.8,583.4L238.05,625.7L238.3,583.5L238.55,588.3L238.8,549.8L239.05,586.2L239.3,587.5L239.55,595.9L239.8,589.1L240.05,580.6L240.3,597.6L240.55,605.6L240.8,613.3L241.05,584.2L241.3,594.4L241.55,593.6L241.8,619.5L242.05,604.3L242.3,625.7L242.55,566.8L242.8,563.4L243.05,584.6L243.3,607L243.55,612.7L243.8,625.7L244.05,625.7L244.3,609L244.55,625.7L244.8,600.6L245.05,605.7L245.3,625.7L245.55,602.1L245.8,570L246.05,559.6L246.3,625.7L246.55,621.2L246.8,600.1L247.05,566.5L247.3,561.7L247.55,553.9L247.8,551.9L248.05,597L248.3,609.1L248.55,568.6L248.8,595.1L249.05,593.7L249.3,613.1L249.55,625.7L249.8,621.7L250.05,625.7L250.3,625.7L250.55,625.7L250.8,598.2L251.05,598.8L251.3,592.4L251.55,625.7L251.8,607.3L252.05,565.6L252.3,591.2L252.55,601.2L252.8,562L253.05,597L253.3,568.2L253.55,578.8L253.8,573.8L254.05,559.6L254.3,533L254.55,552.8L254.8,596.9L255.05,601.6L255.3,584.1L255.55,580L255.8,560.7L256.05,574.1L256.3,569.5L256.55,608.8L256.8,573L257.05,559.8L257.3,534.2L257.55,552.6L257.8,566.4L258.05,592.5L258.3,566.7L258.55,565.6L258.8,567.8L259.05,560.6L259.3,552.4L259.55,552.7L259.8,514.2L260.05,580.9L260.3,592.5L260.55,550.3L260.8,583.5L261.05,561.2L261.3,557.6L261.55,572L261.8,537.4L262.05,539.7L262.3,549.4L262.55,538.7L262.8,532.3L263.05,556.1L263.3,536.2L263.55,544.9L263.8,547L264.05,555.8L264.3,508.6L264.55,530.1L264.8,573.1L265.05,532.1L265.3,595.1L265.55,535.2L265.8,524L266.05,509.5L266.3,534L266.55,552.2L266.8,496.1L267.05,514.2L267.3,508L267.55,539.5L267.8,520.1L268.05,569.3L268.3,521.8L268.55,574.7L268.8,551.5L269.05,559.8L269.3,504.6L269.55,508.4L269.8,539L270.05,500.2L270.3,523.4L270.55,565.5L270.8,531.5L271.05,558.5L271.3,520.3L271.55,513.4L271.8,535.5L272.05,502.6L272.3,497.3L272.55,537.4L272.8,506.8L273.05,520.4L273.3,524L273.55,483L273.8,553.1L274.05,524.8L274.3,518.5L274.55,505.1L274.8,500.6L275.05,535.8L275.3,487.8L275.55,478L275.8,474L276.05,511.9L276.3,525.6L276.55,536.9L276.8,507.4L277.05,515.8L277.3,515.3L277.55,526.6L277.8,559.2L278.05,519.3L278.3,516.6L278.55,520.4L278.8,541.7L279.05,518L279.3,515.1L279.55,535L279.8,498.3L280.05,512L280.3,508.2L280.55,502.6L280.8,515.6L281.05,511.7L281.3,498.9L281.55,493.9L281.8,490.9L282.05,512.7L282.3,492.9L282.55,485L282.8,536.8L283.05,516.1L283.3,508L283.55,507.2L283.8,472.9L284.05,482.4L284.3,509.1L284.55,508.3L284.8,534.2L285.05,525.5L285.3,477.7L285.55,540L285.8,491.7L286.05,518.6L286.3,510.2L286.55,505.7L286.8,472.9L287.05,496.3L287.3,493.1L287.55,483L287.8,549L288.05,472.9L288.3,538.5L288.55,519.3L288.8,490.9L289.05,530.2L289.3,540.9L289.55,482.1L289.8,512.3L290.05,487.3L290.3,497L290.55,511.2L290.8,482L291.05,521.7L291.3,488.7L291.55,541.1L291.8,546.9L292.05,546.6L292.3,538.3L292.55,560.2L292.8,554.7L293.05,529.9L293.3,545.1L293.55,534.3L293.8,544.1L294.05,555.8L294.3,558.5L294.55,545.1L294.8,549.8L295.05,557.2L295.3,557.7L295.55,534.2L295.8,539L296.05,547.7L296.3,555.2L296.55,556.1L296.8,527.8L297.05,558.2L297.3,524.3L297.55,559L297.8,568.7L298.05,527.7L298.3,552.7L298.55,533.5L298.8,546.3L299.05,554.3L299.3,540.4L299.55,554.9L299.8,546.4L300.05,553.2L300.3,572.2L300.55,547L300.8,557.9L301.05,553.3L301.3,546.9L301.55,568.3L301.8,545.4L302.05,545L302.3,529.2L302.55,542.2L302.8,547.8L303.05,559.5L303.3,552.2L303.55,568.5L303.8,547.2L304.05,554.4L304.3,556.3L304.55,551.9L304.8,546.8L305.05,549.1L305.3,566.1L305.55,536.7L305.8,551.9L306.05,548.4L306.3,552.4L306.55,563.4L306.8,549.3L307.05,557L307.3,562.4L307.55,551L307.8,543.7L308.05,545.4L308.3,550.3L308.55,559.8L308.8,556.5L309.05,554.2L309.3,569.4L309.55,543.2L309.8,551.7L310.05,567.7L310.3,535.2L310.55,530.1L310.8,568L311.05,558L311.3,562.7L311.55,543.9L311.8,569.1L312.05,547.2L312.3,548.5L312.55,540L312.8,575.3L313.05,562.1L313.3,555.5L313.55,541.9L313.8,552.1L314.05,544.4L314.3,547.8L314.55,577.9L314.8,554.6L315.05,557.9L315.3,557L315.55,564.1L315.8,544.4L316.05,549.8L316.3,575.9L316.55,544.8L316.8,560.1L317.05,571L317.3,539.2L317.55,553.8L317.8,549.4L318.05,555.2L318.3,554.1L318.55,575L318.8,544.7L319.05,562.4L319.3,553.6L319.55,554.7L319.8,565.2L320.05,568.6L320.3,555.6L320.55,538.8L320.8,561.7L321.05,561L321.3,552.8L321.55,560.8L321.8,538.4L322.05,548.5L322.3,524.2L322.55,548.5L322.8,527.5L323.05,560.9L323.3,551.2L323.55,566.6L323.8,558.5L324.05,557.7L324.3,546.6L324.55,537.7L324.8,557L325.05,571.1L325.3,553.9L325.55,555.9L325.8,559.7L326.05,543.6L326.3,540.4L326.55,562.2L326.8,562.3L327.05,584.9L327.3,561.4L327.55,543.8L327.8,564.9L328.05,543L328.3,545.8L328.55,546.4L328.8,546.2L329.05,554.8L329.3,541.5L329.55,541.1L329.8,549.6L330.05,554.2L330.3,538.2L330.55,535.8L330.8,561.4L331.05,543.7L331.3,553.1L331.55,525.7L331.8,557.7L332.05,561.3L332.3,564.9L332.55,542.9L332.8,566.6L333.05,546.1L333.3,560.1L333.55,537.7L333.8,535L334.05,540.2L334.3,577.5L334.55,571.6L334.8,586.6L335.05,522.2L335.3,561.3L335.55,559.1L335.8,553.6L336.05,546.8L336.3,558.2L336.55,553.4L336.8,554.3L337.05,570L337.3,532.3L337.55,533.3L337.8,553.9L338.05,555.9L338.3,531.5L338.55,524.7L338.8,553.7L339.05,547L339.3,559.3L339.55,550.3L339.8,585.4L340.05,581.6L340.3,548.8L340.55,556.6L340.8,549.4L341.05,553.3L341.3,546.9L341.55,551.1L341.8,556.3L342.05,549L342.3,571.6L342.55,536.9L342.8,565.9L343.05,558.9L343.3,543L343.55,558.4L343.8,542.2L344.05,536.1L344.3,544.3L344.55,559.2L344.8,530.5L345.05,548.2L345.3,565.5L345.55,529.1L345.8,551.4L346.05,546.1L346.3,542.6L346.55,559.9L346.8,542.6L347.05,568.8L347.3,565.6L347.55,558.4L347.8,526.8L348.05,546.1L348.3,539.2L348.55,564.1L348.8,546.8L349.05,579.3L349.3,556.5L349.55,548L349.8,560.3L350.05,577.7L350.3,573.4L350.55,545.4L350.8,536.7L351.05,557.9L351.3,533.6L351.55,569.3L351.8,545.6L352.05,549.6L352.3,540.3L352.55,571.8L352.8,541L353.05,551.9L353.3,564L353.55,559L353.8,556.1L354.05,549.9L354.3,576.4L354.55,564.2L354.8,552.4L355.05,554L355.3,547.4L355.55,542.4L355.8,576.6L356.05,554.8L356.3,550.8L356.55,553.1L356.8,567.1L357.05,544.9L357.3,532.5L357.55,556L357.8,563.7L358.05,531.2L358.3,553.6L358.55,552.4L358.8,551.1L359.05,559.6L359.3,554.1L359.55,562.9L359.8,578.4L360.05,541L360.3,550.4L360.55,554.8L360.8,537.1L361.05,555.9L361.3,539.9L361.55,543.6L361.8,557.5L362.05,569.6L362.3,548L362.55,551.1L362.8,541.3L363.05,573.2L363.3,557.2L363.55,551L363.8,549.6L364.05,552.4L364.3,550L364.55,583L364.8,557.8L365.05,562.2L365.3,573.2L365.55,552.4L365.8,558.7L366.05,568.4L366.3,571.3L366.55,549.8L366.8,585.7L367.05,555L367.3,567.9L367.55,552.1L367.8,529.7L368.05,540.9L368.3,554.5L368.55,534.8L368.8,530L369.05,541.2L369.3,530.3L369.55,550.9L369.8,545.5L370.05,554.6L370.3,558.3L370.55,553.2L370.8,563.3L371.05,554.7L371.3,525.5L371.55,544.4L371.8,555.8L372.05,531.6L372.3,535.1L372.55,566.9L372.8,562.2L373.05,531.4L373.3,552.1L373.55,551L373.8,560L374.05,567.3L374.3,538.7L374.55,563.5L374.8,546.4L375.05,529.6L375.3,546.4L375.55,555.9L375.8,545.2L376.05,546.1L376.3,559L376.55,549.8L376.8,568.6L377.05,575.5L377.3,560.2L377.55,575.5L377.8,561.2L378.05,554.8L378.3,550.9L378.55,529.5L378.8,565L379.05,559.1L379.3,559.2L379.55,566.1L379.8,527.4L380.05,563.2L380.3,556.3L380.55,555.6L380.8,522.1L381.05,557.2L381.3,575.9L381.55,537.4L381.8,561.8L382.05,580.3L382.3,538.8L382.55,541.3L382.8,571.7L383.05,569.3L383.3,553.8L383.55,565.8L383.8,573L384.05,568.8L384.3,530.4L384.55,539.5L384.8,567.2L385.05,555.5L385.3,552.1L385.55,557.9L385.8,554L386.05,530.9L386.3,561.8L386.55,563.6L386.8,554.3L387.05,562.5L387.3,559.5L387.55,559.1L387.8,564.4L388.05,528.6L388.3,537L388.55,484.3L388.8,487.4L389.05,480.8L389.3,481.9L389.55,516.8L389.8,525L390.05,539.3L390.3,521.5L390.55,593.6L390.8,568.1L391.05,554.6L391.3,557L391.55,554.8L391.8,518.8L392.05,585L392.3,544.8L392.55,557.3L392.8,554L393.05,539.2L393.3,555L393.55,543.2L393.8,536.2L394.05,537.6L394.3,580.2L394.55,563.3L394.8,572.5L395.05,565.3L395.3,557L395.55,525L395.8,563.4L396.05,558.6L396.3,561.2L396.55,533.2L396.8,562.4L397.05,548L397.3,542.8L397.55,546.4L397.8,583.7L398.05,573.4L398.3,545L398.55,580.4L398.8,558.2L399.05,576.8L399.3,549.3L399.55,555.8L399.8,577.8L400.05,558.9L400.3,570.8L400.55,563.5L400.8,537L401.05,551.3L401.3,550.4L401.55,532.8L401.8,553.9L402.05,536.1L402.3,549.6L402.55,551.5L402.8,560.9L403.05,567.9L403.3,570.9L403.55,569.4L403.8,547.7L404.05,549.4L404.3,568.1L404.55,537.1L404.8,579.8L405.05,561.4L405.3,576.2L405.55,568.2L405.8,542.4L406.05,548.9L406.3,565.1L406.55,536.9L406.8,556.6L407.05,554.4L407.3,539.5L407.55,548.6L407.8,560.7L408.05,571.8L408.3,535.9L408.55,591.8L408.8,565.2L409.05,582.6L409.3,564.7L409.55,542.6L409.8,560.9L410.05,562.8L410.3,559.2L410.55,535.3L410.8,562.3L411.05,608.9L411.3,625.7L411.55,625.7L411.8,625.3L412.05,603.8L412.3,576.9L412.55,578.3L412.8,578.6L413.05,573.3L413.3,552L413.55,570.3L413.8,515.6L414.05,546.8L414.3,545.2L414.55,539.6L414.8,572.1L415.05,574.1L415.3,559L415.55,545.8L415.8,546.4L416.05,528.7L416.3,532.5L416.55,538L416.8,536.5L417.05,550.3L417.3,540.6L417.55,558.9L417.8,561L418.05,538.9L418.3,580.9L418.55,531.2L418.8,523.6L419.05,561.6L419.3,541.3L419.55,550.7L419.8,569.5L420.05,547.3L420.3,544.5L420.55,536.5L420.8,558.6L421.05,550.8L421.3,563.2L421.55,536.4L421.8,554.8L422.05,538.7L422.3,564.4L422.55,551.1L422.8,568.2L423.05,565.6L423.3,534.3L423.55,556.2L423.8,554.6L424.05,540.7L424.3,566.9L424.55,520L424.8,566.4L425.05,559.9L425.3,515.7L425.55,582.8L425.8,522.7L426.05,546.5L426.3,544.3L426.55,571.5L426.8,550.3L427.05,575.4L427.3,535.8L427.55,557.7L427.8,564.9L428.05,562L428.3,556.2L428.55,536.3L428.8,547.1L429.05,567.2L429.3,569.2L429.55,572.3L429.8,540.6L430.05,549L430.3,584.2L430.55,604.4L430.8,586.8L431.05,599.3L431.3,572.6L431.55,572.9L431.8,554.6L432.05,541.8L432.3,535.7L432.55,558.3L432.8,541.2L433.05,577.8L433.3,576.5L433.55,550.3L433.8,532.3L434.05,528.3L434.3,555.7L434.55,586.5L434.8,548.6L435.05,563.5L435.3,543.1L435.55,534.6L435.8,562.9L436.05,568.1L436.3,562.1L436.55,567.7L436.8,573.7L437.05,550.9L437.3,568.9L437.55,560.4L437.8,561.4L438.05,566.7L438.3,543.6L438.55,564L438.8,556.8L439.05,540L439.3,558.1L439.55,583.3L439.8,564.5L440.05,564.6L440.3,543.4L440.55,523.7L440.8,552L441.05,558.6L441.3,527.9L441.55,569.7L441.8,550.6L442.05,547.3L442.3,557.7L442.55,560.4L442.8,553.5L443.05,527.7L443.3,546.1L443.55,568.8L443.8,551.8L444.05,538.9L444.3,523.1L444.55,542.1L444.8,549.9L445.05,531.1L445.3,540.9L445.55,555.5L445.8,571.3L446.05,556.9L446.3,540.2L446.55,579.7L446.8,590.1L447.05,549.1L447.3,589.2L447.55,584.8L447.8,563.5L448.05,564.3L448.3,558.7L448.55,556.8L448.8,549.8L449.05,562.3L449.3,576.7L449.55,616.2L449.8,536.4L450.05,545.5L450.3,548.8L450.55,561.3L450.8,576.4L451.05,542.9L451.3,537.6L451.55,536.7L451.8,472.9L452.05,505.1L452.3,502.2L452.55,487L452.8,561L453.05,553.6L453.3,540.7L453.55,562.8L453.8,591.2L454.05,573.2L454.3,564.6L454.55,593.6L454.8,535.4L455.05,557.7L455.3,550L455.55,559L455.8,556.9L456.05,571.8L456.3,594.2L456.55,551.5L456.8,564.4L457.05,533.8L457.3,588.7L457.55,562.3L457.8,522L458.05,592.7L458.3,589.8L458.55,561.5L458.8,532.1L459.05,590.3L459.3,565.3L459.55,570.4L459.8,578.1L460.05,572.1L460.3,542.3L460.55,564.4L460.8,594.9L461.05,584.4L461.3,578.9L461.55,623.7L461.8,623.3L462.05,621.5L462.3,625.7L462.55,551.2L462.8,609.3L463.05,568.5L463.3,570.9L463.55,579.1L463.8,541.9L464.05,565.3L464.3,583.6L464.55,542.5L464.8,543.8L465.05,587.6L465.3,597.6L465.55,548.1L465.8,569.1L466.05,596.2L466.3,554.8L466.55,595.7L466.8,580.3L467.05,582.9L467.3,606.8L467.55,551.7L467.8,495L468.05,552.5L468.3,557.3L468.55,571L468.8,567L469.05,559.7L469.3,552.5L469.55,575.8L469.8,564.4L470.05,569.5L470.3,553.4L470.55,545.3L470.8,541.8L471.05,573.9L471.3,574.5L471.55,549.9L471.8,569.6L472.05,568.5L472.3,554.2L472.55,555.8L472.8,535.8L473.05,589L473.3,539.8L473.55,573.1L473.8,549L474.05,590.3L474.3,565.7L474.55,576.2L474.8,526.6L475.05,586.9L475.3,550.2L475.55,603.2L475.8,621.4L476.05,594.6L476.3,571.2L476.55,582L476.8,557.5L477.05,559.6L477.3,563.8L477.55,532.6L477.8,561.8L478.05,543.3L478.3,586.2L478.55,565.6L478.8,541.5L479.05,571.2L479.3,607L479.55,545.3L479.8,548.8L480.05,567.2L480.3,558.4L480.55,567.7L480.8,551.9L481.05,536.3L481.3,553L481.55,561.3L481.8,569.6L482.05,562.3L482.3,569.5L482.55,537.4L482.8,581L483.05,570.5L483.3,549.9L483.55,550L483.8,551.5L484.05,565.9L484.3,552.1L484.55,587.5L484.8,589.4L485.05,583.9L485.3,547.1L485.55,525L485.8,564.4L486.05,566.9L486.3,560.8L486.55,513.9L486.8,548.9L487.05,551.1L487.3,565.6L487.55,541.7L487.8,523.5L488.05,547.9L488.3,570L488.55,522.3L488.8,551.9L489.05,511.2L489.3,574.6L489.55,553.9L489.8,544.4L490.05,589.7L490.3,548L490.55,536.3L490.8,553L491.05,540.1L491.3,546.1L491.55,569.4L491.8,533.7L492.05,567.3L492.3,557.1L492.55,567.1L492.8,535.5L493.05,561L493.3,561.1L493.55,599.4L493.8,556.6L494.05,527.2L494.3,598.3L494.55,541.7L494.8,551.1L495.05,590.4L495.3,559.9L495.55,528.1L495.8,550.4L496.05,542L496.3,524.3L496.55,557.6L496.8,529.8L497.05,579.1L497.3,570.1L497.55,516L497.8,518.1L498.05,527.8L498.3,585L498.55,555L498.8,570.6L499.05,504.3L499.3,581.3L499.55,579.6L499.8,563.5L500.05,541.5L500.3,563L500.55,556.4L500.8,542.1L501.05,546.3L501.3,593.5L501.55,578.7L501.8,510.3L502.05,547.8L502.3,505.8L502.55,514.3L502.8,522.5L503.05,547.1L503.3,512.2L503.55,559.2L503.8,495.5L504.05,534.3L504.3,534L504.55,557.1L504.8,561.2L505.05,553.5L505.3,559.7L505.55,567.9L505.8,572.8L506.05,542.5L506.3,518.9L506.55,500.7L506.8,528.8L507.05,549.2L507.3,532.1L507.55,506.2L507.8,543.2L508.05,522.3L508.3,535.7L508.55,537.4L508.8,541.8L509.05,488.5L509.3,496.8L509.55,484.3L509.8,472.9L510.05,472.9L510.3,498.4L510.55,516.7L510.8,550.6L511.05,548.4L511.3,519.2L511.55,497.1L511.8,609.2L512.05,517.2L512.3,540.5L512.55,547L512.8,563.2L513.05,560.7L513.3,574.2L513.55,539.5L513.8,568.8L514.05,550.2L514.3,581.4L514.55,517.8L514.8,529.9L515.05,573.5L515.3,535.1L515.55,555.3L515.8,566.5L516.05,544.3L516.3,525.8L516.55,508.5L516.8,532.4L517.05,496.9L517.3,483.6L517.55,472.9L517.8,472.9L518.05,504.5L518.3,509L518.55,489.1L518.8,570.3L519.05,564L519.3,501L519.55,570.1L519.8,543L520.05,539.7L520.3,553L520.55,524.1L520.8,525.7L521.05,562.7L521.3,505L521.55,565.7L521.8,557L522.05,549.9L522.3,541.8L522.55,572.9L522.8,541.1L523.05,599L523.3,558.9L523.55,568.6L523.8,564.2L524.05,549.7L524.3,542.2L524.55,565.6L524.8,547.5L525.05,583.7L525.3,557.2L525.55,526.4L525.8,564.7L526.05,555.9L526.3,549.2L526.55,505.7L526.8,529.6L527.05,552.7L527.3,572.3L527.55,543.2L527.8,616.5L528.05,539L528.3,566.5L528.55,533.9L528.8,550.5L529.05,517.4L529.3,564.1L529.55,595.5L529.8,548.5L530.05,560.6L530.3,551.4L530.55,521.3L530.8,570.3L531.05,533.4L531.3,528.4L531.55,524.1L531.8,596L532.05,545.7L532.3,565.4L532.55,554.6L532.8,568.3L533.05,556.9L533.3,527.2L533.55,509L533.8,532.8L534.05,578L534.3,519.9L534.55,578.1L534.8,558L535.05,522.7L535.3,562.9L535.55,532.3L535.8,555.3L536.05,575.6L536.3,541.5L536.55,551.6L536.8,480L537.05,472.9L537.3,472.9L537.55,479.9L537.8,472.9L538.05,497.3L538.3,517.8L538.55,538.2L538.8,560.3L539.05,545.6L539.3,528.2L539.55,512.6L539.8,535.5L540.05,548.5L540.3,560.1L540.55,556.3L540.8,510.7L541.05,532.7L541.3,543.4L541.55,587.4L541.8,590.3L542.05,533L542.3,534L542.55,522.6L542.8,544.2L543.05,564.2L543.3,589.1L543.55,570.5L543.8,603.4L544.05,541.9L544.3,537.8L544.55,516.5L544.8,591.9L545.05,582.2L545.3,534.5L545.55,541.2L545.8,596.3L546.05,565.7L546.3,546.8L546.55,558.2L546.8,540.3L547.05,548.4L547.3,562.4L547.55,540.1L547.8,551L548.05,521.8L548.3,583.4L548.55,554.7L548.8,565.3L549.05,555L549.3,539.7L549.55,534L549.8,599.9L550.05,521.8L550.3,536.5L550.55,536.9L550.8,547.6L551.05,526.8L551.3,539.5L551.55,591.8L551.8,565L552.05,555.3L552.3,557.9L552.55,559.9L552.8,534.9L553.05,575.8L553.3,567.1L553.55,572.8L553.8,550L554.05,538.9L554.3,570.8L554.55,540.1L554.8,562.3L555.05,515.9L555.3,602.4L555.55,549.7L555.8,522.1L556.05,558.1L556.3,575.6L556.55,570L556.8,536.2L557.05,562.2L557.3,524.1L557.55,548L557.8,562.4L558.05,559.6L558.3,537.8L558.55,524.9L558.8,568.2L559.05,577.1L559.3,576.8L559.55,537.7L559.8,505.6L560.05,561.3L560.3,532.8L560.55,558.3L560.8,526.8L561.05,584.1L561.3,534.7L561.55,579.9L561.8,569.1L562.05,531.5L562.3,554.6L562.55,550.6L562.8,536.4L563.05,544.2L563.3,513.5L563.55,531L563.8,569.3L564.05,550.7L564.3,562.2L564.55,558.7L564.8,506.6L565.05,567.7L565.3,518.7L565.55,513.2L565.8,484L566.05,548.8L566.3,542.9L566.55,541.9L566.8,557.8L567.05,506.6L567.3,501.6L567.55,600.6L567.8,545.2L568.05,490.5L568.3,516.1L568.55,484.7L568.8,472.9L569.05,487.3L569.3,518.6L569.55,538.4L569.8,501.9L570.05,604.1L570.3,561.7L570.55,577L570.8,544L571.05,560.4L571.3,538.3L571.55,549.6L571.8,494.6L572.05,581.4L572.3,561.5L572.55,528.9L572.8,559.1L573.05,546.4L573.3,586.8L573.55,533L573.8,553.2L574.05,536.6L574.3,572.3L574.55,563.5L574.8,571.1L575.05,510.6L575.3,592.7L575.55,540.3L575.8,544.4L576.05,520.1L576.3,543.9L576.55,575L576.8,535.8L577.05,582.4L577.3,497.5L577.55,496.8L577.8,484.1L578.05,472.9L578.3,472.9L578.55,547.1L578.8,490.7L579.05,562L579.3,513.1L579.55,546.9L579.8,504.9L580.05,580.6L580.3,530.1L580.55,552.8L580.8,566.7L581.05,531.1L581.3,557.1L581.55,569.2L581.8,556.7L582.05,570.4L582.3,557L582.55,552.7L582.8,525.5L583.05,553.9L583.3,570.4L583.55,533.5L583.8,560.7L584.05,575.3L584.3,620.9L584.55,509.4L584.8,554.6L585.05,513L585.3,575.8L585.55,577.8L585.8,510.6L586.05,558.4L586.3,556.9L586.55,557.8L586.8,577.3L587.05,527.6L587.3,581.7L587.55,534L587.8,578.5L588.05,489.1L588.3,535L588.55,525.7L588.8,593.6L589.05,544.1L589.3,568L589.55,573.7L589.8,573.1L590.05,532.7L590.3,551.7L590.55,564.8L590.8,567.3L591.05,568.3L591.3,565.8L591.55,559.4L591.8,580.2L592.05,572.9L592.3,599.3L592.55,532.2L592.8,492.6L593.05,491.2L593.3,472.9L593.55,497.7L593.8,505.6L594.05,503.3L594.3,539.5L594.55,570.1L594.8,543.7L595.05,562.3L595.3,525.6L595.55,534L595.8,558L596.05,539.9L596.3,510.6L596.55,525.2L596.8,531.7L597.05,556.9L597.3,566.6L597.55,570.6L597.8,527.6L598.05,578.5L598.3,542.6L598.55,513.8L598.8,590.8L599.05,543.9L599.3,576.4"/><path d="M632.9,569.3L633.15,545.8L633.4,547.9L633.65,540.7L633.9,562.6L634.15,548.2L634.4,575L634.65,566.8L634.9,515.4L635.15,558.3L635.4,562.9L635.65,537.2L635.9,553.5L636.15,510.2L636.4,549.5L636.65,539.5L636.9,554.4L637.15,532.5L637.4,549.4L637.65,507.6L637.9,560.8L638.15,542.6L638.4,538.2L638.65,567L638.9,557.5L639.15,561.3L639.4,575.2L639.65,544.2L639.9,593.6L640.15,595.1L640.4,566.8L640.65,544.7L640.9,551.4L641.15,532.9L641.4,530.4L641.65,546.5L641.9,564.2L642.15,538L642.4,560.5L642.65,560.6L642.9,548.6L643.15,525.8L643.4,507.5L643.65,529.6L643.9,556.1L644.15,534.1L644.4,528.6L644.65,561.9L644.9,546.1L645.15,558.9L645.4,558L645.65,546.9L645.9,546.1L646.15,560.4L646.4,548L646.65,567.6L646.9,551L647.15,546.1L647.4,555.7L647.65,572.3L647.9,560.4L648.15,542.4L648.4,533.4L648.65,533.6L648.9,532.6L649.15,521.3L649.4,555.3L649.65,530.6L649.9,561.1L650.15,521.4L650.4,533.3L650.65,564.3L650.9,537.7L651.15,532.9L651.4,561.1L651.65,543.3L651.9,534.9L652.15,519.6L652.4,557.2L652.65,524.3L652.9,564.2L653.15,561.4L653.4,527.5L653.65,536.8L653.9,560.4L654.15,524.5L654.4,540.6L654.65,545.4L654.9,552.9L655.15,588.9L655.4,548.3L655.65,533.6L655.9,549.2L656.15,537.1L656.4,550.1L656.65,526.8L656.9,594L657.15,540.9L657.4,563.1L657.65,545.3L657.9,538.2L658.15,530.4L658.4,535.8L658.65,529.7L658.9,564.4L659.15,546.4L659.4,582.9L659.65,543.4L659.9,600.7L660.15,531.9L660.4,545.6L660.65,553.2L660.9,559L661.15,546L661.4,558.4L661.65,571.4L661.9,542.7L662.15,579.9L662.4,541.5L662.65,564.1L662.9,568.2L663.15,513.9L663.4,539.6L663.65,530L663.9,553.3L664.15,549.8L664.4,549.3L664.65,518.1L664.9,538.5L665.15,547.6L665.4,549.8L665.65,548.1L665.9,532.4L666.15,548.4L666.4,548L666.65,527.4L666.9,533.4L667.15,536.1L667.4,517.6L667.65,550.2L667.9,566.6L668.15,574.4L668.4,549.8L668.65,544.9L668.9,533.3L669.15,571.4L669.4,570L669.65,556.4L669.9,553.4L670.15,571.3L670.4,551.9L670.65,538L670.9,553L671.15,512.1L671.4,537.7L671.65,562.2L671.9,552.8L672.15,572.2L672.4,515.1L672.65,553.9L672.9,554.5L673.15,538L673.4,554.9L673.65,560.4L673.9,550.9L674.15,533.6L674.4,533.4L674.65,571.8L674.9,576L675.15,542.8L675.4,555L675.65,557.4L675.9,533L676.15,542.8L676.4,558.1L676.65,540L676.9,561.8L677.15,558.2L677.4,519.8L677.65,553.8L677.9,541L678.15,554L678.4,554.9L678.65,567.7L678.9,568.1L679.15,529.4L679.4,514.1L679.65,538.6L679.9,540.1L680.15,558.2L680.4,550.4L680.65,525L680.9,507.2L681.15,537.9L681.4,542.6L681.65,531.2L681.9,546.8L682.15,561.3L682.4,563.3L682.65,553.4L682.9,555.6L683.15,587.4L683.4,578.2L683.65,536L683.9,533.5L684.15,535.8L684.4,552.8L684.65,560L684.9,549.8L685.15,543.9L685.4,557L685.65,531.4L685.9,560.2L686.15,587.3L686.4,538L686.65,534.4L686.9,552L687.15,532.1L687.4,529.6L687.65,590.8L687.9,542.3L688.15,568.6L688.4,537.7L688.65,544.7L688.9,535.2L689.15,553.2L689.4,558.7L689.65,544.4L689.9,509.2L690.15,541.7L690.4,565.9L690.65,549.4L690.9,552.9L691.15,527.9L691.4,546.6L691.65,553.9L691.9,545.8L692.15,560.3L692.4,540.9L692.65,566.6L692.9,556.2L693.15,545.2L693.4,571.1L693.65,570.6L693.9,561.4L694.15,524.6L694.4,534.7L694.65,547.5L694.9,532L695.15,534.3L695.4,558.4L695.65,566.5L695.9,528.5L696.15,559.2L696.4,537.7L696.65,574L696.9,549.7L697.15,568.8L697.4,537.4L697.65,535.7L697.9,541.8L698.15,535.3L698.4,557.2L698.65,541.6L698.9,538.4L699.15,562.7L699.4,538.3L699.65,544.1L699.9,542.3L700.15,558.2L700.4,563.8L700.65,566.4L700.9,580.9L701.15,572.3L701.4,595L701.65,545.2L701.9,567.2L702.15,532.6L702.4,573.9L702.65,559.9L702.9,545L703.15,542.6L703.4,557.4L703.65,565.3L703.9,539.1L704.15,531.9L704.4,565.5L704.65,571.1L704.9,560.6L705.15,552.4L705.4,581.3L705.65,568.5L705.9,538.8L706.15,564.7L706.4,565.3L706.65,523.7L706.9,531.5L707.15,520.9L707.4,551L707.65,553.5L707.9,558.6L708.15,577.8L708.4,589.6L708.65,552.9L708.9,565.6L709.15,539.8L709.4,533.6L709.65,579.7L709.9,577.2L710.15,547.5L710.4,525.5L710.65,522.4L710.9,564.6L711.15,550.5L711.4,524.8L711.65,566.1L711.9,570.7L712.15,526.4L712.4,565.6L712.65,574.9L712.9,521.7L713.15,560.3L713.4,560L713.65,540.9L713.9,523.1L714.15,536.8L714.4,547.4L714.65,543.9L714.9,543.8L715.15,547L715.4,587.4L715.65,548.1L715.9,581.6L716.15,570.3L716.4,553.8L716.65,559.5L716.9,550.6L717.15,559.1L717.4,549.8L717.65,523.5L717.9,609.3L718.15,539.6L718.4,525.1L718.65,571.9L718.9,571.3L719.15,567L719.4,556.1L719.65,580.8L719.9,574.6L720.15,569L720.4,569.1L720.65,546.4L720.9,594.5L721.15,579.1L721.4,587.2L721.65,597.2L721.9,587.6L722.15,594.2L722.4,583.6L722.65,557.9L722.9,558.4L723.15,567L723.4,538.5L723.65,557.2L723.9,557.7L724.15,561L724.4,536.8L724.65,545.6L724.9,549.2L725.15,577.7L725.4,521.8L725.65,577.9L725.9,543.9L726.15,571.9L726.4,577.8L726.65,606.5L726.9,545.7L727.15,542.8L727.4,554.6L727.65,556.5L727.9,572.3L728.15,549.1L728.4,553.1L728.65,605L728.9,556.4L729.15,553.8L729.4,567.1L729.65,529.1L729.9,569.9L730.15,514.8L730.4,528.1L730.65,555.2L730.9,519.7L731.15,527.9L731.4,525.8L731.65,543.5L731.9,563L732.15,582L732.4,541.3L732.65,547.9L732.9,555.8L733.15,510.8L733.4,537.1L733.65,570.6L733.9,547.4L734.15,536.2L734.4,565.8L734.65,541L734.9,550.3L735.15,569.4L735.4,537.3L735.65,532.6L735.9,587.7L736.15,536.3L736.4,553.4L736.65,549.2L736.9,571.4L737.15,559.9L737.4,513.3L737.65,531L737.9,545.5L738.15,541.1L738.4,556.3L738.65,544.3L738.9,556.4L739.15,536.7L739.4,556.1L739.65,522.7L739.9,490L740.15,477.7L740.4,472.9L740.65,472.9L740.9,487.4L741.15,532.4L741.4,511L741.65,536.8L741.9,546.3L742.15,520.9L742.4,556.1L742.65,550.9L742.9,554.4L743.15,560L743.4,545.2L743.65,553.6L743.9,519.6L744.15,554.3L744.4,522.6L744.65,558.6L744.9,549.1L745.15,543.1L745.4,558.7L745.65,532.8L745.9,554.1L746.15,555.5L746.4,533L746.65,557.2L746.9,534.3L747.15,527L747.4,531.8L747.65,521.6L747.9,552.3L748.15,524.7L748.4,554.6L748.65,573.4L748.9,548.9L749.15,513.5L749.4,563L749.65,516.8L749.9,600.9L750.15,531.7L750.4,538.7L750.65,563.9L750.9,585.1L751.15,536.3L751.4,536.9L751.65,539.5L751.9,531.6L752.15,561.6L752.4,514.8L752.65,533.2L752.9,561.4L753.15,512.1L753.4,548.5L753.65,541.2L753.9,534.9L754.15,563.7L754.4,564.3L754.65,552.2L754.9,568.8L755.15,553.3L755.4,526.9L755.65,569.2L755.9,548.9L756.15,560L756.4,536.7L756.65,570.4L756.9,569.6L757.15,554.2L757.4,517.9L757.65,567.9L757.9,580.8L758.15,569L758.4,540.8L758.65,537.4L758.9,554L759.15,549L759.4,576.8L759.65,547L759.9,556.4L760.15,564.9L760.4,538.5L760.65,538.5L760.9,564.9L761.15,554L761.4,590.9L761.65,577.2L761.9,538.7L762.15,581L762.4,581.6L762.65,557.3L762.9,625.7L763.15,625.7L763.4,625.7L763.65,625.7L763.9,625.7L764.15,609.6L764.4,571.2L764.65,582.4L764.9,558.6L765.15,565.2L765.4,561.8L765.65,542.8L765.9,568.7L766.15,576.1L766.4,559.8L766.65,554.7L766.9,561.6L767.15,586.4L767.4,546.3L767.65,586.1L767.9,589.5L768.15,540.1L768.4,530L768.65,559.5L768.9,568L769.15,530.4L769.4,575.2L769.65,552.9L769.9,561.5L770.15,541.7L770.4,546.5L770.65,564.6L770.9,533.1L771.15,539.2L771.4,551.4L771.65,556.4L771.9,552.7L772.15,572.5L772.4,555.3L772.65,555.6L772.9,542.2L773.15,554.8L773.4,558.3L773.65,547.2L773.9,535.3L774.15,541.9L774.4,553.5L774.65,558.7L774.9,499.2L775.15,551.2L775.4,571.5L775.65,547.8L775.9,581L776.15,560.2L776.4,540.6L776.65,554.2L776.9,556.9L777.15,539.2L777.4,531.9L777.65,567.5L777.9,594.9L778.15,563.3L778.4,570.4L778.65,543.6L778.9,539.3L779.15,553.3L779.4,569.3L779.65,578L779.9,554.4L780.15,564.9L780.4,544.4L780.65,573L780.9,561.2L781.15,558.6L781.4,534.8L781.65,538.9L781.9,543.9L782.15,548.5L782.4,540.6L782.65,581.9L782.9,536.9L783.15,556L783.4,527.1L783.65,536.7L783.9,531.6L784.15,563L784.4,503.2L784.65,541.8L784.9,546.6L785.15,560.9L785.4,545.4L785.65,586.5L785.9,529L786.15,543.1L786.4,552.1L786.65,497.9L786.9,542.3L787.15,543.5L787.4,559.6L787.65,545.5L787.9,570.5L788.15,569.7L788.4,548.5L788.65,561.3L788.9,573.5L789.15,554.2L789.4,581.7L789.65,525.1L789.9,566.3L790.15,566.1L790.4,525.5L790.65,576.2L790.9,588.4L791.15,551.6L791.4,556.1L791.65,534.6L791.9,552.7L792.15,578.6L792.4,549.9L792.65,556L792.9,531L793.15,546.7L793.4,567.2L793.65,563.1L793.9,551.5L794.15,558.7L794.4,548.2L794.65,546.9L794.9,569.4L795.15,542L795.4,523.6L795.65,545.7L795.9,541.5L796.15,505.9L796.4,518.8L796.65,523.7L796.9,517.6L797.15,552.3L797.4,568.8L797.65,547.9L797.9,562.7L798.15,545.3L798.4,539.3L798.65,549.9L798.9,542.1L799.15,551.4L799.4,547.1L799.65,570.7L799.9,523.5L800.15,562.9L800.4,558.6L800.65,563.6L800.9,556L801.15,559.1L801.4,585L801.65,525.9L801.9,545.7L802.15,556.6L802.4,552.4L802.65,534.9L802.9,538L803.15,547L803.4,537L803.65,595.1L803.9,537.9L804.15,556.1L804.4,565.1L804.65,569.7L804.9,551.2L805.15,581.6L805.4,547.2L805.65,565.7L805.9,540.7L806.15,582.4L806.4,546.4L806.65,560.5L806.9,572.7L807.15,532.5L807.4,534.8L807.65,589.7L807.9,558.4L808.15,529L808.4,551.8L808.65,564L808.9,569.5L809.15,566.6L809.4,544.1L809.65,538.4L809.9,560.2L810.15,571.7L810.4,568.4L810.65,586L810.9,548.1L811.15,556.6L811.4,538.1L811.65,517.9L811.9,534.2L812.15,565.6L812.4,564.8L812.65,582.8L812.9,597.5L813.15,526.1L813.4,556.1L813.65,589.7L813.9,549.1L814.15,601.7L814.4,567.2L814.65,561.4L814.9,576.4L815.15,574.6L815.4,549.9L815.65,575.8L815.9,543.7L816.15,601.7L816.4,575.1L816.65,533.4L816.9,588.3L817.15,588.5L817.4,568.3L817.65,578.5L817.9,564.7L818.15,549.4L818.4,558.8L818.65,566.5L818.9,579.6L819.15,567.2L819.4,552.5L819.65,591.2L819.9,582L820.15,597.3L820.4,573.7L820.65,570.5L820.9,585.7L821.15,597.6L821.4,590.7L821.65,561.6L821.9,587.2L822.15,557.9L822.4,586.4L822.65,588.3L822.9,556.2L823.15,586.8L823.4,547.2L823.65,612.5L823.9,567.7L824.15,577.3L824.4,573.5L824.65,559.7L824.9,602L825.15,522.1L825.4,570.1L825.65,514.2L825.9,544.1L826.15,554.6L826.4,586.5L826.65,524.7L826.9,543.4L827.15,533.2L827.4,583.2L827.65,586.7L827.9,561.8L828.15,545.2L828.4,540.3L828.65,532.8L828.9,569.6L829.15,577.6L829.4,541.2L829.65,571.2L829.9,554.7L830.15,518.5L830.4,560.8L830.65,546.9L830.9,548.7L831.15,553L831.4,546.2L831.65,543.5L831.9,549.1L832.15,517.5L832.4,515.1L832.65,532.4L832.9,477.3L833.15,501.6L833.4,520.6L833.65,547.6L833.9,531L834.15,550.3L834.4,565.1L834.65,566.2L834.9,530.8L835.15,556.9L835.4,558.1L835.65,505.4L835.9,544.5L836.15,538.6L836.4,547.9L836.65,550.7L836.9,567.8L837.15,537.1L837.4,544.7L837.65,564.8L837.9,551.4L838.15,517.1L838.4,544.1L838.65,548.2L838.9,560.8L839.15,559.7L839.4,538.8L839.65,532.8L839.9,544.9L840.15,531.5L840.4,563.9L840.65,556L840.9,541.7L841.15,526.3L841.4,556.9L841.65,529.9L841.9,568.2L842.15,526.6L842.4,523L842.65,553.5L842.9,540.6L843.15,532.9L843.4,560L843.65,554.6L843.9,555.1L844.15,536L844.4,528.7L844.65,588.2L844.9,560.4L845.15,533.2L845.4,557.5L845.65,548.2L845.9,527.7L846.15,542L846.4,521.7L846.65,539.8L846.9,543.3L847.15,554.9L847.4,583.9L847.65,546.8L847.9,574.9L848.15,521.9L848.4,521.9L848.65,527.3L848.9,513.1L849.15,492.5L849.4,569.7L849.65,536.6L849.9,516.6L850.15,537.3L850.4,534.2L850.65,509L850.9,520L851.15,557.2L851.4,497.6L851.65,541.8L851.9,518.7L852.15,509.7L852.4,553.5L852.65,482.7L852.9,501.8L853.15,505.6L853.4,495.5L853.65,514.2L853.9,493.3L854.15,492.5L854.4,548.2L854.65,525.6L854.9,478.3L855.15,514L855.4,472.9L855.65,474.8L855.9,472.9L856.15,502.8L856.4,479.6L856.65,499.5L856.9,506.8L857.15,514.9L857.4,522.1L857.65,519.1L857.9,519.4L858.15,543.5L858.4,505.8L858.65,537.6L858.9,553.2L859.15,530.2L859.4,613L859.65,528L859.9,559.7L860.15,554.5L860.4,558L860.65,552.1L860.9,577.8L861.15,576.6L861.4,561.8L861.65,583.4L861.9,573.8L862.15,577.5L862.4,583.9L862.65,592.6L862.9,597.2L863.15,590.7L863.4,608.5L863.65,608.7L863.9,533L864.15,588.5L864.4,572.1L864.65,586.6L864.9,579.4L865.15,593.1L865.4,577.3L865.65,595L865.9,595.1L866.15,625.7L866.4,581.6L866.65,605L866.9,601.2L867.15,592.2L867.4,595.3L867.65,600.4L867.9,574.7L868.15,616.8L868.4,625.7L868.65,605.4L868.9,625.7L869.15,602.4L869.4,573.2L869.65,567.5L869.9,619.7L870.15,590L870.4,621.7L870.65,590.8L870.9,569.7L871.15,607.2L871.4,560.5L871.65,582.1L871.9,531.2L872.15,592L872.4,594.1L872.65,546.3L872.9,550.9L873.15,553.3L873.4,577L873.65,554.8L873.9,564.6L874.15,521.6L874.4,539.4L874.65,564.8L874.9,567.8L875.15,579.8L875.4,562.2L875.65,550.4L875.9,541.3L876.15,528.2L876.4,558.3L876.65,524.1L876.9,587.2L877.15,549.6L877.4,535L877.65,556.7L877.9,542.1L878.15,530.9L878.4,556.5L878.65,541.8L878.9,524.6L879.15,567.2L879.4,523.9L879.65,546.5L879.9,570.5L880.15,536.9L880.4,531.6L880.65,547L880.9,537.7L881.15,535.2L881.4,542.8L881.65,541.6L881.9,529.1L882.15,530.5L882.4,544.2L882.65,576.2L882.9,566.4L883.15,550.8L883.4,524.8L883.65,535.9L883.9,514.4L884.15,536.7L884.4,537.5L884.65,550L884.9,524.5L885.15,567.3L885.4,539.2L885.65,547.3L885.9,553.8L886.15,529.5L886.4,534.1L886.65,538.7L886.9,554.6L887.15,569.4L887.4,567.8L887.65,587.7L887.9,568.1L888.15,540.8L888.4,522.8L888.65,564.5L888.9,525.7L889.15,514.8L889.4,528L889.65,518L889.9,546.8L890.15,554.5L890.4,541.8L890.65,530.3L890.9,538.7L891.15,543.3L891.4,533.1L891.65,561L891.9,533.4L892.15,579.5L892.4,522.7L892.65,523.3L892.9,507.6L893.15,561.8L893.4,556.3L893.65,564.1L893.9,571.3L894.15,585.9L894.4,534.1L894.65,551L894.9,549.6L895.15,577.4L895.4,545.1L895.65,513.8L895.9,545L896.15,533.8L896.4,567.4L896.65,529.9L896.9,548.5L897.15,546.1L897.4,542.1L897.65,552.3L897.9,536.8L898.15,549.1L898.4,555.7L898.65,566.5L898.9,567.9L899.15,534.2L899.4,530.5L899.65,550.4L899.9,551.9L900.15,558.4L900.4,545.8L900.65,525.5L900.9,544.5L901.15,558.1L901.4,531.4L901.65,536.4L901.9,579.1L902.15,557.1L902.4,528.4L902.65,542.7L902.9,550.3L903.15,542.4L903.4,569.1L903.65,569.1L903.9,551.6L904.15,547.6L904.4,522.6L904.65,551.6L904.9,544.7L905.15,524.2L905.4,560.7L905.65,555.9L905.9,551.2L906.15,547.8L906.4,550.2L906.65,541.7L906.9,574.2L907.15,576.9L907.4,556.8L907.65,583.2L907.9,529.9L908.15,570.5L908.4,567.3L908.65,548.4L908.9,553.6L909.15,550.1L909.4,560.7L909.65,582.9L909.9,564.2L910.15,573.2L910.4,591L910.65,568.4L910.9,548L911.15,580.2L911.4,577.6L911.65,578.6L911.9,553.8L912.15,601L912.4,558.7L912.65,564.7L912.9,568L913.15,581.8L913.4,570.5L913.65,533.5L913.9,562.1L914.15,572.4L914.4,551.6L914.65,586.4L914.9,546.4L915.15,566.9L915.4,522.6L915.65,527.4L915.9,554.5L916.15,557L916.4,570.9L916.65,554.3L916.9,551.6L917.15,586.6L917.4,588.9L917.65,553.8L917.9,570.6L918.15,552.5L918.4,541.3L918.65,524.7L918.9,519.9L919.15,506.3L919.4,504.7L919.65,516L919.9,559.1L920.15,555.1L920.4,556.5L920.65,582.9L920.9,583.3L921.15,558.8L921.4,548.5L921.65,542.8L921.9,566.3L922.15,543.8L922.4,556.2L922.65,561.1L922.9,536.6L923.15,581.1L923.4,608L923.65,519.2L923.9,551.7L924.15,537.3L924.4,551.6L924.65,561L924.9,568.2L925.15,578.8L925.4,540.1L925.65,566L925.9,550.3L926.15,543.5L926.4,549.3L926.65,546.6L926.9,523.1L927.15,543.1L927.4,543.8L927.65,550.5L927.9,523.5L928.15,526L928.4,557.3L928.65,540.9L928.9,549.6L929.15,554.6L929.4,562.2L929.65,516.8L929.9,537.7L930.15,582.3L930.4,528.9L930.65,516.9L930.9,544.4L931.15,547.3L931.4,543.7L931.65,530.5L931.9,555.3L932.15,539.3L932.4,571.2L932.65,526.2L932.9,564.7L933.15,552.1L933.4,529.2L933.65,528.7L933.9,557.6L934.15,556.9L934.4,520.2L934.65,556L934.9,559.1L935.15,553.8L935.4,533.8L935.65,533.4L935.9,528.1L936.15,537.8L936.4,551.8L936.65,537.2L936.9,531.9L937.15,563.9L937.4,554.8L937.65,544.8L937.9,516.9L938.15,549.4L938.4,543L938.65,543.3L938.9,537.7L939.15,533L939.4,560.8L939.65,591.3L939.9,530.5L940.15,578.7L940.4,538.3L940.65,536.3L940.9,531.3L941.15,560.6L941.4,537.4L941.65,531.5L941.9,531.1L942.15,521.8L942.4,559.4L942.65,551.3L942.9,547.1L943.15,543.1L943.4,502L943.65,528.2L943.9,540.3L944.15,512.6L944.4,531.7L944.65,561.2L944.9,519.9L945.15,563.4L945.4,562.8L945.65,556.7L945.9,549.4L946.15,543.2L946.4,541.3L946.65,554.6L946.9,553.6L947.15,529.9L947.4,536L947.65,543.9L947.9,550.3L948.15,526.1L948.4,522.5L948.65,499.8L948.9,472.9L949.15,472.9L949.4,489.6L949.65,472.9L949.9,532L950.15,527.7L950.4,533.1L950.65,540L950.9,540L951.15,516.6L951.4,527L951.65,573.7L951.9,532.6L952.15,579.7L952.4,560.2L952.65,535.4L952.9,561.2L953.15,522.2L953.4,549.4L953.65,533.4L953.9,538.5L954.15,530.2L954.4,521.6L954.65,568.3L954.9,544.9L955.15,540.8L955.4,527L955.65,535.5L955.9,549.6L956.15,568.2L956.4,572.5L956.65,561.3L956.9,543.2L957.15,543.9L957.4,522.6L957.65,542.2L957.9,534.3L958.15,571L958.4,543.9L958.65,556.7L958.9,558.6L959.15,528L959.4,549.5L959.65,550.9L959.9,548.2L960.15,572.8L960.4,577.7L960.65,518.8L960.9,550.1L961.15,551.5L961.4,547.9L961.65,559.6L961.9,557L962.15,567L962.4,547.2L962.65,555.7L962.9,536.1L963.15,527.6L963.4,572L963.65,542.9L963.9,561.6L964.15,518.6L964.4,551.7L964.65,539L964.9,564L965.15,534.8L965.4,568.4L965.65,577.1L965.9,597.4L966.15,557.4L966.4,563.5L966.65,553.8L966.9,572.4L967.15,557.6L967.4,557.9L967.65,575.7L967.9,525.2L968.15,520.3L968.4,552.9L968.65,548.5L968.9,546.6L969.15,545.6L969.4,571.2L969.65,553.1L969.9,527.8L970.15,560.9L970.4,562.4L970.65,573.6L970.9,565.4L971.15,594.9L971.4,559.2L971.65,540.5L971.9,553.1L972.15,555.9L972.4,557.8L972.65,554.4L972.9,576.7L973.15,590.8L973.4,528L973.65,550.7L973.9,596.2L974.15,532.3L974.4,566.6L974.65,543.4L974.9,562L975.15,570.8L975.4,545.9L975.65,566L975.9,617.2L976.15,551L976.4,562L976.65,561.8L976.9,566.2L977.15,553.8L977.4,535.6L977.65,544.2L977.9,556L978.15,559.7L978.4,573.9L978.65,531.4L978.9,594.5L979.15,578.6L979.4,564.7L979.65,559.7L979.9,557.5L980.15,569L980.4,530.2L980.65,541.4L980.9,594.4L981.15,579.4L981.4,589L981.65,549.3L981.9,596L982.15,625.7L982.4,625.7L982.65,625.7L982.9,602.9L983.15,571.5L983.4,588.8L983.65,559L983.9,555.3L984.15,572L984.4,551.1L984.65,570.1L984.9,547.5L985.15,561L985.4,565.4L985.65,533.5L985.9,540.3L986.15,561.9L986.4,609.8L986.65,551.5L986.9,564.3L987.15,548.7L987.4,555.1L987.65,559.8L987.9,560.5L988.15,530.4L988.4,528.5L988.65,531.4L988.9,572.5L989.15,559.3L989.4,549.8L989.65,585.4L989.9,534.2L990.15,570.7L990.4,535.2L990.65,561.4L990.9,545L991.15,581.3L991.4,594.7L991.65,564.7L991.9,575.3L992.15,574.4L992.4,560.1L992.65,547.1L992.9,538.1L993.15,567.8L993.4,577.2L993.65,553.7L993.9,570.4L994.15,572.8L994.4,559.8L994.65,532.9L994.9,547.1L995.15,587.4L995.4,518.2L995.65,574.2L995.9,548.7L996.15,564.9L996.4,515.3L996.65,543.8L996.9,530.3L997.15,546.5L997.4,552.8L997.65,529.4L997.9,582.6L998.15,571.7L998.4,574.5L998.65,552.5L998.9,557.8L999.15,563.8L999.4,536.8L999.65,539.9L999.9,556.9L1000.15,572.7L1000.4,511.7L1000.65,542.5L1000.9,557.7L1001.15,544.9L1001.4,541.4L1001.65,558.1L1001.9,534L1002.15,544.3L1002.4,554.5L1002.65,526.8L1002.9,553.2L1003.15,523.4L1003.4,542.9L1003.65,549.4L1003.9,524.8L1004.15,551L1004.4,535.1L1004.65,521.3L1004.9,550.4L1005.15,554.2L1005.4,530.6L1005.65,526.7L1005.9,580.9L1006.15,534.5L1006.4,523.7L1006.65,552.2L1006.9,525.6L1007.15,548L1007.4,553.4L1007.65,547.5L1007.9,529.4L1008.15,548.1L1008.4,551.1L1008.65,541L1008.9,527.7L1009.15,576L1009.4,522.4L1009.65,516.9L1009.9,558.8L1010.15,542.1L1010.4,533.1L1010.65,538.7L1010.9,508.4L1011.15,537.8L1011.4,549.6L1011.65,546.8L1011.9,534L1012.15,552.4L1012.4,549.8L1012.65,548.3L1012.9,510.3L1013.15,528L1013.4,558.6L1013.65,530L1013.9,583.7L1014.15,538.1L1014.4,527.3L1014.65,531.6L1014.9,528L1015.15,533.4L1015.4,548.2L1015.65,540.1L1015.9,540.6L1016.15,561.2L1016.4,534.8L1016.65,552.5L1016.9,524.5L1017.15,496.6L1017.4,498.5L1017.65,489.8L1017.9,541.3L1018.15,541.6L1018.4,522.9L1018.65,549.1L1018.9,522.7L1019.15,543L1019.4,527.7L1019.65,539.7L1019.9,505.9L1020.15,512.9L1020.4,518.6L1020.65,553.3L1020.9,511.3L1021.15,538.7L1021.4,554.6L1021.65,526.1L1021.9,513.3L1022.15,556.8L1022.4,518.6L1022.65,536.2L1022.9,536.1L1023.15,524.8L1023.4,539.4L1023.65,545.6L1023.9,516.2L1024.15,577.2L1024.4,518.6L1024.65,558L1024.9,515.9L1025.15,557.2L1025.4,514.1L1025.65,567.4L1025.9,507.9L1026.15,537.7L1026.4,546.7L1026.65,551.4L1026.9,531.5L1027.15,554.9L1027.4,544.3L1027.65,555L1027.9,579.2L1028.15,534.7L1028.4,569.2L1028.65,564.2L1028.9,567.7L1029.15,574.9L1029.4,549.4L1029.65,575.1L1029.9,589.4L1030.15,586.6L1030.4,596.5L1030.65,613.3L1030.9,578.5L1031.15,617.2L1031.4,583L1031.65,605.4L1031.9,596.1L1032.15,613.7L1032.4,621.7L1032.65,580.5L1032.9,625.7"/><path d="M1063.9,552.6L1064.15,619.8L1064.4,587.5L1064.65,560.4L1064.9,550.2L1065.15,572.2L1065.4,555.2L1065.65,556.4L1065.9,564L1066.15,564.5L1066.4,547.3L1066.65,532.6L1066.9,560.8L1067.15,540.7L1067.4,545.1L1067.65,556.9L1067.9,556.1L1068.15,562.1L1068.4,543.8L1068.65,536.7L1068.9,551.3L1069.15,576.3L1069.4,545.4L1069.65,548.9L1069.9,553.5L1070.15,528.3L1070.4,560.6L1070.65,552.2L1070.9,544.6L1071.15,522.4L1071.4,564.9L1071.65,543.5L1071.9,577.7L1072.15,558.4L1072.4,551.9L1072.65,569L1072.9,538.1L1073.15,543.1L1073.4,560.1L1073.65,545.4L1073.9,559.2L1074.15,552L1074.4,551.2L1074.65,524.6L1074.9,562.3L1075.15,538L1075.4,528.1L1075.65,545.6L1075.9,536.8L1076.15,513.2L1076.4,564.9L1076.65,565.5L1076.9,523.4L1077.15,546L1077.4,521.3L1077.65,555.8L1077.9,545L1078.15,535.7L1078.4,581.8L1078.65,522.6L1078.9,545.2L1079.15,561.1L1079.4,556.3L1079.65,554.5L1079.9,523.8L1080.15,560.7L1080.4,524L1080.65,555.8L1080.9,538.7L1081.15,552.2L1081.4,546.6L1081.65,529.9L1081.9,547.6L1082.15,556L1082.4,529.8L1082.65,512.3L1082.9,549.3L1083.15,550.3L1083.4,555.1L1083.65,568.6L1083.9,558.5L1084.15,540.1L1084.4,556.7L1084.65,541.1L1084.9,543.3L1085.15,521.5L1085.4,521.5L1085.65,547.6L1085.9,569.4L1086.15,542.9L1086.4,537.3L1086.65,491.1L1086.9,545.9L1087.15,558L1087.4,562L1087.65,537.1L1087.9,550.7L1088.15,530.2L1088.4,524.7L1088.65,546.7L1088.9,537.2L1089.15,546.1L1089.4,536.8L1089.65,569.6L1089.9,561.3L1090.15,520L1090.4,571.8L1090.65,564.4L1090.9,537.8L1091.15,563.1L1091.4,554.4L1091.65,562.2L1091.9,522.5L1092.15,549.1L1092.4,520.3L1092.65,543.3L1092.9,574.1L1093.15,544.8L1093.4,577.7L1093.65,531.3L1093.9,583.9L1094.15,529.6L1094.4,538.1L1094.65,522.3L1094.9,539.7L1095.15,542.5L1095.4,553.4L1095.65,557.6L1095.9,559.4L1096.15,552.7L1096.4,551L1096.65,508L1096.9,540.1L1097.15,562.2L1097.4,524.8L1097.65,545.6L1097.9,559L1098.15,545.4L1098.4,558.5L1098.65,538.3L1098.9,552.6L1099.15,529.7L1099.4,567.9L1099.65,543.6L1099.9,569.3L1100.15,516.7L1100.4,566.6L1100.65,511.3L1100.9,539.7L1101.15,498.2L1101.4,499.4L1101.65,472.9L1101.9,472.9L1102.15,502.6L1102.4,501.3L1102.65,561.2L1102.9,510.2L1103.15,531.4L1103.4,581.3L1103.65,557L1103.9,533.2L1104.15,513.2L1104.4,552.8L1104.65,583.3L1104.9,531L1105.15,566L1105.4,554.3L1105.65,566.9L1105.9,595.2L1106.15,625.7L1106.4,596.7L1106.65,625.7L1106.9,625.7L1107.15,625.7L1107.4,575L1107.65,583.7L1107.9,578.5L1108.15,581L1108.4,582L1108.65,552.7L1108.9,583.7L1109.15,526.2L1109.4,560.5L1109.65,566.7L1109.9,563.3L1110.15,532.6L1110.4,599L1110.65,559.4L1110.9,529.7L1111.15,541.6L1111.4,554.7L1111.65,567.2L1111.9,520.8L1112.15,568.3L1112.4,528.3L1112.65,577.5L1112.9,588.2L1113.15,561.5L1113.4,569.4L1113.65,603.9L1113.9,563L1114.15,520.6L1114.4,565.5L1114.65,555.7L1114.9,563.8L1115.15,563.9L1115.4,559.6L1115.65,561.3L1115.9,564L1116.15,558.1L1116.4,557.3L1116.65,562.1L1116.9,590.9L1117.15,580.1L1117.4,585.7L1117.65,570.3L1117.9,539.9L1118.15,561.6L1118.4,573.9L1118.65,532.1L1118.9,552.9L1119.15,578.6L1119.4,559L1119.65,549.7L1119.9,550.9L1120.15,577.9L1120.4,563.7L1120.65,579.3L1120.9,591.2L1121.15,559.4L1121.4,602.3L1121.65,571.3L1121.9,551.1L1122.15,558.2L1122.4,569.5L1122.65,562.2L1122.9,566.1L1123.15,546.2L1123.4,559.7L1123.65,556.2L1123.9,580.5L1124.15,571.4L1124.4,577.8L1124.65,551.3L1124.9,554.5L1125.15,567L1125.4,554.3L1125.65,567.4L1125.9,571.8L1126.15,559.2L1126.4,564.2L1126.65,529.6L1126.9,590.7L1127.15,552.4L1127.4,584.8L1127.65,555.7L1127.9,586.1L1128.15,598.6L1128.4,542.9L1128.65,572.6L1128.9,542L1129.15,582.1L1129.4,583.9L1129.65,549.2L1129.9,580.8L1130.15,569.6L1130.4,585.8L1130.65,574.9L1130.9,608.3L1131.15,577.8L1131.4,573.9L1131.65,555.8L1131.9,555.1L1132.15,573.6L1132.4,570.5L1132.65,573L1132.9,535.7L1133.15,584.3L1133.4,558.2L1133.65,570.4L1133.9,594.1L1134.15,563L1134.4,552.8L1134.65,567.4L1134.9,592.4L1135.15,562.7L1135.4,561.8L1135.65,579.8L1135.9,557.1L1136.15,599.8L1136.4,593L1136.65,578.2L1136.9,572.2L1137.15,556.7L1137.4,555.7L1137.65,584.6L1137.9,554.2L1138.15,544.8L1138.4,557.1L1138.65,573.9L1138.9,578.4L1139.15,594.8L1139.4,625.7L1139.65,625.7L1139.9,625.7L1140.15,623L1140.4,608.2L1140.65,584.9L1140.9,573L1141.15,564.4L1141.4,579.8L1141.65,576.4L1141.9,563L1142.15,545.5L1142.4,600.3L1142.65,588.9L1142.9,574.8L1143.15,587.7L1143.4,579.8L1143.65,570.1L1143.9,583.8L1144.15,556.1L1144.4,557.4L1144.65,555.9L1144.9,560.1L1145.15,554.2L1145.4,617L1145.65,552.3L1145.9,581.2L1146.15,528.2L1146.4,575.8L1146.65,557.7L1146.9,587.9L1147.15,582L1147.4,557.9L1147.65,554.1L1147.9,533.9L1148.15,545.1L1148.4,507.6L1148.65,524.7L1148.9,583.4L1149.15,531.7L1149.4,569.8L1149.65,550.2L1149.9,556.7L1150.15,539.4L1150.4,540.3L1150.65,544.9L1150.9,562.1L1151.15,586.1L1151.4,553.4L1151.65,555L1151.9,553.7L1152.15,544.8L1152.4,521.5L1152.65,535.5L1152.9,546.8L1153.15,563.3L1153.4,575.3L1153.65,528.7L1153.9,524.7L1154.15,553.5L1154.4,580.6L1154.65,560.1L1154.9,543.4L1155.15,546.9L1155.4,561.7L1155.65,550.9L1155.9,558.3L1156.15,560.9L1156.4,530.6L1156.65,541.7L1156.9,548.7L1157.15,562L1157.4,531L1157.65,577.3L1157.9,550L1158.15,572.9L1158.4,590.5L1158.65,562.7L1158.9,590.2L1159.15,560.4L1159.4,579.3L1159.65,555.7L1159.9,564.2L1160.15,582.4L1160.4,563.5L1160.65,569.5L1160.9,530.8L1161.15,531.9L1161.4,542.7L1161.65,540.8L1161.9,514.7L1162.15,551L1162.4,552.4L1162.65,528.2L1162.9,544.5L1163.15,570.6L1163.4,528.1L1163.65,551.7L1163.9,530.4L1164.15,528L1164.4,561.2L1164.65,554L1164.9,544.9L1165.15,576.4L1165.4,571.4L1165.65,552.4L1165.9,555.1L1166.15,570.7L1166.4,556.9L1166.65,548.5L1166.9,567.1L1167.15,568.9L1167.4,558.2L1167.65,574L1167.9,570.5L1168.15,562.5L1168.4,589.5L1168.65,566.1L1168.9,547.2L1169.15,573.9L1169.4,536.7L1169.65,550.6L1169.9,533.3L1170.15,557.1L1170.4,545.1L1170.65,557.2L1170.9,574.3L1171.15,545.8L1171.4,568.3L1171.65,546.4L1171.9,573L1172.15,555.6L1172.4,560.7L1172.65,534.4L1172.9,560.9L1173.15,510.7L1173.4,546.5L1173.65,529.5L1173.9,562.2L1174.15,538.8L1174.4,539.6L1174.65,543.5L1174.9,550.6L1175.15,530.8L1175.4,578.5L1175.65,542L1175.9,564.5L1176.15,545.9L1176.4,540.1L1176.65,548.8L1176.9,559.6L1177.15,571.1L1177.4,580.1L1177.65,567.3L1177.9,547.4L1178.15,581L1178.4,511.3L1178.65,556.5L1178.9,568.7L1179.15,537.6L1179.4,536.5L1179.65,548.2L1179.9,568.2L1180.15,553.9L1180.4,535.2L1180.65,541.8L1180.9,588.9L1181.15,541.1L1181.4,525L1181.65,566.7L1181.9,587.1L1182.15,567.6L1182.4,552.5L1182.65,557.5L1182.9,557.5L1183.15,606.8L1183.4,566.1L1183.65,566.7L1183.9,555.5L1184.15,534.6L1184.4,567.8L1184.65,535L1184.9,530.6L1185.15,536.7L1185.4,562.9L1185.65,530.8L1185.9,560.9L1186.15,557.5L1186.4,579.8L1186.65,570.3L1186.9,569L1187.15,529.6L1187.4,547.1L1187.65,547.9L1187.9,559.1L1188.15,570L1188.4,569.7L1188.65,558.8L1188.9,529L1189.15,556.1L1189.4,517.1L1189.65,542.3L1189.9,558.1L1190.15,529.4L1190.4,552.1L1190.65,534.1L1190.9,560.1L1191.15,526.1L1191.4,543.8L1191.65,547L1191.9,534.2L1192.15,559.5L1192.4,586.4L1192.65,564.6L1192.9,534.4L1193.15,523.4L1193.4,573.3L1193.65,540.9L1193.9,539.6L1194.15,573L1194.4,579.4L1194.65,519.2L1194.9,542.4L1195.15,555.1L1195.4,540.1L1195.65,577.7L1195.9,534.9L1196.15,551.1L1196.4,554.9L1196.65,530.1L1196.9,548.9L1197.15,548.6L1197.4,557.1L1197.65,562.9L1197.9,551.1L1198.15,523.4L1198.4,583.2L1198.65,567.9L1198.9,559.6L1199.15,538.2L1199.4,560.9L1199.65,538.8L1199.9,586.1L1200.15,567.5L1200.4,536.9L1200.65,590.5L1200.9,544.1L1201.15,525.7L1201.4,536.5L1201.65,535.3L1201.9,563.3L1202.15,558.4L1202.4,530.5L1202.65,542.3L1202.9,517.2L1203.15,540.2L1203.4,544.5L1203.65,546.4L1203.9,519.8L1204.15,524L1204.4,542.1L1204.65,513L1204.9,530.7L1205.15,500.4L1205.4,529L1205.65,509.5L1205.9,515.1L1206.15,513L1206.4,572L1206.65,554.3L1206.9,539.4L1207.15,539.7L1207.4,537.8L1207.65,526.2L1207.9,556L1208.15,565.5L1208.4,568L1208.65,524.5L1208.9,528.2L1209.15,552L1209.4,544.6L1209.65,521L1209.9,549.5L1210.15,531.2L1210.4,529.3L1210.65,538.8L1210.9,528.7L1211.15,523.2L1211.4,549.7L1211.65,572.4L1211.9,545.3L1212.15,569.1L1212.4,572.7L1212.65,530.3L1212.9,560.3L1213.15,550.7L1213.4,539.7L1213.65,558.5L1213.9,531.5L1214.15,508.5L1214.4,556.9L1214.65,542.5L1214.9,587.6L1215.15,557.5L1215.4,511.5L1215.65,543L1215.9,549.6L1216.15,532.9L1216.4,546.5L1216.65,515.2L1216.9,543.2L1217.15,552.3L1217.4,545.9L1217.65,586.7L1217.9,532.6L1218.15,530.6L1218.4,573L1218.65,588.1L1218.9,550.7L1219.15,536.4L1219.4,513L1219.65,555.5L1219.9,554.1L1220.15,540.5L1220.4,516.5L1220.65,555.4L1220.9,545.5L1221.15,551.5L1221.4,521.5L1221.65,510.8L1221.9,500L1222.15,507.4L1222.4,519.8L1222.65,545.4L1222.9,526.2L1223.15,512.1L1223.4,519.6L1223.65,570.5L1223.9,538L1224.15,540.3L1224.4,515L1224.65,527.1L1224.9,538.8L1225.15,518.9L1225.4,523.4L1225.65,541.7L1225.9,510.8L1226.15,528L1226.4,531.6L1226.65,546.1L1226.9,526.4L1227.15,519.2L1227.4,567.6L1227.65,540.3L1227.9,533L1228.15,518.2L1228.4,549.5L1228.65,490.9L1228.9,528.7L1229.15,534L1229.4,509.2L1229.65,475.7L1229.9,479.8L1230.15,493.4L1230.4,488.7L1230.65,502.1L1230.9,515L1231.15,538.6L1231.4,516.8L1231.65,472.9L1231.9,525.6L1232.15,518.1L1232.4,558.9L1232.65,521.7L1232.9,516.2L1233.15,529.9L1233.4,525L1233.65,540.1L1233.9,507.8L1234.15,521.8L1234.4,543.5L1234.65,528.5L1234.9,517.3L1235.15,518.7L1235.4,477.8L1235.65,524.1L1235.9,520.5L1236.15,537.6L1236.4,512L1236.65,537L1236.9,511.4L1237.15,526.3L1237.4,518L1237.65,502.2L1237.9,472.9L1238.15,498.2L1238.4,472.9L1238.65,505.8L1238.9,537.8L1239.15,525.3L1239.4,534.8L1239.65,515.4L1239.9,501.2L1240.15,486.7L1240.4,532.4L1240.65,533.6L1240.9,536.2L1241.15,525L1241.4,539.9L1241.65,495.3L1241.9,529L1242.15,532.3L1242.4,582.8L1242.65,526.8L1242.9,548.7L1243.15,489.2L1243.4,521.1L1243.65,539.7L1243.9,524.5L1244.15,500.4L1244.4,521.2L1244.65,522.3L1244.9,570.2L1245.15,552L1245.4,561.3L1245.65,532.4L1245.9,567.3L1246.15,572.8L1246.4,550.6L1246.65,546.9L1246.9,534.5L1247.15,516.9L1247.4,523.1L1247.65,543.8L1247.9,543L1248.15,580.3L1248.4,526.5L1248.65,563.2L1248.9,556.2L1249.15,550.3L1249.4,567.7L1249.65,555L1249.9,534L1250.15,526.8L1250.4,517.6L1250.65,536.4L1250.9,561.9L1251.15,544.9L1251.4,572.2L1251.65,597.6L1251.9,546L1252.15,564.2L1252.4,564.7L1252.65,576L1252.9,523.3L1253.15,556.1L1253.4,508.1L1253.65,556.5L1253.9,554.3L1254.15,555.9L1254.4,533.2L1254.65,594.4L1254.9,566.2L1255.15,573.4L1255.4,554.5L1255.65,572.9L1255.9,562.9L1256.15,574.7L1256.4,580.6L1256.65,557.5L1256.9,547.3L1257.15,560.8L1257.4,591.8L1257.65,582.2L1257.9,555.2L1258.15,576.5L1258.4,556.1L1258.65,570.1L1258.9,545.4L1259.15,590.5L1259.4,569.5L1259.65,558.7L1259.9,565.8L1260.15,599.1L1260.4,591.4L1260.65,585.3L1260.9,598.9L1261.15,587.9L1261.4,589.5L1261.65,587.6L1261.9,588.6L1262.15,596.5L1262.4,568.9L1262.65,565.4L1262.9,587.1L1263.15,561.8L1263.4,563.8L1263.65,592.9L1263.9,555.4L1264.15,560.8L1264.4,572.2L1264.65,595.2L1264.9,583.1L1265.15,599.3L1265.4,576.5L1265.65,595.4L1265.9,611.3L1266.15,611.7L1266.4,601.9L1266.65,608.9L1266.9,583.6L1267.15,578.7L1267.4,590.1L1267.65,599.8L1267.9,598.1L1268.15,603.4L1268.4,609.3L1268.65,586L1268.9,605.4L1269.15,585.4L1269.4,613.8L1269.65,618L1269.9,590.7L1270.15,547.1L1270.4,595.9L1270.65,611.7L1270.9,571L1271.15,596.7L1271.4,603.9L1271.65,619.5L1271.9,585.3L1272.15,607.1L1272.4,614.7L1272.65,605.2L1272.9,580.2L1273.15,585.7L1273.4,620.8L1273.65,625.7L1273.9,573L1274.15,600L1274.4,564.8L1274.65,595L1274.9,593L1275.15,602.3L1275.4,600.3L1275.65,595.7L1275.9,598.5L1276.15,569.7L1276.4,600.9L1276.65,603L1276.9,574.7L1277.15,611.7L1277.4,599.4L1277.65,592.6L1277.9,620.1L1278.15,584.4L1278.4,593.4L1278.65,575.4L1278.9,585.1L1279.15,611.4L1279.4,614L1279.65,602.1L1279.9,591.9L1280.15,589.4L1280.4,589.9L1280.65,574.4L1280.9,605.7L1281.15,593.5L1281.4,555L1281.65,581.7L1281.9,579.9L1282.15,565.5L1282.4,600.6L1282.65,570.4L1282.9,577.6L1283.15,588.1L1283.4,569.9L1283.65,546.7L1283.9,566.5L1284.15,573.7L1284.4,541.4L1284.65,558.6L1284.9,532.4L1285.15,543.4L1285.4,563L1285.65,575.9L1285.9,569.4L1286.15,543L1286.4,584.9L1286.65,518.2L1286.9,605.9L1287.15,552.2L1287.4,540.7L1287.65,576.4L1287.9,600.4L1288.15,570.9L1288.4,569.1L1288.65,545.5L1288.9,562.1L1289.15,557.2L1289.4,563.9L1289.65,534.4L1289.9,569.5L1290.15,564.1L1290.4,556L1290.65,509.3L1290.9,615.2L1291.15,600.7L1291.4,571.9L1291.65,577.7L1291.9,562.2L1292.15,546.6L1292.4,548.1L1292.65,564.4L1292.9,572.7L1293.15,563.2L1293.4,594.1L1293.65,523L1293.9,536.5L1294.15,560.8L1294.4,545.6L1294.65,567.1L1294.9,558.4L1295.15,554.9L1295.4,578.8L1295.65,556.8L1295.9,568.8L1296.15,548.2L1296.4,576.2L1296.65,568L1296.9,546.9L1297.15,529.1L1297.4,546.5L1297.65,550.2L1297.9,582.4L1298.15,566.6L1298.4,553.1L1298.65,557L1298.9,554.2L1299.15,534.9L1299.4,530.6L1299.65,564.8L1299.9,570.2L1300.15,584.6L1300.4,553.3L1300.65,543.5L1300.9,531.4L1301.15,567.6L1301.4,562.8L1301.65,569.6L1301.9,513.6L1302.15,523.4L1302.4,561.8L1302.65,549L1302.9,567.5L1303.15,560.6L1303.4,513.3L1303.65,558.2L1303.9,556.9L1304.15,553.1L1304.4,577.8L1304.65,582.4L1304.9,590.6L1305.15,534.2L1305.4,567.1L1305.65,563.9L1305.9,536L1306.15,572.9L1306.4,561L1306.65,567.2L1306.9,545.3L1307.15,557.1L1307.4,584L1307.65,533.8L1307.9,528.4L1308.15,546.1L1308.4,557.3L1308.65,554.1L1308.9,573.5L1309.15,558.4L1309.4,532.6L1309.65,546.6L1309.9,608.9L1310.15,576.7L1310.4,556.2L1310.65,527.2L1310.9,541.7L1311.15,549.4L1311.4,532.6L1311.65,579.9L1311.9,540.5L1312.15,552.5L1312.4,566.8L1312.65,535.3L1312.9,568.4L1313.15,545L1313.4,524.7L1313.65,566.1L1313.9,518.9L1314.15,516.1L1314.4,526.2L1314.65,544.6L1314.9,544.1L1315.15,543.3L1315.4,537.7L1315.65,554.4L1315.9,531.2L1316.15,509.4L1316.4,560.9L1316.65,505L1316.9,554.3L1317.15,549.6L1317.4,541.4L1317.65,533.8L1317.9,528.7L1318.15,501.6L1318.4,521.3L1318.65,508.7L1318.9,539.5L1319.15,521.8L1319.4,562.7L1319.65,551.2L1319.9,484.3L1320.15,524.1L1320.4,499.1L1320.65,479.5L1320.9,472.9L1321.15,510.5L1321.4,494.6L1321.65,472.9L1321.9,503.5L1322.15,534.5L1322.4,527.7L1322.65,537.4L1322.9,524.9L1323.15,527L1323.4,530.2L1323.65,545L1323.9,564.8L1324.15,525.1L1324.4,530.9L1324.65,526.2L1324.9,516.3L1325.15,542.2L1325.4,517.3L1325.65,543.1L1325.9,523.1L1326.15,530L1326.4,557.7L1326.65,526.3L1326.9,536.5L1327.15,544.4L1327.4,549.5L1327.65,547.8L1327.9,563.6L1328.15,573.4L1328.4,552.3L1328.65,537.1L1328.9,555.5L1329.15,539.9L1329.4,581.8L1329.65,524.5L1329.9,550.7L1330.15,560.9L1330.4,555.7L1330.65,550.8L1330.9,556.5L1331.15,551.7L1331.4,582.4L1331.65,549L1331.9,563.6L1332.15,581.3L1332.4,546.6L1332.65,562.1L1332.9,534.4L1333.15,574.4L1333.4,539.6L1333.65,554.3L1333.9,579.2L1334.15,549.4L1334.4,556.4L1334.65,549.5L1334.9,578L1335.15,612.6L1335.4,577L1335.65,567.6L1335.9,553.7L1336.15,549.4L1336.4,548.5L1336.65,561.2L1336.9,569.6L1337.15,581.2L1337.4,564.7L1337.65,582.6L1337.9,570.5L1338.15,581.9L1338.4,562.6L1338.65,582.6L1338.9,587.6L1339.15,597.3L1339.4,566.1L1339.65,586.1L1339.9,523.5L1340.15,595.4L1340.4,572.2L1340.65,583.6L1340.9,599.4L1341.15,579.5L1341.4,570.4L1341.65,567.2L1341.9,584L1342.15,598.6L1342.4,592.4L1342.65,589.5L1342.9,546.3L1343.15,601.4L1343.4,579.9L1343.65,536.4L1343.9,595.5L1344.15,544.3L1344.4,546.8L1344.65,556.2L1344.9,560.8L1345.15,600.2L1345.4,569.6L1345.65,570.6L1345.9,542.9L1346.15,542.8L1346.4,584.2L1346.65,605.8L1346.9,574.6L1347.15,523.7L1347.4,555.7L1347.65,555.9L1347.9,542.2L1348.15,559.1L1348.4,547.7L1348.65,568.3L1348.9,566.9L1349.15,542.7L1349.4,547.9L1349.65,538.2L1349.9,549.3L1350.15,532.5L1350.4,542L1350.65,542.9L1350.9,528.9L1351.15,546.1L1351.4,568.6L1351.65,562.5L1351.9,551.2L1352.15,527.2L1352.4,556L1352.65,550.4L1352.9,521.8L1353.15,517.2L1353.4,568.9L1353.65,564L1353.9,545.7L1354.15,540.3L1354.4,552L1354.65,567.9L1354.9,500.2L1355.15,528L1355.4,495.5L1355.65,483.7L1355.9,472.9L1356.15,484.6L1356.4,472.9L1356.65,484.9L1356.9,512.5L1357.15,545.9L1357.4,562.2L1357.65,541.7L1357.9,532L1358.15,526.2L1358.4,542L1358.65,605.7L1358.9,553.8L1359.15,557.2L1359.4,561.9L1359.65,571.7L1359.9,539.7L1360.15,563.7L1360.4,549.5L1360.65,541.1L1360.9,565.6L1361.15,556.8L1361.4,563.1L1361.65,530.5L1361.9,564.8L1362.15,579.2L1362.4,534.1L1362.65,595.2L1362.9,525.2L1363.15,542.4L1363.4,543.4L1363.65,542.8L1363.9,548.8L1364.15,530.2L1364.4,596L1364.65,557.3L1364.9,573L1365.15,586.7L1365.4,574.6L1365.65,558.9L1365.9,548.4L1366.15,567.4L1366.4,570L1366.65,526.7L1366.9,541.2L1367.15,568.7L1367.4,590L1367.65,550.9L1367.9,538.1L1368.15,563.2L1368.4,555.7L1368.65,537L1368.9,581.3L1369.15,551.5L1369.4,558.1L1369.65,572.4L1369.9,550.3L1370.15,539.7L1370.4,560L1370.65,563.9L1370.9,530.3L1371.15,550.8L1371.4,569.6L1371.65,548.7L1371.9,541L1372.15,556.9L1372.4,586.7L1372.65,564L1372.9,573.6L1373.15,525.7L1373.4,567.3L1373.65,521.9L1373.9,552.8L1374.15,552L1374.4,548.8L1374.65,524.4L1374.9,572.4L1375.15,560.8L1375.4,558.8L1375.65,546.9L1375.9,563.8L1376.15,550.9L1376.4,537.8L1376.65,560.5L1376.9,530.1L1377.15,556L1377.4,556L1377.65,541.7L1377.9,558.8L1378.15,544.9L1378.4,563.8L1378.65,574.5L1378.9,547.4L1379.15,540.2L1379.4,554.3L1379.65,537.8L1379.9,560.7L1380.15,515.4L1380.4,557.9L1380.65,543.9L1380.9,554L1381.15,555.8L1381.4,568.7L1381.65,528.4L1381.9,556L1382.15,564L1382.4,532.8L1382.65,534.3L1382.9,564.9L1383.15,540.7L1383.4,532.1L1383.65,548.4L1383.9,574.5L1384.15,553.2L1384.4,565L1384.65,573.8L1384.9,548.1L1385.15,540.5L1385.4,592.2L1385.65,559.2L1385.9,567.4L1386.15,545.4L1386.4,562.7L1386.65,576.7L1386.9,527.5L1387.15,555.5L1387.4,528.6L1387.65,548.6L1387.9,568.4L1388.15,577.6L1388.4,578.6L1388.65,558.1L1388.9,552L1389.15,535.4L1389.4,589.9L1389.65,579.9L1389.9,577L1390.15,564.9L1390.4,561.3L1390.65,555.3L1390.9,545.4L1391.15,576.7L1391.4,550.7L1391.65,574.1L1391.9,514.1L1392.15,534.4L1392.4,554.6L1392.65,557.4L1392.9,557L1393.15,527.5L1393.4,557.3L1393.65,554.2L1393.9,567.5L1394.15,541.8L1394.4,539.8L1394.65,569.7L1394.9,540.1L1395.15,554.3L1395.4,535.8L1395.65,533.7L1395.9,560.3L1396.15,540.7L1396.4,531.9L1396.65,572.8L1396.9,550.9L1397.15,570.1L1397.4,540.6L1397.65,581.2L1397.9,535.9L1398.15,557.6L1398.4,539.8L1398.65,514.9L1398.9,551.9L1399.15,568.6L1399.4,571.7L1399.65,538.6L1399.9,574.8L1400.15,577.4L1400.4,544.3L1400.65,526.8L1400.9,543.7L1401.15,515.1L1401.4,525.8L1401.65,533.2L1401.9,538.4L1402.15,539L1402.4,537.3L1402.65,526.3L1402.9,541.4L1403.15,569.8L1403.4,573.6L1403.65,561.2L1403.9,541.5L1404.15,568.8L1404.4,545L1404.65,535.6L1404.9,492.9L1405.15,555.5L1405.4,555.2L1405.65,560.7L1405.9,558.9L1406.15,544L1406.4,509.9L1406.65,593.2L1406.9,535.4L1407.15,530.2L1407.4,509.8L1407.65,510.9L1407.9,527.4L1408.15,563.1L1408.4,547.4L1408.65,538.9L1408.9,546.3L1409.15,519L1409.4,541.1L1409.65,551.9L1409.9,532.5L1410.15,516.6L1410.4,541L1410.65,549.3L1410.9,545L1411.15,529L1411.4,524.5L1411.65,540.9L1411.9,540.3L1412.15,507.1L1412.4,472.9L1412.65,472.9L1412.9,472.9L1413.15,490.8L1413.4,489.5L1413.65,510L1413.9,527.7L1414.15,533.6L1414.4,525.3L1414.65,516.5L1414.9,501.2L1415.15,500.5L1415.4,529.1L1415.65,528.9L1415.9,507L1416.15,511.8L1416.4,533.3L1416.65,524.7L1416.9,558.7L1417.15,522.5L1417.4,549.9L1417.65,524.3L1417.9,582L1418.15,531.5L1418.4,554.7L1418.65,543.6L1418.9,533.3L1419.15,548.1L1419.4,508.1L1419.65,520.5L1419.9,545.8L1420.15,508.8L1420.4,540.3L1420.65,536L1420.9,508.2L1421.15,505.9L1421.4,539.2L1421.65,526.3L1421.9,541.7L1422.15,522.2L1422.4,544.7L1422.65,519.7L1422.9,570.1L1423.15,534.1L1423.4,519.9L1423.65,537.8L1423.9,571.3L1424.15,537.8L1424.4,561.5L1424.65,550.8L1424.9,540.9L1425.15,511.2L1425.4,546L1425.65,564.2L1425.9,512.1L1426.15,549L1426.4,555.6L1426.65,548.9L1426.9,549.8L1427.15,522.1L1427.4,583.6L1427.65,561.3L1427.9,532.8L1428.15,544.1L1428.4,549.1L1428.65,581.6L1428.9,531.9L1429.15,557.5L1429.4,523.3L1429.65,589.2L1429.9,542.3L1430.15,538.6L1430.4,519.7L1430.65,547L1430.9,560.5L1431.15,544.9L1431.4,555.7L1431.65,547.1L1431.9,585.6L1432.15,550.4L1432.4,548.4L1432.65,548.3L1432.9,552.4L1433.15,520.8L1433.4,518.8L1433.65,535.3L1433.9,553.4L1434.15,530.6L1434.4,553.7L1434.65,563.7L1434.9,567.6L1435.15,563.3L1435.4,533L1435.65,536.7L1435.9,539.3L1436.15,555.1L1436.4,572.8L1436.65,557.9L1436.9,564.9L1437.15,577.1L1437.4,549.4L1437.65,598.3L1437.9,596.9L1438.15,595.8L1438.4,586.8L1438.65,581.2L1438.9,567.5L1439.15,567.6L1439.4,593.3L1439.65,597.6L1439.9,588L1440.15,573.1L1440.4,585.8L1440.65,584.1L1440.9,581.3L1441.15,593.5L1441.4,603.1L1441.65,625.7L1441.9,619.6L1442.15,625.7L1442.4,625.7L1442.65,625.7L1442.9,612.3"/></g>
<line x1="114.4" y1="553.5" x2="1509.1" y2="553.5" stroke="#000" stroke-opacity="0.56" stroke-width="1.05"/>
</g>
<rect x="114.4" y="43.0" width="1394.6999999999998" height="422.0" fill="none" stroke="#000" stroke-width="1.67"/>
<rect x="114.4" y="478.9" width="1394.6999999999998" height="140.80000000000007" fill="none" stroke="#000" stroke-width="1.67"/>
<path d="M245.9,465.0v7.3M245.9,619.7v7.3M438.9,465.0v7.3M438.9,619.7v7.3M631.9,465.0v7.3M631.9,619.7v7.3M824.9,465.0v7.3M824.9,619.7v7.3M1017.9,465.0v7.3M1017.9,619.7v7.3M1210.9,465.0v7.3M1210.9,619.7v7.3M1403.9,465.0v7.3M1403.9,619.7v7.3M114.4,444.9h-7.3M114.4,351.3h-7.3M114.4,257.8h-7.3M114.4,164.2h-7.3M114.4,70.7h-7.3M114.4,592.1h-7.3M114.4,553.1h-7.3M114.4,514.1h-7.3" stroke="#000" stroke-width="1.67" fill="none"/>
<text x="245.9" y="650.2" font-size="16.2" text-anchor="middle" textLength="40.6" lengthAdjust="spacingAndGlyphs">3310</text>
<text x="438.9" y="650.2" font-size="16.2" text-anchor="middle" textLength="40.6" lengthAdjust="spacingAndGlyphs">3320</text>
<text x="631.9" y="650.2" font-size="16.2" text-anchor="middle" textLength="40.6" lengthAdjust="spacingAndGlyphs">3330</text>
<text x="824.9" y="650.2" font-size="16.2" text-anchor="middle" textLength="40.6" lengthAdjust="spacingAndGlyphs">3340</text>
<text x="1017.9" y="650.2" font-size="16.2" text-anchor="middle" textLength="40.6" lengthAdjust="spacingAndGlyphs">3350</text>
<text x="1210.9" y="650.2" font-size="16.2" text-anchor="middle" textLength="40.6" lengthAdjust="spacingAndGlyphs">3360</text>
<text x="1403.9" y="650.2" font-size="16.2" text-anchor="middle" textLength="40.6" lengthAdjust="spacingAndGlyphs">3370</text>
<text x="100.0" y="451.9" font-size="16.2" text-anchor="end" textLength="9.2" lengthAdjust="spacingAndGlyphs">0</text>
<text x="100.0" y="358.3" font-size="16.2" text-anchor="end" textLength="51.0" lengthAdjust="spacingAndGlyphs">20000</text>
<text x="100.0" y="264.8" font-size="16.2" text-anchor="end" textLength="51.0" lengthAdjust="spacingAndGlyphs">40000</text>
<text x="100.0" y="171.2" font-size="16.2" text-anchor="end" textLength="51.0" lengthAdjust="spacingAndGlyphs">60000</text>
<text x="100.0" y="77.7" font-size="16.2" text-anchor="end" textLength="51.0" lengthAdjust="spacingAndGlyphs">80000</text>
<text x="100.0" y="599.1" font-size="16.2" text-anchor="end" textLength="55.0" lengthAdjust="spacingAndGlyphs">−1000</text>
<text x="100.0" y="560.1" font-size="16.2" text-anchor="end" textLength="9.2" lengthAdjust="spacingAndGlyphs">0</text>
<text x="100.0" y="521.1" font-size="16.2" text-anchor="end" textLength="40.6" lengthAdjust="spacingAndGlyphs">1000</text>
<text x="811.7" y="31.0" font-size="20.6" text-anchor="middle" textLength="528" lengthAdjust="spacingAndGlyphs">WRAY_16-137_L3340_2022-05-09_04014&#160;&#160;order 05</text>
<text x="811.7" y="678.0" font-size="20.6" text-anchor="middle" textLength="177" lengthAdjust="spacingAndGlyphs">wavelength [nm]</text>
<text transform="translate(32.8,255.7) rotate(-90)" font-size="20.6" text-anchor="middle" textLength="109.8" lengthAdjust="spacingAndGlyphs">flux [ADU]</text>
<text transform="translate(32.6,553.0) rotate(-90)" font-size="20.6" text-anchor="middle" textLength="84.5" lengthAdjust="spacingAndGlyphs">residual</text>
<rect x="1325.8" y="50.8" width="175.6" height="83.6" rx="3.4" fill="#fff" fill-opacity="0.8" stroke="#ccc" stroke-width="1.67"/>
<line x1="1332.2" y1="65.9" x2="1367.0" y2="65.9" stroke="#1f77b4" stroke-opacity="1" stroke-width="1.9"/>
<text x="1379.6" y="71.9" font-size="16.2" text-anchor="start" textLength="10.6" lengthAdjust="spacingAndGlyphs">A</text>
<line x1="1332.2" y1="92.1" x2="1367.0" y2="92.1" stroke="#ff7f0e" stroke-opacity="1" stroke-width="1.9"/>
<text x="1379.6" y="98.1" font-size="16.2" text-anchor="start" textLength="10.2" lengthAdjust="spacingAndGlyphs">B</text>
<line x1="1332.2" y1="118.0" x2="1367.0" y2="118.0" stroke="#000" stroke-opacity="0.67" stroke-width="1.9"/>
<text x="1379.6" y="124.0" font-size="16.2" text-anchor="start" textLength="115.6" lengthAdjust="spacingAndGlyphs">telluric model</text>
</svg>
</body></html>
